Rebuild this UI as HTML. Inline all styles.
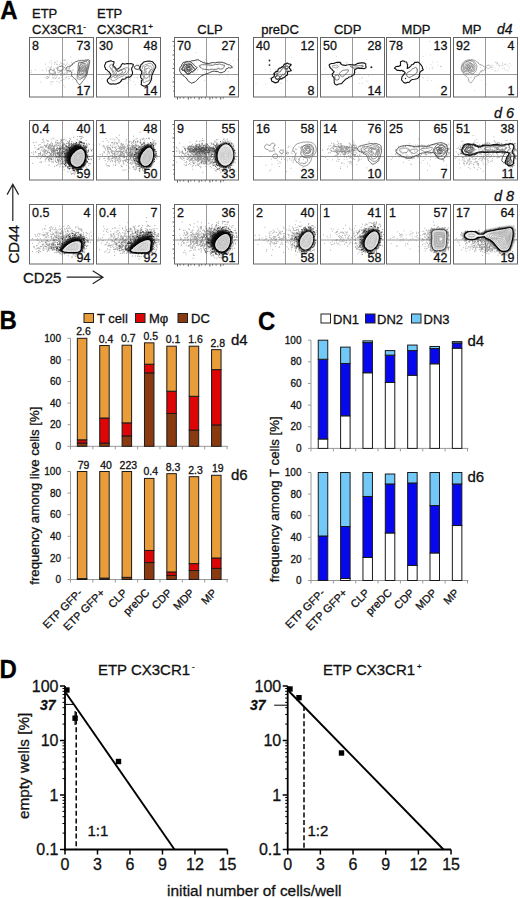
<!DOCTYPE html>
<html><head><meta charset="utf-8"><style>
html,body{margin:0;padding:0;background:#fff;}
svg{display:block;font-family:"Liberation Sans", sans-serif;}
text{stroke:#111;stroke-width:0.3px;}
</style></head><body>
<svg width="520" height="898" viewBox="0 0 520 898">
<defs><filter id="fz" x="-20%" y="-20%" width="140%" height="140%"><feGaussianBlur stdDeviation="0.9"/></filter></defs>
<rect width="520" height="898" fill="#fff"/>
<text transform="translate(0.3,18.8) scale(1,1.04)" font-size="24" font-weight="bold" fill="#000">A</text>
<text x="32" y="18" font-size="13" text-anchor="start" font-weight="normal" font-style="normal" fill="#111" >ETP</text>
<text x="32" y="33.5" font-size="13" text-anchor="start" font-weight="normal" font-style="normal" fill="#111" >CX3CR1<tspan font-size="8" dy="-5">-</tspan></text>
<text x="97" y="18" font-size="13" text-anchor="start" font-weight="normal" font-style="normal" fill="#111" >ETP</text>
<text x="97" y="33.5" font-size="13" text-anchor="start" font-weight="normal" font-style="normal" fill="#111" >CX3CR1<tspan font-size="8" dy="-5">+</tspan></text>
<text x="210" y="34" font-size="13" text-anchor="middle" font-weight="normal" font-style="normal" fill="#111" >CLP</text>
<text x="280" y="34" font-size="13" text-anchor="middle" font-weight="normal" font-style="normal" fill="#111" >preDC</text>
<text x="347.7" y="34" font-size="13" text-anchor="middle" font-weight="normal" font-style="normal" fill="#111" >CDP</text>
<text x="416" y="34" font-size="13" text-anchor="middle" font-weight="normal" font-style="normal" fill="#111" >MDP</text>
<text x="471.7" y="34" font-size="13" text-anchor="middle" font-weight="normal" font-style="normal" fill="#111" >MP</text>
<text x="497" y="34" font-size="14" text-anchor="start" font-weight="normal" font-style="italic" fill="#111" >d4</text>
<text x="494" y="118" font-size="14.5" text-anchor="start" font-weight="normal" font-style="italic" fill="#111" >d 6</text>
<text x="494" y="201" font-size="14.5" text-anchor="start" font-weight="normal" font-style="italic" fill="#111" >d 8</text>
<line x1="62.5" y1="37.5" x2="62.5" y2="97.0" stroke="#9a9a9a" stroke-width="1"/>
<line x1="29.5" y1="74.5" x2="93.5" y2="74.5" stroke="#9a9a9a" stroke-width="1"/>
<g transform="translate(29.5,37.5)">
<path d="M42.9 42.1h0.9M30.7 28.9h0.9M19.1 33.6h0.9M19.8 24.8h0.9M32.0 34.3h0.9M35.5 28.0h0.9M30.1 33.1h0.9M14.9 36.7h0.9M33.2 47.8h0.9M32.0 32.6h0.9M42.3 34.6h0.9M39.1 31.3h0.9M32.2 39.6h0.9M37.0 34.2h0.9M19.2 36.1h0.9M30.8 37.8h0.9M32.2 40.0h0.9M29.5 34.7h0.9M36.7 26.9h0.9M26.0 30.4h0.9M49.8 32.9h0.9M36.5 37.2h0.9M27.2 24.1h0.9M39.6 31.0h0.9M37.2 25.6h0.9M25.6 41.0h0.9M44.3 25.6h0.9M16.7 33.2h0.9M37.3 34.4h0.9M33.0 27.5h0.9M35.9 40.2h0.9M25.6 24.8h0.9M22.4 38.0h0.9M12.7 32.9h0.9M20.1 32.7h0.9M27.6 33.5h0.9M45.0 36.0h0.9M43.3 32.6h0.9M25.2 35.7h0.9M1.6 33.2h0.9M31.6 26.0h0.9M34.6 30.1h0.9M5.4 32.2h0.9M20.2 30.3h0.9M28.5 41.0h0.9M31.0 33.3h0.9M33.9 22.6h0.9M42.4 27.0h0.9M34.4 26.7h0.9M20.2 31.1h0.9M49.0 37.6h0.9M24.0 31.7h0.9M18.5 33.2h0.9M24.3 37.8h0.9M16.4 31.4h0.9M21.6 29.1h0.9M37.1 34.2h0.9M35.9 40.6h0.9M41.5 25.2h0.9M35.4 22.9h0.9M29.4 45.0h0.9M28.1 31.2h0.9M31.7 33.6h0.9M30.3 28.9h0.9M40.8 38.8h0.9M27.9 35.3h0.9M36.6 39.6h0.9M33.9 37.6h0.9M27.4 27.0h0.9M25.0 39.6h0.9M39.8 34.3h0.9M24.3 35.3h0.9M46.6 41.6h0.9M23.2 33.2h0.9M15.5 26.6h0.9M31.9 33.6h0.9M39.6 41.1h0.9M38.3 41.4h0.9M24.5 26.7h0.9M35.0 49.5h0.9M33.6 26.5h0.9M32.4 42.0h0.9M19.7 38.3h0.9M23.9 41.1h0.9M37.9 35.3h0.9M50.0 31.0h0.9M23.1 44.6h0.9M21.2 46.6h0.9M29.6 27.2h0.9M30.0 34.2h0.9M32.0 32.3h0.9M40.8 19.5h0.9M24.5 31.9h0.9M48.2 21.5h0.9M26.6 26.6h0.9M23.4 37.3h0.9M34.1 42.1h0.9M24.0 35.1h0.9M41.7 38.9h0.9M26.6 40.2h0.9M20.8 44.3h0.9M31.5 32.8h0.9M32.7 38.5h0.9M47.4 32.6h0.9M26.3 37.0h0.9M21.3 23.3h0.9M38.4 31.2h0.9M41.3 27.3h0.9M1.0 35.1h0.9M31.5 43.1h0.9M35.3 35.3h0.9M35.9 31.2h0.9M30.8 25.3h0.9M35.2 28.6h0.9M25.5 37.6h0.9M39.2 27.4h0.9M50.0 29.9h0.9M38.4 39.2h0.9M32.2 34.5h0.9M48.0 38.8h0.9M34.5 22.5h0.9M22.5 40.4h0.9M31.9 27.7h0.9M23.6 31.6h0.9M36.9 35.8h0.9M40.0 28.5h0.9M39.9 30.4h0.9M27.0 43.8h0.9M30.7 32.6h0.9M27.9 31.1h0.9M45.6 41.7h0.9M37.2 34.6h0.9M40.4 33.0h0.9M34.5 35.9h0.9M30.9 43.3h0.9M47.6 41.4h0.9M10.9 44.5h0.9M37.0 30.7h0.9M29.8 40.3h0.9M41.7 38.6h0.9M31.4 33.7h0.9M38.3 32.9h0.9M21.0 29.7h0.9M28.6 35.4h0.9M52.6 25.2h0.9M34.8 32.9h0.9M33.0 41.6h0.9M42.4 32.5h0.9M24.4 25.3h0.9M29.3 40.9h0.9M27.3 37.7h0.9M37.1 35.8h0.9M40.8 32.8h0.9M21.7 26.4h0.9M39.3 31.3h0.9M26.9 38.5h0.9M22.1 44.1h0.9M36.7 30.3h0.9M23.7 39.9h0.9M18.2 29.6h0.9" stroke="#999" stroke-width="0.9" opacity="0.7"/>
<path d="M43.0,27.3L43.2,25.8L44.7,25.4L45.9,24.3L47.7,23.9L49.8,23.0L52.0,22.8L54.7,22.9L57.6,22.3L59.3,22.2L59.8,22.6L60.2,23.7L60.0,25.3L59.8,26.6L59.1,28.0L58.7,29.9L58.4,32.3L58.2,33.4L58.0,35.5L57.5,37.1L57.0,38.3L56.1,39.8L55.6,40.7L54.3,42.5L53.1,43.7L52.2,45.2L51.3,46.3L50.4,47.1L50.2,47.0L49.5,47.1L49.1,46.3L47.9,45.1L47.3,43.6L46.6,42.4L45.7,41.5L44.8,40.9L43.7,40.0L43.2,39.4L42.5,38.5L42.2,38.2L42.1,36.6L42.2,35.9L42.0,34.6L41.3,33.8L40.5,33.5L39.4,33.6L38.6,33.1L38.4,32.8L37.3,33.0L36.9,32.4L36.3,31.6L36.3,31.3L36.5,31.0L37.0,30.2L37.7,29.4L39.0,29.2L39.5,29.5L40.5,28.8L41.6,28.3L41.6,27.7Z" fill="none" stroke="#444" stroke-width="0.75" stroke-linejoin="round" opacity="1"/>
<path d="M57.8,33.4L57.1,35.2L56.8,36.7L56.4,38.2L56.0,38.8L55.2,39.5L53.7,39.4L52.3,40.8L51.0,41.8L49.9,42.1L48.6,41.2L47.6,40.4L47.6,39.1L47.6,37.8L48.2,36.5L48.2,34.9L48.4,33.7L48.8,32.0L48.4,30.5L48.6,28.8L48.8,26.7L49.2,25.0L50.1,24.5L51.5,24.7L52.9,24.5L53.3,24.5L54.7,24.0L55.3,24.1L56.4,23.2L58.0,23.0L58.9,23.4L59.4,24.6L59.4,26.7L59.4,28.9L59.2,30.6L58.4,31.9Z" fill="none" stroke="#555" stroke-width="0.6" stroke-linejoin="round" opacity="1"/>
<path d="M57.0,32.2L57.1,34.0L56.9,35.3L56.6,37.2L55.8,38.3L55.1,38.8L54.0,39.7L53.0,40.6L51.9,40.4L51.5,40.6L50.1,40.2L49.2,39.9L48.4,38.6L48.3,37.8L48.5,36.7L48.2,35.0L48.8,33.8L48.8,32.0L49.6,30.3L49.1,28.8L49.1,27.0L49.2,25.8L50.0,25.3L51.8,25.0L53.3,25.0L54.3,24.8L54.9,24.5L55.1,24.0L56.2,24.2L57.2,24.1L57.6,25.1L58.2,26.2L57.9,27.7L58.3,29.3L58.1,30.2L57.5,31.5Z" fill="none" stroke="#555" stroke-width="0.6" stroke-linejoin="round" opacity="1"/>
<path d="M56.8,33.2L56.7,34.9L56.4,35.9L55.8,36.7L55.7,37.5L55.1,38.4L54.0,38.3L53.4,38.4L52.0,38.5L51.8,38.4L51.2,38.0L50.1,38.0L50.2,37.6L49.6,36.5L49.5,35.1L49.7,33.9L49.6,33.1L49.5,31.9L50.0,30.6L50.1,29.6L50.4,28.2L50.6,27.2L51.1,26.8L51.7,25.5L52.4,25.6L53.3,25.6L54.1,25.7L55.4,26.0L55.7,26.3L56.1,26.0L56.3,26.7L57.0,27.3L57.2,28.2L57.6,29.1L57.4,30.4L57.1,31.9Z" fill="none" stroke="#555" stroke-width="0.6" stroke-linejoin="round" opacity="1"/>
<path d="M56.1,33.0L56.2,33.4L56.0,34.4L56.0,34.6L55.3,35.4L54.4,36.1L53.7,36.2L53.4,36.7L52.4,36.8L52.0,36.8L51.5,37.2L51.0,37.2L50.9,36.6L50.5,35.7L49.9,35.3L49.9,33.8L50.2,33.1L49.8,31.6L50.0,30.4L50.1,29.5L50.6,28.3L50.9,27.4L51.2,27.4L52.1,27.1L52.3,26.7L53.0,26.6L53.7,26.4L54.5,26.3L55.3,26.6L55.6,26.9L56.0,27.7L56.1,28.1L56.4,29.3L56.7,30.1L56.7,31.0L56.3,32.1Z" fill="none" stroke="#555" stroke-width="0.6" stroke-linejoin="round" opacity="1"/>
<path d="M55.9,32.3L55.8,33.2L55.5,33.6L55.1,34.3L54.4,34.6L54.1,35.0L53.5,35.6L53.4,35.9L52.4,35.7L52.1,36.0L52.1,35.9L51.9,35.5L51.5,34.9L51.1,34.3L51.0,33.9L50.9,33.1L50.7,32.3L51.0,31.8L51.0,31.2L51.0,30.0L51.4,29.8L52.1,28.9L52.5,28.3L52.9,27.7L53.2,28.0L53.4,27.7L53.6,27.7L54.1,27.9L54.4,27.9L54.8,28.1L55.3,28.1L55.9,28.6L55.9,29.5L56.2,30.2L56.2,30.9L55.8,31.6Z" fill="none" stroke="#555" stroke-width="0.6" stroke-linejoin="round" opacity="1"/>
<path d="M55.0,32.2L55.0,32.7L54.6,33.2L54.6,33.5L54.5,34.0L53.9,34.0L53.8,34.4L53.4,34.3L53.0,34.0L52.5,34.2L51.8,34.4L51.8,34.1L51.8,33.9L51.6,33.4L51.8,32.8L51.4,32.3L51.9,32.1L52.0,31.9L51.9,31.1L51.9,30.5L52.0,30.3L52.1,29.8L52.6,29.6L52.8,29.4L52.8,29.2L53.6,29.1L53.7,28.9L54.0,28.8L54.5,29.1L54.5,28.9L54.9,29.2L55.1,29.2L55.5,30.2L54.9,30.8L55.4,31.1L55.2,31.5Z" fill="none" stroke="#555" stroke-width="0.6" stroke-linejoin="round" opacity="1"/>
<path d="M54.1,32.0L54.5,32.2L54.3,32.5L53.8,32.5L53.8,32.8L53.6,32.8L53.5,33.0L53.5,33.3L53.1,33.2L53.3,32.9L52.7,32.9L52.8,32.9L52.4,32.8L52.4,32.8L52.4,32.3L52.6,32.3L52.5,32.0L52.7,31.4L52.6,31.3L53.0,31.3L53.0,30.9L52.6,30.6L53.0,30.3L53.5,30.1L53.3,30.1L53.3,29.9L53.5,30.0L54.0,30.1L54.0,30.0L53.9,30.1L54.4,30.0L54.5,30.3L54.6,30.7L54.3,30.9L54.6,31.4L54.1,31.8Z" fill="none" stroke="#555" stroke-width="0.6" stroke-linejoin="round" opacity="1"/>
<path d="M34.2,30.7L34.1,31.2L33.6,31.7L33.7,32.3L33.2,32.5L32.6,32.9L31.8,33.2L31.1,33.7L30.6,33.6L29.9,33.1L29.1,33.2L28.9,33.0L28.6,32.3L28.0,32.3L27.6,31.7L27.4,31.2L27.7,31.0L27.7,30.0L28.4,29.6L29.3,29.4L30.2,28.9L31.4,28.8L32.2,28.7L33.7,28.7L33.9,29.3L34.4,29.8L34.4,30.3Z" fill="none" stroke="#555" stroke-width="0.6" stroke-linejoin="round" opacity="1"/>
<path d="M25.9,35.4L25.8,36.0L25.3,36.4L24.3,36.5L24.1,36.7L23.3,36.4L22.2,36.3L21.4,36.1L20.3,35.4L19.9,35.3L20.0,34.2L20.0,33.5L20.1,32.9L20.0,32.7L20.6,31.8L21.6,31.9L21.8,32.2L22.8,32.5L23.3,33.1L24.3,33.4L25.0,33.2L25.2,33.4L25.4,33.8L25.7,34.7Z" fill="none" stroke="#555" stroke-width="0.6" stroke-linejoin="round" opacity="1"/>
<path d="M19.3,40.1L18.9,40.5L18.3,41.0L17.8,41.1L17.2,41.0L16.8,40.6L16.8,40.0L16.9,39.7L17.2,39.3L18.0,39.0L18.6,39.2L19.0,39.4Z" fill="none" stroke="#666" stroke-width="0.5" stroke-linejoin="round" opacity="1"/>
<path d="M33.3,36.3L33.2,36.6L32.8,37.1L32.1,37.3L31.5,37.3L31.3,36.8L31.4,36.5L31.3,35.8L31.8,35.7L32.3,35.4L33.0,35.4L33.3,35.9Z" fill="none" stroke="#666" stroke-width="0.5" stroke-linejoin="round" opacity="1"/>
</g>
<rect x="29.5" y="37.5" width="64" height="59.5" fill="none" stroke="#666" stroke-width="1"/>
<text x="32.0" y="49.5" font-size="12.5" text-anchor="start" font-weight="normal" font-style="normal" fill="#111" >8</text>
<text x="90.5" y="49.5" font-size="12.5" text-anchor="end" font-weight="normal" font-style="normal" fill="#111" >73</text>
<text x="90.5" y="95.2" font-size="12.5" text-anchor="end" font-weight="normal" font-style="normal" fill="#111" >17</text>
<line x1="128.5" y1="37.5" x2="128.5" y2="97.0" stroke="#9a9a9a" stroke-width="1"/>
<line x1="96.5" y1="74.5" x2="160.5" y2="74.5" stroke="#9a9a9a" stroke-width="1"/>
<g transform="translate(96.5,37.5)">
<path d="M12.9 39.1h0.9M43.9 32.9h0.9M11.4 36.0h0.9M36.7 44.1h0.9M13.0 27.4h0.9M39.9 39.8h0.9M51.5 43.3h0.9M28.6 34.5h0.9M19.0 28.5h0.9M31.3 37.5h0.9M25.2 36.0h0.9M33.8 41.3h0.9M45.4 37.9h0.9M4.9 41.4h0.9M10.1 35.3h0.9M9.4 36.5h0.9M19.1 37.9h0.9M41.8 27.2h0.9M26.0 41.1h0.9M28.7 39.0h0.9M31.4 29.4h0.9M37.9 30.8h0.9M56.2 32.9h0.9M39.6 36.5h0.9M43.3 32.2h0.9M44.0 35.6h0.9M47.7 40.8h0.9M32.0 31.0h0.9M40.7 39.7h0.9M53.0 33.8h0.9M37.8 40.0h0.9M34.0 37.9h0.9M32.5 32.3h0.9M15.8 33.7h0.9M38.3 47.0h0.9M43.7 43.8h0.9M40.9 41.3h0.9M32.6 41.9h0.9M54.8 34.2h0.9M20.3 50.2h0.9M33.4 43.2h0.9M42.2 28.5h0.9M32.5 41.7h0.9M31.8 30.3h0.9M28.4 39.1h0.9M45.6 41.4h0.9M30.8 45.9h0.9" stroke="#aaa" stroke-width="0.9" opacity="0.6"/>
<path d="M8.7,26.8L9.2,25.6L9.2,25.0L10.2,24.6L11.8,23.9L13.1,23.6L14.2,23.3L15.6,23.7L16.8,24.0L17.6,24.5L17.5,25.3L17.2,26.2L16.4,28.2L17.8,29.1L19.7,31.4L20.5,31.8L21.8,31.3L23.4,29.9L24.5,28.6L24.5,28.4L24.9,27.2L25.5,26.7L26.2,26.0L27.7,26.6L29.3,26.3L30.7,26.0L33.1,26.2L34.4,26.0L35.8,26.6L36.9,27.1L36.6,28.2L36.5,28.9L35.5,30.0L35.1,31.5L35.2,32.5L35.8,33.7L36.0,34.6L36.0,36.3L35.2,37.7L34.5,38.6L33.4,39.6L31.9,39.6L30.3,39.7L29.6,39.9L29.2,41.3L27.9,41.5L27.5,41.8L26.1,41.6L25.0,42.4L25.2,43.4L24.4,43.4L23.6,44.8L22.8,45.4L21.0,45.9L19.7,46.4L17.9,46.8L16.8,46.2L14.8,46.6L13.5,46.4L12.5,45.9L11.8,45.0L10.9,44.2L11.0,43.5L10.7,42.6L11.8,41.0L13.0,40.4L13.9,38.9L14.4,38.0L14.0,36.4L13.4,35.7L12.7,34.5L11.3,33.3L10.6,32.6L9.1,31.7L9.0,30.8L8.4,29.9L8.1,28.8L8.2,27.3Z" fill="none" stroke="#111" stroke-width="1.1" stroke-linejoin="round" opacity="1"/>
<path d="M13.0,28.7L13.8,27.6L14.9,26.9L15.7,26.5L16.0,26.7L16.1,28.2L17.0,29.5L17.9,30.8L19.6,32.6L21.6,33.7L23.4,32.9L26.0,31.9L27.4,30.9L29.4,30.2L31.2,30.4L31.9,30.7L32.3,32.1L32.2,33.1L31.0,34.8L30.0,36.3L28.6,37.0L26.8,38.4L25.0,39.1L23.2,39.9L21.6,40.8L19.6,42.1L18.0,43.2L16.8,43.4L15.5,43.0L14.9,42.5L14.3,41.4L15.6,39.4L16.7,37.8L16.9,36.4L15.8,33.6L14.2,31.1Z" fill="none" stroke="#555" stroke-width="0.6" stroke-linejoin="round" opacity="1"/>
<path d="M15.2,31.3L15.8,30.4L17.0,29.4L18.1,29.0L18.7,29.7L19.1,31.2L19.7,32.0L20.3,32.4L20.7,33.7L21.8,33.7L22.5,33.2L23.9,32.2L25.5,31.9L26.5,31.3L27.7,31.3L28.5,31.5L29.1,32.5L29.5,33.1L28.6,34.8L27.5,35.3L26.6,36.4L25.0,37.3L24.2,37.3L23.1,38.0L21.9,38.6L21.0,39.4L19.7,39.8L18.9,40.2L18.4,40.3L17.4,39.5L17.3,38.9L17.7,38.2L18.5,37.5L18.7,36.5L17.7,34.9L16.3,32.6Z" fill="none" stroke="#555" stroke-width="0.6" stroke-linejoin="round" opacity="1"/>
<path d="M18.8,32.7L18.8,32.4L19.3,32.0L19.4,32.0L19.9,32.1L19.7,32.5L20.7,33.1L20.7,33.6L21.0,33.8L22.0,34.1L22.4,34.3L23.3,33.5L23.7,33.3L24.8,33.0L25.9,33.2L26.1,33.5L26.0,34.1L26.0,34.5L25.5,35.5L25.2,35.2L24.9,35.7L23.9,36.1L23.1,36.5L22.6,36.7L21.8,36.9L21.4,37.8L20.4,38.1L20.4,38.7L19.9,38.5L19.3,38.1L19.1,37.3L19.3,37.1L19.5,36.3L20.0,36.0L19.7,34.6L18.8,33.4Z" fill="none" stroke="#555" stroke-width="0.6" stroke-linejoin="round" opacity="1"/>
<path d="M44.8,26.8L46.0,26.2L46.8,24.8L48.2,24.2L50.5,23.7L52.5,23.5L54.1,23.7L56.0,24.2L56.4,24.6L57.4,25.9L58.6,27.0L59.1,28.3L59.3,29.8L58.2,31.5L57.4,33.2L56.7,34.7L55.9,36.7L55.2,38.4L55.1,40.8L54.7,42.6L53.8,44.5L52.8,45.9L52.2,46.6L51.0,47.6L50.0,48.1L49.1,48.4L47.6,48.7L46.6,48.4L45.6,47.8L44.6,47.0L44.9,45.7L44.9,45.0L44.9,43.2L45.8,42.6L45.2,40.9L44.2,40.3L44.2,39.0L44.1,37.8L45.1,36.3L45.3,35.2L45.1,33.7L43.7,32.5L43.4,31.4L43.4,30.5L43.9,29.2L44.2,28.6L44.3,27.6L44.3,27.4Z" fill="none" stroke="#111" stroke-width="1.1" stroke-linejoin="round" opacity="1"/>
<path d="M46.3,28.4L47.3,28.3L48.4,27.2L49.3,26.9L51.1,26.6L52.0,26.1L52.9,25.9L54.2,25.7L54.8,26.4L56.0,27.0L56.1,28.1L57.4,28.7L57.5,30.3L56.9,31.3L56.2,32.6L55.4,34.2L55.0,35.8L53.9,37.3L53.4,38.4L53.3,39.8L53.5,41.3L53.1,43.0L52.2,43.1L51.2,43.7L49.6,43.9L48.8,44.6L48.4,44.8L47.5,45.0L47.1,45.0L46.6,43.7L46.6,43.0L46.9,42.2L47.1,41.2L47.3,40.4L47.1,39.7L46.7,38.3L46.5,37.6L46.5,36.5L46.8,35.6L46.4,34.8L46.1,33.9L45.5,32.8L45.1,31.8L45.8,30.9L45.9,30.3L46.1,29.3L46.1,29.4L46.4,28.9Z" fill="none" stroke="#555" stroke-width="0.6" stroke-linejoin="round" opacity="1"/>
<path d="M48.0,30.0L48.2,29.1L49.0,29.0L49.7,28.4L50.6,28.1L52.3,28.5L53.3,28.6L54.0,28.6L54.4,28.8L54.8,29.4L55.4,30.2L55.5,31.0L55.4,31.2L55.1,32.3L54.2,32.9L53.5,33.8L53.2,35.1L53.2,35.9L53.4,36.6L52.6,37.3L52.8,38.6L51.9,39.7L51.4,40.2L50.8,40.2L50.5,40.8L50.1,40.7L49.9,40.9L49.5,40.9L48.3,40.2L48.0,39.9L47.9,39.1L48.1,39.0L48.2,37.9L48.5,37.6L48.3,36.7L47.9,36.1L47.4,35.5L47.4,35.5L48.3,34.4L48.3,33.7L48.0,33.3L47.7,32.3L47.9,32.3L47.7,31.6L48.2,31.6L48.3,31.0L48.5,30.9L48.3,30.3Z" fill="none" stroke="#555" stroke-width="0.6" stroke-linejoin="round" opacity="1"/>
<path d="M49.4,31.0L50.1,31.2L50.2,31.1L51.1,31.0L51.0,30.9L51.7,30.5L52.1,30.3L52.6,30.6L53.1,31.0L53.4,31.4L53.5,31.5L53.9,31.9L54.0,32.1L53.9,32.9L52.9,33.4L52.8,33.8L52.8,34.3L52.6,35.0L52.1,34.9L52.0,35.7L51.7,36.1L51.8,37.1L51.8,37.1L51.7,37.3L51.2,37.0L50.7,37.4L50.1,37.4L50.1,37.1L49.7,37.4L49.6,37.0L49.3,36.4L49.8,36.5L49.5,36.1L50.0,35.9L49.8,35.5L49.3,35.0L49.1,34.6L49.6,34.4L49.8,34.0L49.4,33.9L49.4,33.4L48.9,32.8L49.0,32.7L49.2,32.2L49.4,32.0L49.6,31.6L49.6,31.8L49.2,31.4Z" fill="none" stroke="#555" stroke-width="0.6" stroke-linejoin="round" opacity="1"/>
<path d="M43.1,30.0L43.3,30.7L42.8,30.8L42.7,31.4L41.9,31.7L41.3,32.0L40.5,31.7L40.3,31.7L39.3,31.8L38.9,31.1L38.5,31.0L38.0,30.5L37.9,29.8L38.0,29.2L38.8,28.8L39.2,28.4L39.5,28.4L40.2,27.7L40.8,28.0L41.2,27.7L42.2,28.2L42.4,28.5L42.8,29.1L43.2,29.2Z" fill="none" stroke="#222" stroke-width="0.9" stroke-linejoin="round" opacity="1"/>
</g>
<rect x="96.5" y="37.5" width="64" height="59.5" fill="none" stroke="#666" stroke-width="1"/>
<text x="99.0" y="49.5" font-size="12.5" text-anchor="start" font-weight="normal" font-style="normal" fill="#111" >30</text>
<text x="157.5" y="49.5" font-size="12.5" text-anchor="end" font-weight="normal" font-style="normal" fill="#111" >48</text>
<text x="157.5" y="95.2" font-size="12.5" text-anchor="end" font-weight="normal" font-style="normal" fill="#111" >14</text>
<line x1="206.5" y1="37.5" x2="206.5" y2="97.0" stroke="#9a9a9a" stroke-width="1"/>
<line x1="174.5" y1="74.5" x2="238.5" y2="74.5" stroke="#9a9a9a" stroke-width="1"/>
<g transform="translate(174.5,37.5)">
<path d="M3.0,59.5v2.5 M5.6,59.5v1.5 M9.2,59.5v1.5 M13.8,59.5v2.5 M16.4,59.5v1.5 M20.0,59.5v1.5 M24.6,59.5v2.5 M27.2,59.5v1.5 M30.8,59.5v1.5 M35.4,59.5v2.5 M38.0,59.5v1.5 M41.6,59.5v1.5 M46.2,59.5v2.5 M48.8,59.5v1.5 M0,4.0h-2 M0,8.5h-1.2 M0,13.0h-1.2 M0,17.5h-2 M0,22.0h-1.2 M0,26.5h-1.2 M0,31.0h-2 M0,35.5h-1.2 M0,40.0h-1.2 M0,44.5h-2 M0,49.0h-1.2 M0,53.5h-1.2" stroke="#333" stroke-width="0.8"/>
<path d="M40.9 37.0h0.9M19.4 26.2h0.9M35.3 39.1h0.9M36.0 24.8h0.9M19.7 30.3h0.9M43.5 30.5h0.9M25.4 29.5h0.9M32.8 27.0h0.9M30.4 31.9h0.9M52.9 30.3h0.9M43.7 25.6h0.9M42.2 31.4h0.9M23.1 30.5h0.9M42.8 29.0h0.9M44.5 38.1h0.9M52.7 38.6h0.9M13.0 32.3h0.9M21.1 35.3h0.9M31.5 31.7h0.9M36.8 27.7h0.9M31.8 27.1h0.9M59.1 28.4h0.9M30.7 22.0h0.9M10.2 26.5h0.9M41.4 34.4h0.9M34.4 27.5h0.9M55.9 25.6h0.9M18.7 33.0h0.9M16.8 31.9h0.9M43.8 30.3h0.9M36.1 30.8h0.9M21.2 15.1h0.9M13.7 30.6h0.9M7.9 27.9h0.9M33.4 37.2h0.9M11.7 28.0h0.9M33.6 33.2h0.9M11.5 39.8h0.9M19.2 36.0h0.9M27.7 32.6h0.9M53.5 34.1h0.9M32.3 25.7h0.9M21.5 23.6h0.9M58.4 23.0h0.9M48.2 28.8h0.9M42.1 26.6h0.9M22.5 33.1h0.9M35.9 28.4h0.9M53.0 34.3h0.9M32.4 24.8h0.9M32.4 29.1h0.9M29.4 34.6h0.9M22.5 31.9h0.9M41.5 32.4h0.9M62.3 22.0h0.9M29.6 24.7h0.9M29.5 43.1h0.9M7.7 29.2h0.9M39.5 31.1h0.9" stroke="#aaa" stroke-width="0.9" opacity="0.6"/>
<path d="M6.8,29.0L7.3,27.2L7.7,26.4L8.4,25.2L9.3,24.9L10.6,24.5L11.9,23.9L13.9,23.9L15.5,24.0L17.2,23.3L19.4,23.2L21.3,22.6L23.3,22.2L24.5,22.6L25.5,23.6L26.7,23.9L28.6,25.1L30.6,25.6L32.6,25.9L34.0,26.0L36.2,25.6L37.3,25.2L38.9,25.1L41.0,25.3L42.5,24.8L44.2,24.7L46.3,24.8L47.5,24.6L49.3,25.4L50.5,25.5L51.5,26.4L52.9,26.8L53.9,27.3L55.0,27.3L56.1,28.2L57.5,29.0L58.1,29.6L57.7,30.2L57.1,30.2L56.3,30.5L54.8,30.3L53.8,30.2L53.1,30.9L51.8,31.2L51.2,32.5L50.3,34.0L49.0,34.4L48.2,34.8L46.4,35.3L45.1,35.0L43.3,34.1L41.5,34.0L39.7,33.6L37.8,34.0L36.5,34.4L35.0,35.2L33.4,35.8L32.4,36.3L31.5,36.6L30.3,36.8L28.7,37.6L27.2,38.3L26.1,39.1L25.1,39.8L23.5,41.5L22.1,43.0L20.9,44.0L19.6,44.8L18.4,45.2L17.4,45.8L16.5,45.5L15.7,44.8L14.6,44.2L13.2,43.0L12.5,41.4L11.1,40.2L9.6,38.7L8.1,37.5L7.0,36.6L6.1,35.0L5.5,34.0L5.2,32.5L5.2,31.1L5.6,29.7Z" fill="none" stroke="#222" stroke-width="0.85" stroke-linejoin="round" opacity="1"/>
<path d="M25.0,28.2L25.7,27.8L27.6,27.2L29.7,27.2L32.2,27.3L35.5,27.6L38.0,27.8L40.8,26.9L42.9,27.0L45.2,26.5L46.9,27.1L48.6,27.5L50.2,27.8L49.9,28.8L49.3,30.0L48.3,31.3L46.2,31.6L43.9,31.1L42.1,31.7L40.0,32.0L37.6,31.7L35.2,32.3L32.2,32.0L29.8,31.7L28.0,31.6L26.7,30.2L25.2,29.4Z" fill="none" stroke="#444" stroke-width="0.7" stroke-linejoin="round" opacity="1"/>
<path d="M22.6,30.2L21.4,31.6L20.0,33.3L18.9,34.3L18.2,34.7L17.2,34.4L16.6,34.7L15.7,35.5L15.1,36.2L14.2,36.5L13.5,36.8L12.5,35.6L11.3,35.1L10.4,34.4L10.0,33.8L9.0,33.0L8.0,33.0L7.6,32.3L6.9,31.8L7.2,30.9L7.9,30.1L8.6,29.2L8.9,27.7L9.8,26.1L10.8,25.1L11.8,25.3L13.1,25.6L14.8,25.7L15.4,25.9L16.4,25.1L17.6,25.3L18.3,26.3L19.4,27.1L20.4,28.4L21.3,29.2L22.3,29.7Z" fill="none" stroke="#222" stroke-width="0.8" stroke-linejoin="round" opacity="1"/>
<path d="M20.4,31.1L20.2,32.2L19.6,32.7L18.9,33.1L18.5,33.3L17.8,34.1L16.6,34.3L15.8,35.4L14.9,35.7L13.6,36.6L12.6,36.3L11.9,35.6L11.3,34.6L11.1,34.5L10.8,33.9L10.5,33.2L9.2,32.5L8.3,32.4L7.7,31.2L8.4,30.7L9.0,29.3L9.5,28.5L10.1,28.0L9.8,27.3L10.1,27.3L11.4,26.8L12.5,27.2L13.4,27.5L14.3,27.4L16.1,26.8L17.2,27.0L17.3,27.3L17.7,28.6L18.4,29.0L18.9,30.0L19.9,30.6Z" fill="none" stroke="#222" stroke-width="0.8" stroke-linejoin="round" opacity="1"/>
<path d="M19.0,30.6L18.4,31.1L17.6,32.2L17.1,32.3L16.3,33.2L15.9,33.3L15.6,33.5L15.0,33.9L14.6,34.3L14.3,34.7L13.2,34.1L12.6,33.9L12.4,33.6L11.3,33.3L10.7,33.4L10.5,33.1L10.0,32.6L9.8,31.4L9.9,31.0L10.0,30.5L10.1,30.4L10.5,29.7L10.8,29.2L11.4,28.3L12.4,28.2L12.9,27.7L13.5,27.6L13.6,27.4L15.0,27.7L16.0,27.4L16.4,27.6L17.0,28.0L17.0,28.5L17.5,29.0L17.8,29.6L18.4,30.1Z" fill="none" stroke="#222" stroke-width="0.8" stroke-linejoin="round" opacity="1"/>
<path d="M16.8,30.9L16.7,31.2L16.4,31.5L16.2,31.7L15.9,32.3L15.6,32.9L15.4,33.2L14.7,33.0L14.4,33.2L13.8,33.3L13.8,33.3L13.2,32.9L13.0,32.5L12.3,32.2L12.2,32.2L11.9,32.2L11.2,31.8L11.5,31.6L11.3,31.1L11.7,30.6L11.5,30.1L12.1,29.9L12.1,29.8L12.2,29.5L12.2,29.1L12.9,28.7L13.5,29.1L14.6,29.1L15.1,28.8L15.0,28.9L15.4,29.0L15.7,29.4L16.0,29.2L16.5,29.6L16.4,30.3L16.9,30.5Z" fill="none" stroke="#222" stroke-width="0.8" stroke-linejoin="round" opacity="1"/>
<path d="M15.5,30.9L15.5,31.4L15.3,31.5L15.5,31.8L14.7,31.7L14.8,31.6L14.7,31.9L14.3,32.0L14.1,32.1L14.2,32.4L13.9,32.5L13.4,32.2L13.3,32.2L12.7,32.1L13.1,31.4L12.7,31.2L12.8,31.3L12.4,31.3L12.5,31.4L12.2,30.9L12.7,30.7L12.8,30.5L12.7,30.2L12.8,29.7L13.1,29.9L13.7,29.7L13.7,30.0L14.3,30.0L14.1,29.8L14.6,29.5L14.6,30.0L14.9,29.9L15.3,29.9L15.3,30.1L15.6,30.7L15.8,30.8Z" fill="none" stroke="#222" stroke-width="0.8" stroke-linejoin="round" opacity="1"/>
</g>
<rect x="174.5" y="37.5" width="64" height="59.5" fill="none" stroke="#666" stroke-width="1"/>
<text x="177.0" y="49.5" font-size="12.5" text-anchor="start" font-weight="normal" font-style="normal" fill="#111" >70</text>
<text x="235.5" y="49.5" font-size="12.5" text-anchor="end" font-weight="normal" font-style="normal" fill="#111" >27</text>
<text x="235.5" y="95.2" font-size="12.5" text-anchor="end" font-weight="normal" font-style="normal" fill="#111" >2</text>
<line x1="285.5" y1="37.5" x2="285.5" y2="97.0" stroke="#9a9a9a" stroke-width="1"/>
<line x1="253.5" y1="74.5" x2="317.5" y2="74.5" stroke="#9a9a9a" stroke-width="1"/>
<g transform="translate(253.5,37.5)">
<path d="M28.9 35.7h0.9M15.5 41.1h0.9M27.5 37.7h0.9M26.5 45.5h0.9M32.9 43.3h0.9M22.7 32.7h0.9M16.5 34.0h0.9M2.1 45.9h0.9M26.4 36.1h0.9M32.6 33.2h0.9M27.3 40.5h0.9M11.8 46.7h0.9M26.4 39.5h0.9M16.3 31.6h0.9M39.6 32.2h0.9M21.7 38.6h0.9M37.4 20.0h0.9M37.8 37.3h0.9M32.9 29.0h0.9M27.8 45.9h0.9M24.3 31.5h0.9M21.4 32.2h0.9M32.0 36.8h0.9M20.9 40.7h0.9M15.8 26.4h0.9" stroke="#aaa" stroke-width="0.9" opacity="0.6"/>
<path d="M18.6,43.7L18.2,43.5L18.0,42.3L17.6,41.0L19.1,40.0L20.5,39.3L20.9,37.6L21.2,36.8L20.1,36.4L20.8,35.8L21.8,34.7L22.4,34.2L24.4,33.7L24.4,32.6L24.9,31.6L25.9,30.7L26.8,30.7L27.7,29.9L29.2,29.1L29.9,28.4L30.7,27.0L31.3,26.3L32.5,26.5L33.8,25.6L35.0,26.3L36.0,26.5L36.6,26.5L37.6,27.1L37.0,28.1L36.2,28.7L35.6,30.4L36.6,31.4L37.3,32.5L37.8,33.1L36.6,33.5L34.9,33.8L34.2,34.2L34.0,35.6L33.9,37.2L33.6,37.7L32.3,38.3L30.8,39.8L30.1,40.4L29.2,40.3L28.4,41.3L27.0,41.1L26.0,42.0L25.2,42.8L24.7,44.4L23.3,44.9L22.6,45.2L21.9,45.4L20.9,44.9L20.1,44.4Z" fill="none" stroke="#111" stroke-width="1.2" stroke-linejoin="round" opacity="1"/>
<path d="M22.1,40.6L21.8,40.0L21.6,39.4L21.8,39.7L22.2,39.0L23.3,38.1L23.5,37.4L23.6,36.3L23.5,36.5L23.2,35.5L24.0,35.7L24.9,35.5L26.3,34.5L26.4,34.0L27.0,34.1L27.3,33.3L27.6,32.4L28.5,32.1L28.9,31.1L29.0,30.4L29.6,29.8L30.1,29.8L31.1,29.8L31.2,30.0L32.1,30.5L32.7,30.9L33.2,31.3L33.9,30.9L34.1,31.2L34.0,31.9L33.7,31.8L32.9,32.2L33.6,33.1L33.5,33.6L33.1,34.2L32.4,34.0L32.6,34.6L31.9,35.4L30.9,36.1L31.1,36.7L30.0,37.5L29.0,37.1L28.3,37.8L28.3,38.6L27.2,38.8L27.3,38.6L26.6,39.8L26.1,40.7L25.2,41.4L25.0,41.3L23.9,41.5L23.7,42.1L23.4,42.2L22.7,40.8Z" fill="none" stroke="#333" stroke-width="0.7" stroke-linejoin="round" opacity="1"/>
<path d="M25.9,39.0L26.2,39.2L26.1,40.0L26.2,40.0L25.7,40.7L25.2,41.3L24.8,41.4L24.6,41.7L23.6,41.6L23.2,41.5L22.8,41.8L22.3,41.6L22.4,41.1L22.1,40.5L21.7,40.5L22.0,39.6L22.6,39.5L22.5,38.8L23.0,38.5L23.4,38.4L24.2,38.2L24.6,38.0L25.0,38.6L25.8,38.6Z" fill="none" stroke="#222" stroke-width="0.8" stroke-linejoin="round" opacity="1"/>
<path d="M34.6,29.3L34.8,29.9L34.8,30.0L34.6,30.4L33.9,30.6L33.5,31.0L32.9,31.5L32.6,31.7L31.7,31.3L31.3,31.6L31.2,31.5L30.9,31.1L30.5,30.6L30.3,30.2L30.5,30.0L30.7,29.5L31.0,29.0L31.7,28.9L32.1,28.8L32.4,28.2L33.0,28.7L33.8,28.4L34.2,28.6L34.6,28.7Z" fill="none" stroke="#222" stroke-width="0.8" stroke-linejoin="round" opacity="1"/>
<circle cx="16" cy="23" r="0.9" fill="#222"/><circle cx="16" cy="27.6" r="0.9" fill="#222"/>
</g>
<rect x="253.5" y="37.5" width="64" height="59.5" fill="none" stroke="#666" stroke-width="1"/>
<text x="256.0" y="49.5" font-size="12.5" text-anchor="start" font-weight="normal" font-style="normal" fill="#111" >40</text>
<text x="314.5" y="49.5" font-size="12.5" text-anchor="end" font-weight="normal" font-style="normal" fill="#111" >12</text>
<text x="314.5" y="95.2" font-size="12.5" text-anchor="end" font-weight="normal" font-style="normal" fill="#111" >8</text>
<line x1="352.5" y1="37.5" x2="352.5" y2="97.0" stroke="#9a9a9a" stroke-width="1"/>
<line x1="320.5" y1="74.5" x2="384.5" y2="74.5" stroke="#9a9a9a" stroke-width="1"/>
<g transform="translate(320.5,37.5)">
<path d="M21.6 37.4h0.9M41.4 45.9h0.9M11.8 30.1h0.9M16.8 32.5h0.9M26.2 26.6h0.9M31.4 25.8h0.9M34.9 29.0h0.9M31.8 37.3h0.9M26.8 30.9h0.9M18.6 27.5h0.9M47.6 38.3h0.9M51.6 36.9h0.9M32.5 30.9h0.9M25.1 24.8h0.9M40.6 40.8h0.9M46.9 43.8h0.9M15.4 18.9h0.9M37.9 36.2h0.9M16.0 28.8h0.9M38.4 45.9h0.9M33.8 30.3h0.9M38.8 41.5h0.9M13.2 39.3h0.9M16.0 34.7h0.9M34.4 34.9h0.9M9.3 37.0h0.9M10.3 38.9h0.9M4.0 31.4h0.9M22.1 30.1h0.9M30.8 36.1h0.9M51.2 37.4h0.9M42.1 27.4h0.9M41.6 40.0h0.9M45.5 43.5h0.9M16.8 26.2h0.9M18.3 30.5h0.9M45.8 22.0h0.9M28.7 40.9h0.9M26.1 25.4h0.9M16.9 37.9h0.9" stroke="#aaa" stroke-width="0.9" opacity="0.6"/>
<path d="M9.8,26.4L10.9,26.0L13.1,26.0L15.0,25.2L16.5,24.8L18.2,24.9L19.4,24.7L20.3,25.4L19.9,26.2L20.6,26.4L21.9,27.5L23.1,27.6L25.3,28.0L26.0,27.5L28.1,27.3L29.5,27.0L30.8,27.3L32.3,27.3L34.1,27.5L35.4,27.1L36.4,26.2L37.4,25.9L38.9,25.6L40.7,25.4L42.7,25.4L43.6,25.3L44.4,26.0L45.3,26.2L45.2,27.4L45.3,28.7L45.6,30.1L44.5,30.8L43.5,31.3L41.8,30.8L40.4,30.9L38.8,31.0L37.9,30.5L36.5,30.9L35.6,31.6L34.2,32.3L34.1,33.5L34.1,35.4L33.7,36.1L33.5,37.3L31.9,37.7L30.9,38.9L30.2,39.2L28.3,39.5L27.8,40.1L26.7,41.1L24.8,41.8L24.3,42.6L23.0,43.8L22.0,44.8L21.1,46.2L19.8,46.3L17.6,46.7L16.3,47.4L14.7,46.9L14.1,45.8L13.7,45.2L13.8,44.1L13.6,42.6L13.7,41.7L13.6,40.4L12.1,38.5L11.9,38.0L11.7,36.5L12.6,35.6L13.7,34.1L13.2,33.6L12.2,33.0L11.5,31.7L10.7,31.2L9.4,30.0L9.4,29.4L8.8,28.4L8.7,27.3Z" fill="none" stroke="#111" stroke-width="1.1" stroke-linejoin="round" opacity="1"/>
<path d="M11.7,28.6L12.7,28.0L14.7,27.8L16.0,27.5L16.7,27.8L17.7,28.6L18.0,29.2L17.3,29.4L16.4,30.5L14.9,30.3L13.7,30.1L12.6,29.3Z" fill="none" stroke="#666" stroke-width="0.6" stroke-linejoin="round" opacity="1"/>
<path d="M18.9,36.0L20.0,34.7L21.2,33.5L22.8,32.7L24.6,32.5L27.1,32.4L27.9,32.4L28.0,33.3L26.8,34.9L26.1,35.8L24.5,37.0L23.6,38.2L22.1,39.3L20.4,38.4L19.4,37.5Z" fill="none" stroke="#444" stroke-width="0.7" stroke-linejoin="round" opacity="1"/>
<path d="M29.9,29.0L30.7,28.7L32.7,28.3L34.9,28.3L36.6,28.4L38.2,28.2L39.8,28.2L41.5,27.9L42.7,28.4L42.7,28.4L42.7,29.2L41.2,29.4L40.2,30.3L37.9,30.1L36.1,30.4L33.9,30.7L32.3,30.2L30.8,29.6Z" fill="none" stroke="#444" stroke-width="0.7" stroke-linejoin="round" opacity="1"/>
<path d="M18.9,39.9L18.7,40.9L18.2,41.3L18.1,42.1L17.3,42.0L16.9,42.7L16.7,42.4L16.2,42.5L15.7,42.5L14.7,42.1L14.6,41.1L14.4,40.4L14.4,40.0L14.2,39.2L14.6,38.9L14.8,37.9L15.3,37.5L15.8,37.7L16.3,37.3L17.2,37.3L17.4,37.6L18.1,38.3L18.5,38.4L18.5,39.1Z" fill="none" stroke="#333" stroke-width="0.7" stroke-linejoin="round" opacity="1"/>
<circle cx="50.9" cy="29.7" r="1" fill="#222"/>
</g>
<rect x="320.5" y="37.5" width="64" height="59.5" fill="none" stroke="#666" stroke-width="1"/>
<text x="323.0" y="49.5" font-size="12.5" text-anchor="start" font-weight="normal" font-style="normal" fill="#111" >50</text>
<text x="381.5" y="49.5" font-size="12.5" text-anchor="end" font-weight="normal" font-style="normal" fill="#111" >28</text>
<text x="381.5" y="95.2" font-size="12.5" text-anchor="end" font-weight="normal" font-style="normal" fill="#111" >14</text>
<line x1="419.5" y1="37.5" x2="419.5" y2="97.0" stroke="#9a9a9a" stroke-width="1"/>
<line x1="386.5" y1="74.5" x2="450.5" y2="74.5" stroke="#9a9a9a" stroke-width="1"/>
<g transform="translate(386.5,37.5)">
<path d="M35.5 39.9h0.9M44.8 43.1h0.9M36.5 40.5h0.9M44.0 26.9h0.9M50.9 27.8h0.9M21.6 27.1h0.9M26.9 26.6h0.9M45.2 30.3h0.9M54.5 28.9h0.9M42.6 31.5h0.9M16.8 32.5h0.9M41.1 40.4h0.9M23.2 40.9h0.9M50.2 24.4h0.9M40.9 43.1h0.9M17.4 36.2h0.9M13.6 33.7h0.9M53.6 29.2h0.9M43.5 17.3h0.9M29.8 27.7h0.9M46.1 29.7h0.9M45.6 31.3h0.9M29.2 33.2h0.9M39.7 29.5h0.9M45.4 24.7h0.9M39.1 37.2h0.9M30.2 31.7h0.9M36.2 18.9h0.9M53.7 28.8h0.9M42.6 3.9h0.9" stroke="#aaa" stroke-width="0.9" opacity="0.6"/>
<path d="M13.9,24.5L14.2,24.3L15.3,23.7L16.3,23.3L17.7,23.7L18.4,24.2L19.9,24.5L20.4,25.2L20.6,26.2L20.9,27.2L21.1,28.5L20.7,30.2L20.7,31.0L21.3,30.7L22.7,30.0L23.3,29.3L24.5,28.3L24.9,27.4L26.3,27.0L27.5,26.0L28.3,24.9L30.1,24.9L31.1,24.5L31.8,24.7L32.8,25.6L33.9,26.6L34.9,28.0L35.9,29.5L35.9,30.8L36.7,31.9L36.3,32.9L35.9,32.8L34.8,33.5L34.0,34.1L33.5,35.0L33.0,36.4L32.8,37.8L33.2,38.6L32.3,39.5L31.9,40.4L30.4,41.3L28.1,41.7L25.8,42.0L24.3,42.9L23.7,43.6L22.5,45.0L20.9,44.8L19.5,45.6L18.2,45.4L17.1,44.8L16.4,44.0L15.2,42.6L15.1,41.7L15.4,39.8L15.9,38.5L16.7,37.9L17.8,36.4L18.8,35.5L18.3,34.8L17.2,33.9L16.1,33.4L15.0,32.8L13.6,33.2L12.5,32.8L11.0,33.0L9.5,32.0L9.3,31.3L8.1,31.0L8.0,30.4L8.7,29.9L9.2,29.3L10.8,28.8L12.4,29.0L12.7,28.3L14.0,28.1L13.9,27.4L14.1,26.6L14.0,26.0Z" fill="none" stroke="#111" stroke-width="1.1" stroke-linejoin="round" opacity="1"/>
<path d="M20.1,36.3L20.8,35.1L22.7,34.0L24.2,33.2L26.0,31.4L27.3,30.8L29.2,29.8L30.3,30.6L30.8,32.4L30.8,33.7L30.2,35.5L28.5,36.9L27.3,37.7L25.1,38.8L23.6,39.8L22.0,39.8L21.1,39.3L20.1,37.7Z" fill="none" stroke="#333" stroke-width="0.7" stroke-linejoin="round" opacity="1"/>
<circle cx="19" cy="41" r="0.7" fill="#222"/><circle cx="16.5" cy="33" r="0.6" fill="#222"/>
</g>
<rect x="386.5" y="37.5" width="64" height="59.5" fill="none" stroke="#666" stroke-width="1"/>
<text x="389.0" y="49.5" font-size="12.5" text-anchor="start" font-weight="normal" font-style="normal" fill="#111" >78</text>
<text x="447.5" y="49.5" font-size="12.5" text-anchor="end" font-weight="normal" font-style="normal" fill="#111" >13</text>
<text x="447.5" y="95.2" font-size="12.5" text-anchor="end" font-weight="normal" font-style="normal" fill="#111" >2</text>
<line x1="485.5" y1="37.5" x2="485.5" y2="97.0" stroke="#9a9a9a" stroke-width="1"/>
<line x1="453.5" y1="74.5" x2="517.5" y2="74.5" stroke="#9a9a9a" stroke-width="1"/>
<g transform="translate(453.5,37.5)">
<path d="M45.4 29.5h0.9M53.2 27.3h0.9M41.0 30.7h0.9M45.2 27.7h0.9M43.1 27.4h0.9M37.2 30.1h0.9M55.3 30.6h0.9M48.9 27.5h0.9M43.8 25.7h0.9M51.2 27.1h0.9M40.3 33.3h0.9M41.5 33.3h0.9M48.4 31.3h0.9M48.7 26.1h0.9M50.8 26.8h0.9M43.2 25.6h0.9M34.5 27.8h0.9M33.4 27.9h0.9M54.3 33.4h0.9M43.6 25.4h0.9M41.7 25.0h0.9M38.4 30.0h0.9M48.4 24.7h0.9M45.2 28.3h0.9M42.9 25.7h0.9M42.8 25.4h0.9M50.2 30.3h0.9M48.7 28.1h0.9M56.9 27.8h0.9M38.1 27.8h0.9M55.8 25.9h0.9M52.1 32.9h0.9M54.3 28.6h0.9M44.3 32.3h0.9M50.8 31.7h0.9M37.5 29.9h0.9M51.5 26.6h0.9M38.2 32.0h0.9M47.2 28.1h0.9M45.1 26.8h0.9" stroke="#bbb" stroke-width="0.9" opacity="0.8"/>
<path d="M26.4 32.8h0.9M27.8 33.6h0.9M5.3 37.3h0.9M16.1 40.1h0.9M32.8 47.4h0.9M26.9 34.1h0.9M28.5 39.2h0.9M8.3 33.2h0.9M16.1 41.1h0.9M25.0 38.0h0.9M30.8 38.0h0.9M11.8 31.3h0.9M28.3 32.4h0.9M17.1 40.0h0.9M28.5 32.7h0.9M19.9 40.6h0.9M19.6 29.9h0.9M28.0 43.1h0.9M12.6 30.9h0.9M28.0 34.8h0.9M28.1 37.9h0.9M41.9 24.4h0.9M26.4 29.7h0.9M6.4 29.3h0.9M17.5 39.5h0.9M20.4 29.1h0.9M14.5 35.4h0.9M26.3 28.0h0.9M23.2 35.1h0.9M19.5 32.1h0.9M19.2 30.7h0.9M14.8 33.4h0.9M19.6 31.8h0.9M12.2 39.2h0.9M20.5 52.9h0.9M43.0 33.6h0.9M39.3 28.5h0.9M8.2 29.5h0.9M19.5 35.7h0.9M38.0 28.4h0.9" stroke="#ccc" stroke-width="0.9" opacity="0.7"/>
<path d="M8.0,29.1L8.3,27.8L8.7,26.2L10.2,24.7L11.5,23.2L13.1,22.8L14.2,22.5L16.1,22.2L17.5,22.3L19.1,22.2L20.8,22.7L22.8,23.5L23.8,24.8L25.1,25.3L25.2,26.5L26.0,26.9L26.5,27.1L27.2,27.0L27.6,27.5L29.0,27.8L30.5,29.2L31.8,29.6L31.7,30.9L31.1,32.4L29.8,33.1L29.1,33.2L28.4,33.6L27.4,33.7L26.1,35.6L25.5,36.7L24.8,38.3L23.9,38.2L22.7,39.0L21.6,38.7L21.1,39.9L20.9,41.3L20.0,42.1L19.2,43.2L18.3,44.5L18.0,45.1L17.4,45.3L16.6,44.9L15.2,43.9L15.2,42.6L14.9,41.3L14.2,39.9L13.6,39.3L12.3,38.1L10.7,37.4L10.2,36.1L9.1,34.8L8.2,33.3L7.7,32.5L7.8,30.7Z" fill="none" stroke="#777" stroke-width="0.6" stroke-linejoin="round" opacity="1"/>
<path d="M23.3,27.6L23.3,28.7L23.3,30.1L22.9,31.8L22.5,33.1L21.1,34.9L20.0,35.8L19.1,36.1L17.6,35.7L15.6,35.3L14.8,36.0L13.6,35.7L12.3,35.8L11.0,35.4L10.2,35.2L9.8,34.4L9.0,33.7L8.5,32.8L8.4,31.6L8.4,30.0L8.7,28.6L9.3,27.2L9.5,26.3L10.1,25.6L10.7,25.1L11.9,24.5L13.8,23.9L15.1,23.3L16.4,23.0L18.3,22.6L19.1,22.9L20.4,23.6L20.8,24.4L21.5,24.8L22.1,25.6L22.6,26.8Z" fill="none" stroke="#666" stroke-width="0.65" stroke-linejoin="round" opacity="1"/>
<path d="M21.7,28.5L21.2,29.4L21.5,30.1L21.3,31.0L21.2,31.8L21.1,32.3L20.7,33.5L19.2,34.0L17.8,34.4L16.4,34.8L15.1,34.3L14.7,33.6L14.3,33.6L12.6,33.7L11.5,34.0L10.2,34.2L10.3,33.2L10.1,32.5L10.1,31.2L10.0,30.1L9.9,28.8L10.0,27.8L10.1,26.7L11.2,26.3L11.7,25.8L12.8,24.6L13.0,23.7L14.3,23.6L16.0,23.1L17.5,23.5L18.9,24.0L19.9,25.0L19.9,25.2L20.6,26.1L20.9,26.9L21.4,27.5Z" fill="none" stroke="#666" stroke-width="0.65" stroke-linejoin="round" opacity="1"/>
<path d="M19.8,28.7L19.8,29.5L20.2,29.9L20.1,31.1L20.0,32.1L19.5,32.5L18.4,33.2L18.5,33.7L17.8,33.3L16.5,33.4L15.6,32.9L14.7,33.1L13.8,32.7L12.6,32.9L11.6,32.9L11.2,32.5L10.9,32.0L11.2,31.0L11.0,30.0L11.2,29.0L11.2,28.8L11.4,27.9L12.3,27.3L12.7,26.5L13.3,26.3L13.8,25.9L13.9,25.8L14.5,25.3L15.0,24.8L16.2,25.0L17.1,25.2L17.4,25.6L18.4,26.3L18.8,26.6L19.5,26.7L20.0,27.5Z" fill="none" stroke="#666" stroke-width="0.65" stroke-linejoin="round" opacity="1"/>
<path d="M18.5,29.5L19.0,29.4L18.5,29.7L18.9,30.0L18.9,31.0L18.3,31.5L18.3,32.2L17.1,32.4L16.6,32.4L15.9,32.5L15.4,32.5L14.6,32.4L14.5,32.0L14.1,31.6L13.3,31.6L12.3,31.8L12.5,31.4L12.3,30.9L12.3,30.5L11.9,29.8L12.3,29.8L12.5,28.8L12.9,28.5L13.5,27.6L13.2,27.4L13.9,26.7L14.4,26.4L14.9,26.7L15.3,26.3L16.3,26.0L16.8,25.9L17.5,26.3L18.5,26.7L18.5,27.6L18.7,28.0L18.9,28.4Z" fill="none" stroke="#666" stroke-width="0.65" stroke-linejoin="round" opacity="1"/>
<path d="M17.3,29.5L17.2,29.7L17.6,29.9L17.7,30.1L17.2,30.5L17.3,30.7L17.3,30.7L17.0,31.0L16.0,31.3L16.1,31.2L15.9,31.4L15.5,31.3L15.1,31.6L14.4,30.8L13.9,31.1L13.4,30.8L13.0,30.8L13.4,30.1L13.3,29.8L13.7,29.4L13.8,29.2L13.7,28.6L13.9,28.3L13.6,28.2L13.9,28.0L14.2,27.6L14.7,27.2L15.4,27.1L15.5,27.2L15.9,27.5L16.4,27.3L17.3,27.4L17.6,27.6L17.7,28.2L17.8,28.1L17.9,28.8Z" fill="none" stroke="#666" stroke-width="0.65" stroke-linejoin="round" opacity="1"/>
<path d="M16.7,29.4L16.8,29.2L16.8,29.9L16.3,29.6L16.7,30.1L16.7,30.1L16.6,30.7L16.3,30.8L16.2,30.7L15.5,30.3L15.6,30.8L15.4,30.4L15.3,30.2L14.5,30.4L14.8,30.2L14.3,30.6L14.4,30.0L14.3,30.2L14.4,29.8L14.7,29.6L14.4,29.3L14.6,29.2L14.2,28.8L14.6,28.7L14.7,28.8L15.0,28.4L15.2,28.2L15.0,28.5L15.7,28.6L15.5,28.4L15.8,28.4L16.0,28.1L16.3,28.5L16.2,28.8L16.5,28.5L16.6,29.2Z" fill="none" stroke="#666" stroke-width="0.65" stroke-linejoin="round" opacity="1"/>
<path d="M31.9,28.9L32.8,28.3L33.9,27.8L34.9,27.6L36.1,27.5L36.7,28.2L37.1,29.1L36.4,29.5L35.9,30.8L35.2,31.2L33.6,30.5L32.6,29.7Z" fill="none" stroke="#999" stroke-width="0.5" stroke-linejoin="round" opacity="1"/>
</g>
<rect x="453.5" y="37.5" width="64" height="59.5" fill="none" stroke="#666" stroke-width="1"/>
<text x="456.0" y="49.5" font-size="12.5" text-anchor="start" font-weight="normal" font-style="normal" fill="#111" >92</text>
<text x="514.5" y="49.5" font-size="12.5" text-anchor="end" font-weight="normal" font-style="normal" fill="#111" >4</text>
<text x="514.5" y="95.2" font-size="12.5" text-anchor="end" font-weight="normal" font-style="normal" fill="#111" >1</text>
<line x1="62.5" y1="120.5" x2="62.5" y2="180.0" stroke="#9a9a9a" stroke-width="1"/>
<line x1="29.5" y1="156.5" x2="93.5" y2="156.5" stroke="#9a9a9a" stroke-width="1"/>
<g transform="translate(29.5,120.5)">
<path d="M16.8 29.8h0.9M41.9 29.0h0.9M9.0 33.0h0.9M23.4 34.9h0.9M18.7 38.9h0.9M27.6 44.4h0.9M27.3 32.9h0.9M35.1 36.0h0.9M15.2 35.7h0.9M16.1 37.8h0.9M16.9 33.4h0.9M15.1 33.3h0.9M34.9 37.4h0.9M16.3 24.8h0.9M28.7 28.1h0.9M15.1 35.1h0.9M11.0 35.6h0.9M32.0 31.7h0.9M13.9 30.4h0.9M35.9 32.5h0.9M33.6 31.8h0.9M23.4 32.5h0.9M23.4 33.1h0.9M30.0 37.6h0.9M20.8 26.7h0.9M16.1 26.8h0.9M3.6 31.5h0.9M15.2 40.8h0.9M17.1 24.4h0.9M25.8 31.5h0.9M30.1 32.4h0.9M39.3 28.1h0.9M24.4 29.3h0.9M17.7 23.2h0.9M27.8 23.2h0.9M25.6 33.9h0.9M25.9 23.6h0.9M29.6 28.0h0.9M25.8 29.7h0.9M40.0 28.7h0.9M20.2 33.0h0.9M8.9 29.2h0.9M20.2 32.8h0.9M19.0 40.6h0.9M39.8 37.8h0.9M22.0 34.8h0.9M41.3 40.6h0.9M28.4 28.9h0.9M32.8 35.6h0.9M23.1 30.9h0.9M10.1 24.1h0.9M10.7 33.1h0.9M24.2 28.0h0.9M20.1 38.7h0.9M11.5 29.5h0.9M11.3 41.6h0.9M18.8 38.8h0.9M29.2 28.3h0.9M28.0 32.6h0.9M26.7 32.6h0.9M28.0 34.6h0.9M15.3 35.4h0.9M15.1 25.0h0.9M18.7 27.1h0.9M16.1 26.1h0.9M29.9 36.0h0.9M16.4 38.3h0.9M21.4 27.8h0.9M12.9 33.6h0.9M21.2 32.8h0.9M48.9 36.3h0.9M21.4 26.1h0.9M18.4 28.0h0.9M16.6 19.6h0.9M23.5 25.9h0.9M42.2 30.3h0.9M30.7 33.3h0.9M15.1 32.6h0.9M18.3 29.6h0.9M21.7 21.6h0.9M34.8 34.3h0.9M20.7 38.5h0.9M13.1 18.7h0.9M24.4 27.1h0.9M21.4 28.7h0.9M19.9 26.4h0.9M21.4 35.1h0.9M25.3 40.2h0.9M27.4 33.5h0.9M23.9 34.2h0.9M20.5 24.8h0.9M12.1 22.2h0.9M19.6 31.9h0.9M26.0 37.0h0.9M17.6 20.5h0.9M15.6 31.2h0.9M4.4 25.0h0.9M11.6 41.5h0.9M31.7 27.7h0.9M17.3 31.8h0.9M24.0 32.4h0.9M11.1 26.4h0.9M34.2 31.2h0.9M31.1 31.3h0.9M24.1 32.8h0.9M19.4 37.4h0.9M29.5 31.1h0.9M23.3 39.4h0.9M13.2 35.6h0.9M32.2 39.4h0.9M35.2 27.4h0.9M29.4 29.7h0.9M29.5 32.3h0.9M30.1 28.1h0.9M23.6 34.2h0.9M27.0 36.1h0.9M38.7 26.8h0.9M22.7 23.1h0.9M27.7 39.5h0.9M23.8 37.5h0.9M40.6 33.7h0.9M30.3 36.3h0.9M15.2 25.3h0.9M18.4 27.1h0.9M27.6 20.1h0.9M3.4 22.1h0.9M23.8 30.1h0.9M20.1 29.5h0.9M17.4 27.4h0.9M23.7 30.3h0.9M24.5 31.0h0.9M22.6 31.6h0.9M40.6 41.8h0.9M32.2 21.9h0.9M27.3 38.5h0.9M26.1 23.7h0.9M19.1 44.6h0.9M20.1 23.9h0.9M20.0 36.4h0.9M22.5 25.4h0.9M1.8 32.3h0.9M6.4 36.2h0.9M32.6 33.2h0.9M21.7 30.7h0.9M19.6 27.6h0.9M13.1 26.5h0.9M36.1 40.5h0.9M22.2 34.2h0.9M18.9 32.1h0.9M34.3 36.5h0.9M31.2 35.0h0.9M29.4 27.8h0.9M28.7 22.8h0.9M23.8 33.2h0.9M25.9 21.6h0.9M30.6 25.1h0.9M21.0 23.0h0.9M24.6 30.6h0.9M21.3 24.8h0.9M28.9 31.8h0.9M19.7 25.5h0.9M15.2 29.9h0.9M5.1 27.3h0.9M33.3 30.7h0.9M21.5 29.3h0.9M29.3 36.4h0.9M24.1 29.2h0.9M28.4 36.2h0.9M20.3 34.0h0.9M27.1 35.9h0.9M23.5 28.5h0.9M23.2 29.6h0.9M21.9 38.9h0.9M29.9 31.6h0.9M25.7 34.4h0.9M26.0 29.5h0.9M18.3 20.7h0.9M22.4 41.4h0.9M15.4 39.2h0.9M14.7 29.2h0.9M32.5 26.4h0.9M17.1 37.4h0.9M20.0 35.4h0.9M44.7 26.3h0.9M33.0 40.8h0.9M21.7 30.7h0.9M29.5 34.8h0.9M35.9 24.8h0.9M21.9 36.9h0.9M27.5 29.9h0.9M29.4 34.6h0.9M14.3 22.2h0.9M23.0 30.9h0.9M24.1 33.8h0.9M14.4 28.6h0.9M33.0 28.2h0.9M11.7 26.4h0.9M27.3 41.6h0.9M32.8 24.3h0.9M23.1 28.4h0.9M30.1 33.0h0.9M20.8 28.2h0.9M34.1 24.2h0.9M18.6 26.0h0.9M31.6 38.8h0.9M26.9 36.6h0.9M22.7 24.4h0.9M23.6 41.7h0.9M18.0 36.2h0.9M9.0 34.4h0.9M34.5 33.2h0.9M5.9 32.1h0.9M14.2 36.3h0.9M25.1 31.1h0.9M24.6 26.0h0.9M19.8 35.3h0.9M25.5 40.9h0.9M28.8 43.7h0.9M14.7 31.0h0.9M24.5 25.0h0.9M25.8 29.6h0.9M21.2 30.3h0.9M25.8 36.2h0.9M19.2 35.2h0.9M8.5 28.0h0.9M12.7 34.5h0.9M23.3 27.9h0.9M24.0 31.4h0.9M10.4 38.2h0.9M22.7 35.9h0.9M33.6 43.3h0.9M24.6 30.0h0.9M17.0 30.8h0.9M28.3 31.9h0.9M18.8 25.6h0.9M19.2 37.9h0.9M29.2 33.7h0.9M35.7 36.8h0.9M11.4 36.8h0.9M17.2 35.9h0.9M15.8 29.7h0.9M7.2 28.9h0.9M27.4 32.9h0.9M32.3 32.2h0.9M30.4 35.3h0.9M27.8 36.6h0.9M19.0 39.6h0.9M31.1 19.8h0.9M3.6 33.8h0.9M27.3 28.0h0.9M44.5 29.9h0.9M30.3 38.4h0.9M17.2 25.1h0.9M20.2 27.5h0.9M29.3 24.5h0.9M31.5 43.3h0.9M21.7 29.8h0.9M27.4 32.1h0.9M14.4 24.6h0.9M38.9 27.1h0.9M23.7 34.6h0.9M29.7 34.0h0.9M14.2 33.7h0.9M27.3 25.2h0.9M27.9 22.1h0.9M23.0 25.5h0.9M12.6 34.8h0.9M9.0 33.3h0.9M30.1 25.4h0.9M21.7 37.9h0.9M17.6 32.2h0.9M29.8 34.8h0.9M35.1 28.6h0.9M40.8 35.3h0.9M20.1 24.7h0.9M29.8 31.6h0.9M16.8 36.4h0.9M31.1 36.4h0.9M12.2 26.8h0.9M10.5 31.7h0.9M34.8 37.6h0.9M33.9 24.3h0.9M22.7 27.7h0.9M21.2 33.0h0.9M25.9 21.8h0.9M33.2 28.8h0.9M27.3 22.2h0.9M24.5 32.7h0.9M39.1 22.1h0.9M19.4 24.7h0.9M7.9 37.5h0.9M21.3 33.1h0.9M23.1 29.8h0.9M19.2 24.4h0.9M29.4 34.9h0.9M19.7 40.4h0.9M23.4 27.0h0.9M26.7 35.2h0.9M10.6 34.0h0.9M29.5 30.0h0.9M29.5 37.1h0.9M8.8 35.2h0.9M16.1 26.1h0.9M24.4 28.4h0.9M23.2 28.3h0.9M10.6 32.3h0.9M17.8 30.8h0.9M14.9 32.5h0.9M20.4 36.6h0.9M16.8 33.2h0.9M13.8 20.8h0.9M27.4 30.4h0.9M23.0 36.5h0.9M10.5 27.1h0.9M13.1 28.3h0.9M44.9 31.3h0.9M24.3 27.9h0.9M22.3 30.1h0.9M35.2 28.9h0.9M30.4 29.1h0.9M20.3 27.8h0.9M27.0 30.0h0.9M29.3 31.7h0.9M16.3 26.1h0.9M26.8 24.3h0.9M26.1 19.7h0.9M25.9 32.4h0.9M20.8 34.1h0.9M8.4 28.9h0.9M26.4 36.8h0.9M22.0 32.4h0.9M21.3 35.4h0.9M13.0 19.3h0.9M31.5 33.8h0.9M9.7 33.0h0.9M35.4 41.5h0.9M20.1 37.9h0.9M12.3 35.0h0.9M31.1 26.7h0.9M10.0 41.8h0.9M32.2 42.7h0.9M18.9 28.1h0.9M40.0 30.6h0.9M5.7 31.0h0.9M28.0 33.7h0.9M2.9 42.8h0.9M9.4 27.6h0.9M22.9 28.8h0.9M32.5 28.2h0.9M25.7 33.4h0.9M25.5 25.3h0.9M38.0 27.1h0.9M13.1 29.9h0.9M23.9 17.7h0.9M18.2 37.1h0.9M24.0 32.5h0.9M30.1 33.3h0.9M8.7 24.7h0.9M22.0 18.6h0.9M21.4 41.3h0.9M18.2 35.8h0.9M19.0 31.8h0.9M14.2 36.3h0.9M19.9 28.8h0.9M20.8 34.4h0.9M13.0 31.0h0.9M17.5 36.9h0.9M22.3 24.5h0.9M21.1 26.4h0.9M26.0 30.3h0.9M25.6 32.4h0.9M14.1 32.0h0.9M22.3 32.0h0.9M22.7 29.8h0.9M6.1 21.9h0.9M21.8 38.1h0.9M29.2 27.9h0.9" stroke="#444" stroke-width="0.9" opacity="0.6"/>
<path d="M37.3 40.1h0.9M37.1 41.7h0.9M30.9 29.7h0.9M30.2 28.2h0.9M38.7 35.4h0.9M30.5 28.5h0.9M38.7 26.7h0.9M31.9 36.5h0.9M39.1 41.3h0.9M32.0 25.8h0.9M29.6 36.0h0.9M34.9 40.7h0.9M37.4 40.1h0.9M29.9 26.9h0.9M34.0 36.1h0.9M31.0 41.4h0.9M27.4 32.8h0.9M30.3 36.0h0.9M36.0 31.5h0.9M35.4 41.2h0.9M31.1 28.8h0.9M30.0 31.1h0.9M29.9 22.5h0.9M36.6 25.8h0.9M24.5 36.2h0.9M28.7 36.2h0.9M38.1 26.8h0.9M28.9 39.7h0.9M26.8 25.6h0.9M30.5 28.3h0.9M38.8 32.3h0.9M26.4 41.9h0.9M36.3 32.2h0.9M41.1 38.7h0.9M36.9 29.5h0.9M33.8 42.6h0.9M36.6 31.9h0.9M28.4 36.3h0.9M34.8 39.6h0.9M36.8 38.8h0.9M34.2 35.9h0.9M32.2 35.6h0.9M35.7 35.8h0.9M31.0 36.0h0.9M33.4 27.3h0.9M34.1 37.3h0.9M32.1 42.9h0.9M35.3 39.9h0.9M36.6 22.9h0.9M26.5 36.2h0.9M32.2 30.1h0.9M36.0 35.5h0.9M35.0 27.7h0.9M39.5 20.1h0.9M37.9 30.2h0.9M37.2 33.7h0.9M35.1 42.0h0.9M31.3 20.5h0.9M31.2 18.8h0.9M31.1 28.3h0.9M35.7 29.3h0.9M35.1 23.9h0.9M34.9 31.9h0.9M37.7 47.0h0.9M36.7 38.6h0.9M30.3 29.3h0.9M41.2 23.2h0.9M32.8 36.2h0.9M37.8 30.1h0.9M34.0 36.7h0.9M39.3 33.9h0.9M33.0 41.0h0.9M38.1 30.3h0.9M35.4 32.8h0.9M34.3 23.4h0.9M35.0 33.1h0.9M28.9 33.1h0.9M30.3 29.5h0.9M32.8 46.3h0.9M38.5 27.0h0.9M38.9 31.5h0.9M39.4 37.9h0.9M39.3 39.6h0.9M32.4 30.2h0.9M34.9 35.3h0.9M38.9 48.3h0.9M35.1 45.8h0.9M36.4 37.5h0.9M30.3 34.4h0.9M36.9 32.5h0.9M31.3 33.9h0.9M38.7 39.3h0.9M31.5 39.3h0.9M33.4 31.0h0.9M39.7 36.5h0.9M34.8 33.4h0.9M21.6 39.2h0.9M40.0 17.8h0.9M23.5 30.5h0.9M38.2 35.8h0.9M36.3 28.6h0.9M29.9 35.8h0.9M28.7 41.0h0.9M36.9 32.7h0.9M30.8 43.2h0.9M33.7 22.4h0.9M30.3 21.3h0.9M37.2 26.4h0.9M33.6 35.9h0.9M39.0 24.3h0.9M36.4 30.5h0.9M33.3 19.6h0.9M34.2 34.7h0.9M35.3 37.2h0.9M30.8 23.4h0.9M36.6 25.1h0.9M44.6 31.3h0.9M25.6 38.5h0.9M33.4 29.0h0.9M31.9 31.6h0.9M28.1 39.9h0.9M39.0 33.9h0.9M31.0 35.4h0.9M38.5 36.3h0.9M33.1 35.8h0.9M29.1 38.7h0.9M40.2 38.5h0.9M37.9 36.8h0.9M28.7 42.3h0.9M39.1 27.3h0.9M33.0 38.6h0.9M36.2 27.1h0.9M29.8 26.2h0.9M35.4 39.0h0.9M37.4 31.9h0.9M35.3 30.6h0.9M38.7 34.1h0.9M32.9 41.4h0.9M34.1 31.8h0.9M30.1 33.5h0.9M40.4 27.0h0.9M38.9 26.9h0.9M30.8 40.3h0.9M30.3 31.9h0.9M32.6 41.9h0.9M36.4 30.7h0.9M32.6 36.2h0.9M31.4 37.9h0.9M38.8 38.2h0.9M30.0 42.5h0.9M34.3 43.2h0.9M36.4 33.0h0.9M26.7 45.1h0.9M31.1 36.5h0.9M38.3 42.7h0.9M30.2 44.4h0.9M31.6 32.1h0.9M42.6 32.9h0.9M34.0 25.3h0.9M34.2 18.9h0.9M35.0 37.7h0.9M34.3 27.2h0.9M41.5 32.4h0.9M31.7 33.0h0.9M29.9 28.2h0.9M27.9 28.4h0.9M25.6 35.2h0.9M32.0 31.4h0.9M35.0 30.2h0.9M41.6 25.8h0.9M34.9 37.2h0.9M32.7 27.1h0.9M29.3 40.5h0.9M32.9 36.2h0.9M26.2 29.6h0.9M35.8 32.7h0.9M33.9 28.1h0.9M37.9 32.4h0.9M36.9 36.7h0.9M31.5 33.1h0.9M34.4 28.1h0.9M33.9 29.1h0.9M28.1 33.9h0.9M34.9 38.2h0.9M36.1 28.4h0.9M30.8 40.2h0.9M31.1 22.3h0.9M26.8 28.8h0.9M41.2 24.9h0.9M39.4 29.0h0.9M32.7 27.8h0.9M41.1 41.9h0.9M30.9 36.2h0.9M27.6 30.4h0.9M34.9 30.9h0.9M36.0 19.5h0.9M43.5 31.5h0.9M26.5 28.0h0.9M27.5 27.2h0.9M37.9 33.1h0.9M38.8 40.5h0.9M42.0 28.5h0.9M29.8 35.0h0.9M39.5 41.7h0.9M33.7 36.5h0.9M41.4 41.7h0.9M27.9 38.8h0.9M38.1 36.4h0.9M33.8 23.1h0.9M35.7 39.8h0.9M37.4 21.2h0.9M38.4 37.9h0.9M38.3 28.1h0.9M34.7 28.5h0.9M33.3 33.5h0.9M35.5 26.1h0.9M38.0 46.4h0.9M34.3 35.0h0.9M33.7 31.0h0.9M32.8 30.7h0.9M40.5 34.8h0.9M29.6 27.7h0.9M32.4 24.2h0.9M35.9 39.1h0.9M27.3 26.9h0.9M31.2 27.9h0.9M37.3 23.0h0.9M34.0 37.3h0.9M42.1 33.9h0.9M35.3 41.1h0.9M28.2 32.0h0.9M39.4 30.1h0.9M36.0 39.1h0.9M35.6 38.9h0.9M33.6 24.7h0.9M28.5 24.8h0.9M37.0 33.4h0.9M32.3 25.2h0.9M46.2 36.6h0.9M29.2 38.8h0.9M34.5 39.7h0.9M41.8 44.1h0.9M35.5 34.1h0.9M33.2 25.7h0.9M29.8 46.3h0.9M32.6 27.2h0.9M31.8 19.8h0.9M36.6 29.3h0.9M34.4 29.3h0.9M24.5 45.9h0.9M33.6 27.4h0.9M29.9 31.7h0.9M32.7 26.4h0.9M30.0 35.3h0.9M39.3 25.9h0.9M34.2 39.5h0.9M39.2 27.8h0.9M29.5 28.4h0.9M35.6 40.9h0.9M33.9 27.0h0.9" stroke="#333" stroke-width="0.9" opacity="0.6"/>
<path d="M43.2 36.9h0.9M42.2 30.8h0.9M34.0 31.3h0.9M39.5 29.1h0.9M45.1 26.1h0.9M42.8 40.9h0.9M48.2 40.5h0.9M47.8 27.2h0.9M42.5 31.3h0.9M47.2 39.1h0.9M43.3 24.5h0.9M48.2 37.5h0.9M52.1 30.8h0.9M41.8 26.8h0.9M42.0 32.8h0.9M54.1 34.8h0.9M40.8 34.4h0.9M32.6 32.9h0.9M49.3 27.5h0.9M45.0 25.5h0.9M39.8 24.3h0.9M43.4 30.1h0.9M38.8 32.9h0.9M39.6 21.2h0.9M44.8 26.4h0.9M37.1 32.6h0.9M44.2 26.7h0.9M39.6 35.6h0.9M38.1 31.7h0.9M46.5 27.3h0.9M41.6 29.9h0.9M46.4 24.3h0.9M41.1 28.7h0.9M46.6 33.5h0.9M43.5 40.0h0.9M37.0 26.9h0.9M46.9 29.8h0.9M47.7 38.0h0.9M37.2 35.6h0.9M41.3 32.6h0.9M50.2 28.6h0.9M45.9 24.0h0.9M51.8 28.4h0.9M45.5 32.3h0.9M50.4 33.6h0.9M37.7 31.5h0.9M46.0 33.2h0.9M48.1 26.7h0.9M45.1 33.5h0.9M46.4 22.4h0.9M52.4 40.6h0.9M46.9 34.9h0.9M38.8 25.1h0.9M44.6 30.7h0.9M44.0 34.2h0.9M49.3 34.9h0.9M46.6 35.5h0.9M41.1 23.6h0.9M38.0 29.6h0.9M42.3 28.5h0.9M45.6 44.0h0.9M43.6 42.3h0.9M47.3 32.9h0.9M42.7 28.2h0.9M49.6 31.3h0.9M48.3 26.3h0.9M45.3 29.3h0.9M42.1 34.3h0.9M42.5 33.2h0.9M47.1 36.0h0.9M49.5 29.2h0.9M38.6 22.8h0.9M39.4 28.3h0.9M40.0 27.9h0.9M44.9 33.4h0.9M46.7 26.9h0.9M44.4 29.9h0.9M35.1 31.4h0.9M54.5 32.5h0.9M41.2 36.3h0.9M40.3 26.7h0.9M40.0 42.1h0.9M43.9 31.8h0.9M54.7 32.9h0.9M44.3 36.0h0.9M39.9 28.3h0.9M40.3 38.0h0.9M42.3 30.3h0.9M42.2 24.0h0.9M43.8 23.7h0.9M45.4 31.7h0.9M46.2 28.9h0.9M61.5 30.3h0.9M48.0 25.4h0.9M51.5 33.7h0.9M37.8 37.3h0.9M45.3 30.7h0.9M41.6 34.1h0.9M48.8 42.1h0.9M41.9 25.5h0.9M44.4 25.0h0.9M49.0 32.4h0.9M41.3 24.4h0.9M45.3 27.7h0.9M38.7 26.4h0.9M34.9 36.7h0.9M41.7 36.8h0.9M36.4 36.7h0.9M47.8 24.8h0.9M42.1 25.2h0.9M43.3 27.2h0.9M47.7 34.0h0.9M45.5 31.1h0.9M42.1 30.1h0.9M50.2 32.8h0.9M42.6 28.0h0.9M39.5 28.2h0.9M37.7 32.1h0.9M45.7 23.0h0.9M35.9 25.5h0.9M50.5 30.0h0.9M43.5 34.5h0.9M41.4 23.3h0.9M53.4 30.4h0.9M42.7 32.7h0.9M40.7 26.8h0.9M42.6 28.7h0.9M39.5 27.1h0.9M45.7 31.6h0.9M38.5 33.9h0.9M44.8 28.5h0.9M46.7 30.5h0.9M46.8 30.9h0.9M39.4 23.0h0.9M45.2 36.1h0.9M49.8 27.2h0.9M44.4 29.4h0.9M47.6 28.5h0.9M46.3 40.4h0.9M36.9 33.3h0.9M44.5 30.4h0.9M44.0 38.7h0.9M45.8 33.5h0.9M38.4 24.7h0.9M45.1 34.0h0.9M44.7 26.5h0.9M40.3 35.9h0.9M49.8 31.0h0.9M40.4 34.4h0.9M49.2 27.3h0.9M41.3 29.6h0.9M44.7 29.0h0.9M41.7 33.0h0.9M44.5 34.1h0.9M46.1 39.9h0.9M48.0 32.5h0.9M45.2 31.8h0.9M42.0 35.3h0.9M47.1 28.4h0.9M54.5 22.5h0.9M39.5 31.5h0.9M49.6 23.2h0.9M46.9 31.3h0.9M41.6 37.1h0.9M40.4 30.7h0.9M46.6 35.2h0.9M46.8 28.0h0.9M39.1 41.0h0.9M47.0 33.2h0.9M45.6 35.1h0.9M47.1 29.3h0.9M42.3 34.5h0.9M42.8 31.9h0.9M36.4 35.5h0.9M47.2 29.2h0.9M45.0 32.2h0.9M41.3 33.6h0.9M44.1 27.8h0.9M40.7 33.5h0.9M38.6 34.2h0.9M48.8 22.1h0.9M32.7 26.4h0.9M40.9 38.7h0.9M36.5 26.0h0.9M37.6 26.2h0.9M46.2 29.9h0.9M41.9 21.0h0.9M40.8 26.5h0.9M48.3 37.4h0.9M44.3 39.5h0.9M49.7 32.0h0.9M36.8 28.7h0.9M42.2 34.6h0.9M44.9 37.7h0.9M36.3 39.1h0.9M45.0 37.9h0.9M41.9 32.4h0.9M47.9 37.7h0.9M43.7 34.2h0.9M40.1 29.8h0.9M46.1 40.1h0.9M41.1 36.8h0.9M48.8 28.8h0.9M43.1 33.9h0.9M38.0 34.8h0.9M55.2 39.7h0.9M50.3 26.3h0.9M42.8 31.5h0.9M54.9 38.8h0.9M46.1 32.7h0.9M42.9 23.6h0.9M42.2 26.4h0.9M42.4 43.7h0.9M45.0 29.9h0.9M47.0 31.1h0.9M40.2 36.3h0.9M46.2 27.8h0.9M42.1 31.5h0.9M44.4 40.3h0.9M41.9 31.3h0.9M47.7 30.9h0.9M45.4 32.7h0.9M47.1 30.5h0.9M44.2 28.6h0.9M47.0 30.9h0.9M47.1 36.1h0.9M38.0 35.9h0.9M47.7 25.1h0.9M45.3 30.2h0.9M45.2 31.0h0.9M50.2 30.0h0.9M41.0 27.7h0.9M45.5 32.3h0.9M37.4 28.2h0.9M41.1 32.7h0.9M46.0 30.8h0.9M44.7 38.6h0.9M45.6 34.2h0.9M43.9 16.8h0.9M39.7 24.4h0.9M44.1 36.4h0.9M46.8 40.7h0.9M39.5 29.6h0.9M51.8 35.5h0.9M44.1 27.3h0.9M42.7 34.2h0.9M44.6 32.7h0.9M43.7 28.8h0.9M44.6 38.8h0.9M43.1 25.0h0.9" stroke="#111" stroke-width="0.9" opacity="0.6"/>
<path d="M39.4 38.1h0.9M36.6 43.4h0.9M55.7 33.2h0.9M51.6 29.7h0.9M60.3 28.4h0.9M41.9 53.0h0.9M54.0 43.6h0.9M46.0 28.0h0.9M42.1 50.5h0.9M60.3 43.1h0.9M54.3 42.2h0.9M41.0 46.5h0.9M54.4 45.6h0.9M38.1 47.5h0.9M41.8 32.3h0.9M47.8 46.2h0.9M34.2 39.9h0.9M53.7 25.9h0.9M55.3 33.3h0.9M55.1 37.5h0.9M46.0 49.0h0.9M41.2 32.5h0.9M54.2 26.9h0.9M56.5 23.7h0.9M38.5 21.6h0.9M55.2 39.3h0.9M40.3 29.5h0.9M49.2 20.5h0.9M39.0 27.7h0.9M55.2 33.3h0.9M53.1 45.1h0.9M46.2 24.9h0.9M34.2 49.2h0.9M40.1 39.1h0.9M48.3 24.5h0.9M56.2 31.7h0.9M55.1 32.0h0.9M58.2 29.9h0.9M45.6 30.6h0.9M55.8 29.4h0.9M42.3 46.0h0.9M45.5 27.3h0.9M37.4 29.1h0.9M47.0 45.7h0.9M47.2 49.1h0.9M55.1 38.8h0.9M42.7 26.8h0.9M38.9 41.7h0.9M45.1 52.6h0.9M49.6 47.9h0.9M56.3 46.7h0.9M56.0 31.6h0.9M45.9 25.3h0.9M38.9 39.2h0.9M36.4 33.9h0.9M43.7 22.4h0.9M44.4 26.9h0.9M54.8 39.6h0.9M42.8 53.2h0.9M48.6 50.4h0.9M42.5 27.1h0.9M41.5 41.3h0.9M53.5 30.1h0.9M56.7 33.3h0.9M46.7 30.3h0.9M49.8 16.1h0.9M53.7 42.4h0.9M35.2 43.6h0.9M54.5 44.6h0.9M41.1 36.7h0.9M54.2 44.8h0.9M54.7 26.3h0.9M56.5 34.0h0.9M42.3 44.9h0.9M50.7 47.3h0.9M44.5 46.4h0.9M51.0 29.9h0.9M43.0 48.5h0.9M60.0 42.9h0.9M43.6 49.2h0.9M42.1 45.1h0.9M54.8 35.3h0.9M40.6 42.3h0.9M44.8 45.0h0.9M45.3 23.0h0.9M57.1 34.1h0.9M50.6 22.0h0.9M43.2 45.3h0.9M56.5 33.3h0.9M57.7 24.6h0.9M47.8 47.3h0.9M50.5 52.6h0.9M57.3 36.6h0.9M33.8 46.5h0.9M58.8 45.0h0.9M47.1 47.8h0.9M53.0 42.7h0.9M37.0 39.4h0.9M56.6 29.7h0.9M55.7 29.6h0.9M50.8 46.1h0.9M43.1 44.7h0.9M51.2 45.2h0.9M54.9 38.7h0.9M54.1 31.9h0.9M56.8 25.7h0.9M45.8 28.4h0.9M28.2 40.2h0.9M59.4 36.1h0.9M40.3 47.9h0.9M54.7 24.6h0.9M44.9 47.6h0.9M39.3 36.8h0.9M54.7 32.1h0.9M48.5 46.2h0.9M42.5 48.3h0.9M41.8 42.4h0.9M44.2 27.1h0.9M55.0 39.7h0.9M58.5 30.5h0.9M57.5 30.6h0.9M28.7 32.9h0.9M39.6 39.1h0.9M54.3 25.6h0.9M44.3 49.1h0.9M48.4 24.4h0.9M48.1 46.8h0.9M50.3 26.5h0.9M53.2 16.9h0.9M50.6 48.1h0.9M55.6 40.7h0.9M45.5 32.2h0.9M42.5 33.9h0.9M48.5 24.5h0.9M56.3 28.9h0.9M56.4 42.4h0.9M47.7 46.3h0.9M51.9 44.8h0.9M41.4 53.8h0.9M51.7 28.0h0.9M45.5 47.8h0.9M50.4 26.1h0.9M51.6 29.4h0.9M45.5 47.1h0.9M51.8 16.2h0.9M39.3 44.8h0.9M51.9 46.7h0.9M45.1 22.9h0.9M51.0 25.9h0.9M58.6 28.9h0.9M44.3 46.8h0.9M37.2 39.3h0.9M57.8 26.5h0.9M41.2 41.7h0.9M40.2 35.4h0.9M43.5 52.7h0.9M52.0 16.5h0.9M55.1 27.5h0.9M28.9 34.7h0.9M39.8 41.8h0.9M46.1 48.3h0.9M55.9 28.5h0.9M44.4 45.9h0.9M42.2 38.6h0.9M55.3 33.6h0.9M41.8 43.0h0.9M52.2 29.0h0.9M45.7 48.2h0.9M54.7 38.6h0.9M49.5 28.2h0.9M43.0 29.4h0.9M54.7 39.2h0.9M53.2 29.2h0.9M40.8 33.1h0.9M49.7 16.1h0.9M55.3 33.5h0.9M54.3 29.3h0.9M46.2 47.6h0.9M49.5 28.4h0.9M45.7 32.0h0.9M47.7 26.7h0.9M55.1 36.9h0.9M44.7 53.9h0.9M49.5 23.9h0.9M42.0 35.1h0.9M42.1 39.6h0.9M42.0 33.2h0.9M51.2 28.7h0.9M47.3 50.3h0.9M51.9 44.5h0.9M46.0 48.3h0.9M42.5 43.2h0.9M47.6 16.1h0.9M40.9 26.8h0.9M31.6 37.1h0.9M42.8 46.7h0.9M40.7 19.1h0.9M50.8 18.5h0.9M57.0 47.9h0.9M45.5 47.1h0.9M51.1 26.7h0.9M46.1 26.6h0.9M54.4 39.1h0.9M49.4 24.0h0.9M28.3 36.9h0.9M56.4 24.7h0.9M51.9 24.3h0.9M51.2 22.7h0.9M48.7 25.9h0.9M44.6 46.1h0.9M36.1 40.7h0.9M59.7 38.8h0.9M47.9 24.1h0.9M59.4 36.1h0.9M39.5 44.9h0.9M44.1 33.9h0.9M30.0 29.7h0.9M53.8 43.7h0.9M54.7 32.4h0.9M40.3 51.6h0.9M42.3 45.4h0.9M58.8 43.0h0.9M39.8 31.6h0.9M49.5 47.2h0.9M43.7 47.9h0.9M40.3 38.8h0.9M55.6 31.2h0.9M44.5 26.1h0.9M44.6 48.3h0.9M55.4 31.5h0.9M44.2 30.7h0.9M41.0 35.3h0.9M43.9 25.3h0.9M42.3 46.1h0.9M47.8 29.5h0.9M47.7 27.2h0.9M39.5 34.6h0.9M61.5 39.2h0.9M55.0 40.9h0.9M43.5 32.1h0.9M54.0 30.3h0.9M55.2 27.4h0.9M49.2 23.6h0.9M55.3 38.5h0.9M41.4 38.4h0.9M48.3 25.8h0.9M46.7 28.1h0.9M40.2 44.5h0.9M36.3 35.1h0.9M50.5 50.7h0.9M53.7 44.7h0.9M47.5 46.0h0.9M45.7 27.9h0.9M37.9 51.1h0.9M51.4 47.0h0.9M54.2 40.2h0.9M42.5 45.7h0.9M45.1 24.9h0.9M44.0 34.4h0.9M51.1 27.5h0.9M56.3 19.8h0.9M36.2 41.8h0.9M55.8 34.7h0.9M49.6 23.8h0.9M49.9 29.9h0.9M50.0 27.5h0.9M43.0 44.1h0.9M37.7 46.5h0.9M56.0 25.7h0.9M39.6 43.7h0.9M42.0 35.8h0.9M43.5 44.0h0.9M53.5 30.2h0.9M57.7 42.1h0.9M42.5 34.9h0.9M52.5 29.9h0.9M44.4 31.4h0.9M42.1 35.3h0.9M55.5 29.9h0.9M42.7 27.1h0.9M40.3 32.6h0.9M46.4 25.4h0.9M60.1 43.4h0.9M41.9 32.7h0.9M44.1 46.8h0.9M49.9 20.6h0.9M55.3 25.4h0.9M56.7 30.9h0.9M43.8 50.3h0.9M56.2 26.0h0.9M48.9 48.0h0.9M49.7 30.0h0.9M47.5 27.5h0.9M54.7 40.2h0.9M46.0 31.9h0.9M45.3 31.3h0.9M53.7 31.3h0.9M61.4 30.1h0.9M51.4 52.0h0.9M45.0 47.0h0.9M50.7 16.1h0.9M54.6 24.6h0.9M54.6 39.3h0.9M30.8 27.3h0.9M53.1 44.8h0.9M44.8 32.8h0.9M42.3 34.1h0.9M56.0 34.5h0.9M46.0 21.5h0.9M55.7 27.8h0.9M41.5 22.6h0.9M62.2 35.2h0.9M47.8 48.8h0.9M55.7 28.2h0.9M43.7 30.9h0.9M43.7 47.0h0.9M35.6 39.9h0.9M46.8 22.0h0.9M48.4 45.8h0.9M51.4 28.1h0.9M54.5 27.3h0.9M50.7 47.9h0.9M54.9 25.6h0.9M53.6 24.5h0.9M51.1 20.9h0.9M42.2 45.6h0.9M38.4 42.4h0.9M56.2 39.0h0.9M51.4 18.0h0.9M49.5 28.1h0.9M45.0 51.6h0.9M47.0 49.1h0.9M56.3 32.2h0.9M39.5 24.6h0.9M44.6 28.3h0.9M42.4 31.3h0.9M55.1 43.0h0.9M53.9 27.6h0.9M41.7 44.0h0.9M41.7 43.9h0.9M49.4 46.5h0.9M55.4 40.9h0.9M56.8 26.8h0.9M51.7 28.5h0.9M56.7 22.9h0.9M53.0 45.2h0.9M40.3 44.2h0.9M58.3 38.9h0.9M37.2 40.8h0.9M44.8 46.3h0.9M39.9 30.4h0.9M59.5 23.9h0.9M46.3 45.8h0.9M50.8 24.9h0.9M44.7 46.7h0.9M45.0 45.8h0.9M38.7 42.0h0.9M47.3 19.2h0.9M42.8 47.1h0.9M55.3 34.9h0.9M49.3 27.3h0.9M47.7 46.7h0.9M56.1 41.1h0.9M41.4 45.2h0.9M57.5 34.4h0.9M53.3 42.0h0.9M42.8 24.5h0.9M53.5 22.1h0.9M36.8 35.0h0.9M47.3 30.6h0.9M58.4 34.7h0.9M53.6 46.2h0.9M62.2 29.2h0.9M51.3 30.0h0.9M61.0 38.4h0.9M49.8 27.7h0.9M41.8 44.4h0.9M38.1 48.2h0.9M58.7 23.4h0.9M51.5 47.6h0.9" stroke="#222" stroke-width="0.9" opacity="0.5"/>
<path d="M54.14,39.84 C53.79,40.91 53.30,42.02 52.69,42.87 C52.07,43.73 51.29,44.50 50.46,44.99 C49.63,45.48 48.64,45.77 47.73,45.82 C46.82,45.87 45.80,45.66 44.98,45.28 C44.16,44.89 43.35,44.25 42.80,43.52 C42.25,42.79 41.84,41.84 41.68,40.89 C41.53,39.94 41.60,38.85 41.87,37.83 C42.13,36.81 42.66,35.72 43.26,34.76 C43.86,33.81 44.69,32.86 45.48,32.08 C46.28,31.31 47.20,30.61 48.03,30.12 C48.85,29.63 49.71,29.27 50.44,29.14 C51.17,29.01 51.85,29.06 52.42,29.32 C52.98,29.59 53.46,30.08 53.83,30.72 C54.20,31.37 54.48,32.25 54.63,33.20 C54.79,34.15 54.84,35.31 54.76,36.41 C54.68,37.52 54.48,38.76 54.14,39.84Z" transform="translate(0,0)" fill="#0a0a0a" stroke="#0a0a0a" stroke-width="4.8" stroke-linejoin="round" filter="url(#fz)"/>
<path d="M54.14,39.84 C53.79,40.91 53.30,42.02 52.69,42.87 C52.07,43.73 51.29,44.50 50.46,44.99 C49.63,45.48 48.64,45.77 47.73,45.82 C46.82,45.87 45.80,45.66 44.98,45.28 C44.16,44.89 43.35,44.25 42.80,43.52 C42.25,42.79 41.84,41.84 41.68,40.89 C41.53,39.94 41.60,38.85 41.87,37.83 C42.13,36.81 42.66,35.72 43.26,34.76 C43.86,33.81 44.69,32.86 45.48,32.08 C46.28,31.31 47.20,30.61 48.03,30.12 C48.85,29.63 49.71,29.27 50.44,29.14 C51.17,29.01 51.85,29.06 52.42,29.32 C52.98,29.59 53.46,30.08 53.83,30.72 C54.20,31.37 54.48,32.25 54.63,33.20 C54.79,34.15 54.84,35.31 54.76,36.41 C54.68,37.52 54.48,38.76 54.14,39.84Z" transform="translate(-3,-3)" fill="#0a0a0a" stroke="#0a0a0a" stroke-width="4.8" stroke-linejoin="round" filter="url(#fz)"/>
<path d="M54.14,39.84 C53.79,40.91 53.30,42.02 52.69,42.87 C52.07,43.73 51.29,44.50 50.46,44.99 C49.63,45.48 48.64,45.77 47.73,45.82 C46.82,45.87 45.80,45.66 44.98,45.28 C44.16,44.89 43.35,44.25 42.80,43.52 C42.25,42.79 41.84,41.84 41.68,40.89 C41.53,39.94 41.60,38.85 41.87,37.83 C42.13,36.81 42.66,35.72 43.26,34.76 C43.86,33.81 44.69,32.86 45.48,32.08 C46.28,31.31 47.20,30.61 48.03,30.12 C48.85,29.63 49.71,29.27 50.44,29.14 C51.17,29.01 51.85,29.06 52.42,29.32 C52.98,29.59 53.46,30.08 53.83,30.72 C54.20,31.37 54.48,32.25 54.63,33.20 C54.79,34.15 54.84,35.31 54.76,36.41 C54.68,37.52 54.48,38.76 54.14,39.84Z" fill="#050505" stroke="#050505" stroke-width="3.8" stroke-linejoin="round"/>
<path d="M54.9 44.3h0.9M50.8 21.3h0.9M45.9 30.0h0.9M55.8 33.9h0.9M35.8 42.2h0.9M55.3 32.3h0.9M54.7 40.9h0.9M44.3 26.7h0.9M35.5 43.0h0.9M46.2 47.6h0.9M51.7 45.2h0.9M41.6 34.9h0.9M40.0 46.0h0.9M38.2 46.3h0.9M39.4 39.8h0.9M54.6 29.5h0.9M49.6 21.6h0.9M48.6 27.3h0.9M41.0 37.2h0.9M35.7 45.2h0.9M42.0 32.4h0.9M58.5 38.7h0.9M51.5 45.2h0.9M43.2 44.9h0.9M57.6 37.6h0.9M50.2 21.8h0.9M45.6 32.4h0.9M55.9 26.1h0.9M44.9 46.3h0.9M54.9 33.1h0.9M55.2 44.4h0.9M35.1 33.3h0.9M54.5 32.1h0.9M46.1 30.1h0.9M48.0 47.7h0.9M44.6 45.4h0.9M45.5 28.0h0.9M40.4 40.1h0.9M48.2 46.0h0.9M48.6 46.9h0.9M36.9 29.3h0.9M50.0 29.6h0.9M55.6 34.2h0.9M57.2 35.0h0.9M38.9 42.9h0.9M37.4 41.9h0.9M46.9 48.9h0.9M44.0 23.4h0.9M35.2 36.0h0.9M55.0 27.9h0.9M54.5 42.0h0.9M44.9 50.5h0.9M47.2 46.4h0.9M51.4 21.4h0.9M57.8 36.5h0.9M53.8 45.1h0.9M56.0 30.7h0.9M50.2 46.6h0.9M53.1 44.6h0.9M37.9 42.9h0.9M49.3 46.8h0.9M37.2 40.0h0.9M46.1 49.3h0.9M51.7 45.9h0.9M44.1 50.0h0.9M42.0 37.9h0.9M41.5 41.2h0.9M49.5 30.4h0.9M38.5 38.7h0.9M47.2 49.3h0.9M42.6 44.9h0.9M54.7 35.0h0.9M45.8 29.0h0.9M55.1 42.2h0.9M50.6 24.8h0.9M54.0 22.9h0.9M42.9 32.2h0.9M41.8 38.9h0.9M55.1 41.0h0.9M40.9 43.4h0.9M43.1 33.3h0.9M37.1 41.1h0.9M40.2 34.8h0.9M42.7 45.0h0.9M52.5 22.5h0.9M45.5 28.2h0.9M35.6 34.5h0.9M54.1 43.6h0.9M44.6 30.5h0.9M57.3 36.1h0.9M46.0 26.7h0.9M50.0 26.4h0.9M49.8 48.4h0.9M50.0 29.4h0.9M56.6 27.2h0.9M58.6 30.5h0.9M54.6 40.2h0.9M54.9 33.2h0.9M55.3 31.0h0.9M46.2 46.4h0.9M55.5 36.2h0.9M53.0 29.4h0.9M53.5 25.0h0.9M39.4 48.4h0.9M48.3 46.4h0.9M57.8 36.7h0.9M45.6 46.5h0.9M57.8 32.1h0.9M54.4 43.7h0.9M55.8 33.1h0.9M57.6 41.1h0.9M53.9 31.1h0.9M36.0 44.6h0.9M49.2 48.9h0.9M53.0 43.5h0.9M40.1 29.5h0.9M44.3 46.4h0.9M47.8 29.9h0.9M54.9 34.8h0.9M51.0 27.5h0.9M55.7 42.7h0.9M55.9 34.2h0.9M45.9 46.6h0.9M52.9 27.0h0.9M53.7 44.8h0.9M56.5 34.4h0.9M44.1 45.7h0.9M34.3 33.3h0.9M38.5 41.8h0.9M50.4 45.7h0.9M54.6 26.7h0.9M46.6 22.3h0.9M52.9 28.6h0.9M40.2 41.3h0.9M55.7 27.1h0.9M57.2 40.8h0.9M50.4 21.5h0.9M51.2 45.5h0.9M38.4 42.4h0.9M45.0 46.6h0.9M50.6 48.5h0.9M44.1 49.9h0.9M40.5 33.8h0.9M45.8 47.0h0.9M43.9 48.1h0.9M39.7 42.4h0.9M47.8 49.7h0.9M51.7 22.0h0.9M34.6 44.0h0.9M36.0 30.0h0.9M39.5 43.5h0.9M45.9 30.6h0.9M39.5 45.4h0.9M54.0 23.1h0.9M51.4 47.6h0.9M39.3 45.7h0.9M42.1 48.1h0.9M56.8 41.4h0.9M51.1 45.9h0.9M56.3 39.9h0.9M51.8 27.1h0.9M51.8 22.0h0.9M47.7 49.2h0.9M51.1 46.0h0.9M53.3 46.4h0.9M44.2 29.3h0.9M43.2 48.0h0.9M44.9 32.7h0.9M49.3 28.9h0.9M43.2 47.3h0.9M38.5 44.1h0.9M36.1 45.5h0.9M46.6 27.8h0.9M44.2 46.3h0.9M46.9 47.0h0.9M50.9 47.2h0.9M43.1 49.6h0.9M47.7 29.2h0.9M42.5 47.6h0.9M54.6 33.9h0.9M49.8 29.6h0.9M55.1 36.6h0.9M45.5 25.3h0.9M39.8 47.9h0.9M42.7 47.7h0.9M52.4 46.2h0.9M50.4 46.4h0.9M39.9 35.8h0.9M43.9 49.7h0.9M46.6 50.4h0.9" stroke="#000" stroke-width="0.9" opacity="0.85"/>
<path d="M54.14,39.84 C53.79,40.91 53.30,42.02 52.69,42.87 C52.07,43.73 51.29,44.50 50.46,44.99 C49.63,45.48 48.64,45.77 47.73,45.82 C46.82,45.87 45.80,45.66 44.98,45.28 C44.16,44.89 43.35,44.25 42.80,43.52 C42.25,42.79 41.84,41.84 41.68,40.89 C41.53,39.94 41.60,38.85 41.87,37.83 C42.13,36.81 42.66,35.72 43.26,34.76 C43.86,33.81 44.69,32.86 45.48,32.08 C46.28,31.31 47.20,30.61 48.03,30.12 C48.85,29.63 49.71,29.27 50.44,29.14 C51.17,29.01 51.85,29.06 52.42,29.32 C52.98,29.59 53.46,30.08 53.83,30.72 C54.20,31.37 54.48,32.25 54.63,33.20 C54.79,34.15 54.84,35.31 54.76,36.41 C54.68,37.52 54.48,38.76 54.14,39.84Z" fill="#cdcdcd" stroke="#f4f4f4" stroke-width="0.9"/>
<path d="M53.33,39.55 C53.10,40.39 52.58,40.92 52.03,41.60 C51.47,42.27 50.66,43.21 50.01,43.58 C49.35,43.95 48.85,43.77 48.11,43.82 C47.36,43.88 46.25,44.16 45.52,43.92 C44.80,43.67 44.17,42.98 43.75,42.37 C43.33,41.76 43.03,41.03 42.98,40.26 C42.93,39.50 43.24,38.62 43.45,37.77 C43.67,36.92 43.83,35.93 44.28,35.16 C44.74,34.40 45.56,33.81 46.20,33.20 C46.84,32.60 47.46,31.97 48.11,31.54 C48.76,31.11 49.55,30.72 50.11,30.63 C50.68,30.53 51.07,30.72 51.48,30.96 C51.89,31.21 52.21,31.55 52.57,32.10 C52.92,32.64 53.49,33.48 53.63,34.22 C53.77,34.96 53.45,35.65 53.40,36.54 C53.35,37.43 53.56,38.71 53.33,39.55Z" fill="none" stroke="#f2f2f2" stroke-width="0.55" opacity="1"/>
<path d="M52.22,38.73 C52.04,39.37 51.76,39.98 51.39,40.46 C51.01,40.95 50.49,41.28 49.96,41.64 C49.43,41.99 48.80,42.51 48.22,42.59 C47.64,42.68 46.97,42.38 46.50,42.16 C46.03,41.95 45.77,41.78 45.41,41.33 C45.04,40.88 44.48,40.10 44.30,39.47 C44.12,38.84 44.17,38.19 44.32,37.55 C44.48,36.90 44.80,36.18 45.22,35.57 C45.64,34.97 46.37,34.40 46.85,33.92 C47.32,33.44 47.58,32.98 48.09,32.70 C48.60,32.42 49.50,32.27 49.93,32.25 C50.36,32.23 50.35,32.39 50.67,32.59 C51.00,32.78 51.64,33.05 51.91,33.43 C52.18,33.81 52.19,34.32 52.29,34.86 C52.38,35.40 52.48,36.01 52.47,36.65 C52.46,37.30 52.40,38.10 52.22,38.73Z" fill="none" stroke="#f2f2f2" stroke-width="0.55" opacity="1"/>
<path d="M51.08,38.43 C51.02,38.93 50.75,39.44 50.51,39.76 C50.26,40.09 49.97,40.21 49.61,40.39 C49.24,40.57 48.72,40.88 48.33,40.85 C47.93,40.82 47.55,40.41 47.26,40.21 C46.97,40.00 46.82,39.86 46.59,39.61 C46.36,39.36 46.03,39.05 45.88,38.71 C45.74,38.37 45.61,37.93 45.72,37.56 C45.84,37.19 46.29,36.88 46.58,36.47 C46.87,36.06 47.17,35.39 47.48,35.10 C47.80,34.80 48.14,34.85 48.47,34.70 C48.80,34.56 49.24,34.32 49.48,34.24 C49.72,34.16 49.71,34.19 49.89,34.22 C50.08,34.26 50.40,34.26 50.58,34.47 C50.76,34.67 50.92,35.08 50.97,35.47 C51.02,35.85 50.86,36.28 50.88,36.77 C50.89,37.27 51.14,37.93 51.08,38.43Z" fill="none" stroke="#f2f2f2" stroke-width="0.55" opacity="1"/>
<path d="M49.63,37.66 C49.59,37.88 49.80,38.01 49.68,38.16 C49.55,38.32 49.07,38.46 48.87,38.57 C48.68,38.68 48.66,38.81 48.51,38.84 C48.36,38.87 48.17,38.79 47.97,38.74 C47.78,38.69 47.49,38.62 47.34,38.54 C47.18,38.46 47.03,38.45 47.04,38.25 C47.04,38.05 47.27,37.54 47.37,37.34 C47.47,37.15 47.53,37.25 47.64,37.06 C47.76,36.87 47.93,36.40 48.05,36.19 C48.18,35.98 48.20,35.87 48.40,35.79 C48.59,35.72 49.06,35.71 49.21,35.74 C49.36,35.76 49.26,35.92 49.31,35.94 C49.36,35.97 49.38,35.77 49.51,35.90 C49.63,36.03 49.99,36.57 50.05,36.73 C50.12,36.88 49.96,36.67 49.89,36.83 C49.82,36.98 49.66,37.43 49.63,37.66Z" fill="none" stroke="#f2f2f2" stroke-width="0.55" opacity="1"/>
<path d="M53.11,39.16 C52.84,40.01 52.47,41.16 51.94,41.86 C51.41,42.57 50.62,43.08 49.94,43.38 C49.26,43.68 48.55,43.62 47.85,43.66 C47.15,43.69 46.40,43.84 45.75,43.59 C45.09,43.35 44.37,42.80 43.94,42.18 C43.52,41.56 43.30,40.63 43.21,39.87 C43.12,39.11 43.18,38.36 43.40,37.64 C43.61,36.92 43.98,36.33 44.49,35.58 C45.00,34.82 45.81,33.74 46.48,33.12 C47.14,32.50 47.84,32.16 48.48,31.84 C49.12,31.52 49.80,31.35 50.32,31.21 C50.83,31.07 51.15,30.79 51.58,31.01 C52.01,31.23 52.62,32.05 52.91,32.53 C53.20,33.02 53.23,33.21 53.34,33.91 C53.45,34.62 53.60,35.90 53.56,36.77 C53.52,37.65 53.38,38.31 53.11,39.16Z" fill="none" stroke="#9a9a9a" stroke-width="0.4" opacity="1"/>
<path d="M52.14,39.08 C51.94,39.76 51.75,40.27 51.34,40.73 C50.93,41.19 50.21,41.56 49.67,41.85 C49.14,42.15 48.65,42.42 48.13,42.48 C47.61,42.54 47.07,42.44 46.58,42.20 C46.10,41.96 45.52,41.46 45.23,41.02 C44.94,40.59 44.89,40.14 44.84,39.59 C44.79,39.05 44.86,38.37 44.93,37.73 C45.00,37.09 44.97,36.36 45.27,35.76 C45.56,35.15 46.21,34.57 46.68,34.08 C47.15,33.59 47.57,33.07 48.08,32.83 C48.59,32.59 49.21,32.65 49.71,32.66 C50.22,32.66 50.77,32.80 51.11,32.87 C51.46,32.95 51.63,32.84 51.78,33.13 C51.93,33.42 51.89,34.03 52.01,34.62 C52.13,35.21 52.48,35.92 52.50,36.67 C52.52,37.41 52.33,38.40 52.14,39.08Z" fill="none" stroke="#9a9a9a" stroke-width="0.4" opacity="1"/>
<path d="M51.06,38.31 C50.95,38.75 50.64,39.48 50.38,39.80 C50.13,40.11 49.85,40.04 49.52,40.20 C49.18,40.35 48.73,40.67 48.38,40.71 C48.04,40.74 47.84,40.53 47.46,40.43 C47.08,40.33 46.41,40.42 46.13,40.10 C45.84,39.79 45.78,38.91 45.77,38.52 C45.76,38.13 45.96,38.18 46.08,37.77 C46.19,37.36 46.21,36.51 46.47,36.06 C46.72,35.61 47.30,35.40 47.60,35.07 C47.90,34.74 47.93,34.29 48.27,34.08 C48.61,33.87 49.35,33.82 49.64,33.80 C49.93,33.77 49.78,33.76 50.00,33.95 C50.21,34.13 50.76,34.61 50.92,34.90 C51.08,35.19 50.94,35.31 50.96,35.69 C50.98,36.06 51.03,36.72 51.05,37.15 C51.07,37.59 51.17,37.87 51.06,38.31Z" fill="none" stroke="#9a9a9a" stroke-width="0.4" opacity="1"/>
<path d="M49.94,37.99 C49.88,38.24 49.96,38.47 49.82,38.60 C49.68,38.73 49.34,38.64 49.09,38.77 C48.83,38.90 48.46,39.31 48.28,39.37 C48.10,39.44 48.20,39.26 48.00,39.18 C47.80,39.10 47.19,39.02 47.07,38.88 C46.95,38.74 47.26,38.57 47.30,38.34 C47.33,38.11 47.27,37.80 47.28,37.52 C47.29,37.24 47.28,36.86 47.36,36.63 C47.44,36.41 47.59,36.32 47.77,36.19 C47.96,36.05 48.25,35.99 48.45,35.83 C48.64,35.68 48.80,35.36 48.94,35.28 C49.08,35.20 49.12,35.22 49.31,35.33 C49.49,35.45 49.88,35.86 50.05,35.98 C50.22,36.11 50.29,35.89 50.31,36.08 C50.34,36.27 50.27,36.81 50.21,37.13 C50.14,37.45 50.01,37.75 49.94,37.99Z" fill="none" stroke="#9a9a9a" stroke-width="0.4" opacity="1"/>
</g>
<rect x="29.5" y="120.5" width="64" height="59.5" fill="none" stroke="#666" stroke-width="1"/>
<text x="32.0" y="132.5" font-size="12.5" text-anchor="start" font-weight="normal" font-style="normal" fill="#111" >0.4</text>
<text x="90.5" y="132.5" font-size="12.5" text-anchor="end" font-weight="normal" font-style="normal" fill="#111" >40</text>
<text x="90.5" y="178.2" font-size="12.5" text-anchor="end" font-weight="normal" font-style="normal" fill="#111" >59</text>
<line x1="128.5" y1="120.5" x2="128.5" y2="180.0" stroke="#9a9a9a" stroke-width="1"/>
<line x1="96.5" y1="156.5" x2="160.5" y2="156.5" stroke="#9a9a9a" stroke-width="1"/>
<g transform="translate(96.5,120.5)">
<path d="M27.2 28.2h0.9M34.9 29.6h0.9M12.9 38.3h0.9M27.2 36.5h0.9M17.6 34.8h0.9M19.0 26.1h0.9M18.0 36.2h0.9M26.9 43.4h0.9M31.6 28.7h0.9M26.9 26.7h0.9M24.5 27.3h0.9M14.7 29.5h0.9M35.7 23.9h0.9M27.6 34.5h0.9M17.3 33.7h0.9M25.9 49.6h0.9M25.7 32.0h0.9M37.9 33.8h0.9M43.8 27.7h0.9M18.2 21.7h0.9M12.5 33.3h0.9M27.0 29.8h0.9M17.4 22.3h0.9M33.6 42.4h0.9M36.9 48.5h0.9M25.0 24.8h0.9M19.5 36.0h0.9M16.0 18.4h0.9M33.5 42.3h0.9M12.3 39.3h0.9M29.1 31.6h0.9M39.6 28.0h0.9M32.1 39.7h0.9M23.6 34.6h0.9M32.9 34.8h0.9M26.7 30.5h0.9M6.6 25.2h0.9M13.6 40.9h0.9M9.9 25.9h0.9M18.4 35.3h0.9M29.6 36.2h0.9M41.5 43.7h0.9M36.8 42.4h0.9M25.4 24.6h0.9M30.4 33.9h0.9M33.5 29.6h0.9M25.0 28.9h0.9M33.0 34.4h0.9M20.0 36.3h0.9M15.7 25.4h0.9M15.9 30.2h0.9M17.3 35.4h0.9M14.6 30.2h0.9M9.0 17.9h0.9M18.0 40.9h0.9M39.5 39.9h0.9M10.9 30.6h0.9M19.4 31.1h0.9M25.1 31.7h0.9M28.0 40.0h0.9M37.7 27.4h0.9M31.4 28.8h0.9M11.2 29.5h0.9M24.4 35.5h0.9M21.7 35.0h0.9M30.2 32.7h0.9M32.8 25.0h0.9M24.0 23.3h0.9M3.2 34.1h0.9M19.7 37.0h0.9M23.0 35.1h0.9M31.9 33.1h0.9M19.6 29.0h0.9M15.8 33.3h0.9M24.1 27.3h0.9M8.2 36.0h0.9M20.0 17.8h0.9M35.2 33.2h0.9M31.6 46.2h0.9M24.1 45.1h0.9M7.0 31.2h0.9M29.7 19.1h0.9M31.8 27.8h0.9M13.8 18.5h0.9M27.2 25.2h0.9M32.3 21.7h0.9M13.9 35.1h0.9M2.3 38.8h0.9M27.2 49.8h0.9M29.0 36.5h0.9M22.8 21.5h0.9M21.1 38.0h0.9M8.6 27.7h0.9M15.6 37.7h0.9M7.0 38.0h0.9M35.6 26.8h0.9M23.8 39.8h0.9M11.8 37.3h0.9M18.5 41.2h0.9M11.6 31.1h0.9M34.1 31.0h0.9M24.0 33.2h0.9M39.2 33.1h0.9M35.5 26.0h0.9M24.7 34.2h0.9M20.4 33.3h0.9M36.6 36.9h0.9M30.5 39.1h0.9M30.6 25.8h0.9M15.1 38.0h0.9M29.5 30.3h0.9M22.3 27.5h0.9M22.0 31.2h0.9M30.5 33.9h0.9M22.3 27.5h0.9M22.7 26.5h0.9M36.6 20.4h0.9M23.9 27.7h0.9M34.2 35.4h0.9M23.8 33.9h0.9M21.4 19.4h0.9M36.7 19.9h0.9M13.3 28.6h0.9M33.8 32.1h0.9M24.7 26.7h0.9M36.9 28.9h0.9M43.5 32.2h0.9M15.2 26.8h0.9M27.4 36.5h0.9M36.2 36.9h0.9M24.4 33.7h0.9M11.6 26.8h0.9M30.4 35.1h0.9M35.9 25.5h0.9M25.7 27.2h0.9M38.0 35.5h0.9M12.1 28.3h0.9M37.0 36.0h0.9M30.2 25.7h0.9M18.1 32.0h0.9M19.0 35.8h0.9M47.5 40.3h0.9M23.1 36.0h0.9M18.3 30.2h0.9M26.7 28.1h0.9M19.6 37.4h0.9M41.5 35.7h0.9M12.7 26.9h0.9M28.9 31.5h0.9M26.6 26.8h0.9M43.6 20.2h0.9M8.2 40.1h0.9M20.3 34.4h0.9M11.7 37.2h0.9M12.7 31.8h0.9M35.0 38.5h0.9M20.7 23.0h0.9M26.2 43.4h0.9M26.0 26.4h0.9M20.5 39.5h0.9M2.5 23.7h0.9M24.2 31.4h0.9M21.3 41.6h0.9M37.1 28.1h0.9M27.4 28.7h0.9M23.6 38.4h0.9M36.6 39.2h0.9M13.5 24.6h0.9M19.4 22.2h0.9M35.9 34.3h0.9M17.0 31.1h0.9M24.8 46.0h0.9M25.7 33.1h0.9M38.9 22.2h0.9M15.8 36.3h0.9M29.1 23.4h0.9M15.2 35.1h0.9M15.9 27.1h0.9M15.0 30.9h0.9M22.3 28.0h0.9M25.5 40.4h0.9M34.2 34.0h0.9M38.4 38.2h0.9M7.3 25.7h0.9M27.2 35.5h0.9M12.6 27.2h0.9M22.7 34.6h0.9M24.2 29.2h0.9M15.7 22.1h0.9M23.2 35.5h0.9M24.2 30.9h0.9M21.5 31.8h0.9M29.8 28.1h0.9M10.6 28.2h0.9M11.1 26.9h0.9M26.5 34.6h0.9M23.5 30.4h0.9M32.8 38.5h0.9M24.5 29.2h0.9M23.3 33.7h0.9M25.3 28.3h0.9M15.6 34.7h0.9M45.5 38.8h0.9M25.4 33.6h0.9M22.0 30.9h0.9M21.1 38.7h0.9M11.2 45.0h0.9M34.9 26.2h0.9M10.7 29.2h0.9M32.1 28.9h0.9M11.4 39.3h0.9M16.4 36.6h0.9M20.1 23.5h0.9M29.8 37.0h0.9M29.2 39.8h0.9M34.3 25.8h0.9M20.9 31.5h0.9M12.0 45.2h0.9M11.8 21.7h0.9M24.9 34.5h0.9M31.4 34.6h0.9M16.9 38.1h0.9M16.6 44.7h0.9M13.9 25.3h0.9M53.8 38.3h0.9M14.8 32.3h0.9M19.2 16.8h0.9M21.9 41.5h0.9M18.7 27.8h0.9M26.9 36.2h0.9M31.6 51.1h0.9M21.6 26.0h0.9M32.6 31.7h0.9M26.6 23.8h0.9M42.9 39.8h0.9M45.6 33.6h0.9M14.3 39.6h0.9M33.1 32.6h0.9M39.0 21.4h0.9M24.5 22.8h0.9M19.7 31.2h0.9M7.4 27.3h0.9M27.0 30.7h0.9M22.0 30.4h0.9M35.0 40.2h0.9M20.0 39.9h0.9M41.1 28.3h0.9M34.5 22.9h0.9M29.0 26.7h0.9M16.2 33.5h0.9M39.3 29.1h0.9M32.0 32.6h0.9M22.6 30.9h0.9M24.9 31.0h0.9M23.6 26.7h0.9M17.9 31.3h0.9M14.3 38.3h0.9M7.7 37.8h0.9M10.2 34.2h0.9M19.8 23.3h0.9M24.2 31.9h0.9M42.1 33.5h0.9M13.5 29.3h0.9M37.0 21.9h0.9M26.4 40.7h0.9M18.9 37.9h0.9M27.0 40.1h0.9M10.9 32.7h0.9M11.0 25.1h0.9M27.1 34.7h0.9M38.1 49.3h0.9M21.4 21.5h0.9M24.5 28.9h0.9M40.0 32.2h0.9M27.8 34.8h0.9M37.8 29.6h0.9M15.2 32.4h0.9M11.7 36.1h0.9M25.8 25.3h0.9M40.0 29.2h0.9M41.5 34.8h0.9M13.5 29.0h0.9M25.9 36.0h0.9M24.0 35.7h0.9M27.0 27.8h0.9M20.6 31.0h0.9M14.1 30.9h0.9M23.3 35.0h0.9M28.3 26.8h0.9M38.8 27.0h0.9M29.0 40.8h0.9M21.0 25.0h0.9M15.8 31.0h0.9M29.2 31.5h0.9M19.2 33.7h0.9M15.3 22.2h0.9M41.7 37.7h0.9M31.1 31.4h0.9M24.0 32.8h0.9M15.4 40.1h0.9M25.0 35.0h0.9M22.8 27.5h0.9M40.1 32.0h0.9M10.9 41.2h0.9M11.1 37.5h0.9M21.1 39.9h0.9M14.8 22.3h0.9M5.4 34.7h0.9M12.3 45.9h0.9M22.3 14.7h0.9M41.1 26.0h0.9M27.3 26.4h0.9M25.6 31.9h0.9M30.8 28.4h0.9M37.9 38.3h0.9M37.5 34.5h0.9M52.3 18.5h0.9M22.2 37.8h0.9M34.3 34.3h0.9M27.3 28.0h0.9M36.4 46.5h0.9M29.4 37.8h0.9M29.5 31.6h0.9M18.4 42.3h0.9M38.0 39.6h0.9M26.0 27.5h0.9M18.5 44.9h0.9M49.8 28.4h0.9M21.9 36.0h0.9M14.8 32.0h0.9M17.2 22.9h0.9M18.9 27.1h0.9M23.5 31.8h0.9M10.1 45.4h0.9M17.6 26.7h0.9M33.1 35.2h0.9M21.1 30.9h0.9M26.6 42.3h0.9M29.1 49.2h0.9M37.7 37.9h0.9M45.6 44.3h0.9M29.4 29.5h0.9M37.0 26.2h0.9M25.1 26.4h0.9M34.1 39.1h0.9M19.8 30.4h0.9M33.3 27.3h0.9M34.2 40.1h0.9M17.8 19.3h0.9M23.1 33.6h0.9M9.2 43.7h0.9M5.6 33.6h0.9M27.2 34.7h0.9M29.1 20.7h0.9M17.1 33.2h0.9M25.1 46.3h0.9M15.4 40.9h0.9M6.1 21.0h0.9M18.3 30.4h0.9M17.7 37.0h0.9M13.0 28.6h0.9M17.1 24.1h0.9M6.1 26.1h0.9M25.3 24.0h0.9M18.4 37.6h0.9M22.3 39.1h0.9M24.0 24.6h0.9M38.3 39.3h0.9M32.4 24.7h0.9M42.5 45.3h0.9M15.8 27.0h0.9M17.6 33.7h0.9M10.1 19.8h0.9M38.3 34.0h0.9M22.3 19.5h0.9M11.1 38.3h0.9M10.3 27.4h0.9M26.8 33.2h0.9M30.6 34.6h0.9M27.9 40.1h0.9M17.4 33.0h0.9M26.1 33.5h0.9M26.1 37.5h0.9M24.9 23.4h0.9M33.3 28.8h0.9M22.9 40.7h0.9M28.8 41.0h0.9M22.7 37.0h0.9M28.8 32.1h0.9M37.7 26.8h0.9M29.7 33.1h0.9M25.0 31.9h0.9M36.9 33.8h0.9M33.5 34.8h0.9M49.6 33.7h0.9M7.1 32.4h0.9M18.2 40.5h0.9M30.4 24.6h0.9M29.6 36.0h0.9M13.5 27.9h0.9M22.1 42.7h0.9M23.7 31.0h0.9M27.9 31.5h0.9M25.2 30.9h0.9M30.8 42.2h0.9M30.3 32.0h0.9M22.6 37.2h0.9M37.4 31.8h0.9M15.8 36.7h0.9M2.9 37.5h0.9M23.4 28.6h0.9M17.4 32.8h0.9M11.4 31.5h0.9M20.9 33.5h0.9M7.7 31.7h0.9M23.6 26.4h0.9M8.5 29.4h0.9M18.9 43.8h0.9M27.0 37.0h0.9M12.6 36.1h0.9M27.5 37.2h0.9M33.6 30.1h0.9M27.3 33.2h0.9M26.5 31.4h0.9M29.5 38.1h0.9M33.0 36.1h0.9M18.1 38.9h0.9M18.8 33.5h0.9M34.6 34.7h0.9M28.8 30.0h0.9M34.6 25.2h0.9M29.4 39.3h0.9M44.9 32.9h0.9M22.9 29.4h0.9M23.4 40.7h0.9M29.8 30.4h0.9M18.5 39.5h0.9M38.1 27.1h0.9M10.3 26.8h0.9M21.1 28.0h0.9M32.9 38.8h0.9" stroke="#555" stroke-width="0.9" opacity="0.6"/>
<path d="M32.1 34.5h0.9M33.5 27.1h0.9M43.5 27.7h0.9M39.5 37.1h0.9M34.2 35.1h0.9M44.3 31.2h0.9M34.4 34.6h0.9M38.8 41.5h0.9M40.1 31.8h0.9M34.5 35.1h0.9M35.6 30.5h0.9M43.5 37.0h0.9M36.0 41.6h0.9M42.4 29.1h0.9M44.1 27.8h0.9M40.8 35.2h0.9M35.6 27.6h0.9M45.4 33.8h0.9M35.5 28.3h0.9M35.6 33.0h0.9M35.9 32.4h0.9M33.1 21.2h0.9M38.7 38.1h0.9M30.7 27.8h0.9M39.9 38.7h0.9M36.1 31.2h0.9M44.0 37.6h0.9M34.2 28.0h0.9M36.2 32.7h0.9M33.4 34.3h0.9M35.6 33.1h0.9M42.4 36.4h0.9M36.0 25.1h0.9M41.6 31.2h0.9M35.2 36.8h0.9M32.1 33.2h0.9M39.2 31.5h0.9M31.9 28.8h0.9M38.0 27.1h0.9M41.2 35.7h0.9M32.3 27.5h0.9M38.7 38.7h0.9M37.1 34.9h0.9M41.7 32.5h0.9M28.2 39.2h0.9M38.6 28.7h0.9M45.0 29.4h0.9M34.0 30.9h0.9M43.3 22.4h0.9M36.3 28.8h0.9M42.1 27.1h0.9M44.7 28.8h0.9M35.0 21.5h0.9M32.9 36.4h0.9M37.9 27.0h0.9M43.2 41.6h0.9M33.7 31.9h0.9M34.8 32.4h0.9M39.8 29.4h0.9M38.2 41.9h0.9M34.5 33.8h0.9M41.8 36.7h0.9M33.7 37.4h0.9M36.0 29.6h0.9M39.3 34.3h0.9M29.1 29.1h0.9M37.4 19.7h0.9M39.6 36.8h0.9M37.1 27.5h0.9M31.4 38.9h0.9M46.3 40.5h0.9M40.0 40.8h0.9M35.1 27.1h0.9M37.1 28.5h0.9M38.7 42.2h0.9M39.4 32.7h0.9M47.5 44.5h0.9M40.0 34.5h0.9M34.5 33.3h0.9M36.7 27.0h0.9M38.6 30.7h0.9M38.5 37.3h0.9M42.9 11.8h0.9M36.0 36.4h0.9M40.3 35.1h0.9M47.8 31.9h0.9M40.2 31.7h0.9M49.3 42.1h0.9M36.6 21.2h0.9M44.4 26.0h0.9M46.1 34.4h0.9M27.7 26.3h0.9M39.3 39.1h0.9M42.8 40.7h0.9M31.2 27.1h0.9M31.4 29.7h0.9M37.0 35.1h0.9M39.4 34.4h0.9M44.4 35.1h0.9M36.5 15.7h0.9M38.6 29.6h0.9M39.7 38.6h0.9M36.8 36.1h0.9M38.9 23.9h0.9M33.4 37.2h0.9M33.8 28.9h0.9M33.6 28.1h0.9M41.4 33.0h0.9M39.9 35.1h0.9M34.3 29.3h0.9M42.5 30.2h0.9M44.5 27.3h0.9M36.2 37.0h0.9M36.0 28.0h0.9M38.7 35.0h0.9M43.3 18.9h0.9M37.7 30.4h0.9M43.5 34.2h0.9M30.5 41.7h0.9M32.1 36.1h0.9M39.2 33.8h0.9M38.2 25.1h0.9M40.9 29.6h0.9M33.7 31.2h0.9M38.7 25.3h0.9M39.3 30.6h0.9M35.7 28.8h0.9M39.0 27.5h0.9M38.3 34.2h0.9M35.9 33.4h0.9M38.5 21.1h0.9M35.0 42.3h0.9M35.7 26.7h0.9M47.3 41.6h0.9M37.4 35.6h0.9M39.1 18.5h0.9M40.0 25.1h0.9M32.9 47.6h0.9M31.7 35.1h0.9M38.9 27.5h0.9M42.1 33.0h0.9M36.9 29.6h0.9M38.3 40.4h0.9M41.7 40.8h0.9M39.3 38.3h0.9M44.5 26.4h0.9M44.4 29.7h0.9M36.4 38.2h0.9M39.0 26.0h0.9M46.0 27.2h0.9M35.8 34.7h0.9M43.5 26.2h0.9M32.4 32.2h0.9M35.7 27.2h0.9M36.9 39.3h0.9M44.3 25.8h0.9M45.7 25.9h0.9M34.3 33.7h0.9M38.2 33.2h0.9M38.7 32.1h0.9M37.3 31.4h0.9M37.2 35.8h0.9M33.6 33.2h0.9M40.8 29.0h0.9M40.5 20.4h0.9M41.4 31.7h0.9M40.6 31.5h0.9M30.2 39.2h0.9M35.5 31.8h0.9M35.1 36.3h0.9M43.2 28.7h0.9M43.7 31.9h0.9M40.5 33.2h0.9M35.8 34.9h0.9M33.3 34.8h0.9M42.0 27.5h0.9M34.4 27.8h0.9M43.6 25.4h0.9M36.2 39.8h0.9M37.5 34.7h0.9M38.0 38.4h0.9M47.2 22.0h0.9M40.6 37.3h0.9M37.0 30.9h0.9M34.3 35.6h0.9M32.2 20.9h0.9M39.3 29.6h0.9M39.7 39.6h0.9M31.8 33.4h0.9M36.9 23.2h0.9M38.3 38.7h0.9M38.0 26.3h0.9M42.5 27.3h0.9M29.7 44.8h0.9M35.3 32.7h0.9M38.0 47.6h0.9M38.8 38.1h0.9M32.8 42.7h0.9M36.5 25.8h0.9M35.2 21.9h0.9M31.5 40.7h0.9M42.3 34.7h0.9M39.4 30.1h0.9M33.8 32.0h0.9M36.5 35.0h0.9M40.1 17.9h0.9M46.4 31.9h0.9M33.0 30.6h0.9M38.9 32.9h0.9M42.9 34.4h0.9M39.0 25.2h0.9M42.9 35.9h0.9M31.9 30.3h0.9M43.4 34.9h0.9M33.8 37.1h0.9M38.4 28.3h0.9M38.5 36.3h0.9M38.8 23.8h0.9M36.0 40.8h0.9M39.0 23.8h0.9" stroke="#444" stroke-width="0.9" opacity="0.55"/>
<path d="M46.7 31.8h0.9M45.8 26.2h0.9M48.8 32.4h0.9M43.9 34.5h0.9M38.0 40.2h0.9M47.3 33.2h0.9M45.8 29.6h0.9M42.3 30.4h0.9M44.9 39.8h0.9M44.5 24.5h0.9M44.2 36.1h0.9M51.7 34.5h0.9M41.5 32.6h0.9M43.8 34.9h0.9M45.7 49.4h0.9M42.3 38.5h0.9M48.8 30.4h0.9M45.4 35.4h0.9M45.7 36.0h0.9M45.8 36.6h0.9M43.4 39.4h0.9M42.9 37.3h0.9M42.9 32.9h0.9M47.1 32.4h0.9M43.0 29.0h0.9M44.8 33.3h0.9M51.1 32.8h0.9M47.3 34.3h0.9M49.5 28.7h0.9M39.9 28.9h0.9M48.7 40.0h0.9M46.2 37.7h0.9M47.6 31.5h0.9M40.9 30.6h0.9M40.0 37.6h0.9M48.8 31.3h0.9M41.5 42.0h0.9M44.9 35.2h0.9M46.6 30.4h0.9M49.2 37.0h0.9M49.7 35.0h0.9M46.0 29.8h0.9M46.8 26.2h0.9M45.4 36.7h0.9M47.6 38.2h0.9M47.8 29.9h0.9M42.3 34.8h0.9M41.5 28.9h0.9M45.1 37.3h0.9M49.6 35.8h0.9M43.8 32.0h0.9M48.3 26.8h0.9M49.4 34.6h0.9M48.3 35.0h0.9M48.7 29.2h0.9M45.8 35.9h0.9M45.1 33.4h0.9M44.9 36.9h0.9M44.3 38.9h0.9M46.3 28.2h0.9M39.7 34.7h0.9M43.4 33.7h0.9M48.1 26.2h0.9M47.7 38.4h0.9M46.2 33.1h0.9M46.9 21.9h0.9M39.3 37.3h0.9M47.2 27.3h0.9M47.3 30.2h0.9M44.4 33.6h0.9M42.6 29.6h0.9M46.6 40.3h0.9M44.9 39.8h0.9M47.9 35.0h0.9M48.0 36.2h0.9M41.9 31.2h0.9M39.3 28.0h0.9M41.0 42.2h0.9M47.0 29.4h0.9M48.7 41.7h0.9M49.5 31.6h0.9M48.1 39.4h0.9M42.0 33.2h0.9M42.4 37.4h0.9M43.9 22.7h0.9M47.8 36.4h0.9M40.8 28.3h0.9M47.5 28.5h0.9M45.0 33.0h0.9M51.2 30.7h0.9M40.4 36.3h0.9M45.8 39.0h0.9M40.3 28.8h0.9M48.2 27.3h0.9M39.7 32.8h0.9M50.0 29.2h0.9M43.9 47.4h0.9M46.9 29.9h0.9M46.2 32.5h0.9M46.1 32.9h0.9M42.7 42.7h0.9M45.2 34.7h0.9M50.8 44.4h0.9M48.8 44.8h0.9M40.2 32.8h0.9M42.8 33.6h0.9M44.8 36.3h0.9M40.1 42.9h0.9M43.3 30.5h0.9M44.3 38.9h0.9M43.6 21.7h0.9M46.3 33.3h0.9M47.0 37.9h0.9M42.9 34.9h0.9M45.4 28.7h0.9M46.3 27.7h0.9M45.1 34.1h0.9M42.9 36.4h0.9M44.4 24.1h0.9M41.3 33.9h0.9M46.0 32.8h0.9M50.1 35.6h0.9M45.0 42.2h0.9M45.3 32.2h0.9M49.2 27.1h0.9M40.5 21.5h0.9M45.5 38.7h0.9M40.0 25.3h0.9M41.4 24.9h0.9M47.7 26.6h0.9M41.7 33.3h0.9M48.2 46.3h0.9M43.9 40.7h0.9M38.0 42.7h0.9M42.7 44.5h0.9M47.4 39.2h0.9M47.8 48.2h0.9M42.7 35.3h0.9M43.2 37.3h0.9M48.6 44.5h0.9M39.1 29.3h0.9M41.2 37.9h0.9M47.9 34.7h0.9M46.4 28.6h0.9M44.5 39.4h0.9M46.4 38.8h0.9M42.0 30.2h0.9M46.0 38.7h0.9M46.8 33.1h0.9M48.7 32.8h0.9" stroke="#111" stroke-width="0.9" opacity="0.6"/>
<path d="M50.8 48.8h0.9M43.6 41.6h0.9M55.6 31.7h0.9M50.2 27.8h0.9M48.7 45.8h0.9M50.4 29.3h0.9M52.2 17.7h0.9M54.9 41.1h0.9M41.4 45.8h0.9M47.2 45.2h0.9M39.3 46.9h0.9M55.9 21.4h0.9M54.0 24.8h0.9M54.3 22.8h0.9M43.6 39.3h0.9M47.8 50.6h0.9M56.3 35.5h0.9M48.3 24.7h0.9M51.5 47.6h0.9M55.1 23.9h0.9M43.7 39.3h0.9M52.0 24.8h0.9M46.3 24.6h0.9M55.6 29.8h0.9M56.3 32.5h0.9M43.6 40.6h0.9M41.2 44.6h0.9M55.1 23.4h0.9M42.6 36.1h0.9M57.4 38.7h0.9M56.2 39.6h0.9M43.1 34.7h0.9M55.5 42.6h0.9M57.0 21.3h0.9M58.2 33.3h0.9M34.8 29.1h0.9M48.7 51.0h0.9M46.2 31.2h0.9M41.3 43.4h0.9M44.8 46.7h0.9M47.4 45.6h0.9M57.6 38.3h0.9M51.3 44.8h0.9M52.7 28.5h0.9M42.1 42.5h0.9M56.4 37.8h0.9M57.1 34.2h0.9M53.5 43.6h0.9M43.6 38.8h0.9M49.1 47.8h0.9M44.1 42.5h0.9M56.0 44.4h0.9M57.1 35.9h0.9M57.1 38.2h0.9M43.7 41.0h0.9M47.4 49.0h0.9M55.6 29.7h0.9M57.0 22.8h0.9M49.7 28.6h0.9M53.1 44.2h0.9M51.4 24.0h0.9M58.8 22.3h0.9M55.3 41.3h0.9M56.5 36.7h0.9M39.3 32.6h0.9M50.2 28.5h0.9M46.4 50.4h0.9M49.1 29.8h0.9M42.9 48.3h0.9M55.5 42.4h0.9M50.9 28.4h0.9M56.1 39.7h0.9M41.1 36.7h0.9M46.5 44.5h0.9M44.1 38.9h0.9M50.1 27.4h0.9M60.2 35.1h0.9M38.6 37.7h0.9M56.6 22.0h0.9M36.1 46.4h0.9M39.8 45.7h0.9M42.2 49.4h0.9M49.5 27.5h0.9M49.2 50.3h0.9M58.5 24.4h0.9M39.0 45.2h0.9M56.5 29.1h0.9M57.3 31.2h0.9M47.4 26.5h0.9M43.9 40.6h0.9M48.1 28.7h0.9M45.1 29.8h0.9M59.7 31.1h0.9M56.1 31.0h0.9M54.1 24.6h0.9M44.3 47.0h0.9M55.5 29.1h0.9M56.5 30.5h0.9M41.8 40.7h0.9M52.4 43.4h0.9M49.7 27.9h0.9M40.4 41.1h0.9M57.9 35.5h0.9M42.1 48.0h0.9M49.2 28.1h0.9M38.9 45.4h0.9M46.8 17.7h0.9M55.3 31.6h0.9M59.0 34.1h0.9M42.5 50.5h0.9M54.4 41.0h0.9M53.5 46.0h0.9M51.2 45.5h0.9M55.9 39.4h0.9M41.9 35.9h0.9M45.7 32.4h0.9M44.6 34.0h0.9M50.6 44.5h0.9M54.8 24.3h0.9M50.1 24.1h0.9M48.9 29.7h0.9M52.9 49.3h0.9M45.9 30.0h0.9M40.8 37.6h0.9M38.2 33.5h0.9M53.0 27.8h0.9M39.7 40.8h0.9M41.9 43.5h0.9M49.5 30.0h0.9M52.9 26.3h0.9M42.8 50.4h0.9M43.1 41.1h0.9M44.0 34.0h0.9M44.5 42.6h0.9M51.3 25.0h0.9M52.1 26.3h0.9M53.0 45.9h0.9M37.1 25.0h0.9M45.9 34.7h0.9M44.3 43.1h0.9M55.8 24.8h0.9M54.2 28.4h0.9M51.7 27.1h0.9M45.3 44.4h0.9M52.9 44.5h0.9M44.9 45.1h0.9M39.3 32.9h0.9M45.2 37.7h0.9M54.0 22.2h0.9M51.4 45.2h0.9M51.4 25.0h0.9M47.4 45.5h0.9M44.4 37.7h0.9M58.4 29.3h0.9M52.6 44.8h0.9M46.6 46.4h0.9M45.9 19.1h0.9M46.1 44.8h0.9M39.5 48.3h0.9M47.6 49.5h0.9M49.6 45.7h0.9M47.6 45.2h0.9M35.3 43.2h0.9M57.4 24.4h0.9M44.9 35.7h0.9M44.3 40.8h0.9M54.3 40.8h0.9M59.2 23.4h0.9M38.0 36.1h0.9M49.8 45.7h0.9M48.5 49.1h0.9M57.3 20.2h0.9M43.6 42.5h0.9M45.5 47.1h0.9M43.1 32.3h0.9M53.7 27.2h0.9M49.1 45.0h0.9M54.3 27.7h0.9M56.5 29.3h0.9M41.2 20.7h0.9M55.0 42.7h0.9M50.8 45.7h0.9M47.9 20.4h0.9M41.0 44.5h0.9M56.5 29.3h0.9M51.2 45.2h0.9M55.2 23.7h0.9M44.5 36.8h0.9M50.8 46.4h0.9M35.7 33.5h0.9M46.7 32.9h0.9M43.9 45.8h0.9M53.9 46.1h0.9M53.3 24.7h0.9M43.2 32.1h0.9M34.4 43.8h0.9M55.3 24.6h0.9M54.7 44.4h0.9M48.2 45.0h0.9M51.8 23.3h0.9M45.7 23.6h0.9M54.3 42.1h0.9M54.1 23.0h0.9M48.5 45.9h0.9M55.6 30.1h0.9M59.2 33.4h0.9M55.7 30.0h0.9M42.9 21.7h0.9M51.5 24.1h0.9M56.6 33.0h0.9M54.4 42.4h0.9M53.3 45.6h0.9M57.3 29.1h0.9M45.3 18.4h0.9M51.2 29.3h0.9M52.6 24.3h0.9M50.6 23.9h0.9M44.7 42.1h0.9M41.6 38.9h0.9M42.0 40.1h0.9M38.5 36.0h0.9M51.6 45.1h0.9M45.8 33.0h0.9M44.6 34.8h0.9M57.8 39.4h0.9M48.1 29.3h0.9M49.4 18.0h0.9M44.7 41.9h0.9M45.6 44.0h0.9M54.2 43.4h0.9M43.0 37.7h0.9M48.8 45.4h0.9M47.9 46.2h0.9M44.4 45.4h0.9M43.4 39.3h0.9M56.1 34.8h0.9M51.3 26.9h0.9M46.8 44.4h0.9M54.9 28.2h0.9M51.5 28.0h0.9M51.3 28.8h0.9M45.1 42.8h0.9M56.1 41.5h0.9M43.0 38.5h0.9M48.2 45.7h0.9M33.5 37.9h0.9M44.4 29.8h0.9M42.3 50.0h0.9M58.3 23.1h0.9M55.4 40.8h0.9M57.8 33.8h0.9M55.7 30.3h0.9M55.8 37.7h0.9M59.9 36.8h0.9M54.1 42.3h0.9M57.1 37.5h0.9M51.4 27.3h0.9M44.5 36.5h0.9M49.0 25.6h0.9M53.0 23.2h0.9M52.9 44.3h0.9M42.9 49.6h0.9M40.5 44.0h0.9M49.9 46.6h0.9M49.0 45.8h0.9M43.6 37.8h0.9M54.8 46.4h0.9M45.9 45.0h0.9M50.9 22.2h0.9M47.0 18.6h0.9M50.9 45.3h0.9M44.5 43.5h0.9M44.8 33.6h0.9M44.5 36.3h0.9M49.1 46.9h0.9M48.7 48.1h0.9M56.3 41.7h0.9M56.2 32.5h0.9M40.6 42.1h0.9M55.5 42.1h0.9M48.1 30.2h0.9M55.5 19.2h0.9M44.4 37.1h0.9M52.8 24.8h0.9M49.3 46.3h0.9M54.5 45.0h0.9M52.7 27.8h0.9M56.2 29.4h0.9M43.7 34.4h0.9M38.8 49.2h0.9M42.7 51.0h0.9M36.8 46.4h0.9M59.7 38.3h0.9M49.5 29.9h0.9M54.4 24.2h0.9M57.5 35.8h0.9M51.5 17.7h0.9M52.0 44.8h0.9M43.9 35.8h0.9M43.5 27.3h0.9" stroke="#222" stroke-width="0.9" opacity="0.5"/>
<path d="M55.58,38.01 C55.31,39.13 54.90,40.30 54.38,41.24 C53.85,42.18 53.17,43.04 52.44,43.64 C51.72,44.24 50.83,44.67 50.01,44.84 C49.19,45.00 48.27,44.93 47.52,44.66 C46.77,44.38 46.02,43.85 45.50,43.19 C44.98,42.53 44.58,41.64 44.40,40.72 C44.23,39.79 44.27,38.69 44.47,37.63 C44.67,36.58 45.11,35.42 45.62,34.39 C46.13,33.35 46.84,32.30 47.53,31.42 C48.22,30.54 49.03,29.72 49.75,29.12 C50.48,28.52 51.24,28.05 51.89,27.82 C52.54,27.59 53.16,27.55 53.68,27.74 C54.20,27.93 54.64,28.36 55.00,28.95 C55.35,29.55 55.63,30.39 55.80,31.32 C55.97,32.25 56.06,33.39 56.03,34.51 C55.99,35.63 55.86,36.89 55.58,38.01Z" transform="translate(0,0)" fill="#0a0a0a" stroke="#0a0a0a" stroke-width="3.6" stroke-linejoin="round" filter="url(#fz)"/>
<path d="M55.58,38.01 C55.31,39.13 54.90,40.30 54.38,41.24 C53.85,42.18 53.17,43.04 52.44,43.64 C51.72,44.24 50.83,44.67 50.01,44.84 C49.19,45.00 48.27,44.93 47.52,44.66 C46.77,44.38 46.02,43.85 45.50,43.19 C44.98,42.53 44.58,41.64 44.40,40.72 C44.23,39.79 44.27,38.69 44.47,37.63 C44.67,36.58 45.11,35.42 45.62,34.39 C46.13,33.35 46.84,32.30 47.53,31.42 C48.22,30.54 49.03,29.72 49.75,29.12 C50.48,28.52 51.24,28.05 51.89,27.82 C52.54,27.59 53.16,27.55 53.68,27.74 C54.20,27.93 54.64,28.36 55.00,28.95 C55.35,29.55 55.63,30.39 55.80,31.32 C55.97,32.25 56.06,33.39 56.03,34.51 C55.99,35.63 55.86,36.89 55.58,38.01Z" transform="translate(-1.5,-1.5)" fill="#0a0a0a" stroke="#0a0a0a" stroke-width="3.6" stroke-linejoin="round" filter="url(#fz)"/>
<path d="M55.58,38.01 C55.31,39.13 54.90,40.30 54.38,41.24 C53.85,42.18 53.17,43.04 52.44,43.64 C51.72,44.24 50.83,44.67 50.01,44.84 C49.19,45.00 48.27,44.93 47.52,44.66 C46.77,44.38 46.02,43.85 45.50,43.19 C44.98,42.53 44.58,41.64 44.40,40.72 C44.23,39.79 44.27,38.69 44.47,37.63 C44.67,36.58 45.11,35.42 45.62,34.39 C46.13,33.35 46.84,32.30 47.53,31.42 C48.22,30.54 49.03,29.72 49.75,29.12 C50.48,28.52 51.24,28.05 51.89,27.82 C52.54,27.59 53.16,27.55 53.68,27.74 C54.20,27.93 54.64,28.36 55.00,28.95 C55.35,29.55 55.63,30.39 55.80,31.32 C55.97,32.25 56.06,33.39 56.03,34.51 C55.99,35.63 55.86,36.89 55.58,38.01Z" fill="#050505" stroke="#050505" stroke-width="2.6" stroke-linejoin="round"/>
<path d="M53.9 44.8h0.9M53.5 43.3h0.9M45.6 44.6h0.9M56.7 25.1h0.9M56.1 31.5h0.9M55.9 39.6h0.9M53.1 43.9h0.9M47.2 22.7h0.9M56.7 36.7h0.9M44.4 41.6h0.9M49.3 27.2h0.9M48.8 26.0h0.9M53.5 26.7h0.9M53.4 46.3h0.9M37.5 34.3h0.9M54.2 28.6h0.9M44.2 29.0h0.9M55.4 38.3h0.9M56.8 26.8h0.9M54.2 26.3h0.9M50.8 28.5h0.9M55.1 23.7h0.9M49.5 46.7h0.9M45.7 28.2h0.9M53.9 25.5h0.9M42.5 41.6h0.9M57.5 41.1h0.9M56.9 28.6h0.9M46.8 44.4h0.9M47.0 23.1h0.9M39.6 28.6h0.9M37.0 38.4h0.9M42.9 37.7h0.9M44.4 45.2h0.9M42.0 27.1h0.9M38.5 31.7h0.9M57.5 34.9h0.9M57.0 29.9h0.9M57.8 28.8h0.9M52.3 45.0h0.9M53.6 22.0h0.9M49.3 27.4h0.9M57.9 29.5h0.9M44.6 30.2h0.9M57.8 29.5h0.9M43.7 43.6h0.9M53.2 43.9h0.9M45.0 36.6h0.9M45.2 23.8h0.9M44.7 35.4h0.9M54.7 30.3h0.9M42.1 42.0h0.9M37.9 40.7h0.9M51.7 46.2h0.9M50.7 45.7h0.9M53.0 45.2h0.9M59.3 33.1h0.9M45.7 34.4h0.9M51.4 29.0h0.9M56.5 25.2h0.9M50.0 28.8h0.9M42.6 35.9h0.9M37.8 40.0h0.9M42.9 45.8h0.9M52.9 27.9h0.9M44.3 40.4h0.9M47.3 46.1h0.9M53.9 28.3h0.9M57.3 38.9h0.9M38.0 34.2h0.9M44.2 46.3h0.9M58.9 31.3h0.9M55.6 29.5h0.9M53.6 27.7h0.9M46.5 46.0h0.9M42.3 26.1h0.9M41.0 46.1h0.9M54.5 41.6h0.9M54.7 25.3h0.9M39.9 40.6h0.9M56.3 30.8h0.9M43.6 43.5h0.9M42.6 42.7h0.9M45.9 47.9h0.9M44.8 32.7h0.9M48.6 45.1h0.9M47.4 29.4h0.9M46.3 46.6h0.9M54.0 27.3h0.9M56.2 23.5h0.9M51.4 45.3h0.9M48.0 31.5h0.9M52.6 44.3h0.9M50.8 24.6h0.9M41.8 40.5h0.9M46.7 45.3h0.9M56.3 33.5h0.9M56.3 25.9h0.9M44.3 40.7h0.9M55.8 39.2h0.9M52.6 46.5h0.9M50.0 24.7h0.9M49.6 45.9h0.9M46.8 29.0h0.9M39.7 43.6h0.9M54.6 42.7h0.9M47.2 47.5h0.9M56.8 34.3h0.9M47.5 24.7h0.9M49.6 28.7h0.9M53.3 24.8h0.9M51.1 45.4h0.9M46.8 46.0h0.9M58.9 33.7h0.9M43.6 32.5h0.9M52.3 45.9h0.9M45.1 46.4h0.9M38.7 43.4h0.9M55.4 36.5h0.9M56.8 30.9h0.9M48.9 26.9h0.9M50.1 29.5h0.9M52.5 27.5h0.9M58.6 36.8h0.9M54.0 43.8h0.9M58.5 34.7h0.9M42.8 47.7h0.9M52.3 28.6h0.9M55.4 41.0h0.9M43.7 41.0h0.9M48.8 45.5h0.9M44.9 33.8h0.9M51.0 47.0h0.9M56.7 27.5h0.9M49.2 28.1h0.9M51.9 26.2h0.9M54.0 28.4h0.9M45.4 28.3h0.9M52.5 45.7h0.9M59.1 35.0h0.9M56.5 32.3h0.9M39.8 28.6h0.9M58.8 31.4h0.9M47.1 45.2h0.9M56.0 33.0h0.9M43.7 33.7h0.9M54.6 27.8h0.9M42.0 44.3h0.9M47.8 30.0h0.9M40.7 41.1h0.9" stroke="#000" stroke-width="0.9" opacity="0.85"/>
<path d="M55.58,38.01 C55.31,39.13 54.90,40.30 54.38,41.24 C53.85,42.18 53.17,43.04 52.44,43.64 C51.72,44.24 50.83,44.67 50.01,44.84 C49.19,45.00 48.27,44.93 47.52,44.66 C46.77,44.38 46.02,43.85 45.50,43.19 C44.98,42.53 44.58,41.64 44.40,40.72 C44.23,39.79 44.27,38.69 44.47,37.63 C44.67,36.58 45.11,35.42 45.62,34.39 C46.13,33.35 46.84,32.30 47.53,31.42 C48.22,30.54 49.03,29.72 49.75,29.12 C50.48,28.52 51.24,28.05 51.89,27.82 C52.54,27.59 53.16,27.55 53.68,27.74 C54.20,27.93 54.64,28.36 55.00,28.95 C55.35,29.55 55.63,30.39 55.80,31.32 C55.97,32.25 56.06,33.39 56.03,34.51 C55.99,35.63 55.86,36.89 55.58,38.01Z" fill="#cdcdcd" stroke="#f4f4f4" stroke-width="0.9"/>
<path d="M54.43,37.41 C54.24,38.30 54.10,39.32 53.72,40.08 C53.34,40.83 52.70,41.42 52.15,41.95 C51.60,42.47 51.11,43.09 50.42,43.21 C49.73,43.34 48.63,42.90 48.01,42.70 C47.40,42.51 47.13,42.55 46.72,42.03 C46.31,41.51 45.67,40.32 45.55,39.58 C45.42,38.84 45.81,38.43 45.98,37.58 C46.16,36.74 46.21,35.34 46.59,34.52 C46.98,33.69 47.76,33.33 48.29,32.66 C48.83,31.98 49.21,30.96 49.80,30.46 C50.40,29.96 51.27,29.81 51.85,29.65 C52.44,29.49 52.96,29.34 53.31,29.51 C53.66,29.68 53.68,30.17 53.96,30.67 C54.23,31.17 54.80,31.84 54.95,32.52 C55.09,33.19 54.93,33.91 54.84,34.73 C54.76,35.55 54.62,36.52 54.43,37.41Z" fill="none" stroke="#f2f2f2" stroke-width="0.55" opacity="1"/>
<path d="M53.87,37.54 C53.71,38.17 53.02,38.43 52.62,38.97 C52.23,39.51 51.91,40.39 51.49,40.76 C51.06,41.13 50.55,41.05 50.10,41.18 C49.65,41.31 49.19,41.73 48.76,41.55 C48.34,41.38 47.88,40.60 47.53,40.14 C47.18,39.68 46.78,39.33 46.67,38.79 C46.55,38.25 46.71,37.51 46.82,36.89 C46.94,36.26 47.07,35.64 47.36,35.02 C47.66,34.39 48.17,33.66 48.59,33.15 C49.00,32.65 49.35,32.34 49.84,31.99 C50.33,31.65 51.13,31.24 51.53,31.08 C51.92,30.93 51.97,30.99 52.21,31.08 C52.45,31.17 52.76,31.23 52.98,31.63 C53.21,32.04 53.48,32.92 53.58,33.51 C53.68,34.11 53.54,34.51 53.59,35.18 C53.64,35.85 54.03,36.91 53.87,37.54Z" fill="none" stroke="#f2f2f2" stroke-width="0.55" opacity="1"/>
<path d="M52.30,36.84 C52.19,37.31 52.56,38.05 52.40,38.42 C52.23,38.79 51.68,38.83 51.32,39.04 C50.96,39.25 50.55,39.61 50.22,39.68 C49.89,39.75 49.66,39.53 49.33,39.44 C49.01,39.36 48.43,39.36 48.28,39.17 C48.13,38.97 48.44,38.69 48.42,38.28 C48.40,37.88 48.16,37.13 48.15,36.71 C48.14,36.29 48.18,36.22 48.38,35.77 C48.57,35.32 48.97,34.41 49.33,34.03 C49.69,33.64 50.22,33.65 50.54,33.46 C50.86,33.27 51.08,32.95 51.26,32.87 C51.45,32.79 51.45,32.93 51.66,33.00 C51.87,33.07 52.29,33.13 52.51,33.31 C52.72,33.48 52.85,33.68 52.94,34.06 C53.03,34.43 53.15,35.11 53.05,35.57 C52.94,36.04 52.41,36.36 52.30,36.84Z" fill="none" stroke="#f2f2f2" stroke-width="0.55" opacity="1"/>
<path d="M51.36,36.76 C51.32,36.97 51.64,37.24 51.57,37.40 C51.50,37.56 51.10,37.64 50.93,37.75 C50.76,37.86 50.71,38.07 50.55,38.06 C50.38,38.04 50.11,37.75 49.93,37.66 C49.76,37.57 49.62,37.64 49.48,37.51 C49.34,37.39 49.09,37.08 49.09,36.91 C49.09,36.74 49.42,36.64 49.48,36.50 C49.53,36.35 49.38,36.31 49.42,36.05 C49.46,35.79 49.53,35.11 49.71,34.94 C49.90,34.77 50.30,35.08 50.52,35.02 C50.75,34.96 50.96,34.72 51.07,34.61 C51.18,34.50 51.08,34.32 51.19,34.36 C51.30,34.40 51.70,34.66 51.74,34.85 C51.79,35.03 51.44,35.24 51.46,35.45 C51.47,35.67 51.85,35.92 51.83,36.14 C51.82,36.36 51.41,36.56 51.36,36.76Z" fill="none" stroke="#f2f2f2" stroke-width="0.55" opacity="1"/>
<path d="M54.67,37.41 C54.41,38.19 53.69,39.06 53.28,39.85 C52.86,40.64 52.64,41.63 52.17,42.15 C51.70,42.66 51.09,42.84 50.44,42.96 C49.80,43.07 48.94,43.05 48.31,42.82 C47.68,42.60 47.11,42.18 46.66,41.61 C46.21,41.04 45.71,40.09 45.61,39.40 C45.52,38.72 45.86,38.23 46.10,37.48 C46.34,36.74 46.68,35.81 47.04,34.95 C47.41,34.09 47.77,33.01 48.29,32.32 C48.81,31.62 49.58,31.17 50.17,30.77 C50.76,30.37 51.32,30.08 51.81,29.92 C52.31,29.75 52.75,29.66 53.14,29.77 C53.53,29.88 53.90,30.13 54.17,30.58 C54.43,31.02 54.62,31.69 54.73,32.46 C54.85,33.23 54.85,34.36 54.84,35.18 C54.83,36.01 54.93,36.64 54.67,37.41Z" fill="none" stroke="#9a9a9a" stroke-width="0.4" opacity="1"/>
<path d="M53.77,37.40 C53.66,37.99 53.20,38.49 52.89,39.01 C52.57,39.54 52.34,40.12 51.89,40.54 C51.44,40.95 50.70,41.38 50.18,41.51 C49.66,41.64 49.23,41.48 48.77,41.31 C48.31,41.14 47.66,40.87 47.40,40.48 C47.14,40.08 47.25,39.50 47.22,38.93 C47.18,38.37 47.09,37.73 47.19,37.09 C47.29,36.45 47.55,35.67 47.79,35.10 C48.04,34.52 48.27,34.11 48.67,33.64 C49.07,33.17 49.76,32.70 50.19,32.28 C50.62,31.86 50.89,31.28 51.26,31.11 C51.64,30.94 52.16,31.17 52.44,31.27 C52.72,31.36 52.71,31.38 52.93,31.67 C53.14,31.97 53.62,32.40 53.73,33.04 C53.84,33.67 53.58,34.75 53.58,35.47 C53.59,36.20 53.89,36.81 53.77,37.40Z" fill="none" stroke="#9a9a9a" stroke-width="0.4" opacity="1"/>
<path d="M52.92,37.18 C52.82,37.67 52.29,38.17 52.02,38.55 C51.75,38.93 51.58,39.19 51.28,39.44 C50.98,39.68 50.59,40.01 50.24,40.01 C49.88,40.00 49.46,39.55 49.14,39.40 C48.82,39.26 48.55,39.34 48.32,39.13 C48.10,38.92 47.81,38.51 47.80,38.15 C47.79,37.79 48.12,37.40 48.28,36.97 C48.44,36.54 48.58,36.02 48.76,35.57 C48.94,35.11 49.12,34.63 49.35,34.26 C49.57,33.88 49.81,33.57 50.11,33.32 C50.42,33.07 50.85,32.83 51.19,32.76 C51.52,32.69 51.91,32.79 52.10,32.90 C52.28,33.02 52.20,33.25 52.29,33.46 C52.38,33.68 52.58,33.85 52.63,34.21 C52.68,34.56 52.54,35.12 52.59,35.62 C52.64,36.11 53.01,36.69 52.92,37.18Z" fill="none" stroke="#9a9a9a" stroke-width="0.4" opacity="1"/>
<path d="M51.48,36.41 C51.50,36.69 51.77,37.33 51.69,37.61 C51.62,37.89 51.24,38.04 51.04,38.09 C50.83,38.14 50.69,37.89 50.46,37.91 C50.23,37.93 49.82,38.23 49.68,38.21 C49.53,38.19 49.64,37.92 49.60,37.80 C49.56,37.68 49.55,37.74 49.44,37.49 C49.32,37.24 48.89,36.52 48.91,36.28 C48.93,36.04 49.38,36.22 49.56,36.05 C49.73,35.88 49.79,35.49 49.94,35.26 C50.09,35.03 50.35,34.79 50.47,34.66 C50.59,34.53 50.47,34.51 50.64,34.48 C50.82,34.44 51.29,34.44 51.50,34.47 C51.71,34.50 51.88,34.56 51.89,34.67 C51.90,34.78 51.63,34.91 51.57,35.12 C51.51,35.34 51.57,35.74 51.56,35.96 C51.54,36.17 51.46,36.13 51.48,36.41Z" fill="none" stroke="#9a9a9a" stroke-width="0.4" opacity="1"/>
</g>
<rect x="96.5" y="120.5" width="64" height="59.5" fill="none" stroke="#666" stroke-width="1"/>
<text x="99.0" y="132.5" font-size="12.5" text-anchor="start" font-weight="normal" font-style="normal" fill="#111" >1</text>
<text x="157.5" y="132.5" font-size="12.5" text-anchor="end" font-weight="normal" font-style="normal" fill="#111" >48</text>
<text x="157.5" y="178.2" font-size="12.5" text-anchor="end" font-weight="normal" font-style="normal" fill="#111" >50</text>
<line x1="206.5" y1="120.5" x2="206.5" y2="180.0" stroke="#9a9a9a" stroke-width="1"/>
<line x1="174.5" y1="156.5" x2="238.5" y2="156.5" stroke="#9a9a9a" stroke-width="1"/>
<g transform="translate(174.5,120.5)">
<path d="M3.0,59.5v2.5 M5.6,59.5v1.5 M9.2,59.5v1.5 M13.8,59.5v2.5 M16.4,59.5v1.5 M20.0,59.5v1.5 M24.6,59.5v2.5 M27.2,59.5v1.5 M30.8,59.5v1.5 M35.4,59.5v2.5 M38.0,59.5v1.5 M41.6,59.5v1.5 M46.2,59.5v2.5 M48.8,59.5v1.5 M0,4.0h-2 M0,8.5h-1.2 M0,13.0h-1.2 M0,17.5h-2 M0,22.0h-1.2 M0,26.5h-1.2 M0,31.0h-2 M0,35.5h-1.2 M0,40.0h-1.2 M0,44.5h-2 M0,49.0h-1.2 M0,53.5h-1.2" stroke="#333" stroke-width="0.8"/>
<path d="M38.3 36.9h0.9M9.2 40.1h0.9M17.9 29.4h0.9M34.6 31.9h0.9M33.1 29.2h0.9M15.2 21.7h0.9M31.8 27.1h0.9M27.8 32.4h0.9M9.1 37.7h0.9M27.2 28.0h0.9M28.2 38.0h0.9M22.5 34.5h0.9M40.3 30.7h0.9M20.8 32.9h0.9M22.5 38.1h0.9M32.5 37.0h0.9M16.1 39.5h0.9M28.1 33.1h0.9M39.8 40.9h0.9M34.7 33.7h0.9M15.6 31.1h0.9M30.4 41.6h0.9M26.8 32.9h0.9M24.7 28.7h0.9M13.9 33.8h0.9M16.5 26.1h0.9M29.7 36.4h0.9M28.8 36.5h0.9M31.8 23.8h0.9M17.1 39.2h0.9M32.2 23.8h0.9M28.7 26.9h0.9M29.7 29.2h0.9M20.4 31.2h0.9M18.9 36.2h0.9M26.4 33.5h0.9M16.2 35.7h0.9M40.2 29.2h0.9M32.8 37.5h0.9M27.2 31.4h0.9M29.0 32.3h0.9M21.1 27.7h0.9M36.3 32.2h0.9M24.7 36.4h0.9M25.5 37.8h0.9M19.9 31.5h0.9M35.6 42.5h0.9M49.7 38.7h0.9M26.1 41.9h0.9M24.6 21.1h0.9M27.2 32.8h0.9M28.7 20.3h0.9M29.9 27.6h0.9M29.0 33.8h0.9M27.4 41.4h0.9M34.2 38.8h0.9M27.1 27.0h0.9M24.7 24.5h0.9M26.8 32.9h0.9M20.1 27.9h0.9M30.3 30.0h0.9M29.0 34.7h0.9M21.3 34.4h0.9M28.8 26.9h0.9M20.5 36.7h0.9M31.5 34.9h0.9M31.7 31.5h0.9M14.3 32.0h0.9M27.1 30.4h0.9M22.8 35.1h0.9M34.3 36.7h0.9M18.3 32.6h0.9M17.2 37.5h0.9M46.2 35.3h0.9M37.1 34.0h0.9M26.7 32.8h0.9M28.2 34.3h0.9M35.6 38.5h0.9M26.0 20.5h0.9M6.8 31.4h0.9M16.4 36.5h0.9M29.2 33.1h0.9M34.2 31.2h0.9M5.2 37.8h0.9M6.2 37.8h0.9M24.3 31.0h0.9M29.5 33.3h0.9M23.7 29.4h0.9M34.3 32.6h0.9M30.1 36.9h0.9M24.6 28.6h0.9M9.9 26.5h0.9M22.8 24.3h0.9M26.4 35.5h0.9M20.7 33.3h0.9M27.7 27.1h0.9M21.3 31.5h0.9M12.0 39.1h0.9M21.2 30.1h0.9M15.5 31.5h0.9M35.4 27.7h0.9M30.5 34.8h0.9M30.5 42.6h0.9M26.4 33.7h0.9M20.3 29.2h0.9M27.5 35.4h0.9M23.7 27.5h0.9M33.1 32.0h0.9M14.7 40.6h0.9M25.9 29.9h0.9M27.1 41.4h0.9M27.0 33.5h0.9M4.9 36.1h0.9M16.9 33.5h0.9M24.1 34.9h0.9M30.8 31.5h0.9M17.1 36.1h0.9M26.6 35.0h0.9M46.7 36.5h0.9M38.6 31.1h0.9M47.0 32.4h0.9M24.3 30.4h0.9M27.4 34.7h0.9M26.8 32.5h0.9M40.1 30.0h0.9M33.8 29.1h0.9M33.6 29.1h0.9M18.8 43.0h0.9M44.3 35.2h0.9M7.4 30.2h0.9M29.8 31.9h0.9M18.3 37.2h0.9M23.5 32.2h0.9M29.4 32.1h0.9M48.3 35.4h0.9M5.9 31.7h0.9M11.3 45.0h0.9M31.8 32.4h0.9M25.1 35.2h0.9M22.9 32.7h0.9M26.9 29.7h0.9M35.4 30.4h0.9M26.3 36.9h0.9M34.4 29.6h0.9M26.5 28.3h0.9M27.4 30.6h0.9M26.1 30.9h0.9M31.6 33.3h0.9M24.9 32.1h0.9M45.6 35.7h0.9M29.5 33.2h0.9M22.0 37.5h0.9M36.6 35.2h0.9M20.1 37.2h0.9M23.7 28.5h0.9M41.0 35.1h0.9M29.5 38.9h0.9M26.0 32.3h0.9M50.6 29.0h0.9M21.8 33.7h0.9M10.4 36.0h0.9M20.2 23.3h0.9M29.2 24.7h0.9M25.3 29.2h0.9M28.8 42.5h0.9M19.3 31.2h0.9M28.9 32.3h0.9M31.2 31.4h0.9M14.8 31.7h0.9M25.8 32.8h0.9M24.4 32.0h0.9M31.7 36.9h0.9M32.8 32.0h0.9M24.4 23.7h0.9M34.6 28.0h0.9M17.2 33.7h0.9M21.2 39.0h0.9M40.3 28.5h0.9M42.6 37.3h0.9M46.6 34.3h0.9M28.9 34.5h0.9M23.9 30.9h0.9M17.0 32.5h0.9M31.8 35.0h0.9M35.0 22.6h0.9M52.2 30.4h0.9M29.9 32.7h0.9M1.9 41.7h0.9M42.7 24.6h0.9M24.6 35.6h0.9M31.2 36.9h0.9M36.4 36.7h0.9M28.2 38.3h0.9M9.3 44.1h0.9M42.8 31.2h0.9M23.8 30.5h0.9M33.9 27.9h0.9M38.2 41.7h0.9M18.7 30.7h0.9M33.2 40.7h0.9M31.2 35.2h0.9M31.4 31.2h0.9M25.0 28.2h0.9M14.2 34.9h0.9M24.0 31.1h0.9M29.3 32.1h0.9M28.2 26.7h0.9M15.9 44.2h0.9M24.7 29.0h0.9M41.9 28.0h0.9M31.5 34.7h0.9M13.0 33.9h0.9M27.6 18.0h0.9M34.2 30.6h0.9M18.2 29.5h0.9M22.9 31.1h0.9M20.8 38.9h0.9M47.4 25.7h0.9M40.3 31.6h0.9M54.6 43.0h0.9M18.4 29.6h0.9M17.1 30.9h0.9M21.9 20.3h0.9M16.0 30.0h0.9M29.5 30.6h0.9M20.1 33.0h0.9M27.8 51.9h0.9M17.4 37.5h0.9M23.1 38.4h0.9M29.4 28.0h0.9M9.3 33.9h0.9M17.4 30.7h0.9M22.6 40.3h0.9M30.0 32.7h0.9M26.9 30.3h0.9M23.9 34.6h0.9M21.3 25.8h0.9M20.4 36.3h0.9M17.1 32.3h0.9M21.2 35.9h0.9M21.2 21.0h0.9M29.0 40.9h0.9M18.3 35.8h0.9M42.3 27.8h0.9M31.1 31.3h0.9M18.4 35.6h0.9M13.6 34.8h0.9M32.4 38.4h0.9M22.3 34.0h0.9M41.1 35.9h0.9M32.2 38.5h0.9M26.3 29.1h0.9M22.8 33.1h0.9M29.9 30.4h0.9M22.8 32.3h0.9M19.0 37.6h0.9M23.2 39.7h0.9M32.8 37.5h0.9M14.5 31.4h0.9M21.5 28.7h0.9M36.0 25.4h0.9M18.3 34.2h0.9M18.1 34.3h0.9M3.0 28.5h0.9M18.1 42.1h0.9M26.5 30.5h0.9M17.4 41.1h0.9M11.2 32.4h0.9M39.8 44.1h0.9M27.3 33.5h0.9M13.8 25.8h0.9M15.7 39.7h0.9M20.7 33.3h0.9M38.3 38.1h0.9M23.3 31.2h0.9M26.0 33.3h0.9M16.1 30.0h0.9M13.6 26.3h0.9M35.0 34.6h0.9M34.6 29.7h0.9M19.5 37.4h0.9M35.3 37.3h0.9M41.7 32.3h0.9M26.6 33.0h0.9M17.7 30.5h0.9M31.4 40.3h0.9M20.2 38.4h0.9M29.7 31.1h0.9M26.1 37.5h0.9M22.4 40.9h0.9M34.4 34.8h0.9M38.0 36.5h0.9M24.6 34.7h0.9M35.6 35.6h0.9M30.5 33.4h0.9M14.8 36.9h0.9M20.9 28.8h0.9M29.0 37.9h0.9M18.6 36.7h0.9M26.7 32.7h0.9M24.9 30.4h0.9M21.2 25.4h0.9M47.2 36.7h0.9M29.3 32.1h0.9M4.7 22.7h0.9M35.7 32.7h0.9M28.1 35.6h0.9M49.1 32.3h0.9M32.2 39.4h0.9M7.1 39.0h0.9M30.4 45.9h0.9M29.8 36.3h0.9M37.1 39.0h0.9M36.7 34.8h0.9M24.8 39.7h0.9M26.2 41.2h0.9M25.4 30.9h0.9M7.8 32.3h0.9M17.4 38.2h0.9M25.9 33.4h0.9M25.0 36.3h0.9M28.4 27.9h0.9M26.1 24.9h0.9M21.6 36.2h0.9M15.3 31.8h0.9M39.3 23.8h0.9M30.5 30.4h0.9M30.4 38.5h0.9M23.6 44.9h0.9M26.3 33.5h0.9M26.4 37.2h0.9M20.9 39.2h0.9M38.7 42.6h0.9M30.6 32.1h0.9M23.1 31.8h0.9M21.1 33.6h0.9M25.8 46.2h0.9M18.3 35.1h0.9M32.1 38.2h0.9M15.1 28.4h0.9M27.4 27.4h0.9M34.8 33.7h0.9M39.3 42.1h0.9M29.7 34.7h0.9M27.3 40.4h0.9M36.7 36.9h0.9M20.9 32.7h0.9M17.5 23.9h0.9M31.8 28.9h0.9M40.0 29.9h0.9M28.4 29.1h0.9M10.2 41.8h0.9M22.1 30.2h0.9M29.5 39.6h0.9M33.6 33.7h0.9M18.9 35.8h0.9M32.9 37.4h0.9M24.1 36.8h0.9M7.8 36.6h0.9M12.8 38.6h0.9M42.5 41.5h0.9M18.1 31.7h0.9M23.6 38.2h0.9M27.4 35.7h0.9M42.5 33.5h0.9M30.4 29.7h0.9M45.7 33.7h0.9M39.4 33.2h0.9M26.6 42.0h0.9M22.4 36.6h0.9M10.5 29.5h0.9M23.9 37.1h0.9M15.4 35.5h0.9M36.0 32.4h0.9M6.7 35.0h0.9M30.7 31.5h0.9M19.1 32.2h0.9M30.7 33.9h0.9M24.9 32.5h0.9M39.9 36.2h0.9M25.7 38.9h0.9M18.6 30.8h0.9M44.6 34.2h0.9M39.2 36.0h0.9M12.0 36.2h0.9M19.7 40.4h0.9M17.8 33.6h0.9M25.9 38.0h0.9M40.1 34.2h0.9M31.6 28.5h0.9M27.6 20.0h0.9M43.0 41.7h0.9M25.1 30.0h0.9M40.4 31.4h0.9M32.0 31.3h0.9M16.1 39.2h0.9M35.5 36.0h0.9M32.1 22.9h0.9M28.3 33.9h0.9M33.3 33.8h0.9M28.1 31.0h0.9M30.3 28.1h0.9M30.4 42.9h0.9M47.0 30.1h0.9M30.0 35.8h0.9M9.0 38.2h0.9M31.9 42.9h0.9M16.5 38.7h0.9M38.5 37.4h0.9M20.8 34.4h0.9M22.6 31.8h0.9M30.8 37.0h0.9M31.6 26.1h0.9M28.8 34.0h0.9M15.8 33.7h0.9M27.1 43.3h0.9M42.2 33.7h0.9M15.2 39.4h0.9M44.7 39.2h0.9M25.2 32.8h0.9M15.8 42.3h0.9M40.0 35.0h0.9M14.5 26.2h0.9M33.3 37.0h0.9M13.5 37.5h0.9M23.3 27.3h0.9M13.1 30.6h0.9M29.1 36.7h0.9M25.4 31.1h0.9M21.7 35.8h0.9M37.2 32.1h0.9M34.3 32.7h0.9M18.1 33.9h0.9M18.4 35.7h0.9M15.9 30.4h0.9M27.2 32.9h0.9M44.1 41.2h0.9M22.0 35.4h0.9M23.2 29.0h0.9M20.9 38.3h0.9M34.9 32.1h0.9M29.2 28.7h0.9M27.3 29.6h0.9M24.2 38.9h0.9M11.6 43.7h0.9M26.2 31.7h0.9M58.0 44.8h0.9M31.1 35.9h0.9M21.1 37.2h0.9M33.8 39.4h0.9M18.7 40.4h0.9M35.1 34.2h0.9M36.5 36.6h0.9M21.4 25.3h0.9M27.1 22.8h0.9M5.7 37.3h0.9M21.3 25.9h0.9M21.6 35.6h0.9M27.9 34.4h0.9M29.8 28.6h0.9M36.8 41.6h0.9M24.6 31.7h0.9M23.4 34.5h0.9M14.7 36.9h0.9M33.6 34.8h0.9M4.1 35.6h0.9M39.6 31.2h0.9M30.7 31.3h0.9M12.6 37.4h0.9M25.8 37.7h0.9M13.6 43.9h0.9M14.6 37.2h0.9M13.2 33.5h0.9M23.9 32.8h0.9M37.1 31.3h0.9M33.3 28.8h0.9M51.8 37.2h0.9M39.9 31.1h0.9M19.6 43.2h0.9M25.8 47.2h0.9M17.8 48.8h0.9M48.2 35.2h0.9M33.0 32.4h0.9M35.1 43.2h0.9M38.6 27.9h0.9M14.3 40.3h0.9M26.6 30.7h0.9M26.9 29.6h0.9M24.0 35.4h0.9M13.3 37.6h0.9M14.6 43.1h0.9M23.5 35.4h0.9M34.6 31.1h0.9M35.2 40.3h0.9M17.1 26.0h0.9M14.1 36.0h0.9M41.8 32.1h0.9M31.1 25.1h0.9M36.0 32.2h0.9M35.9 35.6h0.9M27.5 32.4h0.9M21.6 24.0h0.9M7.1 37.7h0.9M44.9 40.7h0.9M38.6 34.4h0.9M34.4 37.2h0.9M11.4 41.4h0.9M21.0 40.0h0.9M10.1 34.9h0.9M19.9 34.1h0.9M20.4 42.1h0.9M21.9 33.0h0.9M19.8 30.5h0.9M18.9 32.3h0.9M28.8 24.9h0.9M30.5 36.7h0.9M36.0 38.9h0.9M14.4 36.8h0.9M26.1 28.1h0.9M30.4 41.3h0.9M52.9 32.6h0.9M36.6 33.9h0.9M22.4 34.0h0.9M11.2 32.4h0.9M12.8 28.0h0.9M17.8 30.5h0.9M22.8 38.8h0.9M40.6 26.5h0.9M50.2 33.2h0.9M32.2 36.9h0.9M37.2 30.7h0.9M47.6 36.4h0.9M41.4 33.0h0.9M21.1 27.4h0.9M26.7 38.9h0.9M22.7 38.6h0.9M12.4 39.0h0.9M33.3 33.4h0.9M30.1 29.0h0.9M28.8 30.8h0.9M41.5 31.5h0.9M19.3 34.6h0.9M31.0 41.3h0.9M19.6 37.9h0.9M28.9 30.8h0.9M40.9 32.4h0.9M22.8 29.0h0.9M26.2 30.7h0.9" stroke="#555" stroke-width="0.9" opacity="0.55"/>
<path d="M14.9 28.8h0.9M20.3 33.8h0.9M25.1 25.3h0.9M10.5 30.0h0.9M25.8 26.0h0.9M34.7 30.4h0.9M38.3 28.4h0.9M17.9 31.1h0.9M32.0 30.5h0.9M28.9 26.5h0.9M8.6 32.8h0.9M17.2 28.6h0.9M37.5 30.4h0.9M19.7 29.0h0.9M38.4 27.7h0.9M9.7 27.9h0.9M7.3 32.6h0.9M23.5 27.0h0.9M4.3 30.5h0.9M25.9 28.7h0.9M32.6 27.1h0.9M23.8 31.4h0.9M30.8 32.1h0.9M19.7 27.3h0.9M18.9 29.2h0.9M21.0 25.0h0.9M39.1 29.9h0.9M36.5 22.6h0.9M30.7 23.6h0.9M15.7 25.7h0.9M26.5 27.3h0.9M24.3 26.0h0.9M20.5 28.6h0.9M42.3 27.5h0.9M28.5 27.4h0.9M29.8 30.2h0.9M21.0 30.3h0.9M26.7 26.7h0.9M30.0 28.9h0.9M12.4 31.7h0.9M13.6 28.9h0.9M34.4 26.4h0.9M28.4 29.6h0.9M36.2 28.7h0.9M22.7 28.8h0.9M18.6 28.9h0.9M33.9 31.8h0.9M21.7 26.2h0.9M38.6 23.9h0.9M29.0 28.3h0.9M13.8 28.5h0.9M35.6 27.2h0.9M19.9 29.5h0.9M29.6 33.1h0.9M41.7 29.3h0.9M30.0 28.8h0.9M30.0 30.6h0.9M33.6 25.2h0.9M37.7 27.5h0.9M16.7 28.6h0.9M13.3 27.7h0.9M21.8 33.6h0.9M36.7 34.5h0.9M24.6 29.1h0.9M37.7 30.9h0.9M30.2 28.4h0.9M35.0 29.2h0.9M28.4 27.5h0.9M21.2 30.0h0.9M31.3 29.0h0.9M19.5 31.4h0.9M23.3 25.8h0.9M36.9 27.3h0.9M17.9 26.3h0.9M15.8 35.3h0.9M40.2 32.4h0.9M20.6 29.2h0.9M19.9 31.2h0.9M28.9 29.7h0.9M25.1 34.6h0.9M27.5 26.9h0.9M25.2 27.5h0.9M33.8 30.7h0.9M13.0 33.8h0.9M39.8 31.1h0.9M44.7 32.0h0.9M26.9 23.4h0.9M24.4 28.0h0.9M47.1 27.1h0.9M22.4 25.6h0.9M23.3 26.8h0.9M25.9 30.6h0.9M20.2 28.2h0.9M22.0 27.6h0.9M42.7 30.8h0.9M18.7 27.1h0.9M22.1 23.8h0.9M19.4 28.4h0.9M31.0 28.8h0.9M14.6 29.2h0.9M28.7 30.7h0.9M46.7 28.3h0.9M33.5 32.4h0.9M38.4 27.8h0.9M30.4 27.9h0.9M25.6 29.9h0.9M13.5 29.1h0.9M23.8 30.7h0.9M20.5 24.9h0.9M32.9 26.8h0.9M36.5 29.9h0.9M38.5 31.7h0.9M41.4 31.7h0.9M34.6 30.0h0.9M17.4 27.3h0.9M26.0 29.2h0.9M17.1 31.1h0.9M7.3 31.2h0.9M20.3 27.2h0.9M31.4 29.2h0.9M24.1 33.5h0.9M35.7 27.8h0.9M26.9 30.5h0.9M15.4 28.1h0.9M24.4 32.6h0.9M21.4 29.7h0.9M36.2 31.4h0.9M24.7 23.7h0.9M22.2 30.3h0.9M32.0 27.6h0.9M16.8 31.3h0.9M32.5 30.4h0.9M45.8 31.9h0.9M12.9 26.4h0.9M25.2 32.3h0.9M17.0 27.9h0.9M23.5 27.6h0.9M18.5 26.8h0.9M34.0 29.7h0.9M24.4 30.7h0.9M28.4 28.8h0.9M14.4 29.5h0.9M36.7 28.8h0.9M37.3 30.7h0.9M24.7 29.0h0.9M35.7 29.7h0.9M30.7 29.6h0.9M29.1 32.3h0.9M25.8 27.4h0.9M31.1 33.9h0.9M38.9 29.7h0.9M27.1 27.1h0.9M40.8 27.0h0.9M25.6 28.2h0.9M24.7 31.3h0.9M23.8 24.4h0.9M38.3 29.4h0.9M35.1 26.6h0.9M44.9 25.5h0.9M58.5 29.5h0.9M22.4 31.2h0.9M35.5 30.1h0.9M29.8 29.4h0.9M35.3 29.7h0.9M34.2 26.7h0.9M19.9 29.1h0.9M21.9 29.6h0.9M27.1 32.7h0.9M27.8 29.6h0.9M20.6 29.3h0.9M31.0 29.7h0.9M32.6 30.2h0.9M23.1 26.2h0.9M43.8 29.1h0.9M33.7 28.8h0.9M35.9 30.1h0.9M42.7 28.0h0.9M37.8 29.6h0.9M37.6 28.7h0.9M20.3 27.4h0.9M27.9 30.3h0.9M31.4 27.0h0.9M38.9 26.2h0.9M10.8 27.9h0.9M22.9 29.3h0.9M28.0 27.3h0.9M32.6 25.5h0.9M4.6 32.6h0.9M24.5 28.3h0.9M32.5 32.2h0.9M36.5 27.7h0.9M20.1 30.0h0.9M26.2 29.2h0.9M16.1 30.9h0.9M39.2 25.1h0.9M31.4 27.2h0.9M33.9 26.8h0.9M22.5 32.2h0.9M24.7 29.0h0.9M40.4 29.6h0.9M33.5 28.5h0.9M21.3 29.8h0.9M18.9 31.5h0.9M24.1 26.2h0.9M25.6 28.7h0.9M28.7 29.9h0.9M20.1 29.5h0.9M30.3 28.9h0.9M21.0 28.7h0.9M9.5 28.3h0.9M25.7 28.3h0.9M18.9 26.9h0.9M37.3 27.9h0.9M13.4 29.2h0.9M38.5 30.6h0.9M27.3 30.3h0.9M27.2 25.3h0.9M1.8 30.6h0.9M40.7 29.6h0.9M34.3 31.8h0.9M28.4 30.7h0.9M17.7 28.6h0.9M24.1 27.2h0.9M25.4 31.2h0.9M36.8 27.4h0.9M43.8 28.0h0.9M14.9 30.0h0.9M32.5 31.5h0.9M38.4 31.2h0.9M15.3 26.3h0.9M42.9 26.2h0.9M25.8 28.2h0.9M29.8 30.0h0.9M27.2 31.1h0.9M21.6 27.9h0.9M37.3 26.8h0.9M34.3 31.1h0.9M26.3 28.6h0.9M30.8 25.9h0.9M37.8 34.1h0.9M13.3 27.6h0.9M1.6 27.3h0.9M15.7 29.5h0.9M36.3 28.8h0.9M21.4 29.0h0.9M31.5 29.7h0.9M13.3 27.2h0.9M33.2 29.1h0.9M28.1 26.7h0.9M39.6 34.0h0.9M38.8 28.5h0.9M38.9 29.9h0.9M26.1 28.3h0.9M37.9 28.6h0.9M39.0 30.1h0.9M19.7 27.9h0.9M26.9 30.3h0.9M33.9 29.5h0.9M32.9 28.2h0.9M35.3 29.7h0.9M16.8 24.9h0.9M16.3 27.4h0.9M32.0 27.3h0.9M35.6 29.9h0.9M28.2 31.4h0.9M30.8 25.1h0.9M37.4 29.7h0.9M24.8 27.4h0.9M41.5 27.7h0.9M42.2 29.4h0.9M41.0 31.5h0.9M28.7 25.0h0.9M15.2 28.1h0.9M26.2 26.6h0.9M21.0 27.5h0.9M23.7 30.9h0.9M18.4 25.7h0.9M26.0 29.0h0.9M19.7 30.4h0.9M12.6 28.5h0.9M24.6 32.8h0.9M16.0 26.3h0.9M27.9 29.6h0.9M38.6 27.2h0.9M21.7 26.2h0.9M27.6 30.4h0.9M18.7 30.3h0.9M24.3 28.3h0.9M29.3 29.4h0.9M22.9 29.2h0.9M29.7 24.8h0.9M28.1 27.7h0.9M34.7 26.9h0.9M25.3 33.9h0.9M25.0 25.9h0.9M22.9 27.3h0.9M31.3 28.9h0.9M28.9 31.0h0.9M23.2 26.5h0.9M32.0 26.4h0.9M28.0 31.8h0.9M17.0 32.7h0.9M26.0 30.2h0.9M21.5 27.7h0.9M35.0 29.4h0.9M14.1 29.6h0.9M35.8 27.1h0.9M14.7 31.0h0.9M20.5 26.4h0.9M12.8 31.0h0.9M27.9 27.6h0.9M15.9 31.6h0.9M41.6 25.4h0.9M42.7 29.6h0.9M18.9 31.2h0.9M35.5 30.0h0.9M23.3 26.5h0.9M24.7 24.9h0.9M17.7 29.3h0.9M21.2 30.2h0.9M23.9 32.8h0.9M17.0 30.4h0.9M8.2 26.5h0.9M19.7 30.6h0.9M19.3 28.7h0.9M21.4 31.4h0.9M21.2 28.2h0.9M33.5 27.9h0.9M31.0 26.3h0.9M33.8 30.6h0.9M26.4 27.5h0.9M42.0 29.8h0.9M44.3 26.2h0.9M27.2 24.2h0.9M24.0 27.4h0.9M30.0 28.8h0.9M30.4 27.1h0.9M32.6 24.1h0.9M30.2 27.8h0.9M18.8 29.7h0.9M27.2 31.4h0.9M31.4 29.3h0.9M24.7 28.1h0.9M26.6 30.4h0.9M22.4 31.5h0.9M43.2 30.3h0.9M32.5 30.2h0.9M17.2 30.3h0.9M46.2 31.1h0.9M42.9 27.7h0.9M15.1 28.2h0.9M22.9 29.1h0.9M35.3 30.0h0.9M19.6 28.5h0.9M19.1 29.0h0.9M37.4 28.7h0.9M25.2 29.2h0.9M22.1 28.6h0.9M30.9 27.0h0.9M21.3 33.4h0.9M30.0 33.4h0.9M38.5 28.7h0.9M38.4 29.3h0.9M28.1 29.7h0.9M21.3 31.8h0.9M35.9 28.4h0.9M39.5 29.4h0.9M14.6 25.7h0.9M16.4 27.9h0.9M43.0 30.2h0.9M20.2 32.2h0.9M23.8 28.1h0.9M43.7 26.9h0.9M35.9 29.7h0.9M26.4 28.3h0.9M31.6 26.7h0.9M27.4 23.3h0.9M22.3 29.0h0.9M50.6 27.3h0.9M20.4 28.6h0.9M31.0 29.3h0.9M39.4 27.7h0.9M14.7 30.3h0.9M26.8 31.3h0.9M36.1 31.0h0.9M41.4 26.6h0.9M23.2 35.6h0.9M30.7 29.2h0.9M23.4 27.1h0.9M27.7 27.9h0.9M29.3 31.4h0.9M34.3 28.1h0.9M34.2 26.5h0.9M24.5 26.1h0.9M35.1 27.4h0.9M23.6 29.5h0.9M24.8 26.6h0.9M30.5 26.7h0.9M19.2 25.9h0.9M19.7 28.9h0.9M10.7 29.1h0.9M21.5 28.7h0.9M24.3 30.7h0.9M30.7 32.5h0.9M41.0 25.8h0.9M33.8 30.2h0.9M29.2 26.5h0.9M10.1 33.1h0.9M34.3 29.8h0.9M30.8 29.3h0.9M15.8 28.7h0.9M22.5 28.4h0.9M38.3 27.1h0.9M20.7 29.2h0.9M31.7 27.7h0.9M33.3 31.9h0.9M15.2 27.6h0.9M30.2 27.2h0.9" stroke="#111" stroke-width="0.9" opacity="0.6"/>
<path d="M33.2 39.9h0.9M26.8 40.4h0.9M31.8 38.9h0.9M23.0 38.7h0.9M32.8 37.8h0.9M26.2 42.1h0.9M30.0 39.7h0.9M26.8 40.0h0.9M27.5 38.7h0.9M26.5 42.9h0.9M32.9 38.6h0.9M38.9 44.3h0.9M47.4 40.5h0.9M24.4 38.2h0.9M37.2 34.3h0.9M22.0 44.7h0.9M32.9 44.1h0.9M15.6 38.4h0.9M26.8 42.7h0.9M31.2 35.3h0.9M25.5 34.9h0.9M21.6 33.1h0.9M18.2 39.9h0.9M28.6 40.1h0.9M30.1 37.2h0.9M37.6 32.4h0.9M27.3 37.7h0.9M25.9 42.4h0.9M37.9 41.2h0.9M23.5 38.0h0.9M31.3 40.8h0.9M29.1 39.0h0.9M26.6 41.5h0.9M17.4 38.3h0.9M39.6 36.8h0.9M50.6 39.0h0.9M26.0 37.6h0.9M25.0 39.7h0.9M38.7 39.3h0.9M30.0 38.4h0.9M33.5 41.2h0.9M29.7 42.7h0.9M28.8 43.2h0.9M26.6 40.3h0.9M36.9 40.7h0.9M37.2 41.4h0.9M39.9 39.7h0.9M41.0 41.9h0.9M10.8 45.2h0.9M29.3 43.4h0.9M30.0 36.3h0.9M23.4 43.5h0.9M46.3 38.1h0.9M18.9 42.2h0.9M26.7 36.4h0.9M30.3 40.9h0.9M32.0 38.6h0.9M20.1 38.9h0.9M37.1 43.5h0.9M41.9 36.4h0.9M26.8 40.6h0.9M39.5 38.8h0.9M20.1 34.9h0.9M27.8 40.3h0.9M37.8 43.4h0.9M20.5 45.2h0.9M28.6 29.7h0.9M26.7 36.9h0.9M30.5 38.6h0.9M13.9 38.5h0.9M25.7 39.3h0.9M20.0 39.4h0.9M18.5 44.9h0.9M26.6 41.8h0.9M24.6 39.4h0.9M26.5 42.6h0.9M33.0 38.9h0.9M31.7 41.7h0.9M46.8 39.2h0.9M33.5 43.7h0.9M36.0 41.0h0.9M24.6 43.1h0.9M43.1 36.7h0.9M16.3 38.1h0.9M17.1 40.0h0.9M31.0 36.8h0.9M35.2 35.5h0.9M22.0 39.8h0.9M31.5 43.5h0.9M38.0 43.0h0.9M41.4 35.8h0.9M22.8 36.9h0.9M28.6 37.8h0.9M45.1 41.7h0.9M22.3 43.4h0.9M23.4 41.0h0.9M30.9 36.3h0.9M30.3 33.0h0.9M39.3 48.2h0.9M37.7 40.8h0.9M15.0 39.4h0.9M34.7 43.4h0.9M17.8 45.3h0.9M34.5 41.4h0.9M33.0 36.7h0.9M32.4 39.1h0.9M27.1 40.5h0.9M11.6 35.4h0.9M24.8 44.0h0.9M29.1 43.2h0.9M24.6 38.3h0.9M26.6 35.6h0.9M35.3 37.9h0.9M34.9 38.8h0.9M41.7 40.1h0.9M29.1 35.5h0.9M57.3 42.7h0.9M40.2 44.9h0.9M34.4 37.9h0.9M35.9 36.5h0.9M43.5 35.1h0.9M31.0 36.6h0.9M10.2 34.7h0.9M26.6 42.6h0.9M28.9 38.3h0.9M29.9 41.6h0.9M22.7 41.3h0.9M22.7 36.9h0.9M31.3 40.4h0.9M16.6 38.5h0.9M43.7 36.5h0.9M24.8 46.1h0.9M23.6 40.0h0.9M37.2 41.5h0.9M23.8 38.7h0.9M36.4 47.3h0.9M47.3 42.9h0.9M18.2 42.9h0.9M38.0 42.4h0.9M30.6 35.7h0.9M24.2 42.7h0.9M31.9 41.7h0.9M30.1 40.4h0.9M32.6 38.7h0.9M31.1 39.2h0.9M24.4 35.8h0.9M48.4 41.6h0.9M28.0 32.3h0.9M23.9 40.6h0.9M31.5 41.0h0.9M22.9 33.7h0.9M30.4 40.2h0.9M27.0 41.0h0.9M30.9 41.9h0.9M25.5 36.3h0.9M22.6 38.2h0.9M39.3 39.0h0.9M34.2 40.0h0.9M27.9 31.8h0.9M36.2 42.2h0.9M36.6 36.1h0.9M39.6 39.9h0.9M28.7 41.8h0.9M33.5 38.8h0.9M36.4 34.3h0.9M24.1 37.7h0.9M40.3 42.0h0.9M34.9 38.9h0.9M36.4 42.3h0.9M30.5 39.2h0.9M30.8 38.0h0.9M34.4 39.8h0.9M11.9 41.6h0.9M28.5 38.4h0.9M35.2 42.6h0.9M40.0 42.2h0.9M17.4 46.2h0.9M36.3 33.6h0.9M30.8 43.2h0.9M28.4 38.1h0.9M37.1 39.6h0.9M18.6 43.0h0.9M31.1 38.3h0.9M46.7 42.6h0.9M29.0 41.2h0.9M33.7 33.5h0.9M19.2 35.8h0.9M40.0 34.2h0.9M29.3 43.1h0.9M37.6 39.1h0.9M19.1 34.6h0.9M37.8 36.1h0.9M22.8 43.8h0.9M37.4 39.5h0.9M30.6 34.4h0.9M41.2 42.1h0.9M23.3 37.0h0.9M38.5 42.3h0.9M29.9 37.1h0.9M28.0 38.4h0.9M32.1 42.6h0.9M31.1 36.6h0.9M47.6 33.1h0.9M31.0 40.1h0.9M28.2 33.6h0.9M39.7 36.4h0.9M31.4 36.2h0.9M57.9 48.4h0.9M25.0 37.8h0.9M32.4 38.6h0.9M35.7 40.4h0.9M35.6 42.1h0.9M23.0 36.5h0.9M26.2 38.9h0.9M8.8 37.4h0.9M23.1 45.0h0.9M21.2 34.9h0.9M25.3 36.3h0.9M30.3 41.0h0.9M32.8 40.5h0.9" stroke="#555" stroke-width="0.9" opacity="0.5"/>
<path d="M39.0 28.0h0.9M41.4 42.7h0.9M45.8 24.4h0.9M40.8 29.2h0.9M42.4 30.2h0.9M41.0 31.6h0.9M42.6 26.2h0.9M42.2 29.8h0.9M41.6 23.6h0.9M42.6 34.2h0.9M43.4 34.3h0.9M41.9 30.3h0.9M43.9 30.3h0.9M42.1 35.5h0.9M43.9 35.8h0.9M44.6 34.7h0.9M41.5 34.9h0.9M39.2 33.2h0.9M42.5 30.6h0.9M40.9 32.4h0.9M43.0 30.9h0.9M39.3 34.8h0.9M41.9 27.9h0.9M43.5 29.5h0.9M43.5 30.1h0.9M40.2 38.4h0.9M40.0 31.8h0.9M40.5 25.0h0.9M43.2 32.6h0.9M41.5 43.5h0.9M41.2 31.9h0.9M41.2 30.4h0.9M43.6 43.4h0.9M41.2 34.8h0.9M43.4 37.2h0.9M40.2 30.5h0.9M41.9 37.4h0.9M43.1 29.1h0.9M42.2 35.8h0.9M43.9 33.1h0.9M39.4 28.6h0.9M42.8 37.5h0.9M44.0 29.8h0.9M42.2 34.9h0.9M43.3 25.9h0.9M44.2 37.4h0.9M43.6 35.9h0.9M40.0 30.3h0.9M41.3 31.7h0.9M43.1 35.0h0.9M41.4 27.5h0.9M41.0 25.9h0.9M41.1 21.8h0.9M40.2 31.0h0.9M42.0 39.7h0.9M44.1 43.4h0.9M44.7 29.4h0.9M44.4 30.9h0.9M44.9 31.9h0.9M40.4 30.9h0.9M44.0 31.2h0.9M42.4 36.9h0.9M44.5 33.1h0.9M42.8 34.2h0.9M44.2 33.7h0.9M39.9 36.7h0.9M47.8 33.5h0.9M45.1 34.0h0.9M44.8 25.5h0.9M39.4 28.6h0.9M43.6 30.2h0.9M40.5 37.6h0.9M41.8 34.6h0.9M43.5 30.2h0.9M42.4 27.5h0.9M37.4 28.1h0.9M40.1 25.2h0.9M43.0 28.4h0.9M42.6 36.7h0.9M41.9 33.5h0.9M40.7 38.5h0.9M41.0 30.4h0.9M40.0 30.9h0.9M41.7 31.9h0.9M43.3 30.7h0.9M44.4 32.2h0.9M43.9 33.9h0.9M39.9 41.8h0.9M43.2 35.3h0.9M43.5 25.0h0.9M45.6 35.3h0.9M41.8 39.7h0.9M42.8 33.6h0.9M43.0 25.1h0.9M44.0 30.8h0.9M43.5 28.5h0.9M42.7 26.3h0.9M42.8 37.1h0.9M44.5 30.4h0.9M43.2 25.3h0.9" stroke="#111" stroke-width="0.9" opacity="0.6"/>
<path d="M45.7 24.1h0.9M50.5 47.0h0.9M59.8 29.9h0.9M41.4 44.4h0.9M55.8 25.1h0.9M59.6 32.1h0.9M42.8 48.3h0.9M52.8 24.4h0.9M43.0 23.7h0.9M59.0 37.6h0.9M40.6 40.7h0.9M52.0 50.7h0.9M58.1 23.6h0.9M44.5 30.7h0.9M56.0 42.1h0.9M41.6 33.5h0.9M57.8 39.9h0.9M56.9 42.3h0.9M48.9 49.0h0.9M44.2 42.8h0.9M55.7 42.2h0.9M47.7 48.9h0.9M52.8 20.9h0.9M41.2 36.4h0.9M51.1 45.0h0.9M58.4 38.8h0.9M49.6 51.2h0.9M46.8 47.0h0.9M57.8 29.4h0.9M52.8 45.5h0.9M51.5 45.3h0.9M54.9 22.2h0.9M55.0 45.1h0.9M55.9 43.0h0.9M42.5 38.9h0.9M54.7 45.1h0.9M53.8 24.5h0.9M52.2 18.4h0.9M54.3 45.1h0.9M40.3 40.9h0.9M38.9 37.9h0.9M41.4 24.5h0.9M54.3 25.3h0.9M45.1 29.1h0.9M44.8 43.8h0.9M48.0 25.6h0.9M39.9 32.5h0.9M58.6 41.1h0.9M57.3 41.7h0.9M58.8 36.2h0.9M58.5 25.7h0.9M57.4 23.4h0.9M44.2 29.7h0.9M48.5 24.7h0.9M59.2 30.0h0.9M38.6 23.2h0.9M49.9 23.5h0.9M48.9 47.2h0.9M50.4 22.0h0.9M58.8 38.0h0.9M52.4 45.2h0.9M55.1 47.7h0.9M45.9 51.7h0.9M48.9 19.0h0.9M41.6 19.3h0.9M55.3 48.0h0.9M58.8 25.9h0.9M56.7 22.6h0.9M55.1 20.5h0.9M35.2 46.0h0.9M60.6 33.0h0.9M55.8 26.8h0.9M58.3 35.1h0.9M56.6 25.8h0.9M57.2 26.3h0.9M47.7 20.5h0.9M58.5 38.6h0.9M50.8 47.9h0.9M49.3 25.3h0.9M53.3 44.9h0.9M58.0 40.3h0.9M53.5 24.5h0.9M55.3 26.2h0.9M43.7 42.7h0.9M59.2 34.6h0.9M48.7 21.5h0.9M38.8 42.0h0.9M42.7 33.8h0.9M50.9 51.6h0.9M61.0 38.9h0.9M51.0 24.9h0.9M56.6 39.7h0.9M58.1 30.2h0.9M58.4 32.1h0.9M39.6 21.3h0.9M55.9 43.8h0.9M58.4 38.9h0.9M58.6 37.6h0.9M54.6 22.7h0.9M58.3 31.0h0.9M57.9 37.9h0.9M50.0 23.6h0.9M52.2 19.5h0.9M41.5 49.2h0.9M49.0 48.2h0.9M59.1 37.2h0.9M41.2 50.6h0.9M53.5 21.3h0.9M45.5 47.2h0.9M45.6 43.0h0.9M54.5 23.2h0.9M44.0 27.5h0.9M60.2 42.2h0.9M45.7 26.5h0.9M47.4 25.9h0.9M41.5 47.0h0.9M42.5 31.2h0.9M45.2 25.8h0.9M54.2 46.0h0.9M48.0 44.7h0.9M46.9 27.0h0.9M37.2 23.4h0.9M41.4 28.3h0.9M40.7 37.7h0.9M50.8 21.3h0.9M34.1 31.9h0.9M49.6 23.5h0.9M48.6 45.2h0.9M50.2 25.1h0.9M55.4 26.4h0.9M55.9 26.5h0.9M56.2 42.5h0.9M51.6 22.5h0.9M42.7 27.0h0.9M43.8 41.1h0.9M40.3 49.9h0.9M58.7 36.9h0.9M45.7 26.9h0.9M49.0 18.2h0.9M58.2 30.2h0.9M47.7 50.0h0.9M52.5 24.5h0.9M39.2 41.6h0.9M57.8 29.9h0.9M44.5 25.0h0.9M57.8 39.4h0.9M50.1 20.1h0.9M37.8 45.2h0.9M57.3 40.7h0.9M48.8 47.9h0.9M42.9 19.2h0.9M49.8 47.8h0.9M56.5 22.4h0.9M50.4 50.6h0.9M44.0 39.7h0.9M48.0 45.6h0.9M33.9 40.2h0.9M58.7 37.7h0.9M56.1 27.0h0.9M43.8 34.0h0.9M45.0 49.7h0.9M57.7 30.4h0.9M40.9 41.9h0.9M56.6 22.9h0.9M58.6 40.8h0.9M59.1 37.8h0.9M59.6 38.9h0.9M44.4 46.4h0.9M49.0 21.9h0.9M58.6 34.1h0.9M52.6 24.8h0.9M48.9 44.3h0.9M56.1 42.5h0.9M41.2 38.0h0.9M57.4 30.4h0.9M51.6 22.9h0.9M59.0 40.7h0.9M56.4 42.9h0.9M60.0 32.0h0.9M56.4 26.9h0.9M42.6 22.7h0.9M37.0 24.1h0.9M46.5 48.9h0.9M41.9 29.0h0.9M58.4 38.0h0.9M52.9 45.9h0.9M55.2 48.8h0.9M58.4 42.3h0.9M43.5 36.9h0.9M42.8 37.8h0.9M47.3 23.7h0.9M54.5 25.7h0.9M45.4 42.5h0.9M51.8 47.6h0.9M55.2 45.7h0.9M40.1 20.5h0.9M51.8 23.1h0.9M43.4 39.8h0.9M58.6 25.0h0.9M58.8 34.4h0.9" stroke="#222" stroke-width="0.9" opacity="0.5"/>
<path d="M58.27,35.14 C58.20,36.45 57.93,37.84 57.50,39.03 C57.07,40.21 56.43,41.35 55.69,42.22 C54.95,43.09 54.01,43.81 53.08,44.23 C52.15,44.66 51.07,44.85 50.10,44.76 C49.13,44.68 48.10,44.30 47.26,43.73 C46.42,43.15 45.62,42.27 45.04,41.29 C44.47,40.31 44.03,39.07 43.81,37.83 C43.59,36.59 43.57,35.17 43.73,33.86 C43.89,32.56 44.26,31.17 44.75,30.00 C45.24,28.82 45.94,27.68 46.67,26.81 C47.41,25.94 48.30,25.22 49.17,24.79 C50.05,24.36 51.01,24.16 51.90,24.24 C52.78,24.32 53.70,24.68 54.48,25.25 C55.27,25.83 56.02,26.70 56.60,27.68 C57.17,28.66 57.65,29.91 57.93,31.15 C58.21,32.39 58.34,33.82 58.27,35.14Z" transform="translate(0,0)" fill="#0a0a0a" stroke="#0a0a0a" stroke-width="2.8" stroke-linejoin="round" filter="url(#fz)"/>
<path d="M58.27,35.14 C58.20,36.45 57.93,37.84 57.50,39.03 C57.07,40.21 56.43,41.35 55.69,42.22 C54.95,43.09 54.01,43.81 53.08,44.23 C52.15,44.66 51.07,44.85 50.10,44.76 C49.13,44.68 48.10,44.30 47.26,43.73 C46.42,43.15 45.62,42.27 45.04,41.29 C44.47,40.31 44.03,39.07 43.81,37.83 C43.59,36.59 43.57,35.17 43.73,33.86 C43.89,32.56 44.26,31.17 44.75,30.00 C45.24,28.82 45.94,27.68 46.67,26.81 C47.41,25.94 48.30,25.22 49.17,24.79 C50.05,24.36 51.01,24.16 51.90,24.24 C52.78,24.32 53.70,24.68 54.48,25.25 C55.27,25.83 56.02,26.70 56.60,27.68 C57.17,28.66 57.65,29.91 57.93,31.15 C58.21,32.39 58.34,33.82 58.27,35.14Z" transform="translate(-1.6,0)" fill="#0a0a0a" stroke="#0a0a0a" stroke-width="2.8" stroke-linejoin="round" filter="url(#fz)"/>
<path d="M58.27,35.14 C58.20,36.45 57.93,37.84 57.50,39.03 C57.07,40.21 56.43,41.35 55.69,42.22 C54.95,43.09 54.01,43.81 53.08,44.23 C52.15,44.66 51.07,44.85 50.10,44.76 C49.13,44.68 48.10,44.30 47.26,43.73 C46.42,43.15 45.62,42.27 45.04,41.29 C44.47,40.31 44.03,39.07 43.81,37.83 C43.59,36.59 43.57,35.17 43.73,33.86 C43.89,32.56 44.26,31.17 44.75,30.00 C45.24,28.82 45.94,27.68 46.67,26.81 C47.41,25.94 48.30,25.22 49.17,24.79 C50.05,24.36 51.01,24.16 51.90,24.24 C52.78,24.32 53.70,24.68 54.48,25.25 C55.27,25.83 56.02,26.70 56.60,27.68 C57.17,28.66 57.65,29.91 57.93,31.15 C58.21,32.39 58.34,33.82 58.27,35.14Z" fill="#050505" stroke="#050505" stroke-width="1.7999999999999998" stroke-linejoin="round"/>
<path d="M58.5 33.1h0.9M56.2 45.0h0.9M43.5 28.5h0.9M42.9 48.7h0.9M43.9 44.8h0.9M41.9 23.7h0.9M53.7 47.3h0.9M50.8 46.6h0.9M55.5 44.3h0.9M57.1 28.1h0.9M58.8 30.9h0.9M58.5 39.5h0.9M52.1 45.3h0.9M43.5 39.1h0.9M44.0 33.2h0.9M53.5 23.1h0.9M54.6 26.9h0.9M58.1 28.1h0.9M56.0 23.6h0.9M40.7 45.9h0.9M56.4 28.6h0.9M44.5 24.9h0.9M47.8 26.5h0.9M43.2 36.7h0.9M53.1 24.2h0.9M51.0 46.2h0.9M42.7 44.7h0.9M57.3 40.2h0.9M40.6 39.1h0.9M54.4 24.8h0.9M48.3 26.1h0.9M58.4 38.4h0.9M49.4 23.8h0.9M42.1 28.3h0.9M58.7 35.2h0.9M58.8 37.8h0.9M47.7 45.0h0.9M51.9 45.3h0.9M54.6 23.3h0.9M57.9 41.4h0.9M51.6 23.2h0.9M44.9 45.4h0.9M50.8 46.1h0.9M47.7 25.4h0.9M47.3 45.1h0.9M41.9 34.1h0.9M57.4 29.5h0.9M55.6 42.9h0.9M42.9 36.5h0.9M55.4 25.1h0.9M50.9 45.4h0.9M40.9 40.4h0.9M51.0 45.1h0.9M51.8 22.9h0.9M56.7 42.5h0.9M43.3 35.6h0.9M51.0 45.5h0.9M59.0 29.6h0.9M44.6 27.7h0.9M42.4 45.1h0.9M46.4 26.8h0.9M58.0 37.6h0.9M59.1 37.8h0.9M43.4 32.9h0.9M55.3 47.0h0.9M41.4 44.1h0.9M54.7 26.8h0.9M44.4 39.5h0.9M49.0 47.3h0.9M38.9 45.0h0.9M58.0 32.2h0.9M46.3 46.1h0.9M46.8 24.8h0.9M54.0 46.1h0.9M44.9 45.2h0.9M56.6 43.3h0.9M44.5 48.2h0.9M57.2 39.4h0.9M48.1 46.6h0.9M48.2 25.9h0.9M48.8 46.2h0.9M55.1 25.2h0.9M58.8 37.0h0.9M47.7 49.9h0.9M45.9 28.0h0.9M42.0 41.3h0.9M45.6 21.1h0.9M59.7 30.1h0.9M43.1 48.7h0.9M41.7 32.7h0.9M37.0 33.3h0.9M57.0 40.9h0.9M41.8 28.8h0.9M54.0 47.6h0.9M43.2 39.9h0.9M50.9 47.0h0.9M48.6 25.1h0.9M49.2 46.6h0.9M51.9 47.2h0.9M57.5 27.8h0.9" stroke="#000" stroke-width="0.9" opacity="0.85"/>
<path d="M58.27,35.14 C58.20,36.45 57.93,37.84 57.50,39.03 C57.07,40.21 56.43,41.35 55.69,42.22 C54.95,43.09 54.01,43.81 53.08,44.23 C52.15,44.66 51.07,44.85 50.10,44.76 C49.13,44.68 48.10,44.30 47.26,43.73 C46.42,43.15 45.62,42.27 45.04,41.29 C44.47,40.31 44.03,39.07 43.81,37.83 C43.59,36.59 43.57,35.17 43.73,33.86 C43.89,32.56 44.26,31.17 44.75,30.00 C45.24,28.82 45.94,27.68 46.67,26.81 C47.41,25.94 48.30,25.22 49.17,24.79 C50.05,24.36 51.01,24.16 51.90,24.24 C52.78,24.32 53.70,24.68 54.48,25.25 C55.27,25.83 56.02,26.70 56.60,27.68 C57.17,28.66 57.65,29.91 57.93,31.15 C58.21,32.39 58.34,33.82 58.27,35.14Z" fill="#e6e6e6" stroke="#f4f4f4" stroke-width="0.9"/>
<path d="M57.24,35.05 C57.12,36.16 56.55,37.50 56.14,38.49 C55.73,39.48 55.41,40.37 54.79,41.00 C54.18,41.64 53.13,41.93 52.43,42.28 C51.72,42.63 51.34,43.14 50.54,43.10 C49.75,43.06 48.39,42.58 47.65,42.05 C46.90,41.52 46.53,40.73 46.07,39.91 C45.61,39.08 45.07,38.14 44.86,37.12 C44.66,36.10 44.62,34.86 44.82,33.79 C45.03,32.73 45.68,31.66 46.10,30.72 C46.51,29.78 46.80,28.79 47.33,28.13 C47.86,27.48 48.53,27.10 49.27,26.78 C50.00,26.45 50.93,26.20 51.74,26.18 C52.56,26.17 53.50,26.23 54.15,26.68 C54.80,27.14 55.18,28.04 55.63,28.89 C56.08,29.75 56.58,30.79 56.85,31.82 C57.12,32.84 57.36,33.94 57.24,35.05Z" fill="none" stroke="#f2f2f2" stroke-width="0.55" opacity="1"/>
<path d="M55.62,34.69 C55.63,35.57 55.41,36.78 55.18,37.57 C54.96,38.36 54.74,38.86 54.27,39.41 C53.80,39.97 52.99,40.64 52.34,40.91 C51.69,41.18 50.99,41.06 50.39,41.01 C49.80,40.96 49.26,40.95 48.75,40.63 C48.24,40.32 47.77,39.77 47.35,39.10 C46.92,38.44 46.41,37.44 46.20,36.65 C45.99,35.86 45.98,35.19 46.08,34.36 C46.19,33.52 46.47,32.43 46.84,31.63 C47.22,30.83 47.85,30.12 48.35,29.56 C48.84,29.00 49.27,28.52 49.82,28.27 C50.36,28.01 51.03,27.97 51.62,28.02 C52.21,28.07 52.88,28.24 53.37,28.56 C53.85,28.88 54.22,29.32 54.52,29.93 C54.82,30.54 54.97,31.45 55.15,32.24 C55.33,33.04 55.62,33.80 55.62,34.69Z" fill="none" stroke="#f2f2f2" stroke-width="0.55" opacity="1"/>
<path d="M54.62,34.78 C54.60,35.42 54.00,35.99 53.78,36.57 C53.56,37.15 53.62,37.84 53.30,38.25 C52.98,38.66 52.37,38.85 51.88,39.04 C51.38,39.24 50.76,39.51 50.32,39.42 C49.88,39.33 49.59,38.78 49.21,38.51 C48.84,38.24 48.30,38.26 48.08,37.81 C47.87,37.37 47.95,36.48 47.93,35.85 C47.90,35.22 47.94,34.66 47.93,34.04 C47.93,33.42 47.72,32.64 47.87,32.15 C48.01,31.66 48.42,31.40 48.81,31.09 C49.20,30.78 49.80,30.53 50.20,30.28 C50.61,30.03 50.80,29.59 51.24,29.58 C51.67,29.57 52.43,29.91 52.82,30.23 C53.20,30.56 53.38,31.11 53.56,31.52 C53.74,31.93 53.71,32.15 53.89,32.69 C54.07,33.23 54.64,34.13 54.62,34.78Z" fill="none" stroke="#f2f2f2" stroke-width="0.55" opacity="1"/>
<path d="M52.93,34.60 C52.91,35.00 52.80,35.52 52.71,35.88 C52.61,36.23 52.56,36.48 52.36,36.73 C52.15,36.98 51.72,37.20 51.48,37.38 C51.23,37.57 51.11,37.92 50.89,37.85 C50.67,37.78 50.43,37.17 50.17,36.98 C49.90,36.78 49.47,36.92 49.29,36.68 C49.11,36.44 49.20,35.93 49.10,35.53 C48.99,35.13 48.61,34.71 48.66,34.27 C48.71,33.84 49.22,33.29 49.39,32.93 C49.57,32.57 49.55,32.38 49.71,32.11 C49.87,31.85 50.09,31.44 50.35,31.33 C50.60,31.23 50.93,31.36 51.24,31.47 C51.55,31.58 52.00,31.86 52.23,32.00 C52.45,32.14 52.46,32.07 52.57,32.33 C52.67,32.58 52.80,33.13 52.87,33.51 C52.93,33.89 52.96,34.21 52.93,34.60Z" fill="none" stroke="#f2f2f2" stroke-width="0.55" opacity="1"/>
<path d="M52.26,34.69 C52.22,34.91 51.99,35.25 51.94,35.45 C51.90,35.65 52.10,35.80 51.98,35.90 C51.85,36.00 51.44,36.04 51.21,36.08 C50.98,36.12 50.74,36.15 50.59,36.12 C50.44,36.09 50.33,36.01 50.30,35.89 C50.27,35.77 50.49,35.53 50.40,35.39 C50.32,35.26 49.90,35.29 49.78,35.10 C49.66,34.91 49.61,34.52 49.69,34.27 C49.76,34.02 50.11,33.76 50.25,33.60 C50.39,33.43 50.44,33.35 50.51,33.30 C50.59,33.25 50.58,33.39 50.68,33.29 C50.77,33.19 50.94,32.74 51.09,32.70 C51.24,32.66 51.42,32.94 51.57,33.07 C51.73,33.20 51.91,33.32 52.02,33.49 C52.12,33.67 52.17,33.94 52.21,34.14 C52.25,34.34 52.30,34.47 52.26,34.69Z" fill="none" stroke="#f2f2f2" stroke-width="0.55" opacity="1"/>
<path d="M56.97,34.83 C56.99,35.82 56.67,37.00 56.31,37.95 C55.95,38.89 55.44,39.78 54.84,40.50 C54.24,41.21 53.51,41.87 52.71,42.24 C51.90,42.61 50.81,42.79 50.00,42.71 C49.19,42.63 48.43,42.24 47.85,41.77 C47.26,41.31 46.89,40.73 46.50,39.93 C46.11,39.14 45.69,38.02 45.48,37.00 C45.28,35.98 45.17,34.85 45.26,33.81 C45.36,32.77 45.64,31.65 46.07,30.74 C46.50,29.82 47.25,28.95 47.85,28.31 C48.44,27.66 48.99,27.14 49.63,26.87 C50.26,26.59 50.96,26.57 51.66,26.65 C52.37,26.73 53.24,27.00 53.83,27.37 C54.42,27.75 54.82,28.15 55.22,28.92 C55.61,29.70 55.90,31.05 56.20,32.03 C56.49,33.02 56.95,33.85 56.97,34.83Z" fill="none" stroke="#9a9a9a" stroke-width="0.4" opacity="1"/>
<path d="M55.61,34.65 C55.59,35.49 55.33,36.55 55.05,37.35 C54.77,38.14 54.34,38.88 53.92,39.41 C53.51,39.94 53.15,40.24 52.59,40.52 C52.02,40.80 51.14,41.13 50.52,41.08 C49.90,41.03 49.40,40.60 48.86,40.23 C48.32,39.87 47.67,39.47 47.29,38.89 C46.92,38.31 46.73,37.57 46.59,36.74 C46.46,35.92 46.39,34.79 46.49,33.94 C46.58,33.10 46.83,32.40 47.15,31.69 C47.47,30.97 47.95,30.18 48.41,29.66 C48.87,29.14 49.40,28.84 49.90,28.57 C50.41,28.29 50.94,27.98 51.44,28.00 C51.95,28.01 52.46,28.28 52.94,28.67 C53.42,29.05 53.95,29.69 54.31,30.30 C54.68,30.91 54.93,31.58 55.15,32.31 C55.36,33.04 55.62,33.81 55.61,34.65Z" fill="none" stroke="#9a9a9a" stroke-width="0.4" opacity="1"/>
<path d="M54.33,35.06 C54.30,35.66 54.08,36.08 53.89,36.61 C53.71,37.13 53.51,37.78 53.23,38.19 C52.95,38.60 52.72,38.92 52.23,39.07 C51.74,39.22 50.82,39.13 50.30,39.10 C49.77,39.08 49.37,39.17 49.07,38.92 C48.77,38.68 48.74,38.13 48.51,37.63 C48.28,37.13 47.83,36.50 47.71,35.91 C47.58,35.31 47.66,34.66 47.74,34.06 C47.82,33.46 47.98,32.78 48.20,32.30 C48.42,31.82 48.68,31.54 49.05,31.18 C49.42,30.82 50.05,30.37 50.42,30.14 C50.78,29.91 50.88,29.77 51.25,29.78 C51.61,29.80 52.17,29.92 52.59,30.23 C53.01,30.53 53.53,31.17 53.78,31.63 C54.02,32.08 53.97,32.39 54.06,32.96 C54.15,33.53 54.36,34.45 54.33,35.06Z" fill="none" stroke="#9a9a9a" stroke-width="0.4" opacity="1"/>
<path d="M53.61,34.69 C53.59,35.11 53.29,35.36 53.06,35.75 C52.83,36.14 52.50,36.70 52.24,37.03 C51.99,37.37 51.73,37.65 51.50,37.77 C51.28,37.89 51.20,37.77 50.89,37.76 C50.57,37.75 49.90,37.87 49.60,37.69 C49.30,37.51 49.25,37.05 49.09,36.69 C48.92,36.33 48.68,35.89 48.61,35.52 C48.54,35.15 48.63,34.87 48.69,34.46 C48.74,34.06 48.75,33.55 48.95,33.10 C49.14,32.64 49.64,31.99 49.85,31.75 C50.06,31.52 49.98,31.80 50.20,31.68 C50.43,31.56 50.82,31.01 51.18,31.03 C51.54,31.05 52.14,31.55 52.36,31.80 C52.59,32.06 52.38,32.31 52.52,32.55 C52.66,32.79 53.01,32.90 53.19,33.25 C53.37,33.61 53.63,34.28 53.61,34.69Z" fill="none" stroke="#9a9a9a" stroke-width="0.4" opacity="1"/>
<path d="M52.40,34.77 C52.40,34.98 52.35,35.12 52.22,35.31 C52.09,35.50 51.77,35.76 51.59,35.91 C51.41,36.05 51.22,36.06 51.14,36.19 C51.06,36.32 51.19,36.70 51.10,36.69 C51.01,36.68 50.80,36.26 50.60,36.14 C50.40,36.03 50.05,36.18 49.88,35.98 C49.72,35.78 49.65,35.21 49.62,34.94 C49.58,34.67 49.57,34.58 49.65,34.36 C49.73,34.14 50.06,33.85 50.11,33.62 C50.16,33.38 49.82,33.09 49.94,32.97 C50.05,32.85 50.61,32.96 50.81,32.87 C51.02,32.78 51.02,32.49 51.17,32.44 C51.32,32.39 51.62,32.47 51.72,32.56 C51.82,32.65 51.69,32.72 51.76,32.97 C51.84,33.22 52.06,33.77 52.17,34.07 C52.27,34.37 52.39,34.56 52.40,34.77Z" fill="none" stroke="#9a9a9a" stroke-width="0.4" opacity="1"/>
</g>
<rect x="174.5" y="120.5" width="64" height="59.5" fill="none" stroke="#666" stroke-width="1"/>
<text x="177.0" y="132.5" font-size="12.5" text-anchor="start" font-weight="normal" font-style="normal" fill="#111" >9</text>
<text x="235.5" y="132.5" font-size="12.5" text-anchor="end" font-weight="normal" font-style="normal" fill="#111" >55</text>
<text x="235.5" y="178.2" font-size="12.5" text-anchor="end" font-weight="normal" font-style="normal" fill="#111" >33</text>
<line x1="285.5" y1="120.5" x2="285.5" y2="180.0" stroke="#9a9a9a" stroke-width="1"/>
<line x1="253.5" y1="156.5" x2="317.5" y2="156.5" stroke="#9a9a9a" stroke-width="1"/>
<g transform="translate(253.5,120.5)">
<path d="M25.4 45.9h0.9M44.8 39.0h0.9M12.0 44.6h0.9M24.1 43.0h0.9M41.9 38.6h0.9M29.4 29.2h0.9M32.2 30.1h0.9M25.7 36.7h0.9M35.8 38.4h0.9M42.6 42.2h0.9M15.8 31.1h0.9M18.9 27.8h0.9M34.9 35.7h0.9M47.5 31.9h0.9M29.5 37.5h0.9M38.0 38.3h0.9M55.6 42.2h0.9M18.0 43.9h0.9M54.5 35.6h0.9M37.3 39.8h0.9M50.9 34.9h0.9M17.0 49.3h0.9M48.9 47.2h0.9M50.0 36.9h0.9M15.6 50.3h0.9M17.6 38.6h0.9M41.9 28.6h0.9M47.6 26.8h0.9M42.0 37.8h0.9M23.3 39.8h0.9M38.2 33.4h0.9M60.5 35.5h0.9M28.6 32.7h0.9M39.3 27.2h0.9M42.7 32.6h0.9M37.3 32.5h0.9M27.7 37.4h0.9M32.4 50.9h0.9M43.1 36.4h0.9M34.2 36.0h0.9M25.4 41.4h0.9M35.5 38.2h0.9M20.6 25.2h0.9M39.1 42.0h0.9M34.2 26.9h0.9M31.4 31.4h0.9M58.6 33.0h0.9M41.8 28.5h0.9M50.8 49.3h0.9M21.3 32.6h0.9M24.6 27.1h0.9M39.8 39.6h0.9M30.5 39.0h0.9M32.7 33.2h0.9M20.8 30.8h0.9M34.8 25.8h0.9M26.2 35.8h0.9M50.8 31.5h0.9M6.8 36.3h0.9M42.4 29.1h0.9M27.6 39.0h0.9M39.0 37.1h0.9M55.8 37.8h0.9M49.7 43.2h0.9M33.4 40.4h0.9M48.0 35.0h0.9M51.3 41.6h0.9M16.2 24.3h0.9M38.7 30.7h0.9M27.6 34.5h0.9M26.7 42.2h0.9M37.1 47.8h0.9M38.1 30.7h0.9M40.7 30.7h0.9M39.3 40.6h0.9M51.1 42.9h0.9M33.2 38.5h0.9M49.5 39.1h0.9M42.2 33.3h0.9M45.0 26.6h0.9" stroke="#777" stroke-width="0.9" opacity="0.6"/>
<path d="M40.0,27.0L41.2,25.8L42.3,24.2L44.1,23.1L46.1,22.5L48.1,22.0L49.8,21.6L52.0,21.6L54.5,21.5L56.8,21.7L59.2,22.6L60.9,24.0L61.9,25.1L62.3,26.5L62.8,28.7L62.6,30.8L61.7,33.1L59.8,34.3L59.0,35.8L58.1,37.6L57.7,39.2L57.1,41.0L55.9,42.3L54.8,44.1L52.9,45.0L51.2,45.6L49.6,45.7L48.0,44.9L46.8,44.5L45.5,43.4L44.1,42.2L42.5,40.5L41.3,39.6L41.2,37.8L41.3,36.1L42.0,34.3L41.8,32.9L41.5,32.2L40.6,31.5L39.7,30.6L39.4,29.1L39.6,28.5Z" fill="none" stroke="#666" stroke-width="0.65" stroke-linejoin="round" opacity="1"/>
<path d="M60.1,29.4L60.5,30.7L60.0,31.8L59.6,33.0L59.1,34.5L58.0,35.7L57.1,36.2L56.3,37.1L55.8,37.2L54.8,37.2L53.1,37.1L51.2,36.9L49.4,36.2L48.9,35.3L47.7,34.4L47.2,33.6L47.3,32.5L47.5,31.1L47.9,29.4L47.7,28.7L47.3,27.1L47.8,26.3L48.9,26.0L50.1,25.1L51.6,24.9L52.9,24.5L53.6,24.1L54.7,23.6L55.3,23.9L56.7,24.0L57.2,24.1L58.3,24.6L59.0,25.6L59.9,27.0L59.9,27.5L60.3,28.6Z" fill="none" stroke="#555" stroke-width="0.65" stroke-linejoin="round" opacity="1"/>
<path d="M59.6,29.2L59.3,30.1L59.4,31.1L58.9,32.4L58.3,33.5L57.6,34.3L56.2,35.0L55.6,35.2L54.9,35.1L54.3,35.1L53.4,34.8L52.6,34.9L51.6,34.5L51.0,34.1L49.9,33.4L49.7,32.4L49.6,31.7L49.2,29.8L49.1,28.8L48.9,28.0L49.0,27.3L49.1,26.4L49.9,26.0L50.6,25.4L51.5,24.8L52.3,24.6L53.0,24.6L54.1,25.2L55.2,24.7L56.2,24.7L56.8,25.2L57.9,25.4L58.1,26.2L58.8,27.1L59.4,28.0L59.5,28.5Z" fill="none" stroke="#555" stroke-width="0.65" stroke-linejoin="round" opacity="1"/>
<path d="M58.0,28.7L57.8,29.4L57.2,30.4L57.1,31.1L57.0,31.7L56.0,32.3L55.7,32.8L55.2,32.9L55.2,32.7L54.3,33.0L53.6,33.1L52.9,33.0L51.9,33.2L51.6,32.5L50.8,32.4L50.4,31.7L50.2,30.9L50.5,29.6L50.3,29.2L50.4,28.2L51.1,27.7L50.9,27.7L51.1,27.1L51.3,26.7L52.2,26.2L52.7,26.2L53.4,26.0L54.2,25.9L55.0,26.0L55.5,25.9L56.4,26.2L56.4,27.0L56.8,27.2L57.5,27.7L57.5,27.8L57.6,28.1Z" fill="none" stroke="#555" stroke-width="0.65" stroke-linejoin="round" opacity="1"/>
<path d="M57.0,29.2L56.5,29.9L56.7,30.0L56.7,30.8L56.2,30.9L56.1,31.5L56.2,31.8L55.3,32.2L54.9,32.1L54.1,32.1L53.7,32.4L53.5,32.1L52.7,32.0L52.4,31.5L51.9,31.2L51.6,31.0L51.3,30.3L51.7,30.0L52.2,29.5L52.0,29.1L51.7,28.6L52.4,27.6L52.1,27.4L52.9,27.4L53.3,27.0L53.8,26.9L54.0,26.3L54.9,26.6L54.8,26.5L55.7,26.9L55.7,27.1L56.1,27.8L56.0,28.1L56.0,28.2L56.5,28.5L56.7,28.6Z" fill="none" stroke="#555" stroke-width="0.65" stroke-linejoin="round" opacity="1"/>
<path d="M55.9,29.1L56.2,29.3L55.9,29.8L55.6,29.7L55.7,29.9L55.3,30.4L55.2,30.7L54.7,30.5L54.7,30.8L54.5,30.9L54.1,30.6L54.1,30.7L53.7,30.2L53.6,29.9L53.4,29.9L53.1,30.0L53.0,30.0L53.2,29.4L52.8,29.4L53.1,29.1L53.0,28.9L52.8,28.3L53.3,28.5L53.8,27.8L53.7,27.6L54.2,27.8L54.0,27.5L54.7,27.8L54.9,27.6L54.8,27.5L55.0,27.6L55.1,27.8L55.5,28.0L55.6,28.6L55.5,28.5L55.9,29.0Z" fill="none" stroke="#555" stroke-width="0.65" stroke-linejoin="round" opacity="1"/>
<path d="M54.3,39.6L54.2,40.2L54.0,40.8L53.1,41.7L52.4,42.3L51.7,42.8L50.8,43.1L50.3,42.9L48.9,42.7L48.0,42.7L47.1,42.9L46.1,42.4L45.4,41.7L45.1,41.3L45.7,40.1L45.6,39.6L45.7,38.8L45.5,38.3L46.1,37.5L46.8,36.8L47.2,36.3L48.4,36.1L48.9,36.2L49.7,36.0L50.6,36.3L51.8,36.9L52.5,36.7L53.0,37.1L53.6,38.0L53.8,38.7Z" fill="none" stroke="#666" stroke-width="0.6" stroke-linejoin="round" opacity="1"/>
<path d="M11.0,27.0L11.2,26.1L12.0,24.5L13.1,23.7L14.2,24.3L14.7,24.6L16.3,25.2L17.1,24.2L18.2,23.2L18.7,22.5L19.9,22.7L20.9,23.3L21.5,24.2L21.6,24.9L20.4,25.8L20.2,27.1L20.5,28.3L20.8,29.3L20.7,30.0L20.0,30.2L18.5,30.7L16.8,30.5L16.1,30.5L14.8,29.4L14.1,29.0L12.6,28.7L11.5,27.8Z" fill="none" stroke="#666" stroke-width="0.65" stroke-linejoin="round" opacity="1"/>
<path d="M24.0,35.7L24.3,36.1L23.8,37.0L23.7,37.3L23.2,37.8L22.3,37.7L21.7,38.0L20.8,37.7L20.7,37.5L20.1,37.2L19.7,37.0L19.5,36.4L19.1,35.5L19.2,34.9L19.5,34.6L19.8,34.1L20.7,33.8L21.1,33.6L21.5,33.5L22.1,33.5L23.1,33.5L23.6,34.2L23.7,34.7L24.3,34.9Z" fill="none" stroke="#666" stroke-width="0.65" stroke-linejoin="round" opacity="1"/>
<path d="M29.7,31.2L29.9,31.5L29.8,32.0L29.2,32.4L28.9,32.9L28.7,33.2L28.1,33.0L27.7,33.0L26.9,32.6L26.8,32.2L26.4,32.0L26.0,31.5L26.0,31.2L26.0,31.0L26.3,30.3L26.8,29.9L27.1,29.8L27.6,29.7L28.1,29.5L28.5,29.2L29.0,29.7L29.2,29.7L29.7,30.3L29.6,30.8Z" fill="none" stroke="#666" stroke-width="0.65" stroke-linejoin="round" opacity="1"/>
<path d="M34.8,32.6L34.9,33.0L34.9,33.2L34.5,33.4L34.0,33.6L33.7,33.4L33.4,33.2L33.0,33.3L32.6,32.7L32.5,32.5L32.6,32.0L32.8,32.0L33.2,31.5L33.4,31.4L34.2,31.7L34.2,31.6L34.8,31.7L34.9,32.0Z" fill="none" stroke="#777" stroke-width="0.55" stroke-linejoin="round" opacity="1"/>
</g>
<rect x="253.5" y="120.5" width="64" height="59.5" fill="none" stroke="#666" stroke-width="1"/>
<text x="256.0" y="132.5" font-size="12.5" text-anchor="start" font-weight="normal" font-style="normal" fill="#111" >16</text>
<text x="314.5" y="132.5" font-size="12.5" text-anchor="end" font-weight="normal" font-style="normal" fill="#111" >58</text>
<text x="314.5" y="178.2" font-size="12.5" text-anchor="end" font-weight="normal" font-style="normal" fill="#111" >23</text>
<line x1="352.5" y1="120.5" x2="352.5" y2="180.0" stroke="#9a9a9a" stroke-width="1"/>
<line x1="320.5" y1="156.5" x2="384.5" y2="156.5" stroke="#9a9a9a" stroke-width="1"/>
<g transform="translate(320.5,120.5)">
<path d="M22.8 29.4h0.9M26.2 27.3h0.9M24.8 29.3h0.9M23.6 33.9h0.9M17.4 22.6h0.9M19.0 30.9h0.9M16.4 34.1h0.9M27.2 27.4h0.9M24.0 26.2h0.9M27.4 35.2h0.9M24.7 33.8h0.9M24.5 32.2h0.9M33.8 35.3h0.9M29.5 23.9h0.9M19.2 25.6h0.9M12.5 28.3h0.9M21.2 30.1h0.9M23.3 32.5h0.9M12.8 24.7h0.9M16.1 30.2h0.9M17.5 33.0h0.9M20.8 25.5h0.9M23.3 36.0h0.9M32.5 30.3h0.9M32.1 29.7h0.9M15.2 26.1h0.9M21.7 32.3h0.9M14.2 26.1h0.9M38.6 30.8h0.9M15.6 30.1h0.9M19.4 29.1h0.9M20.4 28.8h0.9M16.8 21.0h0.9M18.8 27.0h0.9M33.1 22.4h0.9M30.3 24.9h0.9M20.8 31.9h0.9M33.4 28.6h0.9M23.3 34.8h0.9M16.8 37.2h0.9M20.8 28.2h0.9M20.2 25.0h0.9M35.0 31.6h0.9M25.4 28.3h0.9M43.1 28.8h0.9M1.0 35.8h0.9M26.8 29.2h0.9M37.2 30.3h0.9M24.4 33.8h0.9M24.8 32.4h0.9M30.0 31.4h0.9M19.4 30.2h0.9M42.1 31.0h0.9M1.5 29.6h0.9M12.0 28.1h0.9M20.5 30.7h0.9M31.8 29.0h0.9M30.4 32.8h0.9M28.3 26.8h0.9M23.7 30.9h0.9M50.5 29.1h0.9M21.9 25.1h0.9M36.7 34.9h0.9M12.5 28.1h0.9M24.2 31.6h0.9M22.1 31.2h0.9M17.7 26.9h0.9M33.5 34.3h0.9M32.5 25.1h0.9M15.1 35.0h0.9M28.2 27.4h0.9M23.9 27.3h0.9M9.2 32.1h0.9M33.8 26.9h0.9M31.0 32.8h0.9M38.9 35.0h0.9M32.2 20.4h0.9M15.4 32.0h0.9M25.3 29.5h0.9M28.2 30.4h0.9M20.5 25.9h0.9M18.0 28.8h0.9M33.8 29.6h0.9M26.8 31.2h0.9M26.1 26.2h0.9M24.9 28.2h0.9M16.1 27.7h0.9M19.0 30.2h0.9M7.9 25.5h0.9M28.4 25.6h0.9M6.7 29.0h0.9M28.0 28.0h0.9M31.4 34.4h0.9M35.6 27.0h0.9M26.1 33.2h0.9M34.3 26.8h0.9M20.0 30.7h0.9M25.5 36.6h0.9M31.2 25.9h0.9M20.8 32.3h0.9M25.4 28.7h0.9M22.2 30.9h0.9M24.0 32.1h0.9M16.3 32.1h0.9M40.7 31.8h0.9M34.4 27.3h0.9M29.2 31.5h0.9M25.7 32.0h0.9M43.3 25.7h0.9M32.7 28.3h0.9M26.7 27.6h0.9M20.2 29.3h0.9M7.2 27.9h0.9M32.5 33.5h0.9M21.5 26.4h0.9M19.8 27.2h0.9M48.0 21.5h0.9M13.2 30.4h0.9M16.5 30.5h0.9M22.6 29.2h0.9M16.7 33.1h0.9M24.6 32.9h0.9M21.1 27.7h0.9M26.6 29.2h0.9M14.4 31.0h0.9M31.8 29.4h0.9M19.1 26.7h0.9M22.2 34.0h0.9M39.1 28.6h0.9M25.4 27.3h0.9M41.8 26.1h0.9M33.7 27.6h0.9M28.3 22.6h0.9M28.7 28.9h0.9M32.6 23.7h0.9M23.2 26.5h0.9M25.0 30.5h0.9M28.7 26.5h0.9M21.7 31.5h0.9M33.2 30.1h0.9M13.5 25.3h0.9M42.9 28.5h0.9M19.0 28.3h0.9M23.3 30.2h0.9M37.4 36.6h0.9M20.7 31.0h0.9M46.7 25.8h0.9M16.1 32.3h0.9M16.3 24.1h0.9M21.7 28.4h0.9M42.7 32.0h0.9M27.2 29.7h0.9M27.5 31.6h0.9M20.1 27.2h0.9M14.1 35.4h0.9M24.2 27.8h0.9M39.0 30.3h0.9M21.0 27.6h0.9M28.1 30.8h0.9M21.4 30.6h0.9M23.2 33.1h0.9M15.9 28.4h0.9M35.5 26.5h0.9M34.7 34.0h0.9M27.2 30.8h0.9M39.4 26.3h0.9M29.2 35.2h0.9M34.3 24.5h0.9M13.9 24.5h0.9M31.4 33.6h0.9M25.1 27.6h0.9M28.8 37.6h0.9M25.6 28.5h0.9M10.4 22.6h0.9M26.4 26.1h0.9M17.6 29.5h0.9M23.4 26.1h0.9M18.1 26.1h0.9M48.8 29.5h0.9M22.7 27.8h0.9M19.9 23.0h0.9M16.8 29.1h0.9M30.8 26.3h0.9M20.1 28.5h0.9M35.1 28.1h0.9M22.9 31.0h0.9M42.2 33.4h0.9M15.0 29.6h0.9M33.5 25.3h0.9M20.9 28.9h0.9M19.4 23.8h0.9M32.1 25.3h0.9M19.4 35.6h0.9M23.3 30.9h0.9M24.0 26.5h0.9M22.4 33.6h0.9M25.5 26.8h0.9M9.8 25.3h0.9M27.4 33.1h0.9M18.5 27.4h0.9M31.8 24.7h0.9M30.8 27.6h0.9M18.2 31.8h0.9M13.0 24.5h0.9M22.9 28.5h0.9M17.8 30.6h0.9M15.7 29.8h0.9M32.9 31.7h0.9M14.7 29.4h0.9M41.0 30.2h0.9M14.0 29.6h0.9M17.4 25.0h0.9M28.8 23.3h0.9M26.0 27.9h0.9M16.0 34.5h0.9M28.2 31.4h0.9M17.2 38.9h0.9M32.4 33.5h0.9M43.6 31.3h0.9M35.8 32.5h0.9M48.3 33.2h0.9M33.0 24.6h0.9M17.9 23.2h0.9M18.8 31.5h0.9M32.2 28.5h0.9M32.9 37.9h0.9M19.7 33.9h0.9M35.0 25.0h0.9M35.2 28.1h0.9M10.2 30.2h0.9M16.2 27.5h0.9M23.8 30.7h0.9M33.7 34.1h0.9M15.7 31.9h0.9M21.8 28.8h0.9M28.1 31.7h0.9M21.2 30.7h0.9M33.7 25.5h0.9M30.6 29.0h0.9M32.4 30.6h0.9M27.3 27.6h0.9M28.8 31.7h0.9M31.0 26.7h0.9M30.6 30.2h0.9M24.5 29.8h0.9M17.8 33.6h0.9M20.4 27.9h0.9M31.4 34.7h0.9M23.8 31.5h0.9M12.7 23.0h0.9M41.1 31.1h0.9M26.8 31.0h0.9M20.5 23.6h0.9M20.7 27.2h0.9M29.9 28.4h0.9M7.6 32.4h0.9M12.5 25.8h0.9M28.9 30.0h0.9M19.5 26.8h0.9M20.2 28.5h0.9" stroke="#444" stroke-width="0.9" opacity="0.55"/>
<path d="M16.9 34.7h0.9M18.5 38.9h0.9M19.3 46.3h0.9M29.7 40.7h0.9M36.0 44.1h0.9M38.4 33.9h0.9M37.4 39.4h0.9M37.1 41.0h0.9M19.6 48.0h0.9M11.6 39.4h0.9M31.7 36.1h0.9M45.8 47.4h0.9M40.8 38.6h0.9M32.2 34.9h0.9M31.3 28.1h0.9M34.5 34.9h0.9M28.9 43.1h0.9M32.1 38.7h0.9M30.6 41.6h0.9M29.3 33.9h0.9M38.0 39.9h0.9M31.5 39.2h0.9M24.0 36.3h0.9M29.3 41.7h0.9M16.2 32.9h0.9M50.9 34.2h0.9M31.3 45.4h0.9M28.8 41.0h0.9M6.8 39.2h0.9M23.2 43.4h0.9M30.5 36.4h0.9M50.2 38.8h0.9M40.1 33.6h0.9M36.7 28.5h0.9M25.3 25.8h0.9M43.4 25.8h0.9M31.3 37.2h0.9M26.1 38.8h0.9M29.6 37.0h0.9M28.3 29.9h0.9M33.7 39.0h0.9M4.6 37.1h0.9M46.9 37.2h0.9M33.0 34.3h0.9M32.4 32.1h0.9M15.7 40.6h0.9M38.8 39.1h0.9M23.3 38.9h0.9M23.1 25.0h0.9M30.0 42.5h0.9M24.4 32.4h0.9M21.1 42.1h0.9M26.5 46.2h0.9M47.8 39.4h0.9M30.9 43.6h0.9M17.8 40.8h0.9M27.1 41.3h0.9M30.9 38.1h0.9M38.0 38.0h0.9M20.7 42.9h0.9" stroke="#777" stroke-width="0.9" opacity="0.6"/>
<path d="M37.9,27.0L38.8,25.6L41.2,25.1L43.9,24.3L47.0,23.7L50.2,22.9L52.9,23.3L55.4,22.9L57.7,23.8L59.0,24.2L60.1,24.9L60.8,26.4L60.8,28.2L61.1,30.3L60.6,32.9L59.8,35.3L59.5,37.0L58.6,38.4L58.2,40.3L56.7,41.2L55.4,42.3L53.8,43.3L52.5,43.7L51.2,43.5L50.4,42.3L49.4,41.3L48.1,40.2L47.7,38.8L47.3,37.1L46.6,36.0L46.1,34.4L44.5,33.7L42.6,32.8L41.6,31.7L39.6,31.2L38.5,31.1L37.6,29.7L37.2,28.8L37.1,27.7Z" fill="none" stroke="#444" stroke-width="0.75" stroke-linejoin="round" opacity="1"/>
<path d="M41.1,27.8L42.9,26.8L44.7,26.3L47.1,26.0L48.9,25.5L51.8,24.3L53.4,24.3L55.3,24.6L56.7,25.0L58.1,26.1L58.8,26.4L59.5,27.3L59.5,28.3L59.2,29.9L59.1,32.1L58.4,33.8L58.5,35.6L58.4,37.1L58.0,38.5L56.4,39.7L55.4,40.7L54.0,40.8L52.5,40.7L51.6,40.4L51.2,40.0L50.0,39.1L49.3,38.2L48.8,37.0L48.2,36.0L48.5,34.9L47.7,34.2L46.6,33.2L45.9,32.8L44.2,32.1L42.9,31.7L42.0,31.2L41.2,30.8L40.9,29.6L40.8,28.6Z" fill="none" stroke="#555" stroke-width="0.65" stroke-linejoin="round" opacity="1"/>
<path d="M44.6,28.1L45.5,28.1L46.5,27.3L48.3,27.6L49.6,26.8L51.6,26.9L53.1,26.5L54.7,26.4L55.9,26.4L56.8,26.5L57.9,27.0L58.0,28.1L58.2,29.6L57.9,30.4L57.8,31.5L57.4,33.0L57.1,34.1L57.1,35.0L56.7,36.5L56.0,36.9L55.0,37.7L54.1,38.1L53.4,38.4L52.7,38.5L51.6,38.2L51.1,37.1L50.5,36.4L50.7,35.5L50.1,34.4L49.5,33.8L49.0,33.0L48.2,32.0L47.2,31.6L46.6,31.2L45.6,30.7L45.4,30.9L44.8,30.7L44.6,29.5L44.1,29.1Z" fill="none" stroke="#555" stroke-width="0.65" stroke-linejoin="round" opacity="1"/>
<path d="M47.9,29.6L48.4,29.0L49.2,28.2L50.5,27.8L51.7,28.0L53.2,28.0L54.0,28.1L55.0,27.9L55.4,27.9L55.9,28.5L56.8,28.5L57.0,29.4L57.3,29.9L57.0,30.7L56.8,31.9L56.5,32.5L56.2,33.4L56.0,33.6L55.6,34.1L55.1,35.2L54.5,35.6L54.1,36.2L53.9,36.1L53.4,36.1L53.0,35.6L52.7,35.2L51.7,34.4L51.3,34.1L51.4,33.2L51.7,32.9L51.2,32.3L50.9,31.5L49.8,31.7L49.4,31.3L48.4,30.7L48.2,30.5L47.5,30.1L47.4,29.9L47.3,29.8Z" fill="none" stroke="#555" stroke-width="0.65" stroke-linejoin="round" opacity="1"/>
<path d="M50.1,30.1L50.4,30.0L51.2,29.3L52.0,29.2L52.7,28.8L53.0,29.1L54.1,28.6L54.3,29.0L54.8,29.2L55.5,29.5L55.8,29.5L56.4,30.2L56.2,30.5L56.3,30.9L55.7,31.3L55.6,32.0L55.5,32.0L55.3,32.8L55.2,33.0L55.1,33.5L54.7,33.7L54.5,33.6L54.3,33.8L53.9,33.7L53.9,33.6L53.2,33.3L53.1,33.1L53.0,33.1L52.6,32.4L52.8,32.2L52.6,31.4L51.9,31.2L51.6,31.5L51.1,31.0L51.1,31.0L50.9,30.7L50.6,30.7L50.3,30.8L50.3,30.1Z" fill="none" stroke="#555" stroke-width="0.65" stroke-linejoin="round" opacity="1"/>
<path d="M10.3,28.2L11.7,26.8L13.2,26.3L16.2,26.1L18.9,26.3L21.2,26.2L23.7,26.8L26.4,26.5L29.5,26.8L31.8,26.9L34.0,27.3L36.2,27.6L37.3,28.8L36.6,29.2L34.0,29.9L32.1,30.5L29.6,30.6L27.0,30.8L24.1,30.7L21.1,30.8L18.2,31.1L16.3,31.1L14.0,31.2L12.2,30.6L10.8,30.9L10.4,29.9L9.6,29.1Z" fill="none" stroke="#777" stroke-width="0.6" stroke-linejoin="round" opacity="1"/>
</g>
<rect x="320.5" y="120.5" width="64" height="59.5" fill="none" stroke="#666" stroke-width="1"/>
<text x="323.0" y="132.5" font-size="12.5" text-anchor="start" font-weight="normal" font-style="normal" fill="#111" >14</text>
<text x="381.5" y="132.5" font-size="12.5" text-anchor="end" font-weight="normal" font-style="normal" fill="#111" >76</text>
<text x="381.5" y="178.2" font-size="12.5" text-anchor="end" font-weight="normal" font-style="normal" fill="#111" >10</text>
<line x1="419.5" y1="120.5" x2="419.5" y2="180.0" stroke="#9a9a9a" stroke-width="1"/>
<line x1="386.5" y1="156.5" x2="450.5" y2="156.5" stroke="#9a9a9a" stroke-width="1"/>
<g transform="translate(386.5,120.5)">
<path d="M22.7 23.3h0.9M48.9 31.9h0.9M40.6 50.0h0.9M45.9 30.6h0.9M12.3 36.3h0.9M5.5 37.3h0.9M27.0 25.6h0.9M14.3 30.8h0.9M38.0 38.2h0.9M42.7 45.3h0.9M36.3 40.1h0.9M22.0 40.0h0.9M24.7 44.0h0.9M40.7 42.8h0.9M50.8 34.1h0.9M31.2 37.2h0.9M32.6 27.4h0.9M16.0 33.9h0.9M18.7 25.6h0.9M20.9 34.6h0.9M31.7 18.6h0.9M39.9 33.8h0.9M59.4 44.8h0.9M40.0 27.2h0.9M18.9 32.6h0.9M20.3 29.1h0.9M27.5 30.4h0.9M35.7 27.6h0.9M30.2 32.9h0.9M31.6 25.3h0.9M43.8 37.1h0.9M19.5 31.9h0.9M43.5 39.3h0.9M14.9 29.4h0.9M25.0 32.5h0.9M45.4 32.3h0.9M23.3 29.8h0.9M26.0 35.1h0.9M23.6 43.4h0.9M24.5 33.5h0.9M27.3 27.1h0.9M22.6 28.7h0.9M60.6 36.5h0.9M58.5 31.1h0.9M29.9 28.6h0.9M34.3 42.2h0.9M19.5 34.5h0.9M16.4 26.5h0.9M31.2 36.7h0.9M54.1 33.1h0.9M32.0 34.9h0.9M4.3 38.9h0.9M27.9 30.7h0.9M23.2 37.5h0.9M9.0 33.4h0.9M48.5 37.9h0.9M36.9 27.6h0.9M23.0 31.0h0.9M16.6 41.9h0.9M42.1 32.4h0.9" stroke="#888" stroke-width="0.9" opacity="0.6"/>
<path d="M19.1 37.3h0.9M58.1 36.7h0.9M34.5 24.7h0.9M61.3 31.8h0.9M11.7 26.7h0.9M23.1 37.9h0.9M62.4 32.8h0.9M31.4 35.4h0.9M11.2 34.8h0.9M40.2 25.1h0.9M39.1 34.5h0.9M19.8 37.7h0.9M39.9 33.7h0.9M10.2 29.5h0.9M38.7 33.3h0.9M38.2 33.4h0.9M52.0 37.2h0.9M50.1 23.5h0.9M37.0 24.7h0.9M31.8 26.2h0.9M19.3 38.4h0.9M58.3 24.4h0.9M25.8 37.3h0.9M49.6 36.8h0.9M59.6 35.8h0.9M27.3 37.5h0.9M48.2 23.8h0.9M45.3 24.7h0.9M8.4 33.4h0.9M62.3 28.7h0.9M22.9 25.0h0.9M8.9 29.1h0.9M12.1 34.6h0.9M60.9 32.2h0.9M44.0 24.2h0.9M20.3 38.0h0.9M10.0 32.7h0.9M62.3 32.0h0.9M36.8 26.6h0.9M32.1 34.8h0.9M41.3 33.0h0.9M38.2 33.6h0.9M33.1 34.7h0.9M30.9 35.5h0.9M61.1 28.4h0.9M44.1 32.9h0.9M31.4 26.7h0.9M60.0 24.5h0.9M42.2 25.7h0.9M46.9 23.9h0.9M16.2 25.7h0.9M57.0 40.4h0.9M25.3 38.2h0.9M55.2 39.2h0.9M43.5 33.7h0.9M26.9 26.5h0.9M37.7 25.4h0.9M50.5 37.4h0.9M32.9 25.9h0.9M38.9 32.4h0.9M9.5 32.3h0.9M54.8 23.1h0.9M11.4 25.8h0.9M59.8 34.3h0.9M14.0 36.1h0.9M47.4 33.2h0.9M13.7 35.0h0.9M13.0 27.7h0.9M21.2 37.4h0.9M12.6 35.8h0.9M24.2 25.3h0.9M62.0 28.0h0.9M24.4 37.1h0.9M34.5 34.1h0.9M38.7 25.2h0.9M47.0 24.3h0.9M61.5 29.4h0.9M14.6 36.3h0.9M56.5 38.6h0.9M30.1 26.3h0.9M51.7 37.1h0.9M21.6 25.2h0.9M59.6 24.8h0.9M51.2 37.9h0.9M30.7 24.7h0.9M61.7 23.7h0.9M40.2 25.1h0.9M51.6 37.6h0.9M42.9 32.9h0.9M61.8 28.0h0.9M18.6 25.9h0.9M41.8 24.2h0.9M10.1 30.2h0.9M10.8 33.3h0.9M22.2 37.7h0.9M62.0 27.9h0.9M35.3 26.4h0.9M26.9 37.4h0.9M16.1 36.9h0.9M57.5 22.7h0.9M55.6 38.3h0.9M24.5 37.9h0.9M40.0 26.3h0.9M56.7 40.3h0.9M23.2 25.8h0.9M13.7 34.4h0.9M18.8 37.8h0.9M21.2 38.0h0.9M59.7 25.4h0.9M61.8 33.3h0.9M28.8 24.6h0.9M30.9 35.8h0.9M26.2 25.3h0.9M42.3 26.0h0.9M33.4 35.6h0.9M60.9 34.5h0.9M35.2 24.8h0.9M27.1 26.2h0.9" stroke="#444" stroke-width="0.9" opacity="0.5"/>
<path d="M10.6,28.4L11.2,27.8L13.1,26.4L14.8,25.7L17.4,25.3L20.0,24.9L22.2,25.0L24.8,25.4L26.9,26.0L28.6,26.2L30.9,26.1L32.8,25.5L34.9,25.7L36.6,25.6L38.8,26.0L40.2,26.2L41.5,25.7L43.4,25.0L45.2,24.3L47.4,23.7L50.1,22.8L53.0,22.3L55.3,22.2L57.1,22.9L58.4,23.6L60.0,24.1L60.5,25.5L60.8,27.0L61.2,28.4L60.9,30.7L60.1,32.4L59.8,34.6L58.6,35.9L57.8,37.7L56.9,38.4L55.7,38.6L54.0,38.5L52.8,38.3L51.3,37.4L50.4,36.0L49.5,34.7L48.8,33.3L47.6,32.7L46.5,31.8L44.7,32.1L42.9,31.7L41.0,31.6L39.4,31.9L37.4,32.5L35.7,32.5L33.9,33.1L32.6,33.5L30.9,34.7L28.9,35.2L27.5,36.2L25.9,36.6L23.9,37.5L22.4,37.5L20.8,37.5L19.1,37.0L17.1,36.3L15.3,35.8L13.7,34.5L12.5,33.9L11.1,32.7L10.2,32.2L9.5,31.0L9.5,30.0L9.7,29.8Z" fill="none" stroke="#333" stroke-width="0.8" stroke-linejoin="round" opacity="1"/>
<path d="M60.8,29.1L59.8,30.6L59.2,31.8L58.2,33.3L57.4,33.4L57.4,34.0L57.0,34.3L55.9,34.5L55.4,35.3L54.0,35.7L52.5,35.7L50.7,35.4L49.5,35.2L48.6,34.4L48.9,33.5L48.7,33.1L47.5,32.0L47.1,31.2L46.9,30.3L47.1,28.9L47.8,27.6L48.7,26.5L49.3,25.5L50.1,24.8L50.6,24.3L51.8,23.8L52.1,24.2L52.9,24.4L54.4,24.3L55.0,24.1L56.5,24.4L57.3,25.0L58.8,26.6L60.1,27.6L60.5,28.2L60.7,28.6Z" fill="none" stroke="#333" stroke-width="0.7" stroke-linejoin="round" opacity="1"/>
<path d="M58.5,29.3L58.5,30.4L58.6,31.2L57.7,32.0L57.0,32.4L56.1,32.5L55.2,32.7L54.1,33.2L53.5,33.2L52.9,33.4L52.3,33.6L51.3,33.5L50.8,33.3L50.1,33.0L49.8,32.8L49.1,32.4L48.5,31.5L48.2,30.8L48.2,29.8L48.0,29.0L48.3,28.3L48.9,27.8L49.8,27.2L50.5,27.0L51.6,26.4L52.4,25.6L52.9,25.1L53.9,24.9L54.7,24.7L55.6,25.2L56.0,25.2L56.9,26.0L57.9,26.1L58.2,27.0L58.8,27.9L58.8,28.2Z" fill="none" stroke="#333" stroke-width="0.7" stroke-linejoin="round" opacity="1"/>
<path d="M57.7,29.4L57.4,30.0L57.0,29.9L56.4,30.7L55.8,30.8L55.4,31.5L54.8,31.8L54.6,32.3L54.2,32.5L53.8,33.4L53.3,33.2L52.4,33.0L51.9,32.5L51.2,32.5L51.4,31.7L51.2,30.9L50.6,30.4L50.3,29.7L49.9,29.2L49.6,28.7L50.0,27.7L50.9,27.2L51.0,27.1L52.1,27.1L52.3,26.9L52.8,26.7L52.8,26.6L53.2,26.5L53.8,26.7L54.9,27.0L55.5,26.8L56.1,27.1L56.7,27.3L56.5,27.4L57.3,28.3L57.2,28.6Z" fill="none" stroke="#333" stroke-width="0.7" stroke-linejoin="round" opacity="1"/>
<path d="M55.6,29.4L55.6,29.8L55.3,30.1L55.1,30.4L55.3,30.4L54.6,30.9L54.3,31.1L54.1,31.6L53.6,31.7L53.3,32.0L53.2,31.7L52.5,31.8L52.1,31.7L51.8,31.1L51.6,30.7L51.3,30.6L51.1,29.8L50.8,29.7L51.2,29.1L51.1,29.0L51.5,28.8L52.0,28.5L52.0,28.4L52.7,27.9L52.5,28.1L53.1,27.9L52.8,27.3L53.0,27.5L53.9,27.5L53.9,27.4L54.2,27.8L55.1,27.8L55.4,28.4L55.5,29.0L56.0,29.2L55.8,29.3Z" fill="none" stroke="#333" stroke-width="0.7" stroke-linejoin="round" opacity="1"/>
<path d="M54.2,29.4L54.7,29.4L54.2,29.8L54.4,29.7L54.4,29.8L53.9,30.3L53.9,30.4L53.7,30.3L53.8,30.3L53.7,30.6L53.4,30.5L53.2,30.5L53.2,30.2L52.9,30.0L52.7,30.3L52.3,29.6L52.6,29.9L52.3,29.7L52.0,29.7L52.1,29.1L52.5,29.1L52.7,28.9L52.8,28.7L53.0,29.0L53.1,28.6L53.0,28.9L53.5,28.5L53.6,28.1L53.9,28.5L54.2,28.1L54.5,28.5L54.6,28.7L54.5,29.0L54.4,29.2L54.7,29.0L54.7,29.6Z" fill="none" stroke="#333" stroke-width="0.7" stroke-linejoin="round" opacity="1"/>
<path d="M12.8,29.3L13.8,28.5L15.3,27.5L17.0,27.7L18.8,27.6L20.9,27.6L22.2,28.5L22.1,29.3L21.1,31.0L20.1,32.0L18.5,32.2L16.4,32.5L14.9,32.1L13.7,31.2L13.1,29.7Z" fill="none" stroke="#555" stroke-width="0.6" stroke-linejoin="round" opacity="1"/>
<path d="M23.0,30.0L24.3,29.6L26.2,28.7L28.0,28.7L29.8,28.6L31.2,29.6L31.7,29.7L31.0,30.9L28.8,32.5L27.2,33.0L25.5,32.4L23.5,31.2Z" fill="none" stroke="#555" stroke-width="0.6" stroke-linejoin="round" opacity="1"/>
<path d="M34.0,28.7L35.1,28.1L37.5,27.9L40.3,27.8L42.3,27.5L44.8,26.8L45.8,27.0L45.8,27.7L45.4,28.7L44.0,30.1L42.0,30.8L39.7,31.2L37.8,31.2L36.4,30.2L34.2,29.1Z" fill="none" stroke="#555" stroke-width="0.6" stroke-linejoin="round" opacity="1"/>
</g>
<rect x="386.5" y="120.5" width="64" height="59.5" fill="none" stroke="#666" stroke-width="1"/>
<text x="389.0" y="132.5" font-size="12.5" text-anchor="start" font-weight="normal" font-style="normal" fill="#111" >25</text>
<text x="447.5" y="132.5" font-size="12.5" text-anchor="end" font-weight="normal" font-style="normal" fill="#111" >65</text>
<text x="447.5" y="178.2" font-size="12.5" text-anchor="end" font-weight="normal" font-style="normal" fill="#111" >7</text>
<line x1="485.5" y1="120.5" x2="485.5" y2="180.0" stroke="#9a9a9a" stroke-width="1"/>
<line x1="453.5" y1="156.5" x2="517.5" y2="156.5" stroke="#9a9a9a" stroke-width="1"/>
<g transform="translate(453.5,120.5)">
<path d="M11.9 29.7h0.9M36.4 41.1h0.9M20.1 26.1h0.9M32.7 22.7h0.9M45.9 26.6h0.9M56.0 32.8h0.9M9.9 31.4h0.9M48.2 33.0h0.9M40.4 20.2h0.9M45.5 22.8h0.9M61.8 24.9h0.9M23.0 32.4h0.9M17.7 36.8h0.9M15.8 29.4h0.9M4.7 33.8h0.9M40.0 34.7h0.9M35.8 23.2h0.9M44.1 31.5h0.9M51.9 27.8h0.9M35.9 37.0h0.9M53.2 19.9h0.9M40.1 20.9h0.9M12.9 30.1h0.9M32.8 34.9h0.9M40.8 29.9h0.9M28.9 30.1h0.9M43.1 37.5h0.9M18.7 35.2h0.9M3.1 28.0h0.9M2.2 31.3h0.9M35.0 35.5h0.9M4.3 27.6h0.9M38.4 28.8h0.9M7.7 21.1h0.9M36.1 35.7h0.9M29.8 35.5h0.9M18.5 35.7h0.9M25.1 28.8h0.9M19.1 28.5h0.9M48.7 33.0h0.9M28.4 25.6h0.9M48.2 32.0h0.9M40.2 26.5h0.9M26.0 33.5h0.9M27.8 28.0h0.9M43.0 24.4h0.9M20.8 20.3h0.9M16.4 33.8h0.9M25.5 32.1h0.9M33.0 33.8h0.9M56.2 22.7h0.9M50.4 29.6h0.9M41.4 22.1h0.9M30.1 28.9h0.9M9.0 20.7h0.9M48.2 29.7h0.9M49.2 31.0h0.9M14.4 34.0h0.9M51.0 32.9h0.9M6.8 32.2h0.9M29.3 34.4h0.9M30.3 25.5h0.9M16.2 24.4h0.9M39.0 24.7h0.9M12.6 25.2h0.9M44.3 29.3h0.9M32.0 37.6h0.9M8.4 37.0h0.9M35.8 30.2h0.9M16.7 27.3h0.9M52.3 34.2h0.9M36.5 28.7h0.9M21.1 29.1h0.9M14.6 32.5h0.9M44.6 26.3h0.9M26.4 26.9h0.9M27.2 35.8h0.9M43.5 31.2h0.9M39.8 25.4h0.9M50.4 33.4h0.9M45.5 31.2h0.9M16.0 38.0h0.9M21.9 28.8h0.9M26.8 25.5h0.9M26.4 28.4h0.9M54.0 31.4h0.9M16.3 29.4h0.9M21.9 29.4h0.9M34.2 29.4h0.9M31.6 28.9h0.9M22.3 31.9h0.9M19.3 22.6h0.9M23.4 34.8h0.9M27.3 32.0h0.9M34.1 28.7h0.9M42.4 23.2h0.9M21.2 25.3h0.9M43.6 34.1h0.9M45.6 23.8h0.9M38.7 33.5h0.9M45.2 37.0h0.9M18.8 34.0h0.9M45.3 22.6h0.9M35.7 23.3h0.9M21.1 21.6h0.9M52.9 32.2h0.9M32.4 29.2h0.9M49.0 26.0h0.9M9.2 37.3h0.9M35.5 30.0h0.9M19.2 15.0h0.9M25.0 29.5h0.9M35.3 28.5h0.9M33.2 30.2h0.9M19.4 28.7h0.9M40.4 27.6h0.9M14.5 34.2h0.9M28.2 39.9h0.9M27.3 32.2h0.9M37.5 34.9h0.9M43.9 36.8h0.9M35.9 27.7h0.9M42.0 20.9h0.9M40.0 16.3h0.9M19.3 23.1h0.9M47.9 25.8h0.9M34.3 34.6h0.9M12.4 25.8h0.9M38.3 40.6h0.9M30.0 36.2h0.9M8.5 29.8h0.9M7.7 31.2h0.9M24.8 26.7h0.9M15.4 23.7h0.9M2.0 37.0h0.9M48.1 25.2h0.9M42.0 25.4h0.9M39.9 30.5h0.9M55.0 23.4h0.9M35.0 33.1h0.9M42.7 28.4h0.9M25.7 37.8h0.9M58.5 35.3h0.9M55.9 30.6h0.9M54.4 26.8h0.9M4.8 27.2h0.9M9.2 23.4h0.9M19.9 35.5h0.9M42.8 29.5h0.9M48.1 34.9h0.9M19.0 31.7h0.9M28.5 30.0h0.9M20.0 22.8h0.9M48.5 27.9h0.9M47.0 35.0h0.9M41.1 27.7h0.9M12.8 42.9h0.9M27.7 30.4h0.9M33.2 23.5h0.9M18.0 24.9h0.9M36.6 27.6h0.9M31.1 38.9h0.9M30.8 33.5h0.9M13.7 29.5h0.9M38.7 29.4h0.9M51.2 31.1h0.9M5.9 25.3h0.9M44.1 31.3h0.9M4.0 32.6h0.9M29.8 30.3h0.9M52.2 20.0h0.9M28.4 29.5h0.9M25.2 36.0h0.9M27.0 32.1h0.9M24.8 27.2h0.9M24.0 31.2h0.9M51.2 27.5h0.9M22.7 32.6h0.9M20.5 34.1h0.9M37.3 35.8h0.9M30.5 27.7h0.9M46.6 26.4h0.9M25.3 31.3h0.9M16.1 25.4h0.9M22.9 18.9h0.9M10.6 23.8h0.9M18.0 28.6h0.9M36.4 33.8h0.9M32.0 37.0h0.9M8.3 27.4h0.9M12.5 27.6h0.9M21.4 39.3h0.9M34.9 34.3h0.9M17.7 34.7h0.9M42.7 29.7h0.9M33.3 36.3h0.9M12.2 37.5h0.9M42.0 24.0h0.9M27.4 36.4h0.9M36.5 26.5h0.9M3.7 36.3h0.9M55.3 24.8h0.9M61.3 23.1h0.9M21.9 24.6h0.9M53.3 32.5h0.9M14.1 27.6h0.9M24.3 33.2h0.9M56.6 19.7h0.9M41.3 26.7h0.9M39.3 25.6h0.9M16.9 32.9h0.9M25.2 24.5h0.9M30.4 23.3h0.9M27.3 40.1h0.9M44.6 36.6h0.9M33.6 40.5h0.9M48.0 28.2h0.9M45.8 30.1h0.9M13.4 23.8h0.9M33.0 33.7h0.9M29.0 41.7h0.9M31.5 28.6h0.9M45.4 36.2h0.9M16.7 26.2h0.9M44.0 35.3h0.9M57.0 37.6h0.9M17.0 33.0h0.9M27.3 32.0h0.9M7.7 30.7h0.9M26.0 26.1h0.9M23.3 22.0h0.9M41.1 27.5h0.9M56.5 28.7h0.9M51.7 28.2h0.9M39.7 36.2h0.9M15.6 33.4h0.9M20.9 38.5h0.9M43.6 29.2h0.9M37.5 25.4h0.9M42.3 28.0h0.9M40.5 25.3h0.9M33.7 29.3h0.9M30.8 29.7h0.9" stroke="#666" stroke-width="0.9" opacity="0.5"/>
<path d="M34.3 42.0h0.9M21.3 41.7h0.9M10.4 38.5h0.9M25.8 38.2h0.9M15.7 39.2h0.9M14.6 40.5h0.9M22.1 37.5h0.9M11.0 35.1h0.9M20.7 34.5h0.9M24.7 42.9h0.9M34.2 38.0h0.9M35.0 32.1h0.9M19.2 32.6h0.9M29.4 36.4h0.9M14.9 39.7h0.9M4.7 34.1h0.9M10.6 43.2h0.9M20.1 42.4h0.9M24.9 47.0h0.9M17.6 34.1h0.9M26.5 32.5h0.9M18.8 37.6h0.9M24.5 26.2h0.9M24.9 39.1h0.9M13.1 32.5h0.9M27.2 34.0h0.9M5.3 39.5h0.9M8.9 38.6h0.9M20.0 46.7h0.9M14.5 35.6h0.9M9.5 43.2h0.9M25.5 33.1h0.9M15.8 39.3h0.9M22.4 33.7h0.9M38.7 38.1h0.9M24.4 44.4h0.9M4.8 34.6h0.9M23.5 35.9h0.9M19.1 35.6h0.9M7.3 32.9h0.9M19.5 44.0h0.9M10.0 42.8h0.9M22.4 38.0h0.9M17.8 31.1h0.9M24.7 43.4h0.9M31.0 33.4h0.9M23.4 43.0h0.9M29.5 43.6h0.9M1.2 38.2h0.9M5.5 43.1h0.9M37.9 39.8h0.9M26.8 48.3h0.9M11.4 32.7h0.9M15.7 44.1h0.9M16.4 48.2h0.9M28.1 38.8h0.9M11.8 40.8h0.9M23.3 49.2h0.9M30.1 38.2h0.9M23.0 42.4h0.9M16.8 42.3h0.9M10.7 44.6h0.9M15.1 44.2h0.9M26.3 33.1h0.9M22.7 32.3h0.9M33.7 34.2h0.9M13.5 40.4h0.9M17.3 31.0h0.9M13.5 41.9h0.9M8.3 39.6h0.9M10.2 31.1h0.9M20.6 31.7h0.9M13.2 42.5h0.9M6.3 47.4h0.9M29.1 50.7h0.9M28.5 38.4h0.9M21.9 41.0h0.9M18.9 38.6h0.9M29.0 37.1h0.9M10.6 40.6h0.9M14.6 34.0h0.9M29.6 37.1h0.9M17.5 41.0h0.9M12.6 43.3h0.9M15.1 41.2h0.9M14.2 38.9h0.9M21.8 33.9h0.9M14.7 47.1h0.9M19.7 43.9h0.9M15.5 29.2h0.9M32.9 43.7h0.9M23.2 41.1h0.9M20.0 33.5h0.9M15.5 37.6h0.9M16.8 41.2h0.9M16.1 32.4h0.9M9.8 41.9h0.9M33.2 39.0h0.9M15.7 43.0h0.9M10.0 36.6h0.9M26.8 37.7h0.9M15.5 39.5h0.9M23.9 44.4h0.9M7.0 32.8h0.9M18.9 36.8h0.9M34.6 40.2h0.9M8.8 37.1h0.9M23.2 41.1h0.9M24.4 44.6h0.9M20.6 47.4h0.9M13.8 35.2h0.9M21.9 37.8h0.9M31.5 35.4h0.9M28.1 37.8h0.9M10.0 40.3h0.9M20.2 38.9h0.9M24.4 44.2h0.9M21.1 32.5h0.9M22.7 41.6h0.9M17.8 43.3h0.9" stroke="#777" stroke-width="0.9" opacity="0.6"/>
<path d="M7.0 29.1h0.9M33.1 23.4h0.9M10.8 34.1h0.9M25.2 24.9h0.9M52.7 42.2h0.9M53.5 44.2h0.9M8.1 29.8h0.9M17.8 34.5h0.9M22.0 26.1h0.9M60.0 25.6h0.9M53.9 38.2h0.9M44.2 22.4h0.9M7.0 30.5h0.9M24.5 25.8h0.9M20.5 24.3h0.9M6.2 28.8h0.9M9.3 33.9h0.9M56.7 32.3h0.9M15.6 34.3h0.9M8.6 27.7h0.9M7.8 30.8h0.9M20.9 34.1h0.9M54.6 36.2h0.9M24.3 31.8h0.9M20.2 34.6h0.9M10.3 24.5h0.9M26.2 26.2h0.9M57.6 36.4h0.9M47.0 32.2h0.9M23.6 32.6h0.9M11.2 23.9h0.9M54.9 22.9h0.9M60.9 23.0h0.9M24.5 27.3h0.9M55.4 35.6h0.9M57.8 46.1h0.9M61.3 28.5h0.9M59.0 22.9h0.9M7.5 33.2h0.9M48.6 32.4h0.9M42.8 32.9h0.9M8.3 24.8h0.9M34.2 31.4h0.9M43.8 22.5h0.9M61.1 36.2h0.9M62.2 35.1h0.9M62.4 30.3h0.9M16.8 34.5h0.9M14.0 24.2h0.9M14.7 35.1h0.9M60.0 26.9h0.9M21.4 25.3h0.9M54.5 45.6h0.9M58.8 46.4h0.9M9.8 33.7h0.9M52.6 40.2h0.9M61.6 35.4h0.9M35.3 22.7h0.9M30.6 25.0h0.9M8.8 33.0h0.9M53.1 41.0h0.9M54.0 45.0h0.9M55.2 33.0h0.9M53.9 37.8h0.9M57.8 32.9h0.9M59.8 30.8h0.9M8.0 30.0h0.9M20.5 25.2h0.9M13.8 24.0h0.9M55.6 32.9h0.9M55.4 34.9h0.9M53.3 43.0h0.9M34.9 32.2h0.9M28.9 25.6h0.9M33.9 22.0h0.9M34.6 32.1h0.9M48.8 31.6h0.9M57.1 45.4h0.9M55.1 45.6h0.9M17.7 24.1h0.9M24.8 32.1h0.9M55.1 32.4h0.9M59.0 24.2h0.9M6.5 26.6h0.9M6.0 28.9h0.9M52.0 23.1h0.9M59.5 32.5h0.9M17.7 24.5h0.9M61.1 35.5h0.9M56.5 32.3h0.9M50.7 24.5h0.9M14.5 24.6h0.9M21.1 25.5h0.9M55.6 37.8h0.9M55.7 45.8h0.9M30.9 31.9h0.9M9.4 26.4h0.9M60.2 43.3h0.9M21.6 32.7h0.9M9.3 33.3h0.9M59.9 28.6h0.9M12.5 34.3h0.9M15.9 23.2h0.9M60.8 28.5h0.9M53.5 40.3h0.9M12.7 34.7h0.9M61.5 37.9h0.9M10.6 25.5h0.9M10.4 26.6h0.9M9.7 26.8h0.9M31.9 31.8h0.9M59.0 24.2h0.9M43.5 31.4h0.9M34.0 31.7h0.9M20.6 33.7h0.9M20.5 33.5h0.9M11.7 23.6h0.9M50.4 24.1h0.9M49.7 32.0h0.9M61.2 30.2h0.9M16.4 35.2h0.9M58.2 45.8h0.9M28.6 25.9h0.9M25.7 24.8h0.9M56.0 45.9h0.9M27.7 32.4h0.9M22.4 32.7h0.9M32.6 24.8h0.9M54.7 37.2h0.9M9.3 27.4h0.9M20.9 25.1h0.9M56.7 45.0h0.9M54.7 45.3h0.9M14.2 34.5h0.9M44.5 32.2h0.9M26.0 31.6h0.9M60.5 29.0h0.9M24.9 26.9h0.9M54.2 37.5h0.9M28.6 31.5h0.9M54.9 35.5h0.9M8.6 27.4h0.9M54.9 44.4h0.9M60.9 34.3h0.9M14.2 23.7h0.9M53.7 37.4h0.9M32.7 24.5h0.9M27.7 25.6h0.9M9.4 26.0h0.9M51.0 32.1h0.9M44.0 23.7h0.9M18.6 24.8h0.9M54.9 33.0h0.9M54.7 45.8h0.9M53.5 42.1h0.9M6.6 33.3h0.9M60.0 44.9h0.9M59.2 31.4h0.9M31.2 24.8h0.9M61.3 37.4h0.9M56.1 46.6h0.9M56.6 37.4h0.9M10.9 24.9h0.9M21.6 25.5h0.9M61.6 28.7h0.9M11.6 34.2h0.9M6.3 29.5h0.9M17.0 35.0h0.9M59.4 31.6h0.9M60.4 32.7h0.9M9.6 27.6h0.9M12.0 35.3h0.9M45.9 32.1h0.9M8.8 28.0h0.9M11.1 24.2h0.9M53.1 39.6h0.9M14.9 23.0h0.9M11.7 34.8h0.9M39.3 32.4h0.9M7.3 29.1h0.9M50.7 32.5h0.9M8.4 32.5h0.9M12.6 35.1h0.9M62.2 38.4h0.9M56.5 33.7h0.9M18.7 24.3h0.9M57.3 34.5h0.9M19.1 34.0h0.9M62.1 29.0h0.9M60.9 26.7h0.9M58.5 22.9h0.9M9.6 25.4h0.9M52.7 40.7h0.9M56.7 44.8h0.9M9.1 34.0h0.9M53.3 38.5h0.9M15.9 34.3h0.9M26.5 32.1h0.9M9.2 32.1h0.9M61.4 36.9h0.9M12.3 34.7h0.9M60.6 30.1h0.9M38.7 25.2h0.9M49.5 32.3h0.9M11.0 24.0h0.9M55.4 45.8h0.9M58.8 45.8h0.9M25.7 31.7h0.9M8.5 32.0h0.9M60.7 36.3h0.9M55.7 34.4h0.9M14.6 23.5h0.9M16.8 24.3h0.9M49.2 32.2h0.9M17.0 34.7h0.9M9.1 32.4h0.9M23.6 25.0h0.9M47.1 31.9h0.9M8.2 30.8h0.9M22.4 32.2h0.9M19.3 33.7h0.9M21.9 33.5h0.9M53.8 24.3h0.9M7.5 32.2h0.9M22.1 32.5h0.9M51.9 24.6h0.9M60.6 37.2h0.9M7.5 33.0h0.9M15.0 23.5h0.9M22.9 25.7h0.9M58.2 46.4h0.9M47.9 23.6h0.9M15.5 23.2h0.9M53.9 44.7h0.9M55.6 23.6h0.9M18.5 34.1h0.9M28.5 24.3h0.9M53.7 41.0h0.9M54.8 44.5h0.9M55.7 23.0h0.9M60.5 28.0h0.9M60.5 23.4h0.9M59.3 30.8h0.9M60.6 35.4h0.9M10.9 34.1h0.9M53.5 42.0h0.9M50.5 31.7h0.9M60.3 42.2h0.9M59.1 44.8h0.9M34.3 24.2h0.9M29.9 32.1h0.9M19.4 24.7h0.9M15.0 35.0h0.9M47.3 22.7h0.9M41.4 24.6h0.9" stroke="#222" stroke-width="0.9" opacity="0.6"/>
<path d="M8.5,29.0L8.8,27.6L9.8,26.0L10.4,24.9L11.8,24.0L13.7,23.4L15.7,23.9L17.9,23.8L19.1,24.0L21.1,24.3L22.1,25.2L23.8,25.8L24.7,26.6L26.4,26.1L28.3,25.4L30.1,24.6L33.3,24.8L36.7,24.9L40.2,24.2L43.2,24.0L46.7,24.6L50.2,24.4L52.6,23.9L55.1,23.8L57.2,23.2L58.6,23.7L59.5,24.0L60.1,24.7L60.4,25.8L60.4,26.5L60.0,27.7L59.5,29.0L59.0,30.0L58.6,31.4L59.3,32.9L60.3,33.9L60.6,34.6L60.6,36.7L60.4,38.0L60.2,40.0L59.9,41.5L60.0,42.9L59.4,43.7L58.1,44.7L56.9,45.0L55.6,44.7L54.6,44.9L53.4,43.7L52.3,43.3L51.7,42.0L52.2,39.7L52.7,38.8L53.3,36.8L53.8,36.0L55.1,34.4L55.3,33.6L55.7,32.3L55.2,32.4L54.1,31.8L52.1,31.9L50.2,31.3L46.9,31.3L43.3,31.8L39.8,31.3L36.4,31.6L32.6,31.9L30.2,31.8L28.3,31.4L26.2,31.7L24.9,31.8L23.7,32.3L21.7,33.6L19.7,33.7L17.8,34.4L15.9,34.9L13.8,34.1L12.3,34.0L11.0,33.5L9.7,32.7L9.1,31.8L8.4,30.4Z" fill="none" stroke="#111" stroke-width="1.3" stroke-linejoin="round" opacity="1"/>
<path d="M12.1,28.6L12.5,27.8L13.7,26.8L14.9,25.5L16.2,25.1L17.9,24.3L19.3,24.1L20.1,23.5L21.5,23.8L22.7,24.6L24.1,25.1L25.6,25.8L27.1,26.6L28.4,26.4L29.8,25.9L31.4,25.3L33.2,25.4L35.7,25.4L38.5,25.1L41.6,24.9L45.3,25.1L48.0,25.1L50.8,24.6L52.5,24.3L54.0,23.8L54.6,24.0L55.0,24.5L55.2,25.1L56.0,26.1L56.0,27.1L56.6,28.0L55.6,29.0L54.8,30.0L53.9,30.8L54.9,32.1L55.9,33.2L57.1,34.3L57.3,35.4L56.9,37.6L56.9,39.0L56.3,39.8L55.7,40.6L55.1,41.0L54.2,41.3L53.8,42.0L52.8,41.8L51.7,42.4L49.8,42.1L49.2,41.6L48.3,40.0L48.5,38.6L48.8,37.3L49.6,35.5L50.3,34.4L51.4,32.8L52.0,31.9L52.1,31.5L52.4,31.1L51.4,30.6L49.7,30.5L47.0,30.4L44.7,30.9L41.2,31.4L38.6,31.5L35.8,31.4L33.1,30.8L31.3,31.0L29.4,30.9L28.3,31.4L26.8,31.5L25.4,31.8L23.3,32.4L21.9,32.8L19.7,33.6L18.5,33.3L17.2,33.5L15.7,33.1L15.1,32.9L14.5,32.7L13.1,31.1L12.5,30.0Z" fill="none" stroke="#333" stroke-width="0.8" stroke-linejoin="round" opacity="1"/>
<path d="M20.7,28.9L20.6,29.3L20.6,29.7L19.9,30.6L19.0,31.3L17.6,32.0L16.4,32.3L15.8,32.2L15.1,32.2L14.6,31.4L13.8,31.6L12.6,31.6L11.8,31.6L11.4,30.6L10.7,29.6L10.4,29.0L10.1,28.1L10.1,27.7L10.4,27.5L11.2,26.2L12.5,25.5L13.7,24.7L14.5,24.6L15.9,25.2L16.7,25.9L17.6,26.3L18.7,26.3L19.4,26.8L20.1,27.6L20.5,28.4Z" fill="none" stroke="#333" stroke-width="0.8" stroke-linejoin="round" opacity="1"/>
<path d="M19.2,28.9L18.7,29.3L18.8,29.8L18.4,30.5L17.9,30.6L17.1,31.3L16.3,31.1L16.1,31.3L15.4,31.4L14.9,31.5L13.8,31.2L13.0,31.2L12.1,30.9L11.4,30.3L11.3,30.0L11.7,29.5L11.6,28.5L12.3,27.7L12.9,26.7L13.5,26.7L14.1,26.7L14.8,26.7L15.4,26.7L16.0,27.3L16.8,27.1L17.9,26.9L18.3,27.0L19.3,26.7L19.2,27.4L19.4,28.3Z" fill="none" stroke="#333" stroke-width="0.8" stroke-linejoin="round" opacity="1"/>
<path d="M17.9,28.5L17.9,28.9L17.5,29.0L17.2,29.3L17.3,29.6L17.0,29.7L16.5,30.2L16.2,30.1L15.8,30.3L15.5,30.0L14.7,29.9L14.3,29.9L13.8,29.4L13.8,29.1L13.6,29.1L13.5,28.7L13.6,28.6L14.1,28.1L14.3,27.9L14.6,27.9L14.4,27.8L15.1,27.5L15.1,27.3L15.8,27.2L16.3,27.3L16.7,27.6L17.2,27.8L17.8,28.2L17.9,28.3L18.0,28.6Z" fill="none" stroke="#333" stroke-width="0.8" stroke-linejoin="round" opacity="1"/>
<path d="M44.8,27.8L44.8,28.6L44.5,28.9L43.9,29.1L42.9,29.4L41.5,29.8L39.9,29.8L38.5,29.7L37.4,29.5L35.8,29.6L34.3,29.8L33.0,29.3L32.6,28.8L31.7,28.7L31.2,28.6L30.9,27.9L31.1,27.8L31.7,27.1L32.2,26.8L33.3,26.9L34.6,26.5L35.6,26.4L37.4,26.3L38.7,26.5L40.0,26.1L41.3,26.4L42.4,26.4L43.7,26.8L44.4,27.0L45.1,27.7Z" fill="none" stroke="#555" stroke-width="0.6" stroke-linejoin="round" opacity="1"/>
<path d="M53.1,27.5L52.8,27.7L52.4,28.4L52.1,28.6L51.4,28.9L50.6,28.7L49.8,29.0L48.4,29.0L47.7,29.0L46.7,29.3L45.4,28.6L44.5,28.8L43.7,28.4L43.6,27.9L43.1,27.7L42.8,27.4L43.1,27.2L43.5,26.9L44.2,26.4L44.6,26.3L45.3,26.4L46.4,26.1L47.2,25.7L48.7,26.2L49.7,26.2L50.2,25.9L51.0,26.1L51.9,26.6L52.6,27.0L53.1,26.9Z" fill="none" stroke="#555" stroke-width="0.6" stroke-linejoin="round" opacity="1"/>
<path d="M58.1,40.5L58.5,40.6L58.5,41.2L58.6,41.7L58.4,41.9L57.7,42.8L57.5,42.9L57.2,42.9L56.3,43.0L55.9,43.1L55.3,42.9L54.5,43.2L54.2,43.0L54.1,41.8L53.8,40.8L53.6,39.7L54.1,38.7L54.1,38.5L54.2,38.1L54.5,37.7L54.7,37.7L54.9,38.0L55.3,37.6L55.9,37.1L56.4,36.8L56.8,37.5L56.9,38.2L57.5,39.0L57.6,39.7L58.3,40.0Z" fill="none" stroke="#333" stroke-width="0.7" stroke-linejoin="round" opacity="1"/>
<path d="M57.4,40.2L57.5,40.5L57.3,40.8L57.0,41.5L56.9,41.5L56.9,41.8L56.6,42.1L56.1,41.9L56.2,41.6L55.6,41.8L55.4,41.3L55.5,41.2L55.4,41.3L55.2,40.9L54.9,40.4L54.8,39.9L54.6,39.3L55.2,39.3L55.6,39.0L55.7,39.0L55.9,39.0L56.3,39.0L56.7,38.9L56.6,38.9L56.6,39.1L56.8,39.1L57.0,39.2L56.9,39.3L57.5,39.7L57.6,39.9Z" fill="none" stroke="#333" stroke-width="0.7" stroke-linejoin="round" opacity="1"/>
</g>
<rect x="453.5" y="120.5" width="64" height="59.5" fill="none" stroke="#666" stroke-width="1"/>
<text x="456.0" y="132.5" font-size="12.5" text-anchor="start" font-weight="normal" font-style="normal" fill="#111" >51</text>
<text x="514.5" y="132.5" font-size="12.5" text-anchor="end" font-weight="normal" font-style="normal" fill="#111" >38</text>
<text x="514.5" y="178.2" font-size="12.5" text-anchor="end" font-weight="normal" font-style="normal" fill="#111" >11</text>
<line x1="62.5" y1="204.5" x2="62.5" y2="264.0" stroke="#9a9a9a" stroke-width="1"/>
<line x1="29.5" y1="240.0" x2="93.5" y2="240.0" stroke="#9a9a9a" stroke-width="1"/>
<g transform="translate(29.5,204.5)">
<path d="M39.7 34.3h0.9M39.8 32.5h0.9M30.3 24.8h0.9M10.3 34.0h0.9M7.1 35.5h0.9M24.9 30.7h0.9M17.5 30.1h0.9M21.9 31.7h0.9M27.4 29.4h0.9M27.3 36.0h0.9M29.2 35.6h0.9M30.4 25.1h0.9M45.4 33.7h0.9M45.2 35.8h0.9M17.5 35.9h0.9M31.5 23.8h0.9M25.9 28.6h0.9M43.2 36.2h0.9M5.2 30.2h0.9M35.7 30.3h0.9M14.0 36.6h0.9M2.8 38.8h0.9M42.4 32.9h0.9M46.1 22.3h0.9M20.9 32.3h0.9M21.2 30.1h0.9M26.4 28.1h0.9M35.7 38.7h0.9M31.9 26.7h0.9M17.0 28.9h0.9M28.7 32.4h0.9M13.0 39.7h0.9M9.1 31.8h0.9M33.2 32.1h0.9M28.1 26.7h0.9M38.4 32.5h0.9M16.7 32.7h0.9M37.7 29.0h0.9M32.9 27.4h0.9M60.9 27.6h0.9M41.6 40.3h0.9M38.2 35.4h0.9M39.6 28.9h0.9M31.2 32.5h0.9M53.7 31.6h0.9M40.7 31.4h0.9M23.8 39.6h0.9M45.5 34.5h0.9M34.4 35.1h0.9M30.4 28.8h0.9M47.8 31.9h0.9M16.1 28.2h0.9M32.0 45.0h0.9M55.4 35.2h0.9M14.1 31.1h0.9M18.6 31.1h0.9M35.6 36.5h0.9M23.4 29.1h0.9M35.2 25.1h0.9M35.2 32.9h0.9M38.5 27.4h0.9M39.9 37.0h0.9M12.1 30.1h0.9M2.6 34.1h0.9M55.0 33.4h0.9M26.9 27.8h0.9M35.4 34.1h0.9M24.9 25.4h0.9M25.1 32.1h0.9M41.2 35.9h0.9M37.8 35.1h0.9M38.5 33.0h0.9M9.5 29.6h0.9M40.1 32.8h0.9M25.9 35.5h0.9M29.6 32.6h0.9M33.5 36.1h0.9M36.3 29.1h0.9M22.5 24.5h0.9M25.6 27.4h0.9M24.2 38.1h0.9M23.5 35.7h0.9M27.1 33.7h0.9M20.4 29.4h0.9M40.1 34.1h0.9M43.0 34.8h0.9M39.1 37.7h0.9M32.3 28.8h0.9M14.8 34.4h0.9M40.0 36.0h0.9M51.7 26.2h0.9M31.6 32.0h0.9M20.5 25.3h0.9M26.5 35.8h0.9M25.1 28.3h0.9M39.0 30.2h0.9M42.4 26.7h0.9M15.7 37.7h0.9M45.6 27.8h0.9M28.8 34.9h0.9M13.2 27.7h0.9M23.3 30.1h0.9M19.3 26.0h0.9M15.7 37.3h0.9M15.8 21.2h0.9M59.4 33.9h0.9M29.0 29.8h0.9M35.9 36.6h0.9M18.1 28.1h0.9M9.5 37.4h0.9M14.0 31.4h0.9M23.1 23.3h0.9M32.7 34.2h0.9M7.7 34.2h0.9M41.6 28.5h0.9M40.2 38.2h0.9M41.7 25.7h0.9M31.7 33.8h0.9M21.4 33.3h0.9M21.3 39.9h0.9M31.8 26.0h0.9M46.3 28.5h0.9M36.6 36.7h0.9M19.2 46.3h0.9M21.5 34.3h0.9M48.0 22.5h0.9M23.5 35.6h0.9M28.5 33.8h0.9M28.4 31.6h0.9M52.1 32.1h0.9M18.0 36.8h0.9M33.0 30.3h0.9M19.8 23.6h0.9M5.6 31.5h0.9M30.0 32.8h0.9M34.8 49.0h0.9M24.3 36.2h0.9M40.8 34.6h0.9M30.3 38.3h0.9M35.7 32.9h0.9M57.7 33.7h0.9M31.3 29.0h0.9M27.5 35.9h0.9M15.6 32.6h0.9M27.2 25.6h0.9M45.5 34.1h0.9M42.4 33.5h0.9M40.7 34.1h0.9M40.8 38.8h0.9M12.8 37.2h0.9M37.9 34.2h0.9M16.4 32.7h0.9M43.0 36.9h0.9M8.2 29.2h0.9M50.3 31.1h0.9M27.7 39.6h0.9M26.9 32.7h0.9M22.6 30.0h0.9M32.1 39.5h0.9M34.2 43.9h0.9M36.2 30.6h0.9M37.5 32.0h0.9M12.6 24.7h0.9M19.8 40.1h0.9M21.6 32.7h0.9M35.3 27.0h0.9M33.9 21.8h0.9M29.0 24.5h0.9M10.2 29.5h0.9M34.7 34.4h0.9M39.6 22.7h0.9M20.0 23.3h0.9M52.1 26.6h0.9M40.3 29.8h0.9M41.1 33.8h0.9M40.3 26.7h0.9M35.5 35.3h0.9M26.9 33.4h0.9M26.5 26.8h0.9M48.7 29.3h0.9M23.2 33.6h0.9M30.6 29.3h0.9M34.7 34.6h0.9M25.4 32.2h0.9M41.8 29.3h0.9M13.0 30.7h0.9M16.2 36.0h0.9M56.9 36.1h0.9M59.3 31.7h0.9M25.3 33.0h0.9M41.8 36.4h0.9M17.4 35.7h0.9M38.7 21.0h0.9M21.0 24.9h0.9M17.7 28.7h0.9M23.2 35.5h0.9M49.9 30.7h0.9M28.0 31.1h0.9M33.2 28.2h0.9M22.1 36.4h0.9M30.4 29.0h0.9M25.6 31.7h0.9M29.9 28.9h0.9M32.6 28.7h0.9M28.8 32.4h0.9M29.9 34.0h0.9M33.7 37.4h0.9M43.2 33.3h0.9M37.9 35.6h0.9M42.4 34.2h0.9M20.3 35.8h0.9M24.6 31.3h0.9M36.9 30.5h0.9M49.3 32.9h0.9M35.9 27.7h0.9M45.8 31.8h0.9M30.3 33.9h0.9M26.0 24.8h0.9M38.4 30.6h0.9M54.4 32.4h0.9M18.9 33.0h0.9M35.6 39.2h0.9M6.9 31.8h0.9M36.7 38.1h0.9M26.1 32.2h0.9M47.8 33.5h0.9M40.9 28.9h0.9M51.2 41.1h0.9M24.0 36.3h0.9M29.3 36.7h0.9M22.4 27.7h0.9M20.7 26.5h0.9M26.6 28.6h0.9M31.1 31.5h0.9M23.4 38.2h0.9M48.6 27.9h0.9M32.8 32.3h0.9M17.4 39.5h0.9M14.6 29.9h0.9M50.6 32.1h0.9M31.3 34.1h0.9M7.6 30.4h0.9M17.6 41.0h0.9M31.1 34.0h0.9M30.1 34.5h0.9M24.2 25.2h0.9M8.2 36.1h0.9M29.3 31.4h0.9M23.8 34.1h0.9M30.4 36.3h0.9M25.2 39.9h0.9M39.3 32.3h0.9M15.8 30.3h0.9M16.7 33.3h0.9M19.9 37.2h0.9M33.2 30.2h0.9M39.3 32.9h0.9M26.8 30.5h0.9M17.7 31.5h0.9M40.9 39.0h0.9M37.5 21.6h0.9M13.7 30.3h0.9M24.5 36.3h0.9M14.8 30.9h0.9M39.4 33.9h0.9M25.6 23.5h0.9M23.0 33.9h0.9M10.1 38.2h0.9M23.2 29.0h0.9M23.0 38.1h0.9M27.1 32.9h0.9M34.0 31.2h0.9M28.2 28.1h0.9M23.5 36.4h0.9M36.3 32.9h0.9M26.2 34.7h0.9M31.7 32.9h0.9M22.9 39.8h0.9M50.7 35.1h0.9M30.9 29.5h0.9M21.5 31.8h0.9M31.0 32.4h0.9M23.9 32.9h0.9M32.2 29.3h0.9M35.9 33.3h0.9M30.7 32.4h0.9M20.4 27.0h0.9M23.5 43.3h0.9M16.7 29.4h0.9M44.1 33.6h0.9M34.5 37.7h0.9M60.6 38.0h0.9M33.2 28.4h0.9M24.1 34.8h0.9M39.2 36.1h0.9M23.7 35.0h0.9M34.6 24.4h0.9M48.1 30.7h0.9M22.8 29.9h0.9M33.0 26.4h0.9M14.5 24.1h0.9M18.7 37.1h0.9M25.9 36.8h0.9M28.3 28.6h0.9M15.3 24.6h0.9M27.9 41.6h0.9M21.6 22.7h0.9M29.9 21.7h0.9M34.6 31.6h0.9M40.4 44.1h0.9M20.9 22.5h0.9M34.2 41.0h0.9M51.3 38.6h0.9M47.4 35.1h0.9M49.9 35.0h0.9" stroke="#555" stroke-width="0.9" opacity="0.55"/>
<path d="M23.1 38.9h0.9M17.0 43.3h0.9M11.4 36.5h0.9M6.2 44.6h0.9M32.7 43.1h0.9M25.1 45.2h0.9M8.4 39.3h0.9M4.0 41.7h0.9M19.8 43.6h0.9M8.1 43.3h0.9M21.4 41.8h0.9M22.1 44.4h0.9M4.4 43.3h0.9M21.6 43.2h0.9M36.6 39.4h0.9M22.3 41.8h0.9M21.6 44.0h0.9M26.0 41.8h0.9M26.4 43.7h0.9M23.5 40.8h0.9M29.7 42.2h0.9M18.5 41.1h0.9M17.3 47.3h0.9M28.7 42.4h0.9M20.2 43.1h0.9M25.0 44.8h0.9M10.4 42.0h0.9M18.9 43.6h0.9M14.2 41.7h0.9M8.4 48.0h0.9M20.7 42.2h0.9M44.9 40.7h0.9M2.7 46.9h0.9M37.9 45.9h0.9M30.8 46.8h0.9M12.0 36.8h0.9M17.8 45.9h0.9M26.4 42.0h0.9M26.6 45.4h0.9M24.0 43.1h0.9M30.3 42.7h0.9M16.1 40.2h0.9M20.3 42.1h0.9M31.3 44.4h0.9M22.8 42.8h0.9M34.1 43.8h0.9M32.2 41.7h0.9M27.9 42.5h0.9M15.3 38.4h0.9M24.8 45.2h0.9M32.9 43.2h0.9M22.4 39.5h0.9M23.4 40.7h0.9M16.9 40.0h0.9M19.2 41.9h0.9M10.0 43.4h0.9M23.1 45.6h0.9M31.3 42.8h0.9M34.1 41.1h0.9M3.8 42.3h0.9M18.3 39.7h0.9M9.0 46.0h0.9M12.4 41.3h0.9M18.4 43.5h0.9M26.5 45.6h0.9M6.9 41.4h0.9M13.6 43.2h0.9M15.6 41.8h0.9M34.4 41.6h0.9M18.7 45.2h0.9M33.9 37.3h0.9M16.3 37.6h0.9M25.0 40.2h0.9M13.2 43.8h0.9M33.4 43.5h0.9M7.0 41.0h0.9M8.8 48.3h0.9M21.2 39.2h0.9M24.9 48.2h0.9M16.8 39.2h0.9M24.1 44.0h0.9M28.7 47.7h0.9M8.9 43.8h0.9M16.1 38.2h0.9M20.5 44.1h0.9M26.8 42.1h0.9M31.0 42.4h0.9M29.5 42.7h0.9M22.9 39.9h0.9M24.3 43.2h0.9M33.2 43.4h0.9M12.9 45.2h0.9M27.2 43.9h0.9M14.5 41.7h0.9M19.6 40.6h0.9M22.1 38.8h0.9M10.0 44.5h0.9M10.4 47.1h0.9M21.6 40.4h0.9M29.5 39.6h0.9M31.3 39.5h0.9M31.7 40.8h0.9M13.8 45.8h0.9M31.8 41.1h0.9M19.4 39.1h0.9M19.0 43.9h0.9M18.1 41.4h0.9M7.3 43.9h0.9M15.0 44.3h0.9M33.7 41.7h0.9M16.3 42.0h0.9M21.9 40.1h0.9M17.3 36.4h0.9M25.1 40.9h0.9M34.0 40.8h0.9M23.2 43.1h0.9M22.2 45.8h0.9M21.2 42.5h0.9M25.2 42.2h0.9M27.6 40.0h0.9M27.0 38.1h0.9M19.1 40.2h0.9M16.0 42.3h0.9M21.8 43.0h0.9M9.2 46.5h0.9M21.4 41.6h0.9M16.7 44.7h0.9M11.4 42.0h0.9M25.1 41.0h0.9M13.7 39.7h0.9M27.1 42.6h0.9M31.2 44.8h0.9M33.7 38.4h0.9M28.0 39.8h0.9M12.3 39.9h0.9M18.9 45.2h0.9M27.3 44.1h0.9M7.0 47.1h0.9M24.6 45.3h0.9M25.0 42.8h0.9" stroke="#444" stroke-width="0.9" opacity="0.6"/>
<path d="M53.7 41.6h0.9M40.7 34.4h0.9M45.5 29.8h0.9M47.9 30.4h0.9M42.3 27.9h0.9M42.5 38.3h0.9M46.4 35.0h0.9M26.7 31.1h0.9M41.2 39.6h0.9M41.0 38.7h0.9M44.0 32.2h0.9M51.2 39.4h0.9M43.8 39.6h0.9M55.4 37.5h0.9M38.2 41.2h0.9M32.0 37.7h0.9M51.8 39.4h0.9M46.3 32.9h0.9M39.0 38.3h0.9M37.5 47.2h0.9M45.3 44.6h0.9M54.1 38.8h0.9M53.3 40.7h0.9M47.8 37.8h0.9M43.6 40.5h0.9M45.2 30.6h0.9M47.7 37.4h0.9M35.7 40.3h0.9M39.6 32.0h0.9M49.1 25.1h0.9M61.6 31.6h0.9M59.3 29.3h0.9M42.1 28.9h0.9M38.8 34.0h0.9M47.1 32.3h0.9M49.4 33.4h0.9M55.5 37.8h0.9M43.4 36.5h0.9M48.4 28.4h0.9M48.8 32.5h0.9M46.1 39.5h0.9M35.3 34.7h0.9M39.8 35.1h0.9M53.7 47.2h0.9M58.2 36.3h0.9M41.6 36.2h0.9M45.4 42.7h0.9M50.4 30.9h0.9M54.4 43.4h0.9M40.0 32.3h0.9M44.8 31.4h0.9M42.7 36.2h0.9M56.3 41.8h0.9M34.6 40.6h0.9M39.9 40.1h0.9M53.8 43.3h0.9M43.9 45.0h0.9M46.2 40.3h0.9M51.9 40.5h0.9M51.3 33.0h0.9M41.2 33.5h0.9M46.8 35.7h0.9M44.0 42.9h0.9M40.9 33.3h0.9M41.5 35.1h0.9M50.0 38.0h0.9M33.0 31.6h0.9M30.2 38.9h0.9M45.7 23.2h0.9M42.4 31.4h0.9M38.0 30.7h0.9M43.9 39.5h0.9M40.7 42.0h0.9M49.4 37.9h0.9M52.6 45.7h0.9M36.6 38.4h0.9M48.2 40.7h0.9M55.1 34.2h0.9M47.0 34.9h0.9M51.0 29.4h0.9M40.0 39.6h0.9M48.3 34.2h0.9M43.2 43.6h0.9M37.6 36.3h0.9M35.6 40.1h0.9M42.9 31.1h0.9M48.4 35.0h0.9M42.9 41.3h0.9M51.1 36.5h0.9M39.3 37.0h0.9M37.5 38.2h0.9M37.4 33.4h0.9M40.9 40.4h0.9M45.5 35.0h0.9M46.5 34.8h0.9M47.0 41.1h0.9M48.2 36.2h0.9M53.6 39.1h0.9M40.8 36.3h0.9M50.1 32.2h0.9M42.7 34.3h0.9M42.6 35.5h0.9M43.7 42.9h0.9M57.9 35.9h0.9M48.6 46.7h0.9M46.2 35.1h0.9M47.8 37.6h0.9M48.6 36.4h0.9M35.4 34.6h0.9M39.2 38.7h0.9M34.0 32.9h0.9M44.3 37.8h0.9M29.8 40.3h0.9M45.5 34.9h0.9M42.2 25.7h0.9M44.7 35.4h0.9M50.6 36.9h0.9M56.4 32.9h0.9M39.5 48.1h0.9M46.3 31.6h0.9M45.3 38.9h0.9M42.5 38.1h0.9M35.8 36.3h0.9M46.4 36.1h0.9M50.8 40.2h0.9M45.9 38.8h0.9M36.1 32.4h0.9M44.8 31.7h0.9M44.6 37.0h0.9M46.5 28.6h0.9M50.7 39.8h0.9M50.3 38.2h0.9M51.9 25.2h0.9M33.6 31.5h0.9M28.5 36.9h0.9M44.1 37.4h0.9M25.7 37.9h0.9M38.2 30.6h0.9M45.7 28.8h0.9M43.6 31.9h0.9M37.5 44.9h0.9M43.8 42.5h0.9M44.9 43.6h0.9M31.5 38.8h0.9M42.5 39.3h0.9M45.2 36.5h0.9M43.7 45.9h0.9M47.2 36.4h0.9M46.2 35.4h0.9M45.4 31.6h0.9M48.0 39.2h0.9M53.0 32.9h0.9M36.1 31.6h0.9M48.6 32.2h0.9M51.7 29.7h0.9M40.3 31.2h0.9M45.3 35.2h0.9M43.2 44.5h0.9M40.0 33.2h0.9M51.0 41.2h0.9M52.2 41.9h0.9M43.0 35.0h0.9M39.9 45.7h0.9M35.0 38.8h0.9M39.9 33.8h0.9M38.4 32.2h0.9M49.1 27.6h0.9M41.9 39.1h0.9M41.4 35.3h0.9M46.6 31.0h0.9M48.7 41.9h0.9M49.1 40.5h0.9M43.1 42.8h0.9M51.2 24.4h0.9M39.4 37.5h0.9M34.0 36.3h0.9M52.4 33.7h0.9M47.0 32.2h0.9M52.0 38.9h0.9M41.5 38.4h0.9M43.6 41.0h0.9M47.7 40.3h0.9M39.2 34.1h0.9M41.2 41.9h0.9M41.8 37.6h0.9M42.8 35.8h0.9M51.7 30.7h0.9M51.1 40.0h0.9M36.6 38.6h0.9M34.0 37.8h0.9M34.2 39.8h0.9M45.8 34.7h0.9M46.9 37.3h0.9M50.3 43.0h0.9M41.2 35.4h0.9M36.8 37.0h0.9M47.7 28.2h0.9M44.1 41.1h0.9M54.9 38.6h0.9M38.3 40.5h0.9" stroke="#333" stroke-width="0.9" opacity="0.5"/>
<path d="M44.0 36.3h0.9M49.0 36.0h0.9M43.0 35.2h0.9M39.8 39.4h0.9M49.0 35.5h0.9M45.5 37.3h0.9M40.6 36.6h0.9M47.6 36.7h0.9M38.4 35.0h0.9M40.3 33.0h0.9M44.5 37.7h0.9M43.0 33.2h0.9M43.8 36.0h0.9M51.8 39.0h0.9M48.5 38.2h0.9M42.7 33.4h0.9M44.9 36.2h0.9M41.1 36.0h0.9M43.4 34.7h0.9M48.5 35.0h0.9M46.5 39.6h0.9M51.3 39.7h0.9M51.4 37.3h0.9M44.5 34.3h0.9M43.9 40.6h0.9M41.9 35.9h0.9M49.5 35.1h0.9M41.2 37.8h0.9M47.7 33.9h0.9M45.2 34.7h0.9M55.1 37.7h0.9M44.7 38.0h0.9M44.1 38.5h0.9M34.7 38.3h0.9M42.2 35.6h0.9M54.0 41.2h0.9M49.8 38.2h0.9M45.7 37.9h0.9M41.3 38.4h0.9M47.9 35.4h0.9M41.4 36.2h0.9M50.0 34.1h0.9M41.0 31.9h0.9M42.6 39.1h0.9M38.9 39.1h0.9M47.2 36.2h0.9M43.9 38.2h0.9M43.0 36.8h0.9M48.9 37.5h0.9M40.2 34.1h0.9M45.1 37.5h0.9M44.8 35.1h0.9M43.6 33.4h0.9M46.1 36.3h0.9M45.9 36.8h0.9M48.1 34.2h0.9M46.6 37.3h0.9M38.6 37.3h0.9M48.6 39.1h0.9M47.8 40.5h0.9M42.3 34.7h0.9M37.3 34.8h0.9M45.6 37.2h0.9M37.8 35.1h0.9M39.8 37.9h0.9M49.4 37.8h0.9M43.9 39.6h0.9M48.6 36.3h0.9M37.3 36.4h0.9M44.5 34.9h0.9M49.0 34.9h0.9M45.8 35.1h0.9M37.6 40.7h0.9M44.0 30.1h0.9M44.1 32.4h0.9M44.5 35.1h0.9M42.6 30.9h0.9M49.6 32.4h0.9M46.6 36.1h0.9M47.0 35.4h0.9M41.6 37.8h0.9M49.2 35.5h0.9M42.5 33.5h0.9M51.8 35.1h0.9M46.8 37.4h0.9M40.5 37.7h0.9M43.3 36.8h0.9M42.7 37.1h0.9M47.2 40.0h0.9M45.1 38.5h0.9M45.4 35.6h0.9M38.5 38.9h0.9M45.0 38.7h0.9M45.7 35.8h0.9M42.6 40.5h0.9M53.0 34.5h0.9M52.0 35.9h0.9M46.2 33.2h0.9M42.1 35.7h0.9M44.5 37.7h0.9M47.2 36.5h0.9M48.0 38.1h0.9M37.6 37.3h0.9M49.6 37.7h0.9M45.5 39.8h0.9M41.7 35.8h0.9M48.3 39.2h0.9M46.3 38.9h0.9M48.9 32.1h0.9M50.4 32.9h0.9M41.7 36.4h0.9M42.8 35.0h0.9M46.4 36.0h0.9M43.0 37.0h0.9M44.8 34.4h0.9M49.1 36.0h0.9M42.7 37.7h0.9M40.9 34.4h0.9M32.5 34.7h0.9M52.2 39.0h0.9M53.8 40.1h0.9M45.5 34.4h0.9M46.6 36.6h0.9M45.1 41.5h0.9M45.5 34.1h0.9M40.2 36.7h0.9M46.6 35.3h0.9M48.2 35.0h0.9M41.7 36.5h0.9M53.5 35.4h0.9M57.3 35.8h0.9M42.4 39.0h0.9M43.9 40.7h0.9M46.9 42.8h0.9M53.0 37.4h0.9M45.8 34.5h0.9M47.0 36.1h0.9M52.2 36.9h0.9M43.7 39.8h0.9M51.0 36.9h0.9M32.5 36.9h0.9M46.2 37.6h0.9M47.2 33.7h0.9M44.5 34.7h0.9M48.5 34.6h0.9M44.9 39.1h0.9M47.6 38.2h0.9M47.0 35.4h0.9M44.0 37.2h0.9M47.2 37.1h0.9" stroke="#111" stroke-width="0.9" opacity="0.6"/>
<path d="M50.6 45.7h0.9M52.9 43.9h0.9M48.9 49.5h0.9M43.0 31.1h0.9M56.5 42.0h0.9M46.1 31.8h0.9M47.9 46.9h0.9M50.6 38.7h0.9M49.9 35.7h0.9M30.5 44.0h0.9M53.9 33.9h0.9M34.5 36.3h0.9M49.9 34.4h0.9M47.7 48.3h0.9M51.7 31.1h0.9M49.9 47.2h0.9M49.3 35.2h0.9M32.7 45.4h0.9M26.5 46.3h0.9M29.2 46.9h0.9M52.5 44.8h0.9M49.0 46.9h0.9M47.1 34.1h0.9M34.1 47.3h0.9M34.6 42.7h0.9M37.9 23.7h0.9M37.6 27.1h0.9M36.5 36.6h0.9M49.3 38.4h0.9M47.8 50.7h0.9M56.3 28.1h0.9M28.2 41.5h0.9M29.8 38.2h0.9M51.6 42.7h0.9M51.6 39.6h0.9M51.8 39.1h0.9M33.1 40.6h0.9M48.1 49.0h0.9M45.9 35.1h0.9M39.3 34.7h0.9M37.9 40.8h0.9M54.1 41.3h0.9M44.1 34.0h0.9M43.3 36.1h0.9M29.3 43.2h0.9M30.1 43.3h0.9M51.2 37.9h0.9M34.9 46.1h0.9M45.6 37.0h0.9M31.8 45.8h0.9M51.5 42.1h0.9M30.7 40.6h0.9M52.4 43.6h0.9M46.5 47.6h0.9M51.4 42.2h0.9M56.3 30.7h0.9M44.8 31.6h0.9M50.0 24.3h0.9M38.0 26.1h0.9M53.2 45.5h0.9M30.5 45.6h0.9M28.3 47.3h0.9M53.5 43.9h0.9M51.7 36.7h0.9M41.3 38.7h0.9M51.6 49.2h0.9M49.1 47.6h0.9M50.6 36.5h0.9M47.7 34.8h0.9M57.3 29.2h0.9M42.8 48.0h0.9M28.0 39.8h0.9M46.5 47.8h0.9M51.5 32.3h0.9M35.5 46.9h0.9M23.1 43.5h0.9M44.0 36.4h0.9M45.4 48.6h0.9M51.0 45.3h0.9M51.7 45.9h0.9M49.2 35.0h0.9M24.2 36.3h0.9M50.3 49.7h0.9M41.6 38.7h0.9M56.5 43.8h0.9M41.1 38.9h0.9M44.0 47.5h0.9M45.7 37.6h0.9M32.8 38.1h0.9M38.4 38.9h0.9M27.8 45.8h0.9M50.1 47.2h0.9M22.0 44.4h0.9M31.6 41.5h0.9M50.4 35.0h0.9M44.5 48.0h0.9M39.0 24.1h0.9M35.6 38.4h0.9M48.2 46.5h0.9M56.4 37.5h0.9M33.6 44.0h0.9M31.0 47.1h0.9M45.9 47.4h0.9M50.5 38.4h0.9M54.4 34.4h0.9M47.3 34.0h0.9M55.0 44.2h0.9M41.1 39.4h0.9M57.9 41.4h0.9M44.9 37.1h0.9M29.9 46.1h0.9M42.3 52.5h0.9M26.6 45.9h0.9M37.5 39.6h0.9M46.3 31.1h0.9M41.8 35.8h0.9M40.0 35.1h0.9M49.3 35.9h0.9M44.4 48.8h0.9M54.7 48.2h0.9M48.4 47.2h0.9M42.1 37.0h0.9M29.4 45.8h0.9M37.6 25.9h0.9M32.7 46.1h0.9M48.0 37.7h0.9M25.7 43.1h0.9M49.7 37.4h0.9M42.1 34.1h0.9M49.1 37.7h0.9M31.1 46.5h0.9M45.3 51.9h0.9M48.5 34.4h0.9M39.9 30.7h0.9M43.9 27.1h0.9M50.9 35.7h0.9M49.9 50.2h0.9M32.0 50.1h0.9M51.0 35.3h0.9M51.2 43.5h0.9M23.4 44.6h0.9M52.3 39.5h0.9M50.7 48.7h0.9M32.2 46.4h0.9M57.3 37.5h0.9M46.7 50.3h0.9M32.4 39.0h0.9M47.1 48.5h0.9M25.1 34.8h0.9M46.2 49.3h0.9M54.2 42.1h0.9M45.5 37.7h0.9M52.4 33.8h0.9M30.5 45.5h0.9M34.3 47.1h0.9M51.8 33.6h0.9M35.1 47.4h0.9M38.3 40.5h0.9M43.3 48.1h0.9M34.4 46.8h0.9M54.6 43.0h0.9M53.3 29.7h0.9M51.2 43.1h0.9M58.0 36.6h0.9M55.0 37.1h0.9M34.2 46.5h0.9M40.7 48.0h0.9M51.7 40.1h0.9M29.8 47.9h0.9M58.2 37.8h0.9M34.8 46.3h0.9M53.4 42.3h0.9M51.7 36.3h0.9M48.5 38.1h0.9M51.5 41.3h0.9M30.2 28.3h0.9M51.3 41.1h0.9M55.7 40.8h0.9M52.3 44.7h0.9M26.0 42.8h0.9M54.8 38.9h0.9M47.1 37.4h0.9M38.8 31.4h0.9M50.4 37.9h0.9M34.6 47.5h0.9M45.6 31.2h0.9M47.6 49.4h0.9M50.3 29.8h0.9M36.3 31.8h0.9M33.8 46.8h0.9M33.0 40.7h0.9M34.8 46.7h0.9M36.7 35.6h0.9M53.3 31.4h0.9M33.1 45.9h0.9M46.5 33.9h0.9M43.8 49.7h0.9M48.7 23.7h0.9M52.9 42.1h0.9M52.3 40.3h0.9M33.5 40.5h0.9M50.1 33.6h0.9M54.1 33.7h0.9M43.9 48.9h0.9M31.4 40.5h0.9M35.3 43.7h0.9M29.8 49.3h0.9M50.9 37.6h0.9M32.0 46.9h0.9M37.1 47.9h0.9M28.6 46.7h0.9M56.1 35.0h0.9M34.6 46.7h0.9M43.1 47.8h0.9M38.0 47.1h0.9M50.5 33.5h0.9M51.1 35.8h0.9M50.9 44.7h0.9M40.7 38.7h0.9M54.2 46.7h0.9M39.6 39.2h0.9M31.3 33.8h0.9M51.6 39.8h0.9M50.8 38.2h0.9M45.7 37.1h0.9M37.0 47.1h0.9M27.1 42.4h0.9M28.9 45.5h0.9M30.3 42.9h0.9M55.9 40.7h0.9M44.0 33.0h0.9M52.8 38.4h0.9M43.1 50.3h0.9M42.3 34.6h0.9M51.4 31.7h0.9M53.0 36.7h0.9M27.6 47.5h0.9M44.9 33.9h0.9M42.6 32.3h0.9M50.5 44.5h0.9M41.7 37.2h0.9M51.4 43.8h0.9M37.3 41.5h0.9M44.9 47.6h0.9M28.6 34.1h0.9M46.0 47.0h0.9M33.0 38.6h0.9M37.2 47.9h0.9M49.5 37.3h0.9M44.9 35.5h0.9M34.4 41.2h0.9M53.4 33.9h0.9M50.1 45.8h0.9M53.0 48.0h0.9M32.2 46.2h0.9M53.5 28.4h0.9M38.0 40.2h0.9M53.5 32.2h0.9M36.5 40.3h0.9M42.6 48.2h0.9M49.0 46.6h0.9M48.1 47.4h0.9M37.7 39.7h0.9M30.7 45.5h0.9M39.4 30.1h0.9M52.8 46.9h0.9M54.3 44.4h0.9M27.5 38.1h0.9M35.0 38.5h0.9M31.9 46.6h0.9M43.1 34.1h0.9M36.7 23.9h0.9M52.6 32.0h0.9M51.0 25.5h0.9M31.4 27.5h0.9M57.7 36.9h0.9M58.4 37.5h0.9M35.8 41.1h0.9M54.8 32.5h0.9M52.9 41.6h0.9M49.4 47.7h0.9M35.3 46.8h0.9M44.7 27.2h0.9M41.9 52.7h0.9M36.4 41.5h0.9M47.0 27.8h0.9M52.9 32.1h0.9M35.8 42.4h0.9M38.8 47.0h0.9M35.0 48.0h0.9M50.9 47.1h0.9M45.9 36.7h0.9M34.5 46.2h0.9M57.4 40.9h0.9M47.4 47.1h0.9M53.5 36.0h0.9M53.9 33.3h0.9M42.6 47.3h0.9M35.8 40.8h0.9M27.3 45.3h0.9M32.8 47.4h0.9M35.6 47.8h0.9M33.7 47.0h0.9M31.2 43.9h0.9M35.5 46.8h0.9M45.9 48.1h0.9M34.8 37.9h0.9M36.2 47.6h0.9M35.9 42.4h0.9M24.0 39.0h0.9M35.3 39.4h0.9M53.2 40.3h0.9M31.5 44.2h0.9M31.6 39.0h0.9M32.7 46.8h0.9M54.9 44.8h0.9M47.6 51.5h0.9M42.9 48.1h0.9M32.5 44.7h0.9M51.2 34.3h0.9M26.9 32.7h0.9M31.4 47.0h0.9M30.7 49.0h0.9M35.4 43.7h0.9M38.4 51.3h0.9M54.8 39.8h0.9M43.7 47.6h0.9M51.9 35.9h0.9M35.9 41.2h0.9M46.3 49.7h0.9M36.1 31.4h0.9M23.1 41.2h0.9M46.6 37.2h0.9M50.0 47.0h0.9M52.1 41.4h0.9M49.3 48.5h0.9M22.8 45.0h0.9M44.5 47.6h0.9M51.2 44.6h0.9M26.3 47.9h0.9M23.4 40.3h0.9M53.8 33.6h0.9M38.1 47.6h0.9M23.9 42.4h0.9M51.2 42.1h0.9M52.0 46.7h0.9M48.0 37.1h0.9M50.8 35.1h0.9M38.4 35.0h0.9M32.1 42.5h0.9M37.8 40.2h0.9M54.1 36.2h0.9M50.8 40.1h0.9M40.9 47.6h0.9M52.4 46.1h0.9M29.5 36.7h0.9M49.0 46.9h0.9M49.1 48.2h0.9M40.7 23.8h0.9M49.5 37.5h0.9M44.2 33.3h0.9M39.5 47.1h0.9M49.8 46.5h0.9M53.7 34.7h0.9M27.0 45.1h0.9M45.1 50.7h0.9M49.8 47.8h0.9M34.7 49.5h0.9M36.3 40.9h0.9M33.2 46.0h0.9M33.6 40.1h0.9M52.3 42.6h0.9M43.6 48.9h0.9M21.6 43.5h0.9M30.2 45.7h0.9M39.6 47.1h0.9M38.5 39.9h0.9M38.2 48.0h0.9M34.9 38.7h0.9M48.3 36.0h0.9" stroke="#222" stroke-width="0.9" opacity="0.5"/>
<path d="M33.50,45.80 C33.50,44.97 35.58,43.00 37.00,41.80 C38.42,40.60 40.33,39.37 42.00,38.60 C43.67,37.83 45.57,37.30 47.00,37.20 C48.43,37.10 49.97,37.20 50.60,38.00 C51.23,38.80 50.93,40.63 50.80,42.00 C50.67,43.37 50.93,45.37 49.80,46.20 C48.67,47.03 46.13,46.90 44.00,47.00 C41.87,47.10 38.75,47.00 37.00,46.80 C35.25,46.60 33.50,46.63 33.50,45.80Z" transform="translate(0,0)" fill="#0a0a0a" stroke="#0a0a0a" stroke-width="4.0" stroke-linejoin="round" filter="url(#fz)"/>
<path d="M33.50,45.80 C33.50,44.97 35.58,43.00 37.00,41.80 C38.42,40.60 40.33,39.37 42.00,38.60 C43.67,37.83 45.57,37.30 47.00,37.20 C48.43,37.10 49.97,37.20 50.60,38.00 C51.23,38.80 50.93,40.63 50.80,42.00 C50.67,43.37 50.93,45.37 49.80,46.20 C48.67,47.03 46.13,46.90 44.00,47.00 C41.87,47.10 38.75,47.00 37.00,46.80 C35.25,46.60 33.50,46.63 33.50,45.80Z" transform="translate(-0.5,-2)" fill="#0a0a0a" stroke="#0a0a0a" stroke-width="4.0" stroke-linejoin="round" filter="url(#fz)"/>
<path d="M33.50,45.80 C33.50,44.97 35.58,43.00 37.00,41.80 C38.42,40.60 40.33,39.37 42.00,38.60 C43.67,37.83 45.57,37.30 47.00,37.20 C48.43,37.10 49.97,37.20 50.60,38.00 C51.23,38.80 50.93,40.63 50.80,42.00 C50.67,43.37 50.93,45.37 49.80,46.20 C48.67,47.03 46.13,46.90 44.00,47.00 C41.87,47.10 38.75,47.00 37.00,46.80 C35.25,46.60 33.50,46.63 33.50,45.80Z" fill="#050505" stroke="#050505" stroke-width="3.0" stroke-linejoin="round"/>
<path d="M43.4 36.9h0.9M52.0 37.2h0.9M30.3 45.9h0.9M50.7 42.4h0.9M39.5 47.8h0.9M33.5 43.3h0.9M45.2 29.6h0.9M41.3 38.8h0.9M51.4 34.8h0.9M43.0 29.2h0.9M53.9 37.8h0.9M37.1 40.7h0.9M39.1 48.2h0.9M32.7 44.4h0.9M30.1 40.3h0.9M31.9 44.4h0.9M54.5 38.7h0.9M47.3 47.4h0.9M45.2 47.5h0.9M39.5 32.0h0.9M51.2 42.0h0.9M39.1 39.5h0.9M47.6 37.7h0.9M38.0 47.5h0.9M46.5 37.2h0.9M54.2 35.6h0.9M38.1 30.7h0.9M33.8 46.5h0.9M44.4 47.4h0.9M49.9 36.6h0.9M49.3 37.4h0.9M39.4 48.0h0.9M48.4 46.9h0.9M37.5 47.8h0.9M47.6 46.8h0.9M28.4 45.4h0.9M50.9 46.6h0.9M53.6 34.6h0.9M34.4 40.7h0.9M42.2 38.7h0.9M38.3 47.4h0.9M42.4 46.9h0.9M50.6 40.4h0.9M31.3 45.6h0.9M43.7 38.8h0.9M50.0 30.1h0.9M38.4 37.0h0.9M31.6 46.3h0.9M34.3 39.4h0.9M42.3 38.0h0.9M46.1 36.0h0.9M28.1 39.9h0.9M52.8 43.7h0.9M32.6 45.7h0.9M40.8 34.0h0.9M35.8 42.3h0.9M49.3 37.0h0.9M51.0 37.3h0.9M44.4 30.9h0.9M47.9 37.1h0.9M43.0 29.0h0.9M44.6 47.3h0.9M36.1 37.1h0.9M50.7 30.8h0.9M49.5 47.0h0.9M53.8 34.2h0.9M47.9 32.8h0.9M43.7 37.1h0.9M34.3 46.2h0.9M54.2 36.4h0.9M41.6 36.2h0.9M50.4 36.7h0.9M45.5 35.5h0.9M31.3 46.0h0.9M49.8 46.4h0.9M33.5 46.6h0.9M30.4 44.8h0.9M51.9 44.9h0.9M34.7 46.8h0.9M28.1 44.3h0.9M31.4 45.6h0.9M52.7 34.4h0.9M41.5 48.0h0.9M32.4 45.8h0.9M52.1 33.9h0.9M45.1 30.2h0.9M38.9 36.4h0.9M43.9 37.6h0.9M26.7 44.1h0.9M36.4 32.4h0.9M50.6 41.1h0.9M32.6 40.1h0.9M44.4 32.8h0.9M53.8 40.5h0.9M45.1 47.2h0.9M33.9 44.6h0.9M50.9 41.5h0.9M51.7 42.5h0.9M50.7 36.0h0.9M52.7 43.4h0.9M53.4 42.3h0.9M48.2 47.1h0.9M49.0 32.3h0.9M49.1 46.7h0.9M54.1 35.9h0.9M53.1 38.8h0.9M52.2 45.8h0.9M32.0 44.3h0.9M51.2 37.3h0.9M50.4 44.6h0.9M43.3 36.8h0.9M32.8 38.7h0.9M46.5 36.8h0.9M54.5 37.7h0.9M50.6 43.9h0.9M29.4 38.7h0.9M50.8 32.4h0.9M34.2 43.8h0.9M49.2 34.4h0.9M54.3 40.7h0.9M51.2 35.2h0.9M38.7 47.7h0.9M27.2 43.8h0.9M44.6 47.3h0.9M41.0 47.7h0.9M46.2 47.8h0.9M54.3 34.2h0.9M47.6 37.3h0.9M48.8 36.8h0.9M34.4 41.5h0.9M53.2 34.9h0.9M32.2 45.7h0.9M33.1 46.2h0.9M50.0 46.0h0.9M47.2 34.6h0.9M43.8 37.5h0.9M36.2 47.9h0.9M41.3 38.6h0.9M41.4 35.7h0.9M51.7 41.7h0.9M34.3 46.5h0.9M29.4 45.8h0.9M32.5 34.5h0.9M52.1 41.9h0.9M37.7 40.9h0.9M39.1 40.7h0.9M51.5 36.8h0.9M51.8 38.5h0.9M27.3 43.0h0.9M51.9 33.3h0.9M45.6 38.0h0.9M32.2 46.2h0.9M53.9 37.8h0.9M50.9 38.2h0.9M54.3 38.5h0.9M43.9 35.9h0.9M34.1 45.7h0.9M30.3 43.5h0.9M32.8 46.4h0.9M52.9 41.8h0.9M33.9 33.1h0.9M51.5 37.8h0.9M52.4 42.3h0.9M30.7 45.0h0.9M30.5 37.5h0.9M44.1 35.1h0.9M51.3 42.5h0.9M53.0 42.8h0.9M52.0 37.7h0.9M53.8 40.1h0.9M47.5 34.7h0.9M49.9 46.7h0.9M51.4 39.7h0.9M50.4 46.1h0.9M50.6 46.6h0.9M33.3 46.9h0.9M45.4 33.1h0.9M30.9 46.0h0.9M34.8 47.4h0.9M51.7 37.2h0.9M49.1 33.1h0.9M44.2 35.1h0.9M32.2 45.9h0.9M36.3 37.3h0.9M33.2 34.3h0.9M52.5 46.5h0.9M32.1 42.4h0.9M51.6 43.1h0.9M30.1 45.7h0.9M29.4 45.3h0.9" stroke="#000" stroke-width="0.9" opacity="0.85"/>
<path d="M33.50,45.80 C33.50,44.97 35.58,43.00 37.00,41.80 C38.42,40.60 40.33,39.37 42.00,38.60 C43.67,37.83 45.57,37.30 47.00,37.20 C48.43,37.10 49.97,37.20 50.60,38.00 C51.23,38.80 50.93,40.63 50.80,42.00 C50.67,43.37 50.93,45.37 49.80,46.20 C48.67,47.03 46.13,46.90 44.00,47.00 C41.87,47.10 38.75,47.00 37.00,46.80 C35.25,46.60 33.50,46.63 33.50,45.80Z" fill="#dedede" stroke="#f4f4f4" stroke-width="0.9"/>
<path d="M36.44,44.59 C36.48,43.99 38.01,42.63 39.01,41.82 C40.01,41.00 41.27,40.23 42.45,39.70 C43.62,39.17 45.02,38.71 46.07,38.61 C47.13,38.52 48.38,38.51 48.76,39.12 C49.14,39.74 48.45,41.25 48.36,42.28 C48.27,43.32 48.92,44.81 48.21,45.34 C47.49,45.87 45.62,45.46 44.05,45.47 C42.48,45.48 40.04,45.56 38.78,45.42 C37.51,45.27 36.41,45.19 36.44,44.59Z" fill="none" stroke="#f2f2f2" stroke-width="0.55" opacity="1"/>
<path d="M38.85,43.84 C38.83,43.46 39.82,42.64 40.47,42.17 C41.12,41.69 41.93,41.35 42.73,40.98 C43.53,40.62 44.62,40.00 45.29,39.95 C45.95,39.90 46.52,40.23 46.72,40.67 C46.93,41.11 46.57,42.01 46.52,42.60 C46.46,43.18 46.86,43.82 46.39,44.19 C45.91,44.56 44.64,44.78 43.68,44.82 C42.72,44.87 41.41,44.62 40.60,44.45 C39.80,44.29 38.88,44.22 38.85,43.84Z" fill="none" stroke="#f2f2f2" stroke-width="0.55" opacity="1"/>
<path d="M41.79,43.05 C41.76,42.89 41.92,42.88 42.20,42.70 C42.47,42.52 43.05,42.20 43.42,41.97 C43.79,41.74 44.16,41.36 44.43,41.31 C44.70,41.26 44.90,41.44 45.04,41.68 C45.18,41.93 45.33,42.46 45.28,42.77 C45.22,43.07 45.00,43.40 44.71,43.50 C44.42,43.61 43.93,43.40 43.54,43.42 C43.14,43.45 42.64,43.73 42.35,43.67 C42.06,43.61 41.82,43.21 41.79,43.05Z" fill="none" stroke="#f2f2f2" stroke-width="0.55" opacity="1"/>
<path d="M36.67,44.91 C36.63,44.39 38.11,42.92 39.11,42.05 C40.11,41.19 41.51,40.23 42.68,39.72 C43.86,39.20 45.27,38.96 46.17,38.94 C47.07,38.92 47.74,39.03 48.09,39.61 C48.45,40.20 48.34,41.60 48.31,42.48 C48.28,43.35 48.60,44.37 47.90,44.87 C47.20,45.37 45.55,45.44 44.12,45.49 C42.70,45.53 40.60,45.26 39.36,45.16 C38.12,45.06 36.71,45.43 36.67,44.91Z" fill="none" stroke="#9a9a9a" stroke-width="0.4" opacity="1"/>
<path d="M38.84,44.13 C38.77,43.69 39.80,42.69 40.42,42.14 C41.05,41.59 41.78,41.20 42.59,40.84 C43.41,40.49 44.60,40.08 45.31,40.03 C46.02,39.97 46.57,40.09 46.85,40.53 C47.12,40.96 47.03,42.02 46.95,42.62 C46.88,43.23 46.94,43.81 46.40,44.16 C45.86,44.51 44.65,44.62 43.73,44.73 C42.80,44.84 41.67,44.90 40.85,44.80 C40.04,44.70 38.91,44.58 38.84,44.13Z" fill="none" stroke="#9a9a9a" stroke-width="0.4" opacity="1"/>
<path d="M41.10,43.09 C41.12,42.86 41.93,42.51 42.29,42.24 C42.65,41.97 42.94,41.59 43.28,41.47 C43.62,41.34 43.97,41.49 44.32,41.49 C44.68,41.49 45.28,41.27 45.42,41.46 C45.56,41.65 45.23,42.36 45.15,42.65 C45.08,42.94 45.25,43.06 44.98,43.19 C44.71,43.33 44.00,43.38 43.54,43.46 C43.07,43.53 42.58,43.72 42.18,43.65 C41.77,43.59 41.08,43.33 41.10,43.09Z" fill="none" stroke="#9a9a9a" stroke-width="0.4" opacity="1"/>
</g>
<rect x="29.5" y="204.5" width="64" height="59.5" fill="none" stroke="#666" stroke-width="1"/>
<text x="32.0" y="216.5" font-size="12.5" text-anchor="start" font-weight="normal" font-style="normal" fill="#111" >0.5</text>
<text x="90.5" y="216.5" font-size="12.5" text-anchor="end" font-weight="normal" font-style="normal" fill="#111" >4</text>
<text x="90.5" y="262.2" font-size="12.5" text-anchor="end" font-weight="normal" font-style="normal" fill="#111" >94</text>
<line x1="128.5" y1="204.5" x2="128.5" y2="264.0" stroke="#9a9a9a" stroke-width="1"/>
<line x1="96.5" y1="240.0" x2="160.5" y2="240.0" stroke="#9a9a9a" stroke-width="1"/>
<g transform="translate(96.5,204.5)">
<path d="M13.9 29.5h0.9M56.7 35.1h0.9M20.2 27.0h0.9M38.2 28.9h0.9M37.5 24.9h0.9M44.7 40.4h0.9M13.7 27.1h0.9M40.6 25.8h0.9M10.7 24.7h0.9M35.1 36.7h0.9M21.8 26.1h0.9M50.6 31.3h0.9M6.9 30.3h0.9M38.2 36.7h0.9M50.8 32.2h0.9M22.5 27.9h0.9M42.9 35.7h0.9M34.1 37.9h0.9M26.4 33.9h0.9M34.8 30.4h0.9M46.3 33.6h0.9M31.1 37.6h0.9M29.3 25.0h0.9M50.6 20.6h0.9M29.7 40.8h0.9M27.2 37.3h0.9M30.6 39.0h0.9M14.0 34.9h0.9M56.6 31.7h0.9M40.1 35.3h0.9M56.4 27.2h0.9M23.7 32.5h0.9M34.8 34.1h0.9M51.4 30.0h0.9M16.6 29.9h0.9M23.6 39.3h0.9M36.1 42.8h0.9M19.8 28.3h0.9M34.5 34.7h0.9M52.4 33.8h0.9M47.5 29.5h0.9M31.0 27.4h0.9M23.7 33.9h0.9M34.0 32.4h0.9M38.2 21.4h0.9M37.0 41.6h0.9M10.5 37.7h0.9M38.1 40.4h0.9M21.2 32.8h0.9M25.8 37.0h0.9M16.0 30.7h0.9M29.1 31.8h0.9M47.9 29.6h0.9M11.9 41.7h0.9M37.6 32.6h0.9M25.2 34.2h0.9M32.9 25.3h0.9M38.2 41.0h0.9M42.8 27.6h0.9M26.8 36.1h0.9M43.0 34.6h0.9M38.5 28.4h0.9M35.9 35.0h0.9M50.2 37.3h0.9M55.6 36.4h0.9M18.9 34.9h0.9M40.8 26.3h0.9M20.1 30.0h0.9M37.6 23.4h0.9M29.1 32.1h0.9M3.4 34.3h0.9M29.0 34.5h0.9M25.5 23.9h0.9M16.5 33.5h0.9M57.2 37.3h0.9M30.8 33.7h0.9M59.5 33.6h0.9M40.3 47.2h0.9M13.0 33.4h0.9M51.5 37.4h0.9M17.2 29.5h0.9M26.3 37.0h0.9M33.1 26.8h0.9M31.8 24.0h0.9M29.2 34.6h0.9M29.3 37.8h0.9M38.3 44.9h0.9M20.4 37.4h0.9M45.0 33.5h0.9M22.5 41.5h0.9M29.6 24.9h0.9M31.0 18.0h0.9M27.1 35.6h0.9M31.3 38.3h0.9M36.7 30.7h0.9M15.8 24.1h0.9M14.7 31.3h0.9M53.4 37.7h0.9M37.2 33.4h0.9M35.0 41.6h0.9M29.2 36.7h0.9M38.6 42.0h0.9M13.8 31.4h0.9M38.6 41.2h0.9M18.7 34.0h0.9M39.2 28.7h0.9M29.3 36.3h0.9M15.3 36.9h0.9M15.5 36.1h0.9M49.3 33.8h0.9M38.4 27.9h0.9M23.6 29.4h0.9M16.4 29.1h0.9M38.2 33.1h0.9M38.3 27.2h0.9M21.5 31.6h0.9M20.6 33.7h0.9M31.8 37.1h0.9M27.1 35.6h0.9M19.6 34.4h0.9M43.5 34.8h0.9M46.7 29.5h0.9M37.8 28.5h0.9M24.9 31.6h0.9M22.0 23.7h0.9M46.7 27.9h0.9M4.4 38.6h0.9M27.3 36.3h0.9M31.5 36.8h0.9M19.2 37.9h0.9M25.5 28.2h0.9M24.8 34.6h0.9M28.1 37.9h0.9M25.5 40.0h0.9M23.7 31.7h0.9M43.4 28.5h0.9M36.6 35.7h0.9M41.1 42.4h0.9M45.8 41.8h0.9M31.9 39.4h0.9M36.3 37.1h0.9M44.2 25.6h0.9M41.9 36.1h0.9M56.7 36.0h0.9M31.7 34.1h0.9M35.1 25.8h0.9M31.4 29.3h0.9M15.0 35.8h0.9M28.3 35.7h0.9M35.3 26.6h0.9M20.3 26.1h0.9M48.6 30.7h0.9M39.9 29.2h0.9M53.1 32.0h0.9M9.7 27.0h0.9M42.1 41.6h0.9M29.2 25.7h0.9M38.6 28.4h0.9M39.4 31.1h0.9M32.5 27.0h0.9M27.0 26.0h0.9M17.9 27.5h0.9M33.1 35.0h0.9M22.8 20.9h0.9M9.1 46.4h0.9M33.7 36.4h0.9M33.0 31.5h0.9M28.4 36.6h0.9M52.5 27.5h0.9M19.6 39.4h0.9M25.4 34.7h0.9M33.6 25.2h0.9M45.0 25.2h0.9M39.2 25.2h0.9M19.8 34.2h0.9M14.9 37.4h0.9M11.0 27.8h0.9M14.3 30.7h0.9M28.8 28.5h0.9M18.5 34.9h0.9M47.2 27.8h0.9M24.6 32.7h0.9M40.1 30.1h0.9M6.7 21.8h0.9M28.7 26.8h0.9M28.4 37.5h0.9M28.4 23.5h0.9M17.2 37.1h0.9M25.2 33.1h0.9M14.0 30.2h0.9M37.8 42.9h0.9M21.1 34.6h0.9M39.9 36.7h0.9M17.8 36.0h0.9M21.9 37.9h0.9M29.3 41.0h0.9M9.7 25.1h0.9M43.5 31.1h0.9M50.5 42.3h0.9M6.7 26.7h0.9M36.4 32.1h0.9M54.9 32.7h0.9M35.3 32.9h0.9M38.6 37.0h0.9M42.7 31.8h0.9M21.8 30.8h0.9M25.4 36.4h0.9M27.8 31.3h0.9M43.7 32.9h0.9M42.4 34.7h0.9M22.7 36.9h0.9M49.3 28.9h0.9M34.2 24.5h0.9M42.5 41.0h0.9M35.8 31.5h0.9M49.9 40.5h0.9M28.2 37.6h0.9M28.3 31.4h0.9M27.7 29.2h0.9M15.9 32.4h0.9M37.5 24.1h0.9M20.1 39.4h0.9M25.6 34.9h0.9M46.4 28.1h0.9M48.8 41.0h0.9M42.0 31.2h0.9M33.1 34.3h0.9M21.8 36.6h0.9M35.6 33.6h0.9M18.6 34.3h0.9M43.4 28.8h0.9M2.5 45.2h0.9M11.7 34.4h0.9M37.8 31.0h0.9M49.7 13.0h0.9M33.7 32.2h0.9M41.8 36.8h0.9M33.4 30.6h0.9M46.9 36.6h0.9M30.3 35.4h0.9M26.1 32.5h0.9M18.0 23.6h0.9M18.3 23.3h0.9M41.9 25.5h0.9M36.0 21.7h0.9M26.0 37.1h0.9M35.1 30.0h0.9M34.2 31.6h0.9M31.1 25.3h0.9M24.7 38.1h0.9M27.1 28.6h0.9M30.2 34.8h0.9M25.6 24.4h0.9M38.7 34.1h0.9M57.7 39.4h0.9M35.6 28.9h0.9M36.9 33.1h0.9M5.2 36.1h0.9M45.5 32.8h0.9M35.7 38.6h0.9M38.0 24.3h0.9M38.9 27.1h0.9M29.2 36.1h0.9M34.2 24.3h0.9M27.3 30.5h0.9M1.6 33.5h0.9M31.6 28.7h0.9M41.9 40.7h0.9M17.2 32.9h0.9M44.2 25.0h0.9M25.9 32.1h0.9M21.8 29.3h0.9M55.2 34.4h0.9M43.2 28.2h0.9M18.9 43.9h0.9M32.6 33.0h0.9M57.6 28.6h0.9M23.0 35.8h0.9M17.6 31.5h0.9M38.1 36.5h0.9M32.9 31.8h0.9M25.1 23.4h0.9M40.8 37.0h0.9M28.0 31.2h0.9M51.1 30.1h0.9M45.0 30.5h0.9M31.7 27.6h0.9M34.2 38.4h0.9M54.7 29.0h0.9M7.4 24.4h0.9M40.8 28.6h0.9M41.7 42.9h0.9M54.7 32.6h0.9M18.8 38.6h0.9M6.4 36.3h0.9M19.0 35.3h0.9M10.8 41.3h0.9M32.0 36.9h0.9M24.1 31.7h0.9M42.4 47.0h0.9M47.8 32.9h0.9M14.6 32.5h0.9M36.7 32.8h0.9M40.3 30.1h0.9M18.1 31.6h0.9M5.5 33.1h0.9M35.6 33.5h0.9M30.8 33.9h0.9M40.1 37.0h0.9M54.2 33.7h0.9M17.8 34.6h0.9M23.6 35.0h0.9M32.9 33.8h0.9M28.9 22.2h0.9M35.8 40.4h0.9M24.7 31.1h0.9M33.0 42.1h0.9M28.5 41.7h0.9M38.3 27.9h0.9M21.4 29.2h0.9M1.1 36.7h0.9M8.0 40.4h0.9M56.5 39.6h0.9M31.6 32.0h0.9M53.9 24.8h0.9M50.5 37.0h0.9M40.6 31.3h0.9M30.6 26.8h0.9M41.8 25.8h0.9M37.5 36.8h0.9M35.7 28.4h0.9M34.0 45.0h0.9M13.3 41.6h0.9M27.4 31.7h0.9M37.2 22.6h0.9M22.8 34.2h0.9M51.3 34.0h0.9" stroke="#555" stroke-width="0.9" opacity="0.55"/>
<path d="M7.9 47.6h0.9M25.2 41.4h0.9M21.7 41.8h0.9M40.3 44.0h0.9M35.7 42.1h0.9M23.2 41.2h0.9M31.6 43.8h0.9M38.5 44.7h0.9M30.8 45.3h0.9M31.0 43.1h0.9M20.8 45.5h0.9M23.2 46.1h0.9M22.2 41.4h0.9M22.6 42.0h0.9M17.8 37.9h0.9M41.1 40.1h0.9M9.8 38.6h0.9M22.3 38.3h0.9M28.2 42.8h0.9M25.3 48.8h0.9M38.1 39.2h0.9M20.8 42.6h0.9M12.7 47.5h0.9M27.2 48.6h0.9M18.4 40.0h0.9M25.7 44.8h0.9M26.0 48.0h0.9M33.6 43.1h0.9M22.3 40.5h0.9M42.1 54.3h0.9M17.7 50.7h0.9M14.4 40.5h0.9M18.4 44.9h0.9M13.0 45.1h0.9M32.2 44.4h0.9M17.1 37.1h0.9M43.4 45.8h0.9M31.5 44.0h0.9M21.9 43.7h0.9M28.3 41.5h0.9M20.0 45.0h0.9M26.2 41.5h0.9M12.3 39.2h0.9M34.1 42.5h0.9M29.6 42.0h0.9M22.7 46.2h0.9M24.9 38.7h0.9M30.9 47.9h0.9M25.6 40.8h0.9M24.4 43.0h0.9M39.6 40.7h0.9M19.4 40.0h0.9M32.6 43.3h0.9M26.7 46.4h0.9M25.7 38.1h0.9M20.3 39.4h0.9M17.1 44.7h0.9M12.3 41.0h0.9M36.6 38.3h0.9M13.9 42.9h0.9M15.8 41.7h0.9M19.8 43.3h0.9M17.5 47.3h0.9M18.5 38.5h0.9M11.7 40.7h0.9M45.0 40.0h0.9M19.4 39.3h0.9M23.7 43.4h0.9M38.2 44.6h0.9M29.2 41.8h0.9M28.8 44.3h0.9M31.0 41.0h0.9M26.1 41.3h0.9M34.5 42.4h0.9M22.2 37.9h0.9M22.1 45.4h0.9M30.4 40.3h0.9M24.6 41.6h0.9M33.8 44.4h0.9M30.1 41.0h0.9M33.1 46.7h0.9M27.5 47.1h0.9M22.1 43.7h0.9M19.1 41.9h0.9M27.1 35.5h0.9M18.0 44.8h0.9M20.4 44.3h0.9M36.7 42.0h0.9M13.6 41.0h0.9M24.7 40.1h0.9M10.6 44.5h0.9M34.2 39.0h0.9M42.5 42.5h0.9M8.9 40.0h0.9M33.3 45.7h0.9M29.7 40.8h0.9M23.9 43.0h0.9M25.6 42.0h0.9M16.9 42.8h0.9M33.1 48.5h0.9M31.8 41.8h0.9M22.7 41.4h0.9M31.8 43.6h0.9M30.9 44.7h0.9M23.0 43.1h0.9M17.0 39.5h0.9M15.9 40.3h0.9M24.3 46.0h0.9M11.0 48.3h0.9M19.6 40.6h0.9M23.4 48.8h0.9M23.7 42.3h0.9M16.9 45.1h0.9M26.5 39.5h0.9M23.3 41.9h0.9M23.6 42.8h0.9M22.3 46.4h0.9M37.3 46.2h0.9M21.1 41.0h0.9M29.5 41.9h0.9" stroke="#444" stroke-width="0.9" opacity="0.6"/>
<path d="M49.8 37.3h0.9M54.2 35.1h0.9M41.0 34.2h0.9M42.1 39.4h0.9M48.2 38.9h0.9M39.6 32.7h0.9M50.5 25.8h0.9M43.1 28.5h0.9M43.6 42.6h0.9M46.4 30.1h0.9M49.0 39.7h0.9M43.5 38.4h0.9M42.7 38.2h0.9M55.3 35.5h0.9M49.8 33.6h0.9M43.9 27.2h0.9M52.2 33.5h0.9M44.9 33.2h0.9M53.1 39.9h0.9M48.4 36.8h0.9M50.4 28.1h0.9M42.4 29.5h0.9M53.9 29.6h0.9M24.3 44.2h0.9M41.9 33.4h0.9M41.6 43.9h0.9M47.2 28.6h0.9M42.8 31.3h0.9M47.5 36.3h0.9M43.7 29.2h0.9M53.4 28.5h0.9M37.8 38.6h0.9M44.9 39.4h0.9M46.4 28.2h0.9M50.1 35.1h0.9M49.9 27.7h0.9M61.3 37.5h0.9M43.1 39.0h0.9M57.2 38.1h0.9M45.4 36.8h0.9M52.5 34.4h0.9M47.7 39.5h0.9M46.3 34.4h0.9M39.4 40.1h0.9M47.7 30.4h0.9M41.1 38.8h0.9M53.4 28.0h0.9M57.6 37.4h0.9M47.7 36.8h0.9M45.4 38.2h0.9M46.9 34.6h0.9M55.3 27.6h0.9M52.0 36.9h0.9M41.9 33.0h0.9M56.3 33.9h0.9M47.0 37.0h0.9M39.1 31.4h0.9M48.5 29.1h0.9M30.3 27.3h0.9M50.4 36.9h0.9M44.2 32.8h0.9M46.4 32.3h0.9M42.2 42.4h0.9M33.5 23.8h0.9M42.3 32.8h0.9M50.7 37.4h0.9M35.6 35.2h0.9M45.9 36.1h0.9M56.7 35.8h0.9M58.3 30.0h0.9M52.3 32.5h0.9M42.4 33.1h0.9M50.5 32.1h0.9M53.2 44.8h0.9M53.4 33.0h0.9M55.6 30.8h0.9M50.4 38.2h0.9M39.8 36.6h0.9M45.8 30.4h0.9M47.0 34.9h0.9M46.2 35.3h0.9M54.5 33.9h0.9M37.5 34.5h0.9M53.6 29.8h0.9M45.0 39.7h0.9M50.9 40.6h0.9M43.8 40.3h0.9M49.7 38.1h0.9M40.2 31.7h0.9M51.7 41.1h0.9M55.2 31.7h0.9M44.5 40.8h0.9M46.7 39.6h0.9M30.3 31.6h0.9M40.2 36.2h0.9M49.5 36.2h0.9M43.4 28.0h0.9M46.8 39.3h0.9M46.6 32.7h0.9M54.3 38.6h0.9M40.7 34.7h0.9M59.9 37.8h0.9M57.8 37.7h0.9M48.5 36.6h0.9M62.1 37.4h0.9M51.4 29.7h0.9M46.3 39.1h0.9M49.5 38.2h0.9M47.0 36.2h0.9M40.8 29.8h0.9M49.7 39.5h0.9M33.8 33.5h0.9M49.7 16.9h0.9M50.6 35.5h0.9M36.8 34.5h0.9M55.1 31.7h0.9M51.7 37.5h0.9M45.5 31.5h0.9M49.9 40.5h0.9M54.9 37.4h0.9M56.7 44.0h0.9M33.7 30.1h0.9M38.4 41.0h0.9M42.7 39.1h0.9M45.7 34.1h0.9M48.8 34.8h0.9M44.6 33.0h0.9M36.6 34.1h0.9M50.1 22.0h0.9M49.0 28.7h0.9M55.3 38.0h0.9M49.3 25.6h0.9M55.4 38.7h0.9M38.6 27.3h0.9M44.3 25.6h0.9M51.5 42.9h0.9M46.3 37.8h0.9M47.0 34.6h0.9M54.6 37.4h0.9M47.6 39.3h0.9M49.2 35.7h0.9M48.9 27.8h0.9M50.2 37.7h0.9M46.0 28.1h0.9M51.4 36.8h0.9M46.9 37.9h0.9M50.1 32.3h0.9M37.8 38.7h0.9M50.0 27.3h0.9M49.0 32.8h0.9M44.2 38.7h0.9M53.0 30.3h0.9M42.4 32.7h0.9M54.6 38.2h0.9M34.5 36.9h0.9M41.5 31.9h0.9M54.0 32.3h0.9M57.1 26.1h0.9M48.7 38.2h0.9M52.2 35.4h0.9M49.4 33.9h0.9M48.3 40.7h0.9M40.7 32.5h0.9M45.5 32.1h0.9M44.9 31.9h0.9M47.8 33.1h0.9M39.2 33.5h0.9M42.1 33.0h0.9M43.4 31.0h0.9M62.4 39.7h0.9M51.5 36.4h0.9M52.6 37.9h0.9M38.6 35.7h0.9M49.8 41.1h0.9M45.4 31.5h0.9M49.3 32.3h0.9M50.9 36.6h0.9M40.8 40.9h0.9M35.8 31.9h0.9M49.6 36.6h0.9M35.0 42.0h0.9M47.5 33.9h0.9M41.4 43.7h0.9M45.7 34.3h0.9M54.2 32.6h0.9M46.6 34.3h0.9M45.5 36.5h0.9M44.5 38.9h0.9M45.7 36.3h0.9M52.6 48.8h0.9M48.0 28.3h0.9M45.7 31.7h0.9M55.8 32.1h0.9M52.6 34.6h0.9M49.9 28.8h0.9M60.4 34.4h0.9M38.2 34.1h0.9M42.6 37.0h0.9M36.5 35.8h0.9M53.2 38.6h0.9M49.1 40.5h0.9M46.8 29.3h0.9M39.6 33.1h0.9M38.3 31.3h0.9M46.2 36.0h0.9M46.6 32.4h0.9M43.4 35.4h0.9M50.3 25.2h0.9M51.8 38.2h0.9M47.3 28.1h0.9M54.6 30.9h0.9M56.6 41.9h0.9M53.3 27.2h0.9M46.4 40.7h0.9M42.0 35.9h0.9M46.8 32.5h0.9M50.4 25.5h0.9M51.0 27.3h0.9M45.0 41.6h0.9M54.8 33.0h0.9M32.4 37.0h0.9M41.2 27.9h0.9M41.1 41.6h0.9M49.7 27.2h0.9M37.0 34.6h0.9M46.6 31.7h0.9M52.0 34.3h0.9M51.8 33.3h0.9M51.5 30.4h0.9M43.9 24.1h0.9M50.7 39.3h0.9M43.2 31.2h0.9M50.2 34.9h0.9M54.8 45.0h0.9M48.7 33.6h0.9M44.4 34.4h0.9M52.7 34.1h0.9M38.5 38.3h0.9M37.1 45.7h0.9M35.0 29.1h0.9M42.0 38.0h0.9M53.1 34.7h0.9M56.1 24.6h0.9M34.1 40.6h0.9M32.9 32.6h0.9M49.0 39.9h0.9M42.4 29.9h0.9M31.7 46.1h0.9M36.7 37.0h0.9M41.1 41.3h0.9M52.5 36.0h0.9M39.7 39.6h0.9M47.9 31.7h0.9M37.8 35.4h0.9M53.4 30.2h0.9M48.5 30.3h0.9M54.5 30.9h0.9M58.1 28.0h0.9M39.4 40.8h0.9M45.0 37.5h0.9M42.0 37.1h0.9M38.4 34.8h0.9M44.1 25.8h0.9M50.2 43.4h0.9M49.3 44.3h0.9M46.5 27.0h0.9M45.5 36.9h0.9M46.2 40.9h0.9M46.2 39.0h0.9M55.5 29.5h0.9M59.9 39.6h0.9M49.4 34.1h0.9M42.7 34.4h0.9M30.5 43.6h0.9M54.4 30.1h0.9M57.9 21.0h0.9M38.0 26.2h0.9M40.7 41.7h0.9M50.2 27.8h0.9M60.9 31.7h0.9M53.7 31.0h0.9M40.3 41.4h0.9M47.7 40.2h0.9M44.7 33.8h0.9M47.0 33.5h0.9M53.0 40.6h0.9M48.6 26.3h0.9M38.9 36.5h0.9M46.2 35.9h0.9M45.4 35.7h0.9M49.0 34.3h0.9M56.4 29.4h0.9M48.8 39.1h0.9M49.9 36.6h0.9M39.7 27.4h0.9M49.0 29.2h0.9M41.7 46.7h0.9M43.3 30.3h0.9M59.1 41.6h0.9M46.0 27.7h0.9" stroke="#333" stroke-width="0.9" opacity="0.55"/>
<path d="M46.5 31.9h0.9M55.7 35.6h0.9M51.3 35.9h0.9M40.6 41.5h0.9M49.7 34.7h0.9M49.0 31.6h0.9M49.9 35.7h0.9M52.3 35.1h0.9M56.1 32.0h0.9M49.8 34.1h0.9M45.7 34.3h0.9M44.6 38.7h0.9M47.4 31.6h0.9M43.8 39.3h0.9M56.8 34.9h0.9M41.0 33.6h0.9M49.7 33.4h0.9M45.0 36.7h0.9M58.6 38.4h0.9M52.8 36.0h0.9M42.8 31.5h0.9M47.4 31.7h0.9M49.3 35.8h0.9M40.6 27.5h0.9M50.6 29.6h0.9M58.0 35.2h0.9M43.8 30.9h0.9M57.8 30.0h0.9M46.5 37.9h0.9M51.4 38.9h0.9M51.2 33.0h0.9M54.6 32.2h0.9M43.5 32.8h0.9M42.7 36.9h0.9M43.2 33.4h0.9M50.6 32.9h0.9M42.5 36.2h0.9M48.3 32.4h0.9M47.5 33.9h0.9M50.2 36.3h0.9M45.8 34.6h0.9M42.1 36.6h0.9M49.3 34.0h0.9M52.8 35.7h0.9M43.7 32.6h0.9M49.1 31.2h0.9M47.9 42.0h0.9M46.4 33.7h0.9M53.1 31.9h0.9M42.7 38.0h0.9M55.6 37.3h0.9M48.1 32.3h0.9M40.8 32.1h0.9M46.4 31.9h0.9M45.9 31.7h0.9M53.1 28.6h0.9M43.2 37.6h0.9M48.2 36.5h0.9M55.2 31.4h0.9M46.2 36.2h0.9M48.2 35.3h0.9M45.1 30.3h0.9M45.7 31.8h0.9M43.9 37.9h0.9M37.9 35.7h0.9M52.9 32.0h0.9M43.9 33.2h0.9M48.0 34.2h0.9M51.8 35.4h0.9M53.4 31.5h0.9M53.5 35.2h0.9M52.1 33.4h0.9M50.1 37.9h0.9M43.5 34.8h0.9M45.0 36.9h0.9M47.5 33.2h0.9M46.8 30.2h0.9M58.3 39.0h0.9M41.4 39.2h0.9M54.6 27.7h0.9M47.3 36.8h0.9M44.5 35.0h0.9M49.7 35.1h0.9M49.8 36.5h0.9M50.1 38.8h0.9M46.1 39.9h0.9M54.3 32.9h0.9M52.5 36.3h0.9M47.3 35.9h0.9M45.2 36.5h0.9M49.3 29.9h0.9M40.4 35.7h0.9M47.7 33.4h0.9M53.4 27.9h0.9M48.2 34.5h0.9M50.1 39.1h0.9M50.0 30.1h0.9M54.0 31.6h0.9M49.6 32.1h0.9M38.0 32.4h0.9M46.1 38.0h0.9M42.3 37.9h0.9M57.4 35.1h0.9M51.9 33.5h0.9M38.5 36.9h0.9M50.3 33.5h0.9M42.5 36.5h0.9M51.6 31.5h0.9M42.0 30.6h0.9M46.9 38.8h0.9M52.9 37.8h0.9M46.2 37.7h0.9M52.1 38.1h0.9M43.8 30.8h0.9M41.5 38.7h0.9M50.2 36.4h0.9M38.0 33.3h0.9M43.2 35.9h0.9M47.1 32.2h0.9M44.4 37.1h0.9M50.7 30.0h0.9M42.9 35.4h0.9M47.5 32.7h0.9M60.4 31.1h0.9M45.5 32.3h0.9M54.5 34.9h0.9M40.1 40.0h0.9M49.8 34.5h0.9M50.9 30.2h0.9M41.2 32.9h0.9M38.3 35.7h0.9M53.9 35.4h0.9M54.8 45.0h0.9M51.2 34.9h0.9M43.3 35.2h0.9M49.5 32.6h0.9M50.5 34.0h0.9M52.0 37.2h0.9M48.6 34.9h0.9M41.6 33.8h0.9M48.1 35.7h0.9M40.2 36.8h0.9M48.4 34.3h0.9M51.3 34.1h0.9M46.7 33.1h0.9M45.1 30.9h0.9M39.5 33.4h0.9M53.6 36.9h0.9M34.4 37.8h0.9M42.4 33.3h0.9M50.6 40.4h0.9M43.6 35.5h0.9M51.7 33.3h0.9M44.0 27.8h0.9M46.8 35.4h0.9M48.3 29.9h0.9M52.2 35.4h0.9M40.8 41.5h0.9M51.3 33.8h0.9M41.5 38.7h0.9M48.6 39.0h0.9M42.6 35.6h0.9M50.2 34.9h0.9M52.8 34.7h0.9M48.4 33.3h0.9M47.4 35.5h0.9M53.1 32.2h0.9M50.4 34.2h0.9M45.7 30.7h0.9M46.1 32.9h0.9M48.0 32.1h0.9M46.3 31.1h0.9M57.9 32.6h0.9M47.0 32.7h0.9M50.5 36.3h0.9M44.6 37.7h0.9M41.0 34.9h0.9M44.3 34.4h0.9M42.8 34.1h0.9M46.7 35.0h0.9M44.0 28.9h0.9M52.8 33.2h0.9M45.2 32.7h0.9M39.8 35.3h0.9M54.5 31.3h0.9M52.9 30.6h0.9M54.2 40.3h0.9M50.2 30.0h0.9M47.9 34.2h0.9M53.8 36.4h0.9M48.4 36.2h0.9M42.6 38.0h0.9M45.9 35.0h0.9M50.7 33.9h0.9M50.9 30.9h0.9M42.7 37.2h0.9M46.3 36.1h0.9M35.0 39.3h0.9M44.8 36.1h0.9" stroke="#111" stroke-width="0.9" opacity="0.6"/>
<path d="M52.9 33.4h0.9M55.9 42.8h0.9M53.8 39.0h0.9M53.2 37.3h0.9M53.0 39.9h0.9M58.0 47.8h0.9M53.3 39.0h0.9M52.3 33.2h0.9M40.1 40.5h0.9M36.9 22.8h0.9M25.6 43.1h0.9M54.7 46.6h0.9M48.7 46.7h0.9M58.7 46.8h0.9M46.0 33.9h0.9M33.3 46.3h0.9M53.0 47.7h0.9M50.4 33.8h0.9M36.1 48.3h0.9M58.0 37.0h0.9M49.0 36.3h0.9M33.0 41.0h0.9M59.2 44.6h0.9M54.0 26.9h0.9M28.9 45.4h0.9M52.6 47.9h0.9M52.4 46.9h0.9M49.6 47.1h0.9M32.9 46.7h0.9M57.5 37.7h0.9M56.2 47.7h0.9M41.3 33.1h0.9M44.6 49.1h0.9M54.5 47.4h0.9M53.8 31.9h0.9M54.6 45.0h0.9M47.9 32.8h0.9M37.6 46.8h0.9M31.9 31.8h0.9M38.9 48.7h0.9M32.0 47.3h0.9M44.6 23.1h0.9M36.0 46.4h0.9M40.0 39.8h0.9M39.7 37.3h0.9M59.1 34.5h0.9M57.3 44.8h0.9M47.0 52.2h0.9M29.2 44.8h0.9M45.0 47.5h0.9M47.2 49.1h0.9M32.7 46.5h0.9M34.7 43.9h0.9M24.1 39.3h0.9M50.7 35.9h0.9M53.2 40.5h0.9M35.4 46.8h0.9M39.7 40.8h0.9M51.0 48.6h0.9M34.5 46.1h0.9M38.0 40.9h0.9M34.5 47.0h0.9M36.2 44.2h0.9M53.5 37.2h0.9M53.6 40.7h0.9M32.7 39.0h0.9M41.0 51.9h0.9M54.7 39.5h0.9M45.7 21.2h0.9M39.4 49.1h0.9M31.5 37.1h0.9M29.9 45.8h0.9M44.8 48.2h0.9M38.6 28.0h0.9M45.3 36.7h0.9M26.2 33.1h0.9M43.6 34.0h0.9M45.5 34.1h0.9M51.2 35.3h0.9M22.4 43.9h0.9M26.7 41.0h0.9M61.3 29.0h0.9M36.1 47.8h0.9M51.3 47.2h0.9M40.4 47.2h0.9M54.0 45.7h0.9M57.7 31.6h0.9M54.1 34.6h0.9M56.7 35.3h0.9M43.8 35.5h0.9M51.4 33.3h0.9M35.0 45.9h0.9M53.5 42.5h0.9M53.6 35.2h0.9M52.0 21.7h0.9M33.6 45.0h0.9M36.8 47.3h0.9M37.7 47.7h0.9M28.9 29.4h0.9M53.9 41.8h0.9M33.8 39.4h0.9M59.9 40.7h0.9M34.4 37.9h0.9M27.3 44.5h0.9M32.6 46.1h0.9M36.2 46.9h0.9M25.6 45.2h0.9M41.3 48.0h0.9M54.2 46.7h0.9M32.5 45.3h0.9M50.7 29.5h0.9M44.9 34.7h0.9M40.8 51.4h0.9M53.1 45.1h0.9M30.8 45.4h0.9M60.0 35.8h0.9M29.9 40.0h0.9M51.9 32.2h0.9M49.9 33.9h0.9M36.5 47.8h0.9M54.5 37.9h0.9M39.9 40.6h0.9M28.4 45.5h0.9M52.8 36.5h0.9M31.4 27.0h0.9M37.4 49.0h0.9M46.8 37.3h0.9M44.5 36.8h0.9M58.9 36.0h0.9M35.9 43.7h0.9M53.4 42.4h0.9M58.1 28.2h0.9M48.5 47.7h0.9M41.6 21.7h0.9M53.9 47.3h0.9M55.3 48.1h0.9M55.9 39.5h0.9M28.2 45.6h0.9M36.6 29.1h0.9M41.7 35.7h0.9M55.9 36.5h0.9M39.1 47.9h0.9M53.5 35.1h0.9M54.2 40.3h0.9M51.5 35.2h0.9M54.5 44.0h0.9M56.5 33.1h0.9M42.1 34.0h0.9M61.7 30.4h0.9M35.3 38.7h0.9M48.8 47.8h0.9M52.4 48.2h0.9M37.3 48.3h0.9M52.2 31.7h0.9M51.4 20.9h0.9M37.7 42.2h0.9M30.3 47.0h0.9M24.2 37.7h0.9M28.4 43.3h0.9M59.3 45.5h0.9M49.2 36.0h0.9M50.5 48.0h0.9M60.2 43.3h0.9M26.9 44.8h0.9M35.5 47.3h0.9M49.3 28.9h0.9M48.7 36.1h0.9M53.8 45.7h0.9M35.8 39.8h0.9M54.5 25.6h0.9M54.0 43.9h0.9M24.0 41.9h0.9M22.7 41.6h0.9M49.4 32.9h0.9M55.7 43.9h0.9M55.5 35.0h0.9M42.6 38.2h0.9M52.6 49.1h0.9M51.1 47.1h0.9M55.6 48.4h0.9M53.7 43.1h0.9M35.3 40.8h0.9M36.6 44.2h0.9M55.0 44.1h0.9M48.3 32.9h0.9M49.2 36.0h0.9M54.4 41.2h0.9M43.8 48.1h0.9M38.8 37.9h0.9M39.6 47.4h0.9M56.4 38.0h0.9M53.0 44.8h0.9M37.1 43.0h0.9M41.4 49.6h0.9M52.2 33.6h0.9M62.0 35.5h0.9M57.5 34.4h0.9M43.5 36.8h0.9M55.1 39.9h0.9M54.7 39.3h0.9M51.9 47.1h0.9M56.5 44.5h0.9M53.9 31.8h0.9M41.9 31.5h0.9M51.7 33.6h0.9M37.7 33.8h0.9M43.7 48.0h0.9M35.4 39.6h0.9M49.7 36.3h0.9M54.7 45.8h0.9M56.0 48.1h0.9M28.5 35.3h0.9M53.8 31.4h0.9M52.4 25.1h0.9M39.1 48.4h0.9M52.9 29.8h0.9M54.3 30.0h0.9M44.6 38.5h0.9M52.2 34.8h0.9M52.4 46.9h0.9M40.0 42.0h0.9M34.3 46.7h0.9M53.2 21.8h0.9M54.5 37.9h0.9M44.9 48.2h0.9M48.7 36.9h0.9M61.6 35.2h0.9M35.2 46.9h0.9M44.3 49.1h0.9M55.6 42.0h0.9M53.2 26.7h0.9M57.3 28.8h0.9M52.9 43.4h0.9M57.3 44.9h0.9M37.4 47.5h0.9M41.3 49.5h0.9M57.3 24.2h0.9M30.7 47.1h0.9M37.0 47.0h0.9M41.1 26.8h0.9M48.4 35.1h0.9M27.1 37.9h0.9M28.1 39.7h0.9M52.3 46.6h0.9M52.6 33.8h0.9M55.0 33.9h0.9M35.5 51.5h0.9M56.4 40.4h0.9M38.6 51.5h0.9M49.5 32.3h0.9M52.3 43.3h0.9M53.1 45.4h0.9M47.7 48.0h0.9M33.4 48.7h0.9M38.6 39.4h0.9M55.5 31.2h0.9M55.2 37.9h0.9M52.1 47.1h0.9M61.1 29.7h0.9M30.8 45.8h0.9M43.6 48.0h0.9M52.9 36.3h0.9M43.9 48.2h0.9M38.1 47.1h0.9M53.6 42.6h0.9M56.3 38.4h0.9M54.2 45.4h0.9M26.0 46.5h0.9M42.2 47.5h0.9M60.0 24.2h0.9M44.1 39.4h0.9M59.2 37.9h0.9M55.1 38.4h0.9M36.4 47.5h0.9M29.4 33.0h0.9M41.5 35.7h0.9M54.9 33.9h0.9M32.9 46.5h0.9M52.1 45.2h0.9M37.5 39.4h0.9M37.0 47.4h0.9M38.1 36.6h0.9M31.2 39.0h0.9M55.1 37.2h0.9M40.9 26.1h0.9M35.0 48.3h0.9M36.9 47.4h0.9M54.0 28.3h0.9M25.2 38.0h0.9M33.4 45.1h0.9M46.0 36.4h0.9M59.6 31.8h0.9M27.5 38.0h0.9M30.0 47.3h0.9M43.2 37.5h0.9M52.7 36.6h0.9M44.4 49.7h0.9M39.8 40.0h0.9M51.7 28.7h0.9M45.7 33.3h0.9M54.3 34.4h0.9M52.8 45.8h0.9M30.4 45.9h0.9M48.6 32.1h0.9M51.6 35.0h0.9M53.0 46.4h0.9M52.6 34.7h0.9M53.6 37.7h0.9M55.7 43.6h0.9M42.3 21.3h0.9M48.8 24.0h0.9M43.5 47.7h0.9M53.8 37.0h0.9M33.9 46.9h0.9M55.0 40.9h0.9M23.0 41.2h0.9M34.8 46.8h0.9M47.9 48.7h0.9M54.5 46.2h0.9M36.3 44.1h0.9M31.7 39.0h0.9M35.0 46.2h0.9M38.4 49.1h0.9M43.5 48.2h0.9M52.0 47.0h0.9M33.3 46.0h0.9M40.0 40.0h0.9M43.7 26.4h0.9M36.1 42.6h0.9M37.7 42.7h0.9M52.9 38.9h0.9M52.9 36.6h0.9M44.2 52.1h0.9M29.6 49.0h0.9M36.2 31.5h0.9M41.4 39.1h0.9M22.7 44.2h0.9M53.7 36.4h0.9M46.6 51.6h0.9M53.1 29.3h0.9M51.0 33.4h0.9M24.6 37.6h0.9M55.0 47.6h0.9M35.6 46.9h0.9M33.2 44.3h0.9M52.2 32.8h0.9M57.5 43.0h0.9M57.6 26.5h0.9M24.6 44.7h0.9M56.2 40.1h0.9M55.2 40.4h0.9M36.2 46.8h0.9M32.7 46.1h0.9M30.8 45.4h0.9M58.0 33.5h0.9M54.8 41.2h0.9M32.4 45.7h0.9M52.8 43.9h0.9M29.1 39.4h0.9M27.9 42.2h0.9M56.0 42.2h0.9M59.1 30.5h0.9M55.4 38.1h0.9M34.7 35.5h0.9M43.0 48.3h0.9M46.3 49.2h0.9M34.8 44.6h0.9M57.8 40.7h0.9M49.4 37.0h0.9M54.8 38.3h0.9M43.2 47.7h0.9M41.6 47.7h0.9M32.6 46.1h0.9M35.2 46.4h0.9M29.8 44.9h0.9M55.2 31.8h0.9M50.8 48.2h0.9M33.9 41.7h0.9M28.6 43.1h0.9M39.4 47.1h0.9M48.1 47.4h0.9M52.3 46.5h0.9M53.1 46.4h0.9M33.3 47.6h0.9M34.8 47.9h0.9M50.5 32.1h0.9M53.6 40.4h0.9M42.8 48.2h0.9M53.7 39.3h0.9M36.5 44.4h0.9M52.3 37.3h0.9M42.6 51.8h0.9M31.2 44.1h0.9M31.9 41.6h0.9M50.7 34.9h0.9M26.0 34.2h0.9M61.4 32.1h0.9M37.5 47.6h0.9M34.7 45.9h0.9M41.0 34.8h0.9M45.8 26.8h0.9M53.1 36.1h0.9M35.1 27.4h0.9M29.7 45.8h0.9M54.6 39.0h0.9M42.1 31.3h0.9M43.7 47.8h0.9M49.8 47.8h0.9M35.6 44.3h0.9M52.6 42.8h0.9M45.0 37.5h0.9M37.5 47.3h0.9M35.3 46.4h0.9M28.6 38.5h0.9M32.9 44.8h0.9M59.9 41.7h0.9M45.2 49.3h0.9M22.7 43.6h0.9M38.6 42.9h0.9M35.6 48.6h0.9" stroke="#222" stroke-width="0.9" opacity="0.5"/>
<path d="M35.00,46.00 C35.00,45.17 37.42,43.28 39.00,42.00 C40.58,40.72 42.67,39.27 44.50,38.30 C46.33,37.33 48.52,36.45 50.00,36.20 C51.48,35.95 52.87,35.92 53.40,36.80 C53.93,37.68 53.43,39.88 53.20,41.50 C52.97,43.12 53.20,45.55 52.00,46.50 C50.80,47.45 48.17,47.12 46.00,47.20 C43.83,47.28 40.83,47.20 39.00,47.00 C37.17,46.80 35.00,46.83 35.00,46.00Z" transform="translate(0,0)" fill="#0a0a0a" stroke="#0a0a0a" stroke-width="4.4" stroke-linejoin="round" filter="url(#fz)"/>
<path d="M35.00,46.00 C35.00,45.17 37.42,43.28 39.00,42.00 C40.58,40.72 42.67,39.27 44.50,38.30 C46.33,37.33 48.52,36.45 50.00,36.20 C51.48,35.95 52.87,35.92 53.40,36.80 C53.93,37.68 53.43,39.88 53.20,41.50 C52.97,43.12 53.20,45.55 52.00,46.50 C50.80,47.45 48.17,47.12 46.00,47.20 C43.83,47.28 40.83,47.20 39.00,47.00 C37.17,46.80 35.00,46.83 35.00,46.00Z" transform="translate(-0.5,-2.5)" fill="#0a0a0a" stroke="#0a0a0a" stroke-width="4.4" stroke-linejoin="round" filter="url(#fz)"/>
<path d="M35.00,46.00 C35.00,45.17 37.42,43.28 39.00,42.00 C40.58,40.72 42.67,39.27 44.50,38.30 C46.33,37.33 48.52,36.45 50.00,36.20 C51.48,35.95 52.87,35.92 53.40,36.80 C53.93,37.68 53.43,39.88 53.20,41.50 C52.97,43.12 53.20,45.55 52.00,46.50 C50.80,47.45 48.17,47.12 46.00,47.20 C43.83,47.28 40.83,47.20 39.00,47.00 C37.17,46.80 35.00,46.83 35.00,46.00Z" fill="#050505" stroke="#050505" stroke-width="3.4000000000000004" stroke-linejoin="round"/>
<path d="M53.6 43.5h0.9M41.2 36.1h0.9M54.4 45.5h0.9M52.8 45.5h0.9M50.6 34.5h0.9M53.6 38.2h0.9M52.6 44.3h0.9M45.7 48.6h0.9M55.9 40.4h0.9M28.8 41.4h0.9M53.2 36.4h0.9M37.6 47.6h0.9M54.1 42.1h0.9M53.9 41.8h0.9M52.9 43.8h0.9M46.5 37.0h0.9M45.2 48.1h0.9M37.2 46.3h0.9M56.1 39.6h0.9M36.4 46.8h0.9M53.7 31.9h0.9M47.2 35.9h0.9M52.1 29.1h0.9M54.7 38.6h0.9M53.8 37.1h0.9M32.8 37.9h0.9M30.9 39.0h0.9M38.4 40.2h0.9M43.9 48.0h0.9M55.0 36.8h0.9M53.5 42.7h0.9M31.6 46.0h0.9M35.9 47.0h0.9M42.2 48.4h0.9M41.9 33.6h0.9M37.1 47.5h0.9M36.5 44.6h0.9M38.2 48.0h0.9M52.1 47.3h0.9M28.9 45.0h0.9M51.7 34.7h0.9M31.1 37.8h0.9M30.4 44.2h0.9M50.2 35.5h0.9M53.2 27.9h0.9M52.3 31.2h0.9M54.8 41.0h0.9M52.5 46.6h0.9M52.5 28.1h0.9M31.1 45.7h0.9M34.7 39.9h0.9M33.0 45.6h0.9M35.1 45.8h0.9M42.2 47.7h0.9M55.2 43.9h0.9M29.4 43.7h0.9M44.4 28.2h0.9M44.0 48.0h0.9M34.4 41.4h0.9M54.9 45.7h0.9M56.0 40.3h0.9M53.9 38.2h0.9M34.7 46.5h0.9M42.3 47.4h0.9M53.9 36.0h0.9M53.3 39.5h0.9M35.9 44.7h0.9M38.9 41.9h0.9M49.4 47.7h0.9M53.7 38.1h0.9M42.4 48.6h0.9M48.2 30.9h0.9M45.2 38.0h0.9M47.3 48.7h0.9M51.1 47.1h0.9M33.5 36.3h0.9M51.3 32.1h0.9M39.4 47.9h0.9M28.3 44.6h0.9M33.3 43.1h0.9M41.5 35.5h0.9M51.2 46.4h0.9M31.1 46.1h0.9M55.8 41.8h0.9M29.6 45.2h0.9M56.2 38.8h0.9M45.8 27.3h0.9M38.1 41.5h0.9M35.8 44.1h0.9M36.2 47.2h0.9M34.7 46.6h0.9M55.1 37.9h0.9M33.6 34.7h0.9M38.7 48.0h0.9M30.3 38.7h0.9M34.0 45.5h0.9M33.2 37.9h0.9M51.8 27.9h0.9M55.0 42.8h0.9M52.3 43.9h0.9M50.1 33.1h0.9M54.0 43.4h0.9M50.4 35.9h0.9M49.8 47.2h0.9M55.4 33.8h0.9M54.6 37.3h0.9M53.3 27.8h0.9M33.9 44.9h0.9M47.0 48.4h0.9M40.0 40.7h0.9M53.5 43.4h0.9M39.3 47.9h0.9M50.6 30.2h0.9M38.8 35.3h0.9M48.6 47.1h0.9M53.1 46.2h0.9M42.8 35.0h0.9M46.0 37.4h0.9M35.1 38.7h0.9M36.6 46.9h0.9M49.3 47.1h0.9M40.0 31.9h0.9M55.4 36.1h0.9M36.0 32.1h0.9M51.3 47.6h0.9M48.5 37.1h0.9M40.3 29.8h0.9M45.7 47.7h0.9M54.8 43.0h0.9M54.2 41.0h0.9M41.4 47.3h0.9M52.3 47.1h0.9M35.1 46.7h0.9M53.2 38.2h0.9M33.2 39.0h0.9M50.5 32.2h0.9M50.4 36.0h0.9M51.9 28.3h0.9M43.5 35.5h0.9M42.5 48.2h0.9M39.9 48.6h0.9M54.2 41.2h0.9M44.8 48.7h0.9M44.6 48.3h0.9M48.1 47.4h0.9M51.8 46.5h0.9M56.2 32.1h0.9M40.4 32.0h0.9M54.2 45.7h0.9M39.7 47.1h0.9M43.4 38.9h0.9M57.6 36.3h0.9M54.0 31.8h0.9M47.4 36.1h0.9M55.0 34.1h0.9M45.7 48.7h0.9M53.2 37.3h0.9M36.5 46.9h0.9M33.2 38.6h0.9M50.0 30.1h0.9M52.8 31.8h0.9M53.4 42.7h0.9M53.6 46.7h0.9M51.3 27.7h0.9M35.8 44.6h0.9M35.4 46.2h0.9M32.0 39.0h0.9M41.9 38.6h0.9M28.8 43.6h0.9M34.8 45.8h0.9M54.9 42.1h0.9M54.8 30.0h0.9M32.1 38.9h0.9M56.1 35.7h0.9M55.1 44.8h0.9M36.1 46.0h0.9M35.5 46.6h0.9M52.7 32.0h0.9M39.4 40.8h0.9M55.1 45.2h0.9M37.7 46.5h0.9M38.1 43.3h0.9M34.9 42.1h0.9M36.8 46.7h0.9M57.1 37.6h0.9M34.7 46.5h0.9M55.4 36.4h0.9M54.4 40.4h0.9M37.6 47.3h0.9M47.1 37.2h0.9M40.9 47.3h0.9M54.9 44.8h0.9M56.4 38.7h0.9M55.2 28.4h0.9M56.8 35.4h0.9M53.5 36.1h0.9M53.7 40.4h0.9M49.1 27.8h0.9M37.6 37.5h0.9M38.0 42.9h0.9M53.9 28.3h0.9M56.1 32.2h0.9M41.0 40.0h0.9M51.6 28.1h0.9M31.5 42.8h0.9M37.8 48.0h0.9M42.5 48.2h0.9M50.9 28.6h0.9M51.3 27.4h0.9M47.3 36.6h0.9" stroke="#000" stroke-width="0.9" opacity="0.85"/>
<path d="M35.00,46.00 C35.00,45.17 37.42,43.28 39.00,42.00 C40.58,40.72 42.67,39.27 44.50,38.30 C46.33,37.33 48.52,36.45 50.00,36.20 C51.48,35.95 52.87,35.92 53.40,36.80 C53.93,37.68 53.43,39.88 53.20,41.50 C52.97,43.12 53.20,45.55 52.00,46.50 C50.80,47.45 48.17,47.12 46.00,47.20 C43.83,47.28 40.83,47.20 39.00,47.00 C37.17,46.80 35.00,46.83 35.00,46.00Z" fill="#dedede" stroke="#f4f4f4" stroke-width="0.9"/>
<path d="M38.25,44.83 C38.18,44.22 39.82,43.05 40.92,42.14 C42.02,41.23 43.59,40.07 44.85,39.36 C46.11,38.65 47.38,37.99 48.46,37.88 C49.55,37.78 50.93,38.10 51.37,38.73 C51.80,39.35 51.28,40.51 51.08,41.63 C50.88,42.75 50.99,44.81 50.17,45.45 C49.34,46.09 47.59,45.43 46.11,45.49 C44.64,45.55 42.64,45.91 41.33,45.80 C40.02,45.69 38.32,45.44 38.25,44.83Z" fill="none" stroke="#f2f2f2" stroke-width="0.55" opacity="1"/>
<path d="M41.00,44.23 C40.98,43.83 41.75,42.63 42.47,42.00 C43.19,41.37 44.43,40.83 45.31,40.45 C46.19,40.07 47.07,39.85 47.76,39.72 C48.45,39.60 49.22,39.27 49.44,39.69 C49.66,40.12 49.23,41.55 49.08,42.26 C48.93,42.97 49.13,43.56 48.56,43.95 C47.98,44.33 46.63,44.48 45.63,44.56 C44.63,44.63 43.33,44.46 42.56,44.41 C41.79,44.35 41.01,44.63 41.00,44.23Z" fill="none" stroke="#f2f2f2" stroke-width="0.55" opacity="1"/>
<path d="M43.60,42.83 C43.53,42.69 43.87,42.78 44.20,42.58 C44.54,42.39 45.21,41.83 45.61,41.63 C46.01,41.43 46.30,41.39 46.59,41.37 C46.88,41.34 47.29,41.37 47.36,41.50 C47.43,41.63 47.01,41.86 47.00,42.14 C47.00,42.42 47.47,42.98 47.32,43.18 C47.16,43.37 46.51,43.29 46.07,43.33 C45.63,43.37 45.07,43.51 44.66,43.42 C44.25,43.34 43.68,42.97 43.60,42.83Z" fill="none" stroke="#f2f2f2" stroke-width="0.55" opacity="1"/>
<path d="M38.18,45.10 C38.17,44.51 39.85,42.96 40.93,42.00 C42.01,41.04 43.39,39.95 44.66,39.33 C45.94,38.71 47.50,38.40 48.58,38.29 C49.66,38.17 50.74,38.09 51.15,38.65 C51.56,39.20 51.25,40.52 51.02,41.64 C50.80,42.76 50.60,44.70 49.78,45.36 C48.97,46.02 47.60,45.60 46.13,45.62 C44.66,45.64 42.29,45.58 40.96,45.49 C39.64,45.40 38.18,45.68 38.18,45.10Z" fill="none" stroke="#9a9a9a" stroke-width="0.4" opacity="1"/>
<path d="M40.95,43.98 C40.97,43.61 41.91,42.87 42.65,42.30 C43.39,41.72 44.57,41.01 45.39,40.52 C46.22,40.02 46.95,39.45 47.60,39.31 C48.25,39.16 49.06,39.24 49.31,39.64 C49.55,40.04 49.19,40.92 49.05,41.71 C48.91,42.51 49.01,43.89 48.45,44.41 C47.90,44.93 46.73,44.81 45.74,44.83 C44.75,44.85 43.30,44.67 42.50,44.53 C41.70,44.39 40.92,44.35 40.95,43.98Z" fill="none" stroke="#9a9a9a" stroke-width="0.4" opacity="1"/>
<path d="M43.02,43.33 C43.10,43.18 44.11,42.65 44.53,42.34 C44.95,42.03 45.17,41.68 45.54,41.45 C45.91,41.23 46.42,41.01 46.76,40.98 C47.10,40.95 47.49,41.05 47.56,41.28 C47.64,41.51 47.24,42.00 47.21,42.35 C47.18,42.69 47.56,43.09 47.38,43.33 C47.20,43.57 46.69,43.80 46.13,43.79 C45.57,43.77 44.54,43.32 44.02,43.25 C43.51,43.17 42.93,43.48 43.02,43.33Z" fill="none" stroke="#9a9a9a" stroke-width="0.4" opacity="1"/>
</g>
<rect x="96.5" y="204.5" width="64" height="59.5" fill="none" stroke="#666" stroke-width="1"/>
<text x="99.0" y="216.5" font-size="12.5" text-anchor="start" font-weight="normal" font-style="normal" fill="#111" >0.4</text>
<text x="157.5" y="216.5" font-size="12.5" text-anchor="end" font-weight="normal" font-style="normal" fill="#111" >7</text>
<text x="157.5" y="262.2" font-size="12.5" text-anchor="end" font-weight="normal" font-style="normal" fill="#111" >92</text>
<line x1="206.5" y1="204.5" x2="206.5" y2="264.0" stroke="#9a9a9a" stroke-width="1"/>
<line x1="174.5" y1="240.0" x2="238.5" y2="240.0" stroke="#9a9a9a" stroke-width="1"/>
<g transform="translate(174.5,204.5)">
<path d="M3.0,59.5v2.5 M5.6,59.5v1.5 M9.2,59.5v1.5 M13.8,59.5v2.5 M16.4,59.5v1.5 M20.0,59.5v1.5 M24.6,59.5v2.5 M27.2,59.5v1.5 M30.8,59.5v1.5 M35.4,59.5v2.5 M38.0,59.5v1.5 M41.6,59.5v1.5 M46.2,59.5v2.5 M48.8,59.5v1.5 M0,4.0h-2 M0,8.5h-1.2 M0,13.0h-1.2 M0,17.5h-2 M0,22.0h-1.2 M0,26.5h-1.2 M0,31.0h-2 M0,35.5h-1.2 M0,40.0h-1.2 M0,44.5h-2 M0,49.0h-1.2 M0,53.5h-1.2" stroke="#333" stroke-width="0.8"/>
<path d="M22.1 37.1h0.9M18.8 45.4h0.9M23.8 44.6h0.9M16.0 39.7h0.9M21.0 32.3h0.9M30.0 27.9h0.9M21.7 38.2h0.9M5.6 34.8h0.9M25.4 33.3h0.9M9.8 45.9h0.9M19.9 44.4h0.9M11.6 28.4h0.9M19.6 32.0h0.9M37.9 33.7h0.9M30.8 27.4h0.9M30.7 30.1h0.9M28.3 37.2h0.9M18.9 51.1h0.9M22.6 36.1h0.9M34.6 27.6h0.9M14.8 31.1h0.9M26.5 41.1h0.9M23.9 23.4h0.9M31.6 37.6h0.9M43.0 36.8h0.9M22.0 32.5h0.9M27.6 33.5h0.9M16.4 30.2h0.9M34.1 37.8h0.9M22.7 30.9h0.9M31.3 31.1h0.9M27.5 35.1h0.9M44.4 35.5h0.9M17.7 37.2h0.9M33.9 35.2h0.9M24.9 39.9h0.9M15.5 35.6h0.9M16.4 27.9h0.9M10.1 48.2h0.9M9.2 35.2h0.9M28.5 38.5h0.9M47.0 27.0h0.9M26.0 47.6h0.9M13.3 41.9h0.9M6.4 38.4h0.9M19.1 33.6h0.9M28.0 31.9h0.9M22.9 26.1h0.9M18.8 35.5h0.9M27.6 34.4h0.9M12.5 29.0h0.9M23.0 26.1h0.9M25.2 26.8h0.9M26.1 37.6h0.9M13.6 41.0h0.9M17.1 29.9h0.9M33.7 36.1h0.9M24.1 45.2h0.9M23.2 29.6h0.9M32.6 29.5h0.9M23.0 28.6h0.9M18.3 49.7h0.9M20.6 43.1h0.9M8.9 38.1h0.9M19.1 19.3h0.9M34.0 37.9h0.9M15.7 30.2h0.9M21.9 29.9h0.9M31.5 31.9h0.9M18.2 42.3h0.9M23.4 41.2h0.9M22.2 21.8h0.9M18.1 25.5h0.9M22.3 26.7h0.9M30.2 46.2h0.9M19.0 40.5h0.9M26.6 36.7h0.9M13.4 35.2h0.9M21.2 33.3h0.9M17.0 32.0h0.9M23.0 40.3h0.9M22.8 30.6h0.9M17.2 31.6h0.9M24.3 40.1h0.9M24.0 31.1h0.9M8.7 47.9h0.9M15.4 40.0h0.9M23.3 37.4h0.9M18.5 36.9h0.9M20.2 29.5h0.9M25.3 30.4h0.9M27.8 35.7h0.9M20.8 35.0h0.9M32.9 41.2h0.9M36.4 40.4h0.9M13.2 37.5h0.9M31.5 38.4h0.9M22.5 36.6h0.9M35.8 27.8h0.9M22.7 31.6h0.9M15.3 32.4h0.9M30.4 29.1h0.9M32.3 36.3h0.9M22.1 38.8h0.9M18.8 30.5h0.9M15.7 36.8h0.9M26.2 24.7h0.9M25.1 36.1h0.9M14.6 24.9h0.9M22.6 39.2h0.9M19.3 39.1h0.9M21.7 28.3h0.9M26.6 23.4h0.9M26.2 40.6h0.9M31.6 25.2h0.9M29.0 33.1h0.9M21.8 33.9h0.9M11.9 27.0h0.9M10.1 30.3h0.9M26.5 35.9h0.9M21.3 38.2h0.9M18.8 22.5h0.9M3.4 39.4h0.9M31.6 31.2h0.9M38.3 40.0h0.9M19.5 34.5h0.9M15.5 37.2h0.9M15.9 35.5h0.9M32.9 30.2h0.9M32.3 31.3h0.9M8.5 26.0h0.9M4.5 24.6h0.9M27.0 34.9h0.9M25.1 26.4h0.9M19.9 39.3h0.9M25.0 29.5h0.9M14.8 46.6h0.9M33.6 35.2h0.9M20.8 31.8h0.9M36.4 36.8h0.9M17.2 37.8h0.9M10.3 35.6h0.9M30.9 23.7h0.9M21.4 32.9h0.9M19.9 30.4h0.9M26.7 37.5h0.9M19.1 38.9h0.9M17.5 34.5h0.9M10.1 25.8h0.9M32.7 35.1h0.9M26.4 46.1h0.9M17.3 26.2h0.9M24.2 29.9h0.9M34.0 25.9h0.9M12.8 29.2h0.9M19.1 29.7h0.9M14.8 41.5h0.9M22.0 35.4h0.9M20.5 32.4h0.9M10.5 33.6h0.9M28.6 31.8h0.9M38.3 45.2h0.9M17.1 37.3h0.9M33.1 26.7h0.9M16.9 43.3h0.9M18.9 37.2h0.9M39.4 35.5h0.9M8.3 31.1h0.9M7.6 37.0h0.9M12.8 34.9h0.9M22.7 32.0h0.9M26.5 22.7h0.9M27.1 41.2h0.9M24.1 27.5h0.9M16.7 31.1h0.9M38.6 28.1h0.9M8.7 36.0h0.9M20.2 33.6h0.9M16.0 46.0h0.9M29.3 25.8h0.9M12.1 28.0h0.9M12.1 30.2h0.9M26.0 36.8h0.9M22.5 34.2h0.9M22.7 30.8h0.9M26.8 33.0h0.9M27.2 35.8h0.9M29.0 39.6h0.9M26.3 29.5h0.9M26.4 40.9h0.9M21.7 29.9h0.9M25.4 36.8h0.9M26.2 44.5h0.9M12.0 38.1h0.9M30.3 47.5h0.9M6.4 40.6h0.9M5.0 30.7h0.9M8.1 36.4h0.9M20.7 37.9h0.9M40.1 30.2h0.9M27.0 34.7h0.9M15.8 38.8h0.9M31.1 33.5h0.9M17.6 43.1h0.9M29.3 41.0h0.9M22.1 33.9h0.9M21.3 39.0h0.9M30.1 33.5h0.9M31.9 32.1h0.9M15.6 43.5h0.9M25.9 44.0h0.9M31.9 33.2h0.9M25.2 40.6h0.9M33.1 34.8h0.9M17.1 27.2h0.9M15.6 27.8h0.9M22.5 37.5h0.9M24.9 33.6h0.9M32.2 40.4h0.9M22.8 40.6h0.9M25.7 37.7h0.9M23.4 34.6h0.9M25.6 42.1h0.9M27.5 35.9h0.9M21.6 36.5h0.9M26.5 18.3h0.9M21.2 28.7h0.9M25.1 38.4h0.9M38.1 41.5h0.9M19.3 37.0h0.9M20.9 39.0h0.9M31.5 35.6h0.9M35.7 36.6h0.9M30.1 41.1h0.9M26.5 22.1h0.9M20.6 37.7h0.9M19.9 32.2h0.9M29.3 32.3h0.9M22.0 39.1h0.9M24.6 33.7h0.9M36.4 31.6h0.9M36.0 37.2h0.9M24.2 30.7h0.9M12.8 36.0h0.9M34.1 26.0h0.9M19.2 32.4h0.9M25.2 32.6h0.9M25.6 22.4h0.9M25.8 23.6h0.9M22.0 33.8h0.9M9.5 33.1h0.9M26.3 42.0h0.9M19.9 42.4h0.9M32.1 39.7h0.9M12.0 30.9h0.9M11.2 30.4h0.9M16.7 35.5h0.9M15.8 34.5h0.9M28.3 36.7h0.9M20.6 34.6h0.9M19.9 32.5h0.9M21.3 35.7h0.9M32.5 35.8h0.9M20.3 30.4h0.9M4.6 25.0h0.9M34.0 29.3h0.9M40.7 42.1h0.9M27.4 40.7h0.9M19.0 51.0h0.9M18.2 28.4h0.9M13.1 28.6h0.9M28.5 29.1h0.9M17.4 41.2h0.9M36.5 34.6h0.9M31.4 39.9h0.9M17.7 29.0h0.9M38.2 35.5h0.9M16.1 42.6h0.9M37.6 33.7h0.9M23.7 24.7h0.9M26.3 23.5h0.9M18.5 37.7h0.9M18.2 37.3h0.9M19.3 34.9h0.9M31.2 24.2h0.9M14.6 40.6h0.9M18.2 53.9h0.9M18.9 33.7h0.9M19.9 32.0h0.9M22.1 40.9h0.9M16.5 39.2h0.9M31.5 29.3h0.9M18.0 36.9h0.9M17.4 44.1h0.9M12.5 33.0h0.9M38.3 28.4h0.9M28.8 43.1h0.9M35.0 37.2h0.9M23.0 37.2h0.9M18.2 32.2h0.9M23.7 28.6h0.9M5.8 34.9h0.9M27.2 33.0h0.9M30.3 40.0h0.9M22.3 38.3h0.9M23.4 31.8h0.9M25.4 38.0h0.9M28.0 37.2h0.9M17.1 30.1h0.9M11.1 33.6h0.9M17.1 33.2h0.9M25.2 39.7h0.9M11.2 49.6h0.9M26.6 28.3h0.9M26.0 38.7h0.9M6.3 40.7h0.9M19.8 32.6h0.9M21.2 33.6h0.9M28.4 25.3h0.9M31.1 48.8h0.9M27.4 28.9h0.9M19.9 33.6h0.9M30.7 33.0h0.9M49.8 29.1h0.9M23.0 30.0h0.9M30.3 29.8h0.9M15.7 20.8h0.9M21.1 34.4h0.9M15.4 37.9h0.9M36.4 36.8h0.9M27.9 26.3h0.9M36.2 38.1h0.9M14.8 20.1h0.9M28.9 30.4h0.9M31.1 35.0h0.9M20.3 45.5h0.9M23.3 32.9h0.9M21.8 36.4h0.9M37.4 34.8h0.9M27.0 31.8h0.9M26.5 35.5h0.9M34.0 29.8h0.9M22.0 41.2h0.9M26.5 38.2h0.9M19.0 40.2h0.9M21.5 37.6h0.9M10.5 30.9h0.9M18.6 39.6h0.9M25.1 40.4h0.9M25.4 37.0h0.9M5.0 24.8h0.9M21.7 37.3h0.9M13.3 32.1h0.9M28.6 38.7h0.9M7.3 17.4h0.9M26.8 31.5h0.9M25.0 36.2h0.9M27.5 38.6h0.9M30.3 36.9h0.9M15.4 38.3h0.9M6.5 34.1h0.9M9.3 27.9h0.9M9.5 38.6h0.9M15.1 41.5h0.9M8.6 38.9h0.9M15.3 33.9h0.9M30.9 29.5h0.9M18.0 41.9h0.9M31.6 37.1h0.9M25.1 39.3h0.9M24.1 32.9h0.9M21.7 33.3h0.9M35.1 30.7h0.9M22.3 29.0h0.9M38.7 37.0h0.9M15.8 36.6h0.9M37.9 33.8h0.9M22.8 17.3h0.9M22.7 38.6h0.9M18.4 30.3h0.9M25.5 23.3h0.9M9.4 29.1h0.9M43.8 27.2h0.9M20.4 32.1h0.9M35.3 27.4h0.9M31.7 38.4h0.9M27.9 39.3h0.9M5.6 33.1h0.9M28.1 42.3h0.9M37.0 33.7h0.9M36.9 30.0h0.9M33.8 35.9h0.9M13.5 24.6h0.9M22.4 35.5h0.9M12.9 33.5h0.9M37.0 29.6h0.9M11.3 40.7h0.9" stroke="#555" stroke-width="0.9" opacity="0.55"/>
<path d="M37.5 30.1h0.9M36.7 35.8h0.9M38.1 44.2h0.9M35.5 35.3h0.9M46.3 35.9h0.9M41.2 37.5h0.9M33.2 33.9h0.9M37.0 39.9h0.9M33.0 36.9h0.9M44.0 26.8h0.9M40.0 36.3h0.9M41.7 35.5h0.9M34.5 28.4h0.9M40.0 37.2h0.9M39.9 43.4h0.9M39.1 26.7h0.9M28.5 32.8h0.9M35.0 31.8h0.9M41.7 29.9h0.9M39.9 30.7h0.9M31.5 31.8h0.9M35.4 33.8h0.9M38.2 39.8h0.9M38.0 34.6h0.9M34.1 23.7h0.9M37.0 28.3h0.9M39.8 29.9h0.9M40.1 36.4h0.9M43.3 26.3h0.9M38.8 29.1h0.9M38.9 39.9h0.9M33.3 33.5h0.9M38.5 36.3h0.9M36.4 33.3h0.9M37.5 38.8h0.9M37.9 37.9h0.9M38.9 28.2h0.9M37.2 46.1h0.9M37.7 35.0h0.9M36.9 44.6h0.9M36.8 33.0h0.9M40.1 29.2h0.9M31.2 39.9h0.9M39.2 40.7h0.9M38.8 40.8h0.9M36.0 32.2h0.9M36.0 27.8h0.9M34.1 28.0h0.9M34.9 41.4h0.9M32.3 32.4h0.9M36.2 35.5h0.9M37.6 41.8h0.9M42.3 34.9h0.9M40.6 38.1h0.9M35.7 33.5h0.9M39.8 42.4h0.9M27.0 31.8h0.9M42.6 35.2h0.9M36.6 41.5h0.9M33.5 27.0h0.9M38.6 35.8h0.9M33.8 18.7h0.9M41.2 35.7h0.9M39.3 34.2h0.9M37.3 28.8h0.9M33.8 34.7h0.9M29.9 26.8h0.9M39.2 29.5h0.9M37.7 29.5h0.9M31.5 38.7h0.9M41.7 37.7h0.9M28.5 30.1h0.9M34.0 29.7h0.9M35.3 37.7h0.9M32.5 41.6h0.9M31.5 26.1h0.9M40.6 35.2h0.9M44.7 37.1h0.9M38.2 32.0h0.9M32.3 28.2h0.9M39.4 43.1h0.9M33.9 30.9h0.9M37.7 39.8h0.9M34.3 38.1h0.9M29.5 39.6h0.9M42.2 30.8h0.9M32.7 26.7h0.9M42.4 23.6h0.9M37.2 24.2h0.9M32.6 37.4h0.9M41.6 33.5h0.9M29.9 26.7h0.9M25.9 33.2h0.9M40.3 32.2h0.9M33.2 25.1h0.9M35.5 41.4h0.9M29.6 30.5h0.9M37.5 41.8h0.9M38.8 28.5h0.9M38.3 42.2h0.9M40.4 25.2h0.9M34.1 34.5h0.9M38.6 34.2h0.9M30.6 34.1h0.9M42.2 31.6h0.9M39.1 32.4h0.9M32.8 46.7h0.9M37.3 35.6h0.9M32.5 30.7h0.9M33.4 42.0h0.9M34.5 42.8h0.9M38.3 35.5h0.9M43.0 31.7h0.9M40.3 33.4h0.9M33.3 43.4h0.9M39.8 30.9h0.9M39.7 40.5h0.9M45.5 29.4h0.9M38.0 34.5h0.9M36.2 36.0h0.9M39.1 24.0h0.9M37.3 22.7h0.9M41.4 35.6h0.9M38.3 36.1h0.9M37.5 44.5h0.9M43.2 21.0h0.9M34.8 35.7h0.9M39.4 42.3h0.9M40.7 35.5h0.9M35.0 27.8h0.9M38.9 26.7h0.9M41.3 37.4h0.9M41.1 38.5h0.9M42.0 29.8h0.9M43.2 29.9h0.9M38.8 29.5h0.9M37.2 26.9h0.9M34.6 24.4h0.9M36.1 30.4h0.9M35.4 29.1h0.9M40.9 32.8h0.9M36.7 26.1h0.9M34.4 36.3h0.9M31.6 32.4h0.9M41.1 23.8h0.9M34.4 23.9h0.9M30.9 31.0h0.9M40.3 29.4h0.9M32.9 34.1h0.9M40.7 26.2h0.9M40.7 25.0h0.9M35.4 33.2h0.9M38.3 36.2h0.9M35.0 29.7h0.9M45.6 39.9h0.9M45.0 32.7h0.9M38.7 36.2h0.9M33.5 37.1h0.9M39.8 39.0h0.9M36.3 36.4h0.9M39.7 41.6h0.9M37.9 32.0h0.9M32.3 37.2h0.9M36.4 37.6h0.9M39.4 32.6h0.9M32.5 29.0h0.9M30.3 22.1h0.9M40.0 40.5h0.9M33.0 39.2h0.9M41.3 47.0h0.9M39.3 39.0h0.9M32.7 33.4h0.9M42.1 30.9h0.9M39.7 42.4h0.9M42.6 36.1h0.9M37.8 31.7h0.9M39.4 35.7h0.9M32.7 37.3h0.9M36.9 44.0h0.9M41.8 28.3h0.9M35.6 27.7h0.9M38.0 33.9h0.9M34.4 42.5h0.9M32.5 33.4h0.9M28.3 32.7h0.9M37.3 44.1h0.9M39.0 43.4h0.9M41.7 36.5h0.9M33.0 33.0h0.9M35.2 35.9h0.9M30.5 34.8h0.9M34.7 32.6h0.9M38.4 36.5h0.9M39.4 29.8h0.9M37.3 34.5h0.9M34.3 39.9h0.9M36.0 48.7h0.9M27.7 32.9h0.9M36.0 27.2h0.9M42.4 37.4h0.9M38.0 31.3h0.9M39.3 43.8h0.9M37.7 41.1h0.9M34.9 23.8h0.9M34.7 42.6h0.9M32.5 26.1h0.9M30.3 39.1h0.9M32.7 39.4h0.9M39.3 40.8h0.9M34.6 23.0h0.9M32.5 26.4h0.9M35.2 34.2h0.9M36.0 39.8h0.9M33.9 44.3h0.9M35.3 30.2h0.9M39.1 25.4h0.9M34.4 38.0h0.9M37.5 39.0h0.9M37.0 32.5h0.9M40.9 36.0h0.9M29.6 32.2h0.9M34.8 33.1h0.9M40.8 36.9h0.9M39.0 26.3h0.9M35.9 42.7h0.9M41.3 20.4h0.9M38.3 35.5h0.9M38.6 39.7h0.9M40.4 36.7h0.9M36.4 36.5h0.9M33.7 29.1h0.9M33.1 42.8h0.9M36.3 28.0h0.9M32.0 37.1h0.9M39.9 31.0h0.9M36.5 31.7h0.9M31.8 24.3h0.9M29.6 35.5h0.9M40.3 41.9h0.9M37.8 29.0h0.9M36.3 41.1h0.9M32.2 44.4h0.9M33.0 34.5h0.9M38.0 31.0h0.9M35.8 28.3h0.9M35.5 26.6h0.9M37.6 31.9h0.9M36.4 36.2h0.9M34.3 36.8h0.9M38.6 32.6h0.9" stroke="#333" stroke-width="0.9" opacity="0.55"/>
<path d="M40.2 31.8h0.9M36.0 30.7h0.9M46.5 24.0h0.9M36.2 25.1h0.9M39.7 32.6h0.9M35.8 32.0h0.9M45.0 30.6h0.9M49.4 31.9h0.9M42.7 34.1h0.9M43.7 32.2h0.9M42.6 23.9h0.9M38.3 27.6h0.9M40.4 41.8h0.9M44.2 42.9h0.9M38.6 38.0h0.9M37.9 33.4h0.9M39.3 29.6h0.9M45.7 32.2h0.9M51.8 22.4h0.9M36.8 40.5h0.9M46.2 37.2h0.9M34.0 39.2h0.9M45.8 27.3h0.9M40.9 29.7h0.9M47.0 33.9h0.9M43.2 37.4h0.9M43.4 25.8h0.9M45.1 30.8h0.9M35.3 25.5h0.9M46.1 31.3h0.9M29.5 31.3h0.9M44.8 32.6h0.9M39.6 25.1h0.9M43.1 41.7h0.9M43.8 32.3h0.9M41.1 34.5h0.9M49.6 40.7h0.9M42.8 44.4h0.9M40.1 38.5h0.9M40.7 33.6h0.9M47.7 23.3h0.9M45.7 34.3h0.9M49.1 41.6h0.9M44.8 30.5h0.9M42.1 29.9h0.9M44.8 30.4h0.9M48.9 26.2h0.9M40.7 32.6h0.9M44.0 35.5h0.9M45.3 35.0h0.9M44.2 29.2h0.9M42.2 31.7h0.9M50.2 35.7h0.9M39.1 29.9h0.9M42.3 37.0h0.9M47.7 35.8h0.9M35.2 35.8h0.9M42.5 24.9h0.9M42.3 26.5h0.9M43.6 29.9h0.9M46.5 40.3h0.9M40.4 32.7h0.9M42.3 28.0h0.9M50.3 35.9h0.9M37.8 27.2h0.9M49.6 39.6h0.9M47.7 30.3h0.9M43.0 27.7h0.9M39.5 42.3h0.9M34.5 35.3h0.9M44.3 29.3h0.9M49.1 36.6h0.9M47.1 31.7h0.9M48.6 38.2h0.9M41.0 31.3h0.9M41.9 30.2h0.9M43.9 28.0h0.9M43.5 33.6h0.9M38.6 30.5h0.9M38.4 33.2h0.9M43.8 33.8h0.9M45.5 28.9h0.9M44.9 26.6h0.9M43.3 38.5h0.9M41.4 40.0h0.9M36.5 23.8h0.9M47.3 31.2h0.9M35.1 30.2h0.9M47.3 34.8h0.9M43.5 34.4h0.9M48.6 29.2h0.9M45.3 40.4h0.9M39.9 34.1h0.9M41.8 42.7h0.9M40.6 29.2h0.9M47.8 16.8h0.9M46.6 35.6h0.9M48.1 33.4h0.9M39.5 28.1h0.9M38.7 34.7h0.9M45.6 39.9h0.9M39.7 28.8h0.9M39.9 35.9h0.9M37.1 31.2h0.9M39.2 34.1h0.9M47.7 35.5h0.9M49.6 22.3h0.9M33.1 37.7h0.9M42.2 30.5h0.9M46.4 28.1h0.9M41.4 39.9h0.9M35.0 38.8h0.9M37.0 29.5h0.9M42.9 37.4h0.9M41.3 37.6h0.9M42.3 35.7h0.9M43.7 30.3h0.9M48.1 30.6h0.9M42.5 28.8h0.9M47.5 26.6h0.9M38.9 31.1h0.9M45.4 40.9h0.9M44.2 38.7h0.9M42.2 33.1h0.9M44.0 41.1h0.9M47.0 40.3h0.9M43.2 39.7h0.9M38.8 30.5h0.9M45.9 33.5h0.9M42.9 30.9h0.9M47.7 27.2h0.9M43.3 33.2h0.9M40.6 33.9h0.9M52.7 31.9h0.9M44.7 29.0h0.9M40.7 40.1h0.9M41.4 25.6h0.9M55.3 31.6h0.9M40.4 32.1h0.9M48.0 28.7h0.9M46.7 38.3h0.9M44.1 33.0h0.9M44.8 23.8h0.9M46.5 37.2h0.9M49.0 30.8h0.9M50.9 33.5h0.9M44.9 24.3h0.9M43.4 26.1h0.9M43.7 35.1h0.9M42.2 34.3h0.9M45.5 38.2h0.9M44.7 33.9h0.9M40.6 27.6h0.9M42.9 32.8h0.9M41.5 20.5h0.9M53.7 31.1h0.9M39.2 42.2h0.9M40.4 21.6h0.9M44.8 35.3h0.9M40.4 30.3h0.9M46.5 31.7h0.9M43.4 34.4h0.9M39.7 34.6h0.9M50.1 42.1h0.9M45.4 31.9h0.9M39.1 28.1h0.9M38.5 43.9h0.9M41.6 43.8h0.9M45.8 34.1h0.9M40.0 23.4h0.9M44.7 31.0h0.9M38.8 50.4h0.9M45.0 32.8h0.9M42.2 32.7h0.9M39.7 35.6h0.9M47.3 24.1h0.9M38.9 30.6h0.9M42.8 36.3h0.9M40.6 33.6h0.9M41.8 35.1h0.9M42.3 29.2h0.9M42.4 34.3h0.9M38.9 29.9h0.9M42.7 46.9h0.9M39.9 37.7h0.9M39.3 39.4h0.9M47.5 30.3h0.9M44.1 26.2h0.9M36.1 42.4h0.9M36.0 37.9h0.9M40.1 31.4h0.9M45.5 34.2h0.9M47.4 35.2h0.9M44.1 29.2h0.9M41.7 40.1h0.9M33.0 34.0h0.9M43.3 30.4h0.9M37.4 33.5h0.9M39.7 38.7h0.9M38.9 33.0h0.9" stroke="#111" stroke-width="0.9" opacity="0.6"/>
<path d="M54.0 48.5h0.9M33.1 34.4h0.9M49.9 26.3h0.9M55.0 32.6h0.9M50.8 17.2h0.9M53.9 32.2h0.9M47.9 50.5h0.9M52.5 30.9h0.9M47.9 17.7h0.9M48.3 25.1h0.9M29.5 44.8h0.9M50.6 29.8h0.9M55.3 38.6h0.9M50.9 45.6h0.9M40.6 34.8h0.9M26.7 37.4h0.9M39.2 43.3h0.9M39.1 35.5h0.9M50.9 23.4h0.9M39.9 43.4h0.9M46.2 48.5h0.9M55.0 30.4h0.9M31.1 48.0h0.9M33.0 38.9h0.9M44.3 53.0h0.9M46.7 26.6h0.9M60.7 26.2h0.9M48.8 49.5h0.9M51.6 30.0h0.9M50.6 21.9h0.9M48.1 46.9h0.9M35.9 23.9h0.9M61.5 31.1h0.9M58.0 41.1h0.9M46.3 47.9h0.9M45.9 22.7h0.9M56.5 35.3h0.9M54.0 43.3h0.9M44.2 47.1h0.9M43.8 47.0h0.9M61.4 33.0h0.9M35.5 50.3h0.9M54.1 25.3h0.9M41.2 49.2h0.9M53.5 31.9h0.9M60.4 34.8h0.9M37.8 42.0h0.9M27.7 33.8h0.9M42.8 47.4h0.9M58.3 32.6h0.9M46.8 53.7h0.9M43.6 17.3h0.9M46.4 31.7h0.9M31.4 30.2h0.9M52.8 44.1h0.9M36.7 49.0h0.9M52.9 48.5h0.9M38.2 43.8h0.9M54.4 40.2h0.9M50.7 46.6h0.9M55.3 31.4h0.9M60.5 38.5h0.9M50.6 46.6h0.9M45.4 32.1h0.9M46.5 48.5h0.9M44.3 27.0h0.9M56.2 43.7h0.9M34.3 47.2h0.9M41.8 53.7h0.9M53.6 48.3h0.9M49.7 25.9h0.9M42.6 33.5h0.9M32.9 40.8h0.9M52.5 25.9h0.9M57.9 30.0h0.9M46.3 50.5h0.9M53.5 29.5h0.9M51.3 25.6h0.9M54.5 39.9h0.9M54.6 27.3h0.9M40.3 47.2h0.9M40.5 49.6h0.9M38.0 39.9h0.9M45.2 31.0h0.9M42.7 31.1h0.9M52.4 28.7h0.9M41.6 26.2h0.9M48.6 31.4h0.9M57.0 32.0h0.9M50.4 24.1h0.9M49.2 17.1h0.9M56.1 35.4h0.9M52.9 43.9h0.9M29.0 41.8h0.9M48.9 52.5h0.9M29.2 29.7h0.9M37.6 31.9h0.9M45.9 48.0h0.9M38.9 30.1h0.9M39.5 45.8h0.9M29.5 41.6h0.9M54.4 30.9h0.9M47.6 30.2h0.9M33.0 37.0h0.9M47.3 46.9h0.9M49.6 49.0h0.9M49.1 25.1h0.9M34.4 39.0h0.9M54.7 21.4h0.9M41.8 34.3h0.9M39.7 46.5h0.9M35.4 45.3h0.9M39.8 40.3h0.9M50.7 45.3h0.9M56.4 39.2h0.9M43.3 19.0h0.9M39.9 46.9h0.9M49.7 17.1h0.9M44.5 46.9h0.9M39.6 41.3h0.9M59.7 36.6h0.9M52.0 23.7h0.9M56.0 30.3h0.9M48.9 46.9h0.9M40.2 42.4h0.9M54.3 27.8h0.9M36.8 42.3h0.9M55.1 46.5h0.9M52.0 45.1h0.9M53.5 43.2h0.9M50.0 47.1h0.9M51.7 27.8h0.9M46.4 25.3h0.9M55.5 33.6h0.9M40.1 34.3h0.9M52.4 18.3h0.9M36.4 38.7h0.9M44.9 32.5h0.9M57.1 32.8h0.9M28.4 30.7h0.9M38.3 51.5h0.9M46.3 32.6h0.9M30.4 47.0h0.9M56.8 33.5h0.9M45.6 26.0h0.9M56.8 31.9h0.9M35.9 43.2h0.9M48.6 46.9h0.9M28.0 40.5h0.9M44.6 48.6h0.9M57.4 30.3h0.9M43.3 34.4h0.9M55.3 36.9h0.9M46.7 48.7h0.9M58.2 38.3h0.9M48.3 49.6h0.9M40.3 43.3h0.9M45.0 48.5h0.9M41.0 40.3h0.9M50.9 29.0h0.9M53.6 29.4h0.9M55.1 40.2h0.9M38.7 44.9h0.9M59.6 31.8h0.9M47.4 48.6h0.9M43.1 34.9h0.9M39.0 46.7h0.9M55.4 36.0h0.9M44.4 50.3h0.9M57.4 38.6h0.9M54.9 30.4h0.9M61.9 31.9h0.9M35.6 31.6h0.9M52.2 28.2h0.9M55.7 34.0h0.9M41.3 37.1h0.9M41.1 39.9h0.9M48.9 48.7h0.9M41.4 21.7h0.9M41.8 46.1h0.9M42.5 35.0h0.9M50.0 49.4h0.9M44.6 48.5h0.9M50.2 20.2h0.9M45.1 29.5h0.9M29.7 45.5h0.9M57.6 44.6h0.9M41.1 37.4h0.9M61.2 27.9h0.9M48.5 46.8h0.9M46.8 25.4h0.9M52.6 31.1h0.9M47.5 47.5h0.9M48.7 24.9h0.9M42.5 31.5h0.9M37.3 40.6h0.9M41.3 39.9h0.9M52.5 29.0h0.9M35.7 39.9h0.9M37.1 47.9h0.9M60.3 39.6h0.9M44.5 29.0h0.9M45.9 29.8h0.9M37.5 43.9h0.9M57.4 35.1h0.9M41.8 18.1h0.9M47.3 48.5h0.9M55.1 34.0h0.9M40.8 41.3h0.9M56.8 33.3h0.9M44.0 28.3h0.9M39.8 44.2h0.9M53.5 29.3h0.9M36.7 51.4h0.9M31.1 38.0h0.9M57.6 37.2h0.9M54.6 29.5h0.9M39.2 39.1h0.9M37.5 40.6h0.9M58.0 36.0h0.9M36.0 47.3h0.9M58.0 28.0h0.9M37.7 39.1h0.9M55.4 44.2h0.9M33.3 38.9h0.9M39.5 33.1h0.9M32.7 47.0h0.9M41.6 49.3h0.9M37.8 50.6h0.9M39.1 46.1h0.9M39.7 46.2h0.9M40.4 36.8h0.9M55.1 29.5h0.9M51.9 44.7h0.9M54.7 30.1h0.9M48.8 46.9h0.9M32.4 32.2h0.9M38.6 30.4h0.9M56.7 34.5h0.9M48.1 30.6h0.9M30.9 47.9h0.9M39.6 42.0h0.9M55.7 37.9h0.9M60.3 24.4h0.9M34.8 39.8h0.9M42.8 24.2h0.9M55.6 33.4h0.9M46.5 31.2h0.9M53.6 17.5h0.9M56.9 23.2h0.9M38.6 44.3h0.9M58.3 30.8h0.9M58.9 28.6h0.9M41.4 33.3h0.9M42.8 46.3h0.9M59.2 26.0h0.9M40.5 43.6h0.9M45.5 31.3h0.9M57.0 32.7h0.9M52.8 29.7h0.9M39.3 41.3h0.9M44.1 47.1h0.9M55.7 39.9h0.9M34.7 27.0h0.9M55.0 30.0h0.9M55.5 33.9h0.9M52.3 27.7h0.9M40.1 44.9h0.9M30.5 47.5h0.9M46.3 25.1h0.9M46.6 26.8h0.9M30.9 44.0h0.9M52.7 29.2h0.9M49.9 47.5h0.9M53.1 43.4h0.9M51.7 22.3h0.9M40.1 39.8h0.9M54.7 31.4h0.9M52.6 44.7h0.9M45.9 47.0h0.9M27.3 40.6h0.9M42.8 50.1h0.9M41.0 49.4h0.9M48.0 26.1h0.9M50.1 49.1h0.9M40.6 43.2h0.9M36.5 21.2h0.9M52.3 45.8h0.9M34.6 34.4h0.9M61.1 28.7h0.9M43.3 45.6h0.9M39.5 47.9h0.9M39.5 43.3h0.9M49.6 46.8h0.9M56.6 37.5h0.9M50.7 49.2h0.9M52.1 29.9h0.9M49.6 48.3h0.9M55.6 33.1h0.9M37.9 31.6h0.9M42.3 33.2h0.9M30.0 46.0h0.9M46.3 53.1h0.9M57.2 42.1h0.9M61.3 29.1h0.9M50.1 47.6h0.9M35.5 46.0h0.9M57.0 21.7h0.9M37.6 44.8h0.9M55.0 40.1h0.9M44.3 30.3h0.9M39.9 33.8h0.9M50.5 25.4h0.9M51.0 50.2h0.9M55.0 40.9h0.9M58.6 39.4h0.9M46.6 47.6h0.9M55.6 27.5h0.9M40.5 43.2h0.9M47.2 31.5h0.9M43.5 50.7h0.9M40.3 44.4h0.9M54.6 30.1h0.9M58.1 21.1h0.9M46.8 29.8h0.9M40.1 29.6h0.9M38.6 42.6h0.9M54.7 32.2h0.9M45.9 46.8h0.9M42.5 35.0h0.9M54.2 44.2h0.9M38.6 47.5h0.9M44.5 32.4h0.9M41.1 30.6h0.9M43.6 45.6h0.9M52.2 24.0h0.9M36.9 40.0h0.9M50.5 45.7h0.9M52.2 30.6h0.9M44.0 47.6h0.9M44.5 23.3h0.9M42.3 46.9h0.9M44.4 32.7h0.9M39.9 41.0h0.9M40.5 40.3h0.9M53.4 44.7h0.9M61.2 28.7h0.9M39.4 53.3h0.9M54.3 41.0h0.9M58.1 37.6h0.9M49.8 46.3h0.9M45.1 53.3h0.9M28.9 44.2h0.9M49.1 29.6h0.9M44.3 46.2h0.9M55.2 29.6h0.9M45.5 29.4h0.9M52.8 26.2h0.9M56.2 36.5h0.9M52.2 20.0h0.9M44.9 31.3h0.9M48.4 47.8h0.9M37.3 19.9h0.9M43.6 35.5h0.9M46.2 26.9h0.9M51.9 45.0h0.9M52.8 17.3h0.9M55.4 33.2h0.9M55.0 29.5h0.9M52.3 28.4h0.9M59.8 32.8h0.9M43.4 51.6h0.9M30.7 33.2h0.9M42.6 50.0h0.9M41.6 48.4h0.9M50.7 30.0h0.9M34.2 33.7h0.9M54.6 39.3h0.9M48.3 47.9h0.9M39.7 39.5h0.9M32.0 38.7h0.9M53.6 43.9h0.9M35.2 49.1h0.9M55.8 39.5h0.9M37.6 44.7h0.9M59.3 43.8h0.9M51.5 45.7h0.9M42.1 33.2h0.9M36.1 31.0h0.9M56.8 38.0h0.9M54.1 45.7h0.9M55.3 34.5h0.9M47.4 19.3h0.9M45.3 45.9h0.9M41.5 42.6h0.9M38.4 34.3h0.9M45.9 51.4h0.9M37.9 48.2h0.9M55.5 30.9h0.9M56.5 32.8h0.9M42.9 34.3h0.9M36.0 48.1h0.9M53.7 31.1h0.9M47.5 48.4h0.9M51.8 27.5h0.9M52.7 44.6h0.9M55.1 27.9h0.9M30.5 44.1h0.9M50.6 46.4h0.9M48.6 48.7h0.9M55.0 31.7h0.9M51.0 28.5h0.9M53.7 30.1h0.9M59.9 35.4h0.9M49.8 48.6h0.9M45.2 25.9h0.9M49.3 48.0h0.9M46.2 31.7h0.9M55.1 36.2h0.9M62.2 32.7h0.9" stroke="#222" stroke-width="0.9" opacity="0.5"/>
<path d="M53.97,41.10 C53.53,42.15 52.95,43.20 52.26,44.00 C51.57,44.80 50.70,45.48 49.82,45.89 C48.94,46.30 47.91,46.49 46.97,46.45 C46.03,46.40 45.01,46.09 44.20,45.62 C43.39,45.15 42.61,44.42 42.10,43.64 C41.59,42.85 41.24,41.85 41.16,40.89 C41.07,39.92 41.23,38.83 41.58,37.83 C41.92,36.84 42.54,35.80 43.23,34.90 C43.92,34.00 44.83,33.13 45.70,32.44 C46.57,31.74 47.57,31.14 48.45,30.73 C49.33,30.32 50.23,30.05 50.99,29.99 C51.75,29.93 52.44,30.06 53.00,30.38 C53.56,30.70 54.01,31.24 54.34,31.93 C54.67,32.61 54.88,33.53 54.97,34.49 C55.06,35.46 55.03,36.63 54.86,37.73 C54.70,38.83 54.40,40.05 53.97,41.10Z" transform="translate(0,0)" fill="#0a0a0a" stroke="#0a0a0a" stroke-width="4.4" stroke-linejoin="round" filter="url(#fz)"/>
<path d="M53.97,41.10 C53.53,42.15 52.95,43.20 52.26,44.00 C51.57,44.80 50.70,45.48 49.82,45.89 C48.94,46.30 47.91,46.49 46.97,46.45 C46.03,46.40 45.01,46.09 44.20,45.62 C43.39,45.15 42.61,44.42 42.10,43.64 C41.59,42.85 41.24,41.85 41.16,40.89 C41.07,39.92 41.23,38.83 41.58,37.83 C41.92,36.84 42.54,35.80 43.23,34.90 C43.92,34.00 44.83,33.13 45.70,32.44 C46.57,31.74 47.57,31.14 48.45,30.73 C49.33,30.32 50.23,30.05 50.99,29.99 C51.75,29.93 52.44,30.06 53.00,30.38 C53.56,30.70 54.01,31.24 54.34,31.93 C54.67,32.61 54.88,33.53 54.97,34.49 C55.06,35.46 55.03,36.63 54.86,37.73 C54.70,38.83 54.40,40.05 53.97,41.10Z" transform="translate(-3,-2.5)" fill="#0a0a0a" stroke="#0a0a0a" stroke-width="4.4" stroke-linejoin="round" filter="url(#fz)"/>
<path d="M53.97,41.10 C53.53,42.15 52.95,43.20 52.26,44.00 C51.57,44.80 50.70,45.48 49.82,45.89 C48.94,46.30 47.91,46.49 46.97,46.45 C46.03,46.40 45.01,46.09 44.20,45.62 C43.39,45.15 42.61,44.42 42.10,43.64 C41.59,42.85 41.24,41.85 41.16,40.89 C41.07,39.92 41.23,38.83 41.58,37.83 C41.92,36.84 42.54,35.80 43.23,34.90 C43.92,34.00 44.83,33.13 45.70,32.44 C46.57,31.74 47.57,31.14 48.45,30.73 C49.33,30.32 50.23,30.05 50.99,29.99 C51.75,29.93 52.44,30.06 53.00,30.38 C53.56,30.70 54.01,31.24 54.34,31.93 C54.67,32.61 54.88,33.53 54.97,34.49 C55.06,35.46 55.03,36.63 54.86,37.73 C54.70,38.83 54.40,40.05 53.97,41.10Z" fill="#050505" stroke="#050505" stroke-width="3.4000000000000004" stroke-linejoin="round"/>
<path d="M34.8 42.5h0.9M43.7 48.0h0.9M37.6 31.4h0.9M55.2 39.1h0.9M37.4 44.7h0.9M55.2 36.5h0.9M48.9 47.9h0.9M48.9 22.8h0.9M55.9 33.6h0.9M47.9 47.1h0.9M50.3 46.0h0.9M55.5 38.7h0.9M41.8 46.3h0.9M37.9 47.3h0.9M55.4 30.3h0.9M41.5 44.7h0.9M44.5 46.5h0.9M39.0 25.4h0.9M53.2 29.0h0.9M51.3 47.4h0.9M44.0 28.7h0.9M45.2 29.3h0.9M47.0 47.6h0.9M54.7 28.6h0.9M41.3 43.8h0.9M40.5 49.1h0.9M40.4 39.8h0.9M48.3 22.8h0.9M53.5 26.7h0.9M55.9 33.3h0.9M51.6 46.4h0.9M50.9 25.6h0.9M49.6 47.0h0.9M45.6 31.5h0.9M54.7 36.2h0.9M55.4 38.0h0.9M42.4 46.7h0.9M52.8 44.8h0.9M54.3 43.6h0.9M54.0 28.0h0.9M51.5 44.3h0.9M53.3 27.5h0.9M50.0 29.0h0.9M45.7 31.3h0.9M50.9 28.4h0.9M43.2 23.6h0.9M56.9 27.8h0.9M40.7 41.2h0.9M39.1 39.3h0.9M55.7 33.6h0.9M55.5 34.9h0.9M49.2 47.9h0.9M55.3 44.4h0.9M55.5 33.8h0.9M52.8 44.4h0.9M53.3 30.1h0.9M49.8 47.8h0.9M56.4 27.0h0.9M38.1 47.6h0.9M55.9 33.1h0.9M38.3 37.4h0.9M50.8 30.2h0.9M43.5 46.3h0.9M55.0 39.5h0.9M55.3 29.8h0.9M54.8 30.5h0.9M43.2 46.3h0.9M57.3 33.9h0.9M45.5 31.6h0.9M45.9 47.0h0.9M51.3 44.9h0.9M53.3 28.1h0.9M53.0 30.1h0.9M47.2 48.6h0.9M51.9 26.0h0.9M53.1 42.8h0.9M43.4 45.9h0.9M54.5 39.3h0.9M45.2 47.5h0.9M48.2 46.3h0.9M50.2 46.2h0.9M40.8 34.3h0.9M37.1 47.0h0.9M53.9 31.8h0.9M46.7 30.9h0.9M53.0 44.4h0.9M44.2 33.0h0.9M48.9 47.6h0.9M40.0 42.4h0.9M39.0 35.6h0.9M53.5 28.6h0.9M44.4 31.3h0.9M55.6 36.0h0.9M42.1 36.4h0.9M54.9 38.5h0.9M55.0 25.0h0.9M41.4 49.7h0.9M56.2 30.2h0.9M54.4 31.8h0.9M49.7 46.8h0.9M32.7 37.7h0.9M50.5 29.8h0.9M55.0 30.1h0.9M40.5 35.8h0.9M52.1 26.4h0.9M54.1 44.0h0.9M48.6 29.1h0.9M42.8 29.4h0.9M53.8 42.5h0.9M47.0 24.3h0.9M45.3 31.2h0.9M40.9 44.4h0.9M51.7 30.3h0.9M54.8 37.4h0.9M39.4 41.0h0.9M43.7 27.5h0.9M55.3 36.9h0.9M48.3 28.0h0.9M47.8 27.1h0.9M47.5 49.8h0.9M56.9 27.6h0.9M51.8 28.3h0.9M54.5 31.7h0.9M53.6 31.9h0.9M51.3 45.0h0.9M54.6 40.2h0.9M41.8 47.1h0.9M55.1 26.8h0.9M40.6 41.1h0.9M51.4 29.1h0.9M57.4 33.1h0.9M36.5 38.0h0.9M53.7 23.5h0.9M57.5 37.5h0.9M52.6 44.3h0.9M52.8 44.7h0.9M47.6 22.8h0.9M33.5 38.5h0.9M46.0 31.7h0.9M37.1 47.6h0.9M40.5 48.3h0.9M40.0 41.0h0.9M52.6 45.9h0.9M35.9 40.6h0.9M42.4 30.4h0.9M50.6 30.6h0.9M33.3 42.1h0.9M37.8 39.2h0.9M51.4 29.2h0.9M55.5 40.6h0.9M43.6 23.3h0.9M47.3 47.7h0.9M47.7 47.6h0.9M50.0 46.7h0.9M40.2 42.9h0.9M45.2 48.0h0.9M49.6 46.6h0.9M50.7 26.2h0.9M57.9 30.8h0.9M42.5 30.9h0.9M33.3 38.0h0.9M44.0 48.8h0.9M51.8 29.2h0.9M54.5 36.2h0.9M42.5 27.2h0.9M40.7 33.8h0.9M46.2 49.0h0.9M56.4 38.8h0.9M33.5 35.7h0.9M55.6 26.7h0.9M50.0 48.9h0.9M54.4 28.0h0.9M55.3 42.0h0.9M39.4 47.3h0.9M43.4 33.3h0.9M32.9 35.2h0.9M45.2 22.5h0.9M55.0 38.2h0.9M48.8 28.1h0.9M33.2 38.2h0.9M53.1 30.9h0.9M43.3 45.0h0.9M56.2 32.3h0.9M44.6 50.1h0.9M40.7 43.9h0.9M47.9 30.5h0.9M57.1 28.5h0.9M56.4 27.1h0.9M50.4 29.0h0.9M51.1 27.9h0.9M36.3 42.0h0.9M34.9 38.3h0.9M53.4 31.3h0.9M37.1 27.6h0.9M48.7 47.8h0.9M57.5 32.5h0.9M55.0 40.5h0.9M35.8 29.2h0.9M39.4 39.5h0.9M43.2 29.1h0.9M56.0 40.1h0.9M55.0 34.6h0.9M40.5 32.3h0.9M57.3 31.4h0.9M54.3 40.9h0.9M51.9 45.7h0.9M52.5 28.8h0.9M53.8 24.4h0.9M50.3 48.3h0.9M53.8 41.9h0.9" stroke="#000" stroke-width="0.9" opacity="0.85"/>
<path d="M53.97,41.10 C53.53,42.15 52.95,43.20 52.26,44.00 C51.57,44.80 50.70,45.48 49.82,45.89 C48.94,46.30 47.91,46.49 46.97,46.45 C46.03,46.40 45.01,46.09 44.20,45.62 C43.39,45.15 42.61,44.42 42.10,43.64 C41.59,42.85 41.24,41.85 41.16,40.89 C41.07,39.92 41.23,38.83 41.58,37.83 C41.92,36.84 42.54,35.80 43.23,34.90 C43.92,34.00 44.83,33.13 45.70,32.44 C46.57,31.74 47.57,31.14 48.45,30.73 C49.33,30.32 50.23,30.05 50.99,29.99 C51.75,29.93 52.44,30.06 53.00,30.38 C53.56,30.70 54.01,31.24 54.34,31.93 C54.67,32.61 54.88,33.53 54.97,34.49 C55.06,35.46 55.03,36.63 54.86,37.73 C54.70,38.83 54.40,40.05 53.97,41.10Z" fill="#cdcdcd" stroke="#f4f4f4" stroke-width="0.9"/>
<path d="M52.63,40.29 C52.25,41.18 51.81,42.16 51.27,42.82 C50.73,43.48 50.03,43.94 49.41,44.27 C48.79,44.59 48.32,44.82 47.55,44.77 C46.78,44.73 45.48,44.41 44.79,43.99 C44.11,43.58 43.75,42.89 43.43,42.27 C43.10,41.65 42.93,41.00 42.84,40.26 C42.75,39.52 42.67,38.62 42.89,37.82 C43.11,37.02 43.57,36.15 44.15,35.46 C44.74,34.77 45.66,34.19 46.41,33.68 C47.15,33.18 47.94,32.76 48.62,32.43 C49.29,32.09 49.84,31.74 50.45,31.67 C51.07,31.60 51.89,31.71 52.30,32.00 C52.72,32.29 52.68,32.92 52.95,33.41 C53.21,33.89 53.78,34.24 53.88,34.93 C53.98,35.61 53.76,36.64 53.55,37.53 C53.34,38.43 53.01,39.41 52.63,40.29Z" fill="none" stroke="#f2f2f2" stroke-width="0.55" opacity="1"/>
<path d="M52.07,39.82 C51.83,40.45 51.25,41.08 50.84,41.60 C50.43,42.12 50.14,42.69 49.59,42.94 C49.04,43.19 48.11,43.13 47.55,43.09 C46.98,43.05 46.67,42.93 46.22,42.69 C45.77,42.45 45.20,42.11 44.84,41.64 C44.48,41.17 44.14,40.51 44.06,39.86 C43.98,39.21 44.13,38.35 44.35,37.74 C44.57,37.13 44.91,36.74 45.37,36.23 C45.84,35.71 46.63,35.02 47.13,34.64 C47.63,34.25 47.85,34.11 48.37,33.91 C48.89,33.71 49.79,33.48 50.23,33.42 C50.67,33.37 50.69,33.46 51.00,33.58 C51.30,33.70 51.84,33.72 52.05,34.15 C52.26,34.58 52.23,35.55 52.27,36.17 C52.31,36.79 52.32,37.26 52.28,37.86 C52.25,38.47 52.31,39.20 52.07,39.82Z" fill="none" stroke="#f2f2f2" stroke-width="0.55" opacity="1"/>
<path d="M50.96,39.04 C50.84,39.38 50.42,39.79 50.13,40.16 C49.83,40.54 49.51,41.09 49.17,41.29 C48.83,41.49 48.46,41.35 48.08,41.36 C47.71,41.36 47.26,41.50 46.92,41.31 C46.58,41.12 46.23,40.61 46.05,40.20 C45.87,39.80 45.87,39.32 45.83,38.90 C45.79,38.48 45.74,38.08 45.81,37.67 C45.88,37.27 46.02,36.83 46.28,36.49 C46.54,36.15 46.92,35.90 47.35,35.62 C47.77,35.34 48.43,34.96 48.84,34.80 C49.24,34.64 49.47,34.60 49.77,34.66 C50.08,34.73 50.42,35.05 50.65,35.19 C50.88,35.33 51.10,35.28 51.15,35.50 C51.19,35.72 51.00,36.08 50.95,36.51 C50.89,36.95 50.82,37.68 50.82,38.11 C50.82,38.53 51.08,38.70 50.96,39.04Z" fill="none" stroke="#f2f2f2" stroke-width="0.55" opacity="1"/>
<path d="M49.71,38.46 C49.60,38.75 49.30,39.30 49.19,39.49 C49.08,39.68 49.23,39.56 49.04,39.59 C48.84,39.63 48.28,39.70 48.01,39.71 C47.75,39.72 47.61,39.78 47.45,39.67 C47.29,39.57 47.13,39.29 47.05,39.09 C46.97,38.90 46.91,38.68 46.97,38.50 C47.03,38.32 47.29,38.16 47.41,38.02 C47.53,37.87 47.63,37.80 47.70,37.64 C47.78,37.48 47.72,37.22 47.86,37.08 C48.01,36.93 48.37,36.85 48.58,36.77 C48.79,36.69 48.96,36.61 49.11,36.60 C49.25,36.60 49.29,36.71 49.43,36.72 C49.58,36.73 49.87,36.53 49.98,36.66 C50.09,36.78 50.12,37.30 50.09,37.47 C50.07,37.65 49.91,37.55 49.84,37.71 C49.78,37.88 49.82,38.16 49.71,38.46Z" fill="none" stroke="#f2f2f2" stroke-width="0.55" opacity="1"/>
<path d="M52.85,40.23 C52.49,41.08 52.08,42.26 51.55,42.87 C51.02,43.48 50.33,43.59 49.66,43.89 C49.00,44.19 48.35,44.71 47.57,44.66 C46.80,44.61 45.69,44.01 45.00,43.57 C44.30,43.14 43.74,42.61 43.40,42.05 C43.07,41.50 42.97,40.95 42.98,40.23 C42.99,39.50 43.23,38.51 43.46,37.70 C43.68,36.89 43.81,36.04 44.34,35.37 C44.87,34.70 46.01,34.22 46.66,33.69 C47.32,33.15 47.61,32.42 48.27,32.13 C48.93,31.84 50.03,31.93 50.61,31.94 C51.20,31.95 51.35,31.99 51.77,32.21 C52.18,32.42 52.76,32.68 53.08,33.21 C53.40,33.74 53.59,34.64 53.69,35.40 C53.80,36.17 53.86,36.99 53.72,37.80 C53.58,38.60 53.22,39.39 52.85,40.23Z" fill="none" stroke="#9a9a9a" stroke-width="0.4" opacity="1"/>
<path d="M51.99,39.70 C51.66,40.24 50.89,40.87 50.49,41.34 C50.09,41.82 50.11,42.27 49.60,42.56 C49.10,42.85 48.03,43.13 47.44,43.10 C46.85,43.07 46.48,42.63 46.06,42.37 C45.65,42.11 45.24,41.96 44.96,41.54 C44.67,41.12 44.42,40.46 44.36,39.85 C44.29,39.23 44.42,38.41 44.56,37.83 C44.69,37.25 44.82,36.93 45.18,36.38 C45.54,35.83 46.15,34.94 46.72,34.55 C47.28,34.15 48.05,34.20 48.56,34.01 C49.07,33.82 49.29,33.55 49.77,33.42 C50.25,33.30 51.08,33.16 51.46,33.28 C51.84,33.41 51.95,33.71 52.05,34.19 C52.16,34.67 52.01,35.51 52.08,36.17 C52.15,36.83 52.49,37.55 52.47,38.14 C52.46,38.73 52.32,39.17 51.99,39.70Z" fill="none" stroke="#9a9a9a" stroke-width="0.4" opacity="1"/>
<path d="M51.00,39.08 C50.78,39.49 50.49,39.97 50.12,40.36 C49.76,40.75 49.17,41.27 48.83,41.42 C48.48,41.56 48.35,41.27 48.04,41.21 C47.73,41.16 47.36,41.21 46.98,41.06 C46.60,40.91 46.02,40.60 45.78,40.31 C45.54,40.02 45.57,39.73 45.55,39.29 C45.52,38.86 45.48,38.08 45.61,37.70 C45.75,37.32 46.09,37.29 46.35,37.00 C46.61,36.72 46.83,36.31 47.16,35.99 C47.50,35.67 47.99,35.30 48.37,35.06 C48.76,34.82 49.11,34.66 49.47,34.58 C49.84,34.50 50.34,34.47 50.56,34.59 C50.78,34.71 50.64,34.98 50.78,35.31 C50.93,35.63 51.31,36.12 51.42,36.54 C51.53,36.97 51.50,37.45 51.43,37.87 C51.36,38.29 51.22,38.66 51.00,39.08Z" fill="none" stroke="#9a9a9a" stroke-width="0.4" opacity="1"/>
<path d="M49.96,38.46 C49.80,38.68 49.45,39.18 49.25,39.39 C49.04,39.60 48.92,39.62 48.71,39.71 C48.50,39.80 48.16,39.97 47.96,39.93 C47.77,39.90 47.68,39.58 47.54,39.51 C47.40,39.43 47.28,39.67 47.14,39.49 C47.01,39.30 46.73,38.69 46.73,38.40 C46.73,38.11 47.02,37.91 47.14,37.74 C47.26,37.57 47.30,37.57 47.44,37.38 C47.58,37.19 47.77,36.77 47.99,36.62 C48.21,36.47 48.61,36.59 48.76,36.47 C48.92,36.36 48.83,35.95 48.93,35.92 C49.03,35.88 49.24,36.11 49.38,36.26 C49.53,36.41 49.65,36.68 49.78,36.80 C49.90,36.92 50.08,36.74 50.15,36.96 C50.21,37.17 50.19,37.82 50.16,38.07 C50.13,38.32 50.11,38.24 49.96,38.46Z" fill="none" stroke="#9a9a9a" stroke-width="0.4" opacity="1"/>
</g>
<rect x="174.5" y="204.5" width="64" height="59.5" fill="none" stroke="#666" stroke-width="1"/>
<text x="177.0" y="216.5" font-size="12.5" text-anchor="start" font-weight="normal" font-style="normal" fill="#111" >2</text>
<text x="235.5" y="216.5" font-size="12.5" text-anchor="end" font-weight="normal" font-style="normal" fill="#111" >36</text>
<text x="235.5" y="262.2" font-size="12.5" text-anchor="end" font-weight="normal" font-style="normal" fill="#111" >61</text>
<line x1="285.5" y1="204.5" x2="285.5" y2="264.0" stroke="#9a9a9a" stroke-width="1"/>
<line x1="253.5" y1="240.0" x2="317.5" y2="240.0" stroke="#9a9a9a" stroke-width="1"/>
<g transform="translate(253.5,204.5)">
<path d="M39.6 24.3h0.9M32.7 25.5h0.9M40.7 34.4h0.9M30.4 32.7h0.9M26.2 28.1h0.9M20.0 39.6h0.9M12.7 45.1h0.9M24.8 30.3h0.9M21.2 32.3h0.9M38.7 41.3h0.9M30.1 31.0h0.9M22.5 39.1h0.9M41.9 35.5h0.9M37.9 31.2h0.9M34.1 36.5h0.9M27.3 34.3h0.9M18.9 28.8h0.9M28.1 27.1h0.9M18.7 38.4h0.9M24.0 37.0h0.9M29.6 29.2h0.9M34.9 30.0h0.9M38.2 34.9h0.9M20.1 38.9h0.9M42.2 39.4h0.9M17.0 30.7h0.9M38.5 30.7h0.9M17.8 37.6h0.9M22.7 39.0h0.9M28.8 33.5h0.9M26.4 34.5h0.9M30.0 23.8h0.9M33.7 36.1h0.9M33.0 37.6h0.9M30.9 33.5h0.9M24.8 26.2h0.9M16.6 36.8h0.9M1.4 30.8h0.9M32.1 35.8h0.9M34.6 44.5h0.9M29.7 35.4h0.9M40.4 34.8h0.9M12.2 34.3h0.9M43.1 29.0h0.9M11.0 22.8h0.9M19.3 25.5h0.9M22.6 37.5h0.9M36.0 36.8h0.9M21.0 27.5h0.9M25.6 28.2h0.9M25.2 28.6h0.9M14.5 36.0h0.9M4.0 39.8h0.9M21.0 33.1h0.9M43.2 33.2h0.9M29.9 32.6h0.9M19.6 31.9h0.9M25.8 33.3h0.9M37.4 32.4h0.9M12.0 31.6h0.9M46.0 30.9h0.9M27.7 38.1h0.9M15.2 27.7h0.9M27.0 29.5h0.9M43.6 29.4h0.9M41.3 33.0h0.9M40.6 38.0h0.9M20.4 38.0h0.9M17.0 37.4h0.9M11.3 35.1h0.9M35.2 24.4h0.9M16.8 39.7h0.9M26.2 27.1h0.9M20.6 35.4h0.9M34.9 33.2h0.9M25.1 42.3h0.9M5.2 30.5h0.9M22.0 31.6h0.9M10.0 35.9h0.9M22.2 34.5h0.9M15.6 30.6h0.9M31.9 32.0h0.9M17.2 34.1h0.9M29.6 32.0h0.9M33.1 42.3h0.9M29.6 22.6h0.9M28.6 26.9h0.9M42.6 30.4h0.9M16.0 29.0h0.9M12.6 46.8h0.9M38.2 34.8h0.9M22.7 28.0h0.9M13.2 37.4h0.9M27.7 35.8h0.9M12.2 33.8h0.9M15.7 39.1h0.9M28.0 35.4h0.9M31.7 37.8h0.9M25.3 32.7h0.9M48.9 29.6h0.9M21.3 36.6h0.9M38.3 33.2h0.9M23.8 30.6h0.9M34.0 29.8h0.9M39.2 34.1h0.9M21.3 42.0h0.9M21.0 39.4h0.9M34.4 38.7h0.9M25.6 32.8h0.9M17.1 27.1h0.9M25.6 34.9h0.9M26.4 29.0h0.9M22.6 35.4h0.9M30.3 29.0h0.9M42.0 32.1h0.9M18.7 35.4h0.9M5.6 33.8h0.9M46.0 37.3h0.9M24.4 29.9h0.9M37.9 40.8h0.9M16.4 39.3h0.9M16.7 41.6h0.9M22.5 34.7h0.9M29.5 48.0h0.9M20.5 31.9h0.9M41.2 34.0h0.9M32.3 34.2h0.9M19.7 33.8h0.9M21.4 35.0h0.9M21.3 39.2h0.9M35.5 36.0h0.9M28.8 39.9h0.9M23.4 24.3h0.9M18.6 45.1h0.9M26.1 34.6h0.9M8.3 33.5h0.9M17.0 37.2h0.9M34.9 25.9h0.9M20.9 33.6h0.9M15.7 32.7h0.9M28.0 38.5h0.9M16.8 33.5h0.9M17.4 34.6h0.9M25.4 42.7h0.9M5.2 35.0h0.9M20.3 26.7h0.9M19.5 27.9h0.9M23.9 30.9h0.9M31.7 29.1h0.9M14.2 36.6h0.9M15.7 32.8h0.9M26.7 39.8h0.9M29.5 33.8h0.9M24.7 32.9h0.9M37.6 42.6h0.9M17.7 50.9h0.9M28.1 34.1h0.9M19.0 32.9h0.9M19.9 33.9h0.9" stroke="#666" stroke-width="0.9" opacity="0.6"/>
<path d="M43.4 37.7h0.9M50.9 39.2h0.9M43.6 38.3h0.9M47.9 31.2h0.9M42.0 33.4h0.9M43.5 39.1h0.9M46.6 35.4h0.9M37.2 37.1h0.9M42.6 30.4h0.9M35.3 21.7h0.9M42.0 25.9h0.9M45.4 34.4h0.9M46.1 39.4h0.9M37.6 45.2h0.9M46.8 39.9h0.9M43.8 37.5h0.9M51.1 32.9h0.9M44.8 33.5h0.9M42.6 37.0h0.9M44.7 32.3h0.9M40.5 39.1h0.9M47.4 38.0h0.9M40.5 34.0h0.9M45.5 27.6h0.9M44.9 29.2h0.9M38.3 36.9h0.9M46.0 35.0h0.9M42.3 44.3h0.9M47.8 36.6h0.9M46.8 39.1h0.9M43.4 29.7h0.9M46.5 36.5h0.9M47.4 28.1h0.9M42.5 38.3h0.9M45.6 35.4h0.9M41.1 36.3h0.9M48.1 37.4h0.9M47.5 31.9h0.9M39.0 36.4h0.9M44.6 24.8h0.9M38.3 33.6h0.9M52.7 37.1h0.9M45.4 37.0h0.9M40.6 28.3h0.9M40.4 30.7h0.9M40.9 26.0h0.9M48.5 38.1h0.9M43.4 22.9h0.9M41.1 44.0h0.9M42.1 31.7h0.9M38.5 42.7h0.9M49.2 37.6h0.9M41.3 20.1h0.9M39.8 30.2h0.9M44.7 33.9h0.9M47.7 34.0h0.9M40.9 29.1h0.9M40.5 41.0h0.9M51.9 31.0h0.9M40.3 33.4h0.9M42.7 34.4h0.9M38.9 38.7h0.9M44.2 37.8h0.9M44.5 36.0h0.9M39.3 26.0h0.9M36.7 37.8h0.9M48.1 49.0h0.9M42.2 34.8h0.9M45.9 34.1h0.9M42.5 29.1h0.9M39.5 28.8h0.9M46.3 22.3h0.9M43.4 36.4h0.9M36.5 25.9h0.9M39.0 29.0h0.9M40.9 26.0h0.9M36.5 34.4h0.9M43.7 25.2h0.9M43.9 34.6h0.9M36.5 34.8h0.9M43.0 28.3h0.9M47.9 32.5h0.9M36.3 26.7h0.9M41.7 30.2h0.9M47.4 33.3h0.9M43.1 40.4h0.9M44.9 40.0h0.9M40.3 41.7h0.9M44.3 32.4h0.9M50.0 28.8h0.9M46.6 36.1h0.9M38.4 28.0h0.9M38.2 35.1h0.9M35.1 30.9h0.9M46.2 17.5h0.9M50.9 32.7h0.9M34.8 31.3h0.9M43.9 34.1h0.9M48.8 24.9h0.9M42.2 50.3h0.9M39.1 38.5h0.9M46.4 39.8h0.9M41.0 42.6h0.9M39.5 36.0h0.9M38.5 39.3h0.9M40.8 33.6h0.9M40.9 31.6h0.9M44.0 41.8h0.9M44.4 30.8h0.9M38.1 28.3h0.9M50.6 25.2h0.9M47.8 34.0h0.9M43.3 36.1h0.9M37.2 31.0h0.9M44.1 40.6h0.9M46.6 29.4h0.9M40.7 37.1h0.9M37.2 43.3h0.9M46.3 40.6h0.9M39.0 23.4h0.9M47.8 34.6h0.9M46.9 33.9h0.9M41.6 44.3h0.9M42.2 31.9h0.9M38.4 27.7h0.9M42.0 23.1h0.9M41.0 34.9h0.9M49.0 43.8h0.9M46.4 27.2h0.9M45.5 29.5h0.9M48.1 29.9h0.9M39.1 31.1h0.9M49.2 36.7h0.9M39.4 40.6h0.9M41.8 28.9h0.9M42.2 16.4h0.9M50.3 23.2h0.9M40.7 37.5h0.9M41.0 30.6h0.9M46.6 33.7h0.9M40.0 31.9h0.9M36.3 40.6h0.9M40.2 31.7h0.9M36.5 38.5h0.9M37.1 35.3h0.9M39.8 24.5h0.9M38.7 33.8h0.9M46.2 34.6h0.9M37.4 33.4h0.9M43.3 28.8h0.9M54.9 35.1h0.9M43.6 32.5h0.9M42.2 32.8h0.9M44.3 21.4h0.9M40.6 30.2h0.9M46.5 33.7h0.9M38.7 22.2h0.9M42.5 28.4h0.9M49.7 35.1h0.9M49.3 35.5h0.9" stroke="#555" stroke-width="0.9" opacity="0.5"/>
<path d="M51.4 37.5h0.9M48.7 34.0h0.9M50.2 33.9h0.9M52.1 33.0h0.9M47.7 40.1h0.9M50.0 36.5h0.9M53.0 33.7h0.9M49.4 34.4h0.9M49.5 28.5h0.9M42.5 25.3h0.9M52.1 31.1h0.9M48.2 25.8h0.9M40.6 33.6h0.9M53.2 37.8h0.9M45.5 30.8h0.9M48.4 35.3h0.9M47.6 33.9h0.9M45.2 29.5h0.9M49.2 39.2h0.9M50.4 23.1h0.9M48.1 28.1h0.9M47.5 37.6h0.9M49.8 31.4h0.9M50.6 25.9h0.9M45.8 33.0h0.9M47.5 37.2h0.9M48.2 27.9h0.9M49.1 33.3h0.9M46.1 32.6h0.9M43.0 32.4h0.9M48.3 35.9h0.9M52.7 35.1h0.9M48.7 39.8h0.9M48.4 31.8h0.9M46.1 35.5h0.9M44.4 27.4h0.9M45.5 41.7h0.9M48.8 32.3h0.9M51.2 31.1h0.9M47.6 29.9h0.9M48.7 29.9h0.9M47.8 33.3h0.9M45.7 31.7h0.9M49.7 31.3h0.9M43.5 31.6h0.9M46.7 29.8h0.9M43.2 34.8h0.9M44.7 29.4h0.9M44.6 36.5h0.9M49.0 34.0h0.9M48.1 26.8h0.9M44.8 31.8h0.9M46.1 30.3h0.9M50.1 29.8h0.9M48.2 28.1h0.9M46.3 36.5h0.9M50.5 30.3h0.9M48.0 32.8h0.9M45.0 32.4h0.9M47.3 30.9h0.9" stroke="#111" stroke-width="0.9" opacity="0.6"/>
<path d="M50.5 47.1h0.9M42.4 44.1h0.9M46.1 36.4h0.9M47.9 47.2h0.9M52.1 28.5h0.9M47.1 21.5h0.9M45.4 43.1h0.9M54.6 26.8h0.9M52.6 27.7h0.9M58.5 38.7h0.9M51.0 27.7h0.9M52.7 25.2h0.9M53.1 48.0h0.9M56.1 42.4h0.9M57.2 27.9h0.9M46.0 27.6h0.9M58.1 25.7h0.9M56.3 42.7h0.9M60.0 35.1h0.9M60.2 32.2h0.9M57.5 23.1h0.9M46.0 36.6h0.9M51.0 29.6h0.9M55.8 27.6h0.9M46.0 40.5h0.9M47.1 36.6h0.9M37.6 34.3h0.9M59.1 40.4h0.9M50.2 45.2h0.9M51.1 46.8h0.9M46.0 30.3h0.9M52.2 23.9h0.9M54.8 23.4h0.9M47.3 49.7h0.9M47.3 40.8h0.9M44.1 42.1h0.9M60.9 38.8h0.9M45.9 46.6h0.9M42.9 35.8h0.9M47.0 42.6h0.9M46.2 34.2h0.9M60.1 44.7h0.9M46.2 37.0h0.9M56.2 44.0h0.9M60.0 28.7h0.9M52.4 47.4h0.9M48.9 44.3h0.9M49.7 49.5h0.9M53.6 27.1h0.9M50.1 47.7h0.9M40.6 40.9h0.9M49.5 30.6h0.9M48.1 45.9h0.9M52.8 28.3h0.9M47.9 26.9h0.9M60.5 40.5h0.9M54.2 21.8h0.9M56.1 43.1h0.9M59.3 34.6h0.9M54.8 27.2h0.9M60.1 45.9h0.9M60.4 40.9h0.9M56.8 27.4h0.9M45.8 45.6h0.9M47.0 32.4h0.9M58.5 30.4h0.9M41.7 46.9h0.9M46.2 29.8h0.9M51.9 49.9h0.9M50.9 29.3h0.9M51.3 46.4h0.9M61.7 39.0h0.9M57.1 24.2h0.9M45.4 45.6h0.9M62.0 36.3h0.9M54.5 44.5h0.9M51.9 29.5h0.9M61.8 38.0h0.9M57.1 25.4h0.9M47.0 33.3h0.9M37.7 39.9h0.9M54.3 44.7h0.9M59.7 23.7h0.9M54.5 44.8h0.9M58.8 39.1h0.9M47.9 50.1h0.9M51.8 24.3h0.9M61.0 30.5h0.9M58.6 29.3h0.9M47.1 46.5h0.9M55.5 28.0h0.9M49.0 44.2h0.9M44.6 25.9h0.9M50.0 29.3h0.9M61.7 29.1h0.9M60.1 29.4h0.9M45.3 30.7h0.9M47.3 36.1h0.9M45.7 21.8h0.9M55.1 22.3h0.9M60.1 33.8h0.9M59.9 41.6h0.9M59.8 37.1h0.9M62.3 26.2h0.9M60.9 22.8h0.9M57.8 28.2h0.9M54.8 27.4h0.9M56.7 22.2h0.9M39.4 28.9h0.9M52.4 44.5h0.9M47.1 33.8h0.9M54.1 45.8h0.9M58.5 29.7h0.9M43.5 35.0h0.9M56.5 26.1h0.9M57.9 29.6h0.9M55.6 44.8h0.9M46.9 31.9h0.9M41.8 46.3h0.9M57.8 28.6h0.9M52.5 27.9h0.9M52.3 49.6h0.9M46.1 35.8h0.9M57.8 21.1h0.9M45.9 42.6h0.9M59.5 38.3h0.9M57.0 47.0h0.9M48.2 25.6h0.9M57.5 41.8h0.9M50.7 49.3h0.9M45.5 34.2h0.9M57.2 26.1h0.9M54.7 27.6h0.9M41.5 45.9h0.9M54.7 23.6h0.9M48.8 46.0h0.9M58.7 27.8h0.9M56.3 44.6h0.9M56.6 26.8h0.9M53.0 27.2h0.9M53.2 47.0h0.9M60.0 35.3h0.9M57.0 44.6h0.9M43.9 34.5h0.9M51.6 47.3h0.9M53.2 45.0h0.9M58.9 31.7h0.9M61.7 30.1h0.9M50.7 45.4h0.9M56.3 45.8h0.9M59.2 32.4h0.9M53.7 26.0h0.9M56.7 27.5h0.9M42.3 27.9h0.9M50.5 28.7h0.9M58.6 29.9h0.9M44.9 44.8h0.9M46.1 45.4h0.9M53.4 44.9h0.9M53.0 46.2h0.9M43.6 39.8h0.9M50.7 48.5h0.9M54.4 45.5h0.9M52.7 26.5h0.9M43.0 41.2h0.9M47.9 47.5h0.9M56.2 24.1h0.9M53.8 44.8h0.9M51.5 25.3h0.9M38.3 40.0h0.9M54.9 44.6h0.9M58.9 21.2h0.9M56.3 45.3h0.9M40.8 35.9h0.9M46.9 41.1h0.9M58.4 45.9h0.9M42.5 43.3h0.9M47.0 42.3h0.9M52.8 45.0h0.9M53.8 44.3h0.9M53.2 48.0h0.9M53.6 46.3h0.9M59.5 39.6h0.9M55.9 21.9h0.9M44.3 32.1h0.9M49.4 46.6h0.9M59.0 21.3h0.9M48.4 30.5h0.9M49.6 27.9h0.9M55.2 27.4h0.9M42.0 32.8h0.9M59.1 31.1h0.9M54.6 25.5h0.9M59.1 29.8h0.9M49.9 44.3h0.9M50.2 50.0h0.9M58.3 29.5h0.9M60.4 35.9h0.9M58.1 28.5h0.9M51.6 28.3h0.9M58.4 25.4h0.9M53.2 27.7h0.9M38.9 31.8h0.9M47.8 46.6h0.9M46.9 35.0h0.9M56.4 22.7h0.9M51.9 29.3h0.9M53.5 25.3h0.9M51.0 30.3h0.9M45.5 39.5h0.9M45.0 45.7h0.9M58.7 35.0h0.9M54.1 27.8h0.9M60.0 38.0h0.9M50.9 47.8h0.9M59.5 30.2h0.9M61.0 37.3h0.9M53.6 26.0h0.9M43.9 42.9h0.9M55.0 18.8h0.9M53.5 26.9h0.9M45.1 41.3h0.9M41.1 42.1h0.9M59.3 33.5h0.9M57.1 23.0h0.9M44.1 35.6h0.9M46.1 48.0h0.9M43.8 47.7h0.9M60.3 34.2h0.9M44.9 40.2h0.9M54.6 45.0h0.9M59.8 27.0h0.9M60.2 42.1h0.9M54.6 19.7h0.9M62.1 27.8h0.9M50.1 27.3h0.9M48.8 46.6h0.9M41.6 32.1h0.9M40.4 34.6h0.9M55.9 28.3h0.9M57.3 42.9h0.9M43.2 41.0h0.9M55.8 27.9h0.9M48.8 25.8h0.9M59.0 33.3h0.9M56.2 43.0h0.9M59.6 42.6h0.9M51.5 49.5h0.9M44.4 41.6h0.9M44.8 36.9h0.9M52.6 28.3h0.9M56.3 26.4h0.9M59.8 37.8h0.9M46.7 39.0h0.9M54.0 44.7h0.9M56.2 24.1h0.9" stroke="#222" stroke-width="0.9" opacity="0.5"/>
<path d="M58.65,38.08 C58.33,39.16 57.85,40.27 57.28,41.17 C56.70,42.06 55.96,42.88 55.20,43.45 C54.44,44.02 53.53,44.42 52.70,44.57 C51.86,44.72 50.95,44.65 50.19,44.37 C49.43,44.09 48.68,43.56 48.14,42.91 C47.60,42.26 47.17,41.37 46.95,40.45 C46.73,39.52 46.69,38.42 46.82,37.36 C46.95,36.31 47.30,35.15 47.75,34.12 C48.20,33.08 48.84,32.03 49.51,31.17 C50.18,30.31 50.98,29.52 51.75,28.95 C52.51,28.38 53.34,27.96 54.09,27.77 C54.83,27.58 55.58,27.60 56.21,27.83 C56.84,28.06 57.42,28.53 57.87,29.15 C58.32,29.77 58.69,30.63 58.91,31.56 C59.13,32.48 59.24,33.61 59.19,34.70 C59.15,35.79 58.97,37.01 58.65,38.08Z" transform="translate(0,0)" fill="#0a0a0a" stroke="#0a0a0a" stroke-width="2.6" stroke-linejoin="round" filter="url(#fz)"/>
<path d="M58.65,38.08 C58.33,39.16 57.85,40.27 57.28,41.17 C56.70,42.06 55.96,42.88 55.20,43.45 C54.44,44.02 53.53,44.42 52.70,44.57 C51.86,44.72 50.95,44.65 50.19,44.37 C49.43,44.09 48.68,43.56 48.14,42.91 C47.60,42.26 47.17,41.37 46.95,40.45 C46.73,39.52 46.69,38.42 46.82,37.36 C46.95,36.31 47.30,35.15 47.75,34.12 C48.20,33.08 48.84,32.03 49.51,31.17 C50.18,30.31 50.98,29.52 51.75,28.95 C52.51,28.38 53.34,27.96 54.09,27.77 C54.83,27.58 55.58,27.60 56.21,27.83 C56.84,28.06 57.42,28.53 57.87,29.15 C58.32,29.77 58.69,30.63 58.91,31.56 C59.13,32.48 59.24,33.61 59.19,34.70 C59.15,35.79 58.97,37.01 58.65,38.08Z" transform="translate(-0.8,-0.8)" fill="#0a0a0a" stroke="#0a0a0a" stroke-width="2.6" stroke-linejoin="round" filter="url(#fz)"/>
<path d="M58.65,38.08 C58.33,39.16 57.85,40.27 57.28,41.17 C56.70,42.06 55.96,42.88 55.20,43.45 C54.44,44.02 53.53,44.42 52.70,44.57 C51.86,44.72 50.95,44.65 50.19,44.37 C49.43,44.09 48.68,43.56 48.14,42.91 C47.60,42.26 47.17,41.37 46.95,40.45 C46.73,39.52 46.69,38.42 46.82,37.36 C46.95,36.31 47.30,35.15 47.75,34.12 C48.20,33.08 48.84,32.03 49.51,31.17 C50.18,30.31 50.98,29.52 51.75,28.95 C52.51,28.38 53.34,27.96 54.09,27.77 C54.83,27.58 55.58,27.60 56.21,27.83 C56.84,28.06 57.42,28.53 57.87,29.15 C58.32,29.77 58.69,30.63 58.91,31.56 C59.13,32.48 59.24,33.61 59.19,34.70 C59.15,35.79 58.97,37.01 58.65,38.08Z" fill="#050505" stroke="#050505" stroke-width="1.6" stroke-linejoin="round"/>
<path d="M51.9 26.8h0.9M60.7 39.5h0.9M52.1 25.0h0.9M51.1 29.9h0.9M49.5 46.3h0.9M50.9 44.7h0.9M47.2 45.7h0.9M48.3 30.3h0.9M44.7 35.8h0.9M59.2 42.3h0.9M59.2 32.8h0.9M59.8 32.9h0.9M52.1 24.1h0.9M46.0 40.9h0.9M52.1 45.1h0.9M49.8 24.6h0.9M59.6 36.4h0.9M57.3 29.4h0.9M61.0 30.2h0.9M56.1 23.4h0.9M44.3 35.3h0.9M50.0 46.5h0.9M46.8 32.5h0.9M58.5 40.2h0.9M50.5 44.9h0.9M47.9 28.6h0.9M59.9 37.7h0.9M60.3 27.3h0.9M44.9 41.4h0.9M53.8 45.2h0.9M43.8 42.0h0.9M52.9 25.6h0.9M46.6 33.1h0.9M59.3 24.7h0.9M60.7 40.5h0.9M47.6 35.3h0.9M55.5 45.4h0.9M57.1 25.1h0.9M48.1 28.6h0.9M45.1 43.6h0.9M44.6 36.7h0.9M54.5 44.9h0.9M47.0 42.1h0.9M53.2 27.9h0.9M58.9 33.8h0.9M59.1 39.6h0.9M56.6 29.2h0.9M51.2 23.8h0.9M56.7 28.4h0.9M42.6 34.2h0.9M58.9 38.6h0.9M52.3 28.3h0.9M54.7 45.3h0.9M59.5 31.5h0.9M49.1 44.5h0.9M53.6 45.2h0.9M42.1 34.9h0.9M59.0 27.7h0.9M52.9 27.0h0.9M50.2 46.3h0.9M60.6 31.9h0.9M42.2 32.8h0.9M58.4 43.0h0.9M47.4 31.5h0.9M46.9 43.5h0.9M45.4 40.0h0.9M48.9 27.2h0.9M57.1 29.3h0.9M49.9 23.6h0.9M51.9 45.4h0.9M46.2 36.7h0.9M56.2 43.8h0.9M49.8 44.3h0.9M61.2 35.9h0.9M52.2 46.8h0.9M58.6 39.8h0.9M56.9 27.5h0.9M51.5 22.6h0.9M47.8 32.3h0.9M45.5 43.6h0.9M59.4 35.6h0.9M60.1 35.4h0.9M50.6 45.5h0.9M45.5 37.9h0.9M42.9 42.1h0.9M49.9 30.5h0.9M53.4 44.8h0.9M47.9 25.0h0.9M42.2 37.1h0.9M58.1 24.2h0.9M47.5 47.1h0.9M42.1 42.7h0.9M58.1 40.5h0.9M50.4 44.7h0.9M53.4 45.6h0.9M56.0 25.5h0.9M58.8 37.5h0.9M50.4 25.1h0.9M59.4 32.7h0.9M58.4 28.5h0.9M57.2 42.4h0.9M55.6 27.7h0.9M57.0 28.2h0.9M56.0 24.5h0.9M58.1 29.9h0.9M47.1 42.7h0.9M42.3 41.6h0.9M52.5 26.2h0.9M60.5 28.1h0.9M45.5 36.0h0.9M56.0 28.4h0.9M52.7 45.2h0.9M54.4 22.8h0.9M48.8 45.1h0.9M54.9 46.3h0.9M48.8 46.9h0.9M46.3 37.8h0.9M49.0 44.6h0.9M43.8 28.7h0.9M53.7 45.2h0.9M59.6 26.9h0.9M51.1 45.0h0.9M56.0 26.7h0.9M56.1 23.2h0.9M58.6 37.7h0.9M45.2 38.5h0.9M56.9 42.5h0.9M41.7 33.1h0.9M46.5 41.3h0.9M48.2 29.0h0.9" stroke="#000" stroke-width="0.9" opacity="0.85"/>
<path d="M58.65,38.08 C58.33,39.16 57.85,40.27 57.28,41.17 C56.70,42.06 55.96,42.88 55.20,43.45 C54.44,44.02 53.53,44.42 52.70,44.57 C51.86,44.72 50.95,44.65 50.19,44.37 C49.43,44.09 48.68,43.56 48.14,42.91 C47.60,42.26 47.17,41.37 46.95,40.45 C46.73,39.52 46.69,38.42 46.82,37.36 C46.95,36.31 47.30,35.15 47.75,34.12 C48.20,33.08 48.84,32.03 49.51,31.17 C50.18,30.31 50.98,29.52 51.75,28.95 C52.51,28.38 53.34,27.96 54.09,27.77 C54.83,27.58 55.58,27.60 56.21,27.83 C56.84,28.06 57.42,28.53 57.87,29.15 C58.32,29.77 58.69,30.63 58.91,31.56 C59.13,32.48 59.24,33.61 59.19,34.70 C59.15,35.79 58.97,37.01 58.65,38.08Z" fill="#dcdcdc" stroke="#f4f4f4" stroke-width="0.9"/>
<path d="M57.47,37.91 C57.25,38.77 57.12,39.73 56.68,40.41 C56.23,41.08 55.41,41.51 54.80,41.97 C54.20,42.42 53.66,43.04 53.04,43.15 C52.42,43.26 51.72,42.85 51.07,42.62 C50.42,42.40 49.65,42.29 49.15,41.78 C48.65,41.26 48.21,40.30 48.06,39.51 C47.90,38.72 48.09,37.90 48.21,37.04 C48.33,36.19 48.45,35.24 48.77,34.38 C49.09,33.52 49.59,32.57 50.12,31.87 C50.65,31.16 51.31,30.54 51.96,30.15 C52.62,29.75 53.40,29.63 54.03,29.49 C54.66,29.35 55.30,29.12 55.76,29.33 C56.22,29.54 56.43,30.20 56.78,30.75 C57.13,31.31 57.64,31.91 57.84,32.66 C58.03,33.41 58.02,34.38 57.95,35.25 C57.89,36.12 57.68,37.05 57.47,37.91Z" fill="none" stroke="#f2f2f2" stroke-width="0.55" opacity="1"/>
<path d="M56.34,37.58 C56.21,38.20 55.98,38.73 55.70,39.23 C55.41,39.73 55.12,40.25 54.64,40.58 C54.15,40.92 53.37,41.18 52.78,41.25 C52.19,41.31 51.49,41.19 51.10,40.97 C50.70,40.76 50.66,40.32 50.40,39.95 C50.15,39.58 49.78,39.31 49.58,38.75 C49.37,38.19 49.14,37.21 49.16,36.59 C49.18,35.96 49.41,35.61 49.68,35.00 C49.94,34.39 50.36,33.49 50.76,32.94 C51.15,32.40 51.55,32.10 52.06,31.75 C52.58,31.40 53.38,30.96 53.85,30.84 C54.31,30.73 54.47,30.90 54.88,31.08 C55.29,31.27 56.01,31.61 56.30,31.94 C56.60,32.27 56.63,32.48 56.66,33.07 C56.70,33.67 56.56,34.74 56.51,35.49 C56.45,36.24 56.48,36.95 56.34,37.58Z" fill="none" stroke="#f2f2f2" stroke-width="0.55" opacity="1"/>
<path d="M55.59,36.89 C55.45,37.30 54.83,37.85 54.59,38.16 C54.35,38.48 54.38,38.51 54.15,38.76 C53.92,39.00 53.56,39.53 53.22,39.64 C52.88,39.76 52.41,39.54 52.09,39.45 C51.78,39.35 51.59,39.32 51.32,39.09 C51.05,38.86 50.63,38.43 50.49,38.07 C50.35,37.70 50.44,37.32 50.48,36.88 C50.52,36.44 50.56,35.87 50.76,35.42 C50.96,34.97 51.35,34.50 51.68,34.18 C52.02,33.87 52.48,33.73 52.80,33.52 C53.12,33.31 53.31,33.04 53.60,32.91 C53.89,32.78 54.28,32.70 54.54,32.74 C54.79,32.79 55.02,32.89 55.13,33.18 C55.24,33.48 55.16,34.10 55.21,34.52 C55.26,34.94 55.38,35.31 55.44,35.70 C55.50,36.10 55.73,36.48 55.59,36.89Z" fill="none" stroke="#f2f2f2" stroke-width="0.55" opacity="1"/>
<path d="M54.08,36.32 C54.00,36.46 53.99,36.70 53.87,36.94 C53.75,37.17 53.49,37.63 53.36,37.75 C53.23,37.88 53.20,37.64 53.08,37.68 C52.97,37.73 52.87,38.06 52.68,38.02 C52.49,37.98 52.09,37.65 51.97,37.47 C51.85,37.29 51.93,37.12 51.95,36.96 C51.98,36.79 52.10,36.68 52.10,36.47 C52.11,36.26 51.90,35.96 51.98,35.69 C52.07,35.42 52.48,35.09 52.63,34.88 C52.79,34.66 52.80,34.45 52.92,34.40 C53.03,34.35 53.17,34.59 53.33,34.58 C53.48,34.58 53.70,34.38 53.85,34.37 C54.00,34.37 54.18,34.46 54.24,34.57 C54.30,34.68 54.19,34.77 54.21,35.03 C54.23,35.28 54.36,35.88 54.34,36.10 C54.32,36.31 54.16,36.18 54.08,36.32Z" fill="none" stroke="#f2f2f2" stroke-width="0.55" opacity="1"/>
<path d="M57.30,37.64 C57.03,38.45 56.54,39.02 56.06,39.75 C55.59,40.47 55.04,41.55 54.45,41.99 C53.87,42.42 53.11,42.31 52.55,42.36 C51.98,42.40 51.66,42.41 51.08,42.27 C50.51,42.13 49.58,41.95 49.11,41.51 C48.64,41.07 48.37,40.34 48.26,39.63 C48.14,38.91 48.28,38.11 48.43,37.23 C48.57,36.35 48.78,35.15 49.14,34.32 C49.50,33.50 50.05,32.91 50.56,32.29 C51.08,31.66 51.66,31.01 52.24,30.57 C52.82,30.14 53.55,29.84 54.05,29.66 C54.56,29.48 54.77,29.32 55.26,29.49 C55.76,29.66 56.63,30.19 57.01,30.70 C57.38,31.20 57.40,31.81 57.52,32.50 C57.64,33.20 57.76,34.01 57.72,34.87 C57.69,35.73 57.58,36.82 57.30,37.64Z" fill="none" stroke="#9a9a9a" stroke-width="0.4" opacity="1"/>
<path d="M56.13,37.00 C55.93,37.64 56.05,38.73 55.78,39.32 C55.51,39.90 54.95,40.19 54.51,40.50 C54.07,40.81 53.60,41.08 53.12,41.18 C52.64,41.28 52.14,41.32 51.64,41.12 C51.15,40.92 50.50,40.37 50.15,39.97 C49.80,39.58 49.65,39.27 49.55,38.74 C49.45,38.20 49.51,37.37 49.55,36.77 C49.60,36.17 49.58,35.77 49.81,35.15 C50.03,34.53 50.49,33.58 50.91,33.04 C51.32,32.50 51.85,32.22 52.28,31.92 C52.70,31.61 52.98,31.34 53.46,31.22 C53.93,31.10 54.75,31.07 55.15,31.20 C55.54,31.33 55.59,31.62 55.82,32.03 C56.05,32.44 56.33,33.10 56.52,33.67 C56.71,34.24 57.03,34.89 56.96,35.45 C56.90,36.00 56.33,36.35 56.13,37.00Z" fill="none" stroke="#9a9a9a" stroke-width="0.4" opacity="1"/>
<path d="M55.35,36.93 C55.21,37.47 54.96,38.09 54.70,38.47 C54.43,38.85 54.05,38.98 53.76,39.20 C53.47,39.41 53.26,39.70 52.95,39.77 C52.65,39.85 52.21,39.80 51.92,39.65 C51.62,39.50 51.41,39.21 51.18,38.87 C50.95,38.53 50.63,38.00 50.53,37.59 C50.43,37.18 50.53,36.81 50.57,36.41 C50.60,36.01 50.54,35.54 50.74,35.19 C50.95,34.83 51.49,34.66 51.81,34.29 C52.12,33.92 52.30,33.26 52.62,32.98 C52.95,32.69 53.49,32.57 53.77,32.56 C54.05,32.54 54.11,32.74 54.30,32.88 C54.49,33.02 54.69,33.22 54.88,33.41 C55.08,33.59 55.39,33.70 55.49,34.01 C55.59,34.32 55.52,34.77 55.49,35.26 C55.47,35.75 55.48,36.40 55.35,36.93Z" fill="none" stroke="#9a9a9a" stroke-width="0.4" opacity="1"/>
<path d="M54.35,36.35 C54.23,36.53 54.17,36.77 54.03,36.98 C53.90,37.20 53.68,37.48 53.56,37.65 C53.43,37.81 53.46,37.86 53.29,37.96 C53.11,38.05 52.70,38.26 52.50,38.19 C52.31,38.12 52.20,37.68 52.11,37.53 C52.02,37.39 52.05,37.49 51.95,37.32 C51.86,37.15 51.54,36.80 51.53,36.53 C51.51,36.27 51.70,35.99 51.85,35.72 C51.99,35.46 52.20,35.15 52.40,34.92 C52.61,34.70 52.94,34.47 53.08,34.37 C53.22,34.28 53.13,34.34 53.25,34.33 C53.37,34.33 53.63,34.35 53.79,34.36 C53.95,34.37 54.12,34.23 54.22,34.39 C54.31,34.55 54.27,35.06 54.36,35.31 C54.45,35.56 54.77,35.72 54.77,35.89 C54.76,36.07 54.48,36.17 54.35,36.35Z" fill="none" stroke="#9a9a9a" stroke-width="0.4" opacity="1"/>
</g>
<rect x="253.5" y="204.5" width="64" height="59.5" fill="none" stroke="#666" stroke-width="1"/>
<text x="256.0" y="216.5" font-size="12.5" text-anchor="start" font-weight="normal" font-style="normal" fill="#111" >2</text>
<text x="314.5" y="216.5" font-size="12.5" text-anchor="end" font-weight="normal" font-style="normal" fill="#111" >40</text>
<text x="314.5" y="262.2" font-size="12.5" text-anchor="end" font-weight="normal" font-style="normal" fill="#111" >58</text>
<line x1="352.5" y1="204.5" x2="352.5" y2="264.0" stroke="#9a9a9a" stroke-width="1"/>
<line x1="320.5" y1="240.0" x2="384.5" y2="240.0" stroke="#9a9a9a" stroke-width="1"/>
<g transform="translate(320.5,204.5)">
<path d="M17.0 24.7h0.9M13.6 38.6h0.9M22.0 28.9h0.9M15.8 27.4h0.9M28.4 35.8h0.9M22.9 37.1h0.9M38.2 40.1h0.9M37.4 43.3h0.9M14.3 28.4h0.9M9.7 32.4h0.9M17.6 31.8h0.9M50.7 36.8h0.9M12.4 24.7h0.9M23.9 29.6h0.9M31.7 39.2h0.9M15.7 38.2h0.9M27.3 32.9h0.9M33.2 32.6h0.9M13.2 39.5h0.9M25.5 29.4h0.9M25.6 38.1h0.9M31.1 32.5h0.9M18.7 35.7h0.9M20.4 32.8h0.9M20.1 27.8h0.9M10.7 40.1h0.9M31.6 25.5h0.9M10.2 24.2h0.9M27.9 34.2h0.9M33.5 31.9h0.9M24.7 20.7h0.9M15.5 27.9h0.9M29.1 24.9h0.9M16.4 27.3h0.9M27.9 31.9h0.9M20.3 32.6h0.9M25.5 36.3h0.9M21.8 33.6h0.9M33.9 35.2h0.9M33.3 28.5h0.9M28.6 38.5h0.9M26.6 41.6h0.9M23.4 39.9h0.9M16.4 35.4h0.9M21.0 27.6h0.9M6.1 31.6h0.9M9.7 38.2h0.9M21.4 31.0h0.9M24.4 31.1h0.9M7.0 33.3h0.9M24.1 31.0h0.9M43.9 34.7h0.9M20.3 36.7h0.9M37.5 28.5h0.9M14.0 35.8h0.9M28.7 30.9h0.9M21.5 36.1h0.9M24.4 38.3h0.9M21.7 36.6h0.9M19.0 37.2h0.9M19.8 31.9h0.9M18.6 31.1h0.9M32.4 28.7h0.9M16.2 27.0h0.9M26.9 30.6h0.9M27.3 34.4h0.9M11.3 40.2h0.9M19.9 34.2h0.9M33.1 26.7h0.9M34.7 21.3h0.9M3.7 38.6h0.9M34.6 33.6h0.9M39.7 33.1h0.9M25.1 35.9h0.9M22.6 34.7h0.9M15.4 36.0h0.9M28.2 39.5h0.9M29.4 37.6h0.9M35.9 41.4h0.9M35.3 26.4h0.9M9.2 30.5h0.9M25.8 27.8h0.9M18.2 28.9h0.9M24.2 27.4h0.9M9.5 45.6h0.9M19.0 40.5h0.9M37.8 27.5h0.9M22.4 24.1h0.9M48.9 30.7h0.9M19.9 34.9h0.9M15.8 35.1h0.9M18.7 32.9h0.9M36.5 29.0h0.9M17.4 38.9h0.9M42.3 32.9h0.9M31.0 25.6h0.9M36.5 28.6h0.9M21.8 27.7h0.9M36.6 28.4h0.9M16.8 39.6h0.9M26.4 27.7h0.9M24.6 33.1h0.9M19.8 27.9h0.9M31.4 33.8h0.9M26.5 33.7h0.9M16.0 30.0h0.9M2.4 30.3h0.9M32.9 31.2h0.9M11.4 26.6h0.9M33.3 24.0h0.9M23.2 35.7h0.9M11.6 36.6h0.9M30.2 33.2h0.9M28.5 23.7h0.9M37.7 27.8h0.9M38.0 27.8h0.9M42.1 33.1h0.9M40.3 31.9h0.9M22.5 28.2h0.9" stroke="#666" stroke-width="0.9" opacity="0.6"/>
<path d="M41.6 40.5h0.9M49.4 32.5h0.9M37.1 33.6h0.9M47.1 34.5h0.9M45.4 42.4h0.9M38.4 42.4h0.9M45.9 30.0h0.9M41.4 36.2h0.9M48.0 34.6h0.9M40.4 35.3h0.9M46.1 35.8h0.9M44.2 36.9h0.9M42.4 32.3h0.9M50.0 46.9h0.9M49.0 33.9h0.9M41.5 32.1h0.9M46.7 28.3h0.9M48.0 41.7h0.9M44.9 36.9h0.9M45.6 39.3h0.9M42.7 38.6h0.9M47.0 27.6h0.9M42.1 32.4h0.9M43.2 28.5h0.9M43.5 42.1h0.9M36.8 29.6h0.9M44.7 26.2h0.9M39.5 45.7h0.9M43.1 29.6h0.9M52.3 34.1h0.9M45.1 37.7h0.9M43.8 32.8h0.9M48.8 21.9h0.9M38.5 33.2h0.9M38.9 30.7h0.9M42.6 37.6h0.9M42.0 27.4h0.9M45.4 30.9h0.9M46.1 32.3h0.9M37.0 49.4h0.9M45.4 43.6h0.9M43.3 35.5h0.9M49.4 35.0h0.9M46.2 34.2h0.9M43.2 35.0h0.9M51.3 35.2h0.9M39.2 32.1h0.9M48.3 30.3h0.9M52.9 35.4h0.9M47.2 34.6h0.9M44.8 33.4h0.9M40.5 35.6h0.9M39.6 40.8h0.9M41.9 32.4h0.9M42.0 28.1h0.9M42.5 38.6h0.9M43.2 41.3h0.9M41.5 19.7h0.9M36.2 38.7h0.9M49.8 32.5h0.9M45.5 45.8h0.9M45.4 45.4h0.9M45.7 32.4h0.9M41.4 31.3h0.9M49.5 30.4h0.9M40.4 34.4h0.9M43.9 36.1h0.9M37.7 42.9h0.9M48.0 42.0h0.9M48.7 38.1h0.9M43.0 31.3h0.9M40.1 25.2h0.9M40.8 39.0h0.9M39.0 39.4h0.9M52.6 45.1h0.9M44.4 37.9h0.9M48.3 43.3h0.9M49.4 34.8h0.9M54.6 36.3h0.9M48.9 35.3h0.9M33.0 29.6h0.9M38.9 43.1h0.9M42.7 24.9h0.9M38.8 35.3h0.9M39.0 41.3h0.9M45.3 32.9h0.9M49.9 33.8h0.9M48.2 28.5h0.9M45.5 36.4h0.9M47.1 30.8h0.9M38.3 39.0h0.9M34.5 31.0h0.9M46.9 41.5h0.9M46.4 42.5h0.9M42.3 33.9h0.9M41.3 37.0h0.9M47.0 38.4h0.9M39.6 31.6h0.9M44.6 39.2h0.9M45.3 37.1h0.9M44.9 48.6h0.9M46.2 24.6h0.9M42.8 43.3h0.9M44.6 36.7h0.9M37.1 32.9h0.9M46.7 32.0h0.9M50.7 34.1h0.9M41.7 45.3h0.9M53.3 35.9h0.9M42.6 42.7h0.9M46.1 27.1h0.9M38.0 37.7h0.9M46.3 39.5h0.9M47.2 25.6h0.9M39.4 30.6h0.9M44.9 24.0h0.9M45.4 32.1h0.9M45.8 28.6h0.9M47.7 42.3h0.9M47.1 32.5h0.9M36.6 33.5h0.9M41.2 25.3h0.9M43.4 36.8h0.9M46.0 37.3h0.9M45.7 23.8h0.9M44.4 31.1h0.9M36.9 32.6h0.9M41.8 31.9h0.9M46.2 38.0h0.9M42.6 33.2h0.9M38.7 32.4h0.9M46.0 24.6h0.9M41.4 26.2h0.9M34.9 34.4h0.9M38.7 30.7h0.9M45.8 31.4h0.9M45.6 30.6h0.9M40.5 39.8h0.9M49.5 31.8h0.9M32.9 34.9h0.9M41.4 32.4h0.9M47.8 27.3h0.9M36.1 30.2h0.9M40.6 38.1h0.9M43.7 30.3h0.9M42.3 34.5h0.9M49.8 42.0h0.9M45.5 37.7h0.9M44.6 36.9h0.9M44.9 38.7h0.9M38.0 31.8h0.9M46.3 29.3h0.9M48.3 42.6h0.9M41.5 31.9h0.9M44.1 24.5h0.9M49.5 30.3h0.9M41.2 37.8h0.9M45.6 35.6h0.9M51.4 43.9h0.9M41.8 37.5h0.9M40.5 29.1h0.9M49.3 28.9h0.9M44.8 28.2h0.9M47.4 33.0h0.9M48.7 36.7h0.9M42.1 39.1h0.9M50.1 35.3h0.9M41.7 29.7h0.9M46.2 44.2h0.9M43.4 31.9h0.9M43.4 37.2h0.9M38.1 42.3h0.9M31.0 38.4h0.9M44.9 43.5h0.9M46.8 36.0h0.9M30.0 34.6h0.9M42.5 31.3h0.9M44.9 43.5h0.9M39.0 31.3h0.9M44.7 29.9h0.9M44.8 42.2h0.9M43.6 34.4h0.9M47.0 26.2h0.9M46.7 35.4h0.9M38.2 33.6h0.9M41.3 31.3h0.9M51.8 18.7h0.9M41.4 36.1h0.9M37.3 33.3h0.9M40.1 36.7h0.9M43.6 30.0h0.9M47.8 29.0h0.9M46.0 32.0h0.9M48.2 39.3h0.9M43.6 32.2h0.9M50.9 39.0h0.9M43.4 34.4h0.9M46.5 29.3h0.9M47.8 36.4h0.9M50.6 32.2h0.9" stroke="#444" stroke-width="0.9" opacity="0.5"/>
<path d="M45.2 42.2h0.9M45.3 39.1h0.9M43.0 27.4h0.9M39.9 32.8h0.9M48.9 39.7h0.9M40.7 32.3h0.9M45.1 34.4h0.9M44.3 27.9h0.9M46.9 30.0h0.9M40.5 46.0h0.9M44.7 35.1h0.9M40.1 36.8h0.9M49.5 35.0h0.9M42.6 25.7h0.9M45.2 31.3h0.9M48.1 36.9h0.9M49.0 33.9h0.9M46.2 39.2h0.9M49.0 33.8h0.9M43.3 28.2h0.9M47.9 39.5h0.9M45.2 36.2h0.9M47.9 27.0h0.9M46.2 35.0h0.9M47.3 40.1h0.9M49.0 30.4h0.9M43.8 36.8h0.9M43.8 32.5h0.9M50.1 24.7h0.9M45.4 36.7h0.9M46.5 38.9h0.9M44.5 32.3h0.9M44.9 28.4h0.9M41.8 28.3h0.9M42.8 33.6h0.9M44.4 33.2h0.9M48.8 42.6h0.9M45.0 25.3h0.9M43.1 27.5h0.9M46.8 39.8h0.9M44.3 20.7h0.9M49.8 36.5h0.9M43.6 33.3h0.9M42.0 32.5h0.9M43.1 27.4h0.9M45.3 38.7h0.9M48.4 35.1h0.9M42.4 32.0h0.9M44.7 34.9h0.9M45.5 35.7h0.9M46.4 30.2h0.9M48.3 29.6h0.9M48.6 26.1h0.9M40.7 31.4h0.9M50.4 32.7h0.9M45.4 26.7h0.9M49.3 35.7h0.9M44.4 25.5h0.9M45.3 19.5h0.9M43.5 31.8h0.9M46.8 26.6h0.9M40.2 38.5h0.9M51.1 34.2h0.9M48.9 36.6h0.9M48.6 31.1h0.9M45.7 40.3h0.9M46.8 30.3h0.9M47.4 30.6h0.9M47.4 34.2h0.9M47.4 24.1h0.9M46.3 32.8h0.9M48.0 37.6h0.9M47.5 34.5h0.9M44.0 24.8h0.9M43.6 26.1h0.9M48.2 31.6h0.9M46.7 37.6h0.9M40.4 33.3h0.9M44.1 26.8h0.9M45.4 34.2h0.9M44.5 39.7h0.9M45.0 26.7h0.9M45.2 46.7h0.9M52.6 31.2h0.9M46.7 35.3h0.9M44.6 34.6h0.9M47.7 32.2h0.9M43.2 31.0h0.9M46.5 30.7h0.9M46.5 29.2h0.9M39.2 38.0h0.9M48.9 23.6h0.9M42.1 39.8h0.9M47.3 32.5h0.9M46.3 36.6h0.9M46.6 30.7h0.9M50.3 34.0h0.9M46.8 36.5h0.9M50.4 24.9h0.9M46.9 32.0h0.9M46.4 33.0h0.9M47.5 28.7h0.9M44.8 31.1h0.9M46.8 34.9h0.9M44.4 26.0h0.9M45.0 27.1h0.9M49.2 33.9h0.9M41.0 36.8h0.9M46.6 32.7h0.9M50.5 34.0h0.9" stroke="#111" stroke-width="0.9" opacity="0.6"/>
<path d="M60.7 31.2h0.9M58.0 35.2h0.9M41.6 41.2h0.9M46.2 44.9h0.9M44.2 40.0h0.9M40.0 38.1h0.9M49.2 49.0h0.9M55.7 48.0h0.9M57.4 28.1h0.9M49.2 30.0h0.9M42.8 41.2h0.9M55.8 28.0h0.9M52.8 27.7h0.9M43.3 39.7h0.9M58.0 36.3h0.9M60.1 28.7h0.9M52.0 25.2h0.9M44.0 34.3h0.9M58.0 32.9h0.9M41.9 45.5h0.9M48.2 24.7h0.9M59.9 34.0h0.9M49.0 45.1h0.9M45.6 35.0h0.9M57.2 39.2h0.9M54.4 26.5h0.9M57.1 43.9h0.9M38.6 37.0h0.9M56.8 27.4h0.9M35.9 27.9h0.9M50.2 45.3h0.9M55.6 28.3h0.9M54.3 44.0h0.9M53.0 46.8h0.9M45.0 47.7h0.9M53.9 18.4h0.9M47.5 28.2h0.9M40.5 40.6h0.9M47.5 31.3h0.9M55.3 26.7h0.9M43.6 27.0h0.9M48.0 46.1h0.9M49.2 49.5h0.9M53.4 43.9h0.9M51.6 22.9h0.9M42.6 40.2h0.9M59.7 37.4h0.9M53.5 43.7h0.9M43.5 43.0h0.9M41.9 47.8h0.9M39.6 37.5h0.9M44.2 43.9h0.9M57.8 31.2h0.9M48.0 32.3h0.9M39.8 37.7h0.9M53.5 47.2h0.9M53.1 48.1h0.9M50.7 50.7h0.9M56.6 41.3h0.9M55.6 18.1h0.9M56.2 29.1h0.9M51.1 51.0h0.9M52.5 48.2h0.9M53.7 49.0h0.9M58.9 33.4h0.9M48.5 45.8h0.9M42.0 39.2h0.9M56.2 41.1h0.9M55.7 47.3h0.9M59.9 33.6h0.9M49.8 49.5h0.9M51.5 45.2h0.9M59.0 36.5h0.9M53.7 19.8h0.9M53.4 44.3h0.9M57.5 29.5h0.9M60.6 30.3h0.9M53.0 17.6h0.9M46.7 32.5h0.9M59.4 22.1h0.9M38.0 45.2h0.9M47.3 24.9h0.9M34.6 35.8h0.9M43.3 23.5h0.9M61.5 41.4h0.9M59.4 30.0h0.9M44.6 41.9h0.9M58.1 31.3h0.9M55.7 26.1h0.9M49.4 27.0h0.9M50.0 45.7h0.9M51.5 28.7h0.9M57.7 28.9h0.9M46.1 29.6h0.9M58.3 29.6h0.9M45.8 32.3h0.9M58.4 25.9h0.9M58.0 26.5h0.9M44.1 35.9h0.9M48.2 51.4h0.9M56.7 29.7h0.9M56.1 28.9h0.9M41.8 46.5h0.9M51.8 25.4h0.9M49.0 48.5h0.9M53.7 26.0h0.9M50.1 45.7h0.9M51.1 27.7h0.9M49.8 17.9h0.9M52.1 24.7h0.9M42.2 41.9h0.9M45.6 44.6h0.9M38.4 26.9h0.9M41.5 49.8h0.9M51.3 44.8h0.9M54.5 25.2h0.9M46.0 33.7h0.9M40.1 42.2h0.9M46.0 44.5h0.9M52.5 19.9h0.9M50.6 46.8h0.9M45.9 34.9h0.9M56.5 41.7h0.9M58.3 39.2h0.9M54.7 19.8h0.9M39.6 39.7h0.9M40.7 40.6h0.9M35.7 44.3h0.9M44.0 43.2h0.9M60.3 33.7h0.9M53.3 19.7h0.9M40.3 22.6h0.9M56.0 27.6h0.9M58.3 32.0h0.9M36.4 43.7h0.9M49.7 29.3h0.9M53.9 43.2h0.9M40.0 41.4h0.9M55.6 45.2h0.9M48.9 31.0h0.9M53.3 44.5h0.9M58.4 32.0h0.9M46.5 46.8h0.9M46.2 44.5h0.9M41.2 35.8h0.9M36.5 41.5h0.9M52.6 27.0h0.9M44.8 41.9h0.9M50.8 21.9h0.9M51.2 45.5h0.9M56.3 26.5h0.9M44.3 36.9h0.9M58.1 42.5h0.9M56.9 39.3h0.9M41.8 28.9h0.9M58.3 35.7h0.9M41.3 35.0h0.9M52.6 44.1h0.9M61.2 32.0h0.9M50.5 48.3h0.9M58.7 36.7h0.9M61.5 27.5h0.9M55.7 19.3h0.9M62.5 30.1h0.9M47.2 45.7h0.9M58.2 26.3h0.9M44.1 43.6h0.9M56.0 28.1h0.9M45.4 42.6h0.9M45.4 35.7h0.9M41.7 44.7h0.9M55.6 40.3h0.9M58.0 31.2h0.9M43.9 41.9h0.9M58.0 20.4h0.9M53.2 45.5h0.9M45.9 46.0h0.9M55.1 46.1h0.9M43.5 47.3h0.9M53.1 26.7h0.9M49.0 48.7h0.9M57.9 39.6h0.9M46.1 20.2h0.9M43.3 39.3h0.9M57.7 34.9h0.9M44.0 38.4h0.9M47.7 31.0h0.9M55.1 46.2h0.9M52.5 24.4h0.9M53.9 27.6h0.9M57.4 32.0h0.9M41.6 43.2h0.9M48.4 24.7h0.9M55.3 47.6h0.9M40.0 39.8h0.9M45.3 35.6h0.9M51.6 26.6h0.9M56.3 27.6h0.9M55.4 17.5h0.9M47.5 45.6h0.9M56.3 29.1h0.9M34.0 39.3h0.9M55.9 44.5h0.9M58.1 29.4h0.9M40.4 47.6h0.9M57.9 26.4h0.9M47.3 46.6h0.9M47.3 29.2h0.9M40.4 26.2h0.9M58.3 38.4h0.9M50.1 22.0h0.9M57.2 26.5h0.9M42.5 31.8h0.9M47.2 22.6h0.9M56.2 42.2h0.9M38.6 25.5h0.9M42.0 45.1h0.9M49.5 45.6h0.9M44.9 41.2h0.9M44.3 42.1h0.9M54.3 44.4h0.9M43.1 43.9h0.9M51.6 47.3h0.9M50.2 28.1h0.9M56.9 24.1h0.9M57.3 36.8h0.9M41.3 43.9h0.9M41.0 40.5h0.9M44.2 30.5h0.9M42.0 44.3h0.9M57.1 25.7h0.9M50.7 46.4h0.9M58.1 36.0h0.9M57.8 28.8h0.9M51.6 45.1h0.9M47.4 50.7h0.9M50.8 19.0h0.9M42.3 44.4h0.9M53.6 21.9h0.9M52.6 25.5h0.9M59.2 36.0h0.9M55.7 42.8h0.9M41.2 43.9h0.9M42.9 32.1h0.9M58.4 30.1h0.9M51.7 24.3h0.9M52.9 18.8h0.9M48.9 23.7h0.9M56.3 28.3h0.9M45.4 35.0h0.9M39.1 45.1h0.9M57.8 35.6h0.9M44.8 43.8h0.9M57.6 29.2h0.9M46.1 45.7h0.9M50.5 26.2h0.9M57.0 41.3h0.9M34.4 42.3h0.9M34.6 38.2h0.9M52.9 26.1h0.9M50.8 28.5h0.9M38.8 45.1h0.9M34.9 42.9h0.9M61.8 25.0h0.9M42.8 28.2h0.9M45.5 34.7h0.9M51.7 45.0h0.9M40.7 34.5h0.9M56.8 22.7h0.9M54.0 22.0h0.9M50.8 28.3h0.9M59.8 20.6h0.9M38.1 35.3h0.9M38.1 47.5h0.9M39.3 34.4h0.9M59.0 38.5h0.9M55.6 41.6h0.9M61.8 34.7h0.9M59.7 40.9h0.9M57.5 29.7h0.9M42.6 37.1h0.9M43.8 45.6h0.9M38.4 27.1h0.9M44.2 37.6h0.9M58.1 39.8h0.9M60.1 28.5h0.9M43.3 25.5h0.9M57.9 38.5h0.9M46.0 46.6h0.9M52.9 27.5h0.9M45.2 35.6h0.9M49.4 27.3h0.9M49.6 46.4h0.9M36.0 44.9h0.9M53.7 27.5h0.9M59.8 40.5h0.9M45.9 45.3h0.9M35.6 39.4h0.9M45.4 46.0h0.9M59.1 36.9h0.9M38.2 26.4h0.9M48.1 18.4h0.9M34.8 38.4h0.9M47.2 48.1h0.9M57.4 41.8h0.9M54.3 21.4h0.9M51.1 50.5h0.9M58.9 19.5h0.9M56.2 23.8h0.9M48.2 47.6h0.9M49.6 49.9h0.9M40.9 49.7h0.9M48.9 47.0h0.9M52.6 22.5h0.9M53.3 47.7h0.9M45.2 34.9h0.9" stroke="#222" stroke-width="0.9" opacity="0.5"/>
<path d="M56.76,38.55 C56.33,39.66 55.74,40.80 55.08,41.69 C54.41,42.59 53.58,43.40 52.75,43.94 C51.92,44.48 50.97,44.83 50.10,44.93 C49.24,45.03 48.31,44.88 47.57,44.53 C46.82,44.18 46.11,43.57 45.63,42.85 C45.15,42.12 44.81,41.16 44.69,40.18 C44.57,39.20 44.66,38.05 44.92,36.96 C45.18,35.87 45.67,34.69 46.24,33.65 C46.82,32.61 47.60,31.56 48.37,30.71 C49.14,29.86 50.05,29.09 50.88,28.55 C51.71,28.01 52.58,27.63 53.34,27.48 C54.10,27.33 54.83,27.39 55.43,27.67 C56.03,27.95 56.54,28.47 56.92,29.15 C57.29,29.82 57.56,30.74 57.68,31.73 C57.80,32.71 57.79,33.90 57.64,35.04 C57.48,36.17 57.18,37.44 56.76,38.55Z" transform="translate(0,0)" fill="#0a0a0a" stroke="#0a0a0a" stroke-width="3.2" stroke-linejoin="round" filter="url(#fz)"/>
<path d="M56.76,38.55 C56.33,39.66 55.74,40.80 55.08,41.69 C54.41,42.59 53.58,43.40 52.75,43.94 C51.92,44.48 50.97,44.83 50.10,44.93 C49.24,45.03 48.31,44.88 47.57,44.53 C46.82,44.18 46.11,43.57 45.63,42.85 C45.15,42.12 44.81,41.16 44.69,40.18 C44.57,39.20 44.66,38.05 44.92,36.96 C45.18,35.87 45.67,34.69 46.24,33.65 C46.82,32.61 47.60,31.56 48.37,30.71 C49.14,29.86 50.05,29.09 50.88,28.55 C51.71,28.01 52.58,27.63 53.34,27.48 C54.10,27.33 54.83,27.39 55.43,27.67 C56.03,27.95 56.54,28.47 56.92,29.15 C57.29,29.82 57.56,30.74 57.68,31.73 C57.80,32.71 57.79,33.90 57.64,35.04 C57.48,36.17 57.18,37.44 56.76,38.55Z" transform="translate(-1.2,-1.2)" fill="#0a0a0a" stroke="#0a0a0a" stroke-width="3.2" stroke-linejoin="round" filter="url(#fz)"/>
<path d="M56.76,38.55 C56.33,39.66 55.74,40.80 55.08,41.69 C54.41,42.59 53.58,43.40 52.75,43.94 C51.92,44.48 50.97,44.83 50.10,44.93 C49.24,45.03 48.31,44.88 47.57,44.53 C46.82,44.18 46.11,43.57 45.63,42.85 C45.15,42.12 44.81,41.16 44.69,40.18 C44.57,39.20 44.66,38.05 44.92,36.96 C45.18,35.87 45.67,34.69 46.24,33.65 C46.82,32.61 47.60,31.56 48.37,30.71 C49.14,29.86 50.05,29.09 50.88,28.55 C51.71,28.01 52.58,27.63 53.34,27.48 C54.10,27.33 54.83,27.39 55.43,27.67 C56.03,27.95 56.54,28.47 56.92,29.15 C57.29,29.82 57.56,30.74 57.68,31.73 C57.80,32.71 57.79,33.90 57.64,35.04 C57.48,36.17 57.18,37.44 56.76,38.55Z" fill="#050505" stroke="#050505" stroke-width="2.2" stroke-linejoin="round"/>
<path d="M56.3 28.8h0.9M50.1 45.1h0.9M56.9 40.3h0.9M47.2 32.7h0.9M39.3 38.6h0.9M46.3 32.9h0.9M56.1 44.2h0.9M44.5 42.9h0.9M56.1 28.1h0.9M44.1 36.1h0.9M45.3 44.4h0.9M51.8 45.4h0.9M49.9 46.8h0.9M53.6 21.7h0.9M49.2 30.2h0.9M57.3 43.3h0.9M58.1 35.1h0.9M52.7 25.7h0.9M44.1 33.4h0.9M56.3 28.3h0.9M48.0 45.9h0.9M46.8 47.6h0.9M51.8 46.3h0.9M54.1 23.2h0.9M42.9 36.9h0.9M45.6 46.0h0.9M47.5 48.6h0.9M49.3 45.4h0.9M42.6 40.1h0.9M58.0 30.3h0.9M40.8 38.9h0.9M41.2 45.0h0.9M58.5 32.2h0.9M49.2 45.5h0.9M47.4 46.5h0.9M51.4 25.7h0.9M59.0 33.7h0.9M54.0 26.6h0.9M44.9 31.2h0.9M43.0 37.6h0.9M46.6 48.0h0.9M54.0 27.9h0.9M49.8 45.9h0.9M50.3 22.1h0.9M45.0 24.2h0.9M58.6 29.3h0.9M59.1 38.0h0.9M47.3 44.6h0.9M56.7 30.4h0.9M58.2 26.5h0.9M58.5 33.7h0.9M40.3 36.5h0.9M39.0 32.4h0.9M47.9 47.0h0.9M50.9 28.2h0.9M42.2 35.4h0.9M57.8 35.9h0.9M44.9 46.6h0.9M39.1 41.1h0.9M43.6 42.8h0.9M40.1 32.2h0.9M56.1 40.7h0.9M44.9 42.9h0.9M54.2 26.8h0.9M54.7 22.3h0.9M45.2 44.9h0.9M52.7 25.8h0.9M46.8 46.3h0.9M56.0 24.9h0.9M57.4 37.9h0.9M55.9 27.4h0.9M58.4 34.5h0.9M60.1 31.8h0.9M43.3 30.5h0.9M41.6 42.2h0.9M59.0 31.8h0.9M50.8 47.9h0.9M58.3 33.4h0.9M53.9 43.8h0.9M54.8 44.2h0.9M60.1 27.5h0.9M52.8 21.2h0.9M56.4 25.9h0.9M49.3 47.6h0.9M49.5 46.6h0.9M54.1 43.9h0.9M59.8 33.8h0.9M44.6 29.4h0.9M55.5 26.9h0.9M56.9 22.9h0.9M56.6 38.0h0.9M40.1 43.0h0.9M43.3 26.2h0.9M47.0 28.6h0.9M59.0 34.6h0.9M41.6 38.4h0.9M54.2 27.0h0.9M42.9 27.2h0.9M58.9 41.0h0.9M53.1 44.1h0.9M55.6 40.5h0.9M58.6 38.2h0.9M57.7 23.3h0.9M60.2 34.3h0.9M42.7 44.4h0.9M47.4 45.9h0.9M47.1 29.1h0.9M44.6 37.3h0.9M39.6 34.8h0.9M58.5 30.9h0.9M46.0 29.6h0.9M44.8 31.8h0.9M49.2 28.1h0.9M42.0 31.5h0.9M50.2 22.2h0.9M45.7 43.7h0.9M49.8 26.7h0.9M56.8 40.5h0.9M44.4 45.3h0.9M55.2 42.8h0.9M52.7 25.2h0.9M49.5 47.6h0.9M45.0 44.5h0.9M52.8 26.9h0.9M51.5 27.4h0.9M56.9 24.6h0.9M52.9 28.1h0.9M48.9 45.7h0.9M38.9 41.9h0.9M46.7 46.6h0.9M43.2 46.1h0.9M42.5 46.7h0.9M60.2 27.9h0.9M52.1 28.5h0.9M53.8 28.2h0.9M51.7 45.7h0.9M43.9 42.7h0.9M57.7 25.8h0.9M45.3 44.3h0.9M57.1 28.4h0.9M55.0 44.1h0.9M46.2 45.6h0.9M49.3 46.3h0.9M42.9 40.6h0.9M59.8 34.2h0.9M57.4 34.2h0.9M57.9 36.7h0.9M57.3 34.3h0.9M41.0 45.0h0.9M49.0 45.1h0.9M51.7 26.7h0.9M40.5 44.9h0.9M50.2 45.4h0.9M45.7 26.9h0.9M48.8 26.0h0.9M47.7 27.5h0.9M45.3 34.0h0.9M52.0 28.0h0.9M46.7 46.2h0.9M47.7 25.6h0.9" stroke="#000" stroke-width="0.9" opacity="0.85"/>
<path d="M56.76,38.55 C56.33,39.66 55.74,40.80 55.08,41.69 C54.41,42.59 53.58,43.40 52.75,43.94 C51.92,44.48 50.97,44.83 50.10,44.93 C49.24,45.03 48.31,44.88 47.57,44.53 C46.82,44.18 46.11,43.57 45.63,42.85 C45.15,42.12 44.81,41.16 44.69,40.18 C44.57,39.20 44.66,38.05 44.92,36.96 C45.18,35.87 45.67,34.69 46.24,33.65 C46.82,32.61 47.60,31.56 48.37,30.71 C49.14,29.86 50.05,29.09 50.88,28.55 C51.71,28.01 52.58,27.63 53.34,27.48 C54.10,27.33 54.83,27.39 55.43,27.67 C56.03,27.95 56.54,28.47 56.92,29.15 C57.29,29.82 57.56,30.74 57.68,31.73 C57.80,32.71 57.79,33.90 57.64,35.04 C57.48,36.17 57.18,37.44 56.76,38.55Z" fill="#d8d8d8" stroke="#f4f4f4" stroke-width="0.9"/>
<path d="M55.97,38.23 C55.65,39.07 55.04,39.86 54.47,40.51 C53.90,41.15 53.27,41.65 52.55,42.11 C51.83,42.58 50.81,43.20 50.14,43.30 C49.48,43.40 49.08,43.00 48.55,42.71 C48.03,42.42 47.45,42.15 47.00,41.57 C46.54,40.98 45.96,40.04 45.83,39.20 C45.70,38.37 46.00,37.41 46.19,36.56 C46.39,35.70 46.49,34.87 47.00,34.05 C47.51,33.23 48.58,32.25 49.24,31.62 C49.91,30.99 50.37,30.62 50.98,30.26 C51.59,29.90 52.28,29.62 52.91,29.47 C53.54,29.32 54.30,29.18 54.74,29.36 C55.18,29.54 55.22,30.03 55.54,30.54 C55.86,31.05 56.52,31.62 56.66,32.45 C56.80,33.28 56.50,34.54 56.38,35.50 C56.27,36.47 56.29,37.40 55.97,38.23Z" fill="none" stroke="#f2f2f2" stroke-width="0.55" opacity="1"/>
<path d="M54.85,37.36 C54.63,38.02 54.21,39.00 53.75,39.62 C53.30,40.23 52.63,40.75 52.15,41.03 C51.67,41.32 51.42,41.35 50.90,41.33 C50.38,41.30 49.53,41.10 49.01,40.88 C48.49,40.66 48.08,40.44 47.79,40.01 C47.50,39.58 47.35,38.89 47.27,38.29 C47.19,37.69 47.09,37.08 47.30,36.43 C47.52,35.77 48.19,34.97 48.57,34.38 C48.95,33.79 49.17,33.34 49.59,32.88 C50.00,32.41 50.56,31.97 51.09,31.60 C51.61,31.23 52.34,30.75 52.75,30.65 C53.17,30.56 53.23,30.80 53.57,31.02 C53.91,31.24 54.50,31.60 54.79,31.98 C55.09,32.35 55.27,32.68 55.32,33.30 C55.37,33.91 55.17,34.99 55.09,35.66 C55.01,36.34 55.07,36.70 54.85,37.36Z" fill="none" stroke="#f2f2f2" stroke-width="0.55" opacity="1"/>
<path d="M53.48,37.01 C53.34,37.39 53.47,37.94 53.21,38.26 C52.95,38.59 52.27,38.73 51.91,38.96 C51.55,39.18 51.38,39.49 51.04,39.61 C50.71,39.74 50.25,39.86 49.89,39.72 C49.52,39.58 49.10,39.06 48.87,38.77 C48.65,38.47 48.57,38.34 48.55,37.97 C48.52,37.59 48.63,36.93 48.73,36.50 C48.83,36.07 48.88,35.84 49.14,35.37 C49.39,34.90 49.88,34.09 50.24,33.68 C50.60,33.27 51.00,33.12 51.29,32.92 C51.57,32.73 51.67,32.49 51.94,32.51 C52.21,32.52 52.57,32.87 52.90,33.01 C53.22,33.15 53.68,33.12 53.91,33.35 C54.13,33.58 54.23,33.95 54.25,34.38 C54.26,34.81 54.13,35.51 54.01,35.94 C53.88,36.38 53.61,36.62 53.48,37.01Z" fill="none" stroke="#f2f2f2" stroke-width="0.55" opacity="1"/>
<path d="M52.84,36.58 C52.70,36.74 52.23,36.81 52.03,37.00 C51.83,37.19 51.80,37.55 51.66,37.73 C51.51,37.91 51.29,38.06 51.16,38.10 C51.02,38.13 51.04,38.11 50.85,37.96 C50.67,37.82 50.17,37.42 50.03,37.24 C49.88,37.06 49.96,37.03 49.98,36.89 C50.00,36.76 50.10,36.65 50.16,36.44 C50.22,36.23 50.22,35.84 50.33,35.62 C50.43,35.40 50.62,35.34 50.81,35.12 C51.00,34.89 51.28,34.37 51.47,34.30 C51.66,34.23 51.84,34.66 51.93,34.67 C52.02,34.68 51.86,34.37 52.00,34.35 C52.14,34.34 52.67,34.44 52.75,34.55 C52.84,34.66 52.49,34.78 52.50,35.03 C52.52,35.28 52.79,35.80 52.85,36.06 C52.90,36.32 52.97,36.43 52.84,36.58Z" fill="none" stroke="#f2f2f2" stroke-width="0.55" opacity="1"/>
<path d="M55.32,37.97 C55.03,38.87 54.65,39.89 54.22,40.59 C53.80,41.30 53.34,41.81 52.75,42.22 C52.17,42.63 51.40,42.92 50.72,43.04 C50.04,43.15 49.26,43.17 48.67,42.88 C48.08,42.59 47.56,41.91 47.18,41.28 C46.79,40.66 46.48,39.87 46.34,39.13 C46.21,38.38 46.17,37.60 46.37,36.79 C46.58,35.99 47.11,35.06 47.57,34.29 C48.03,33.52 48.60,32.83 49.14,32.16 C49.68,31.50 50.23,30.71 50.81,30.28 C51.40,29.84 52.03,29.67 52.65,29.57 C53.27,29.48 54.01,29.48 54.52,29.71 C55.04,29.93 55.50,30.42 55.75,30.94 C56.00,31.45 56.01,32.11 56.04,32.82 C56.08,33.53 56.08,34.34 55.96,35.19 C55.84,36.05 55.61,37.07 55.32,37.97Z" fill="none" stroke="#9a9a9a" stroke-width="0.4" opacity="1"/>
<path d="M54.50,37.28 C54.21,37.96 53.86,39.05 53.54,39.67 C53.21,40.29 53.02,40.71 52.53,41.01 C52.04,41.31 51.18,41.46 50.59,41.48 C50.01,41.49 49.50,41.34 49.02,41.11 C48.55,40.87 48.05,40.50 47.75,40.07 C47.45,39.64 47.25,39.14 47.24,38.52 C47.24,37.91 47.52,37.03 47.73,36.38 C47.93,35.72 48.15,35.17 48.45,34.59 C48.75,34.00 49.11,33.35 49.51,32.87 C49.91,32.39 50.40,32.03 50.86,31.70 C51.33,31.37 51.80,30.94 52.32,30.87 C52.84,30.80 53.64,31.15 53.99,31.29 C54.33,31.44 54.17,31.38 54.41,31.74 C54.64,32.10 55.27,32.78 55.42,33.43 C55.57,34.08 55.46,34.98 55.31,35.62 C55.16,36.26 54.80,36.61 54.50,37.28Z" fill="none" stroke="#9a9a9a" stroke-width="0.4" opacity="1"/>
<path d="M53.80,36.85 C53.57,37.30 53.00,37.75 52.71,38.15 C52.43,38.55 52.43,39.02 52.09,39.24 C51.75,39.47 50.98,39.49 50.66,39.49 C50.34,39.50 50.47,39.37 50.17,39.28 C49.88,39.19 49.20,39.18 48.92,38.95 C48.64,38.72 48.55,38.27 48.52,37.90 C48.49,37.54 48.57,37.18 48.76,36.75 C48.94,36.31 49.43,35.77 49.63,35.29 C49.84,34.82 49.70,34.29 49.98,33.88 C50.26,33.46 50.94,33.05 51.31,32.78 C51.69,32.52 51.96,32.28 52.23,32.29 C52.51,32.30 52.68,32.64 52.96,32.83 C53.25,33.02 53.72,33.12 53.92,33.41 C54.13,33.70 54.16,34.23 54.19,34.58 C54.22,34.93 54.17,35.12 54.11,35.50 C54.04,35.88 54.03,36.41 53.80,36.85Z" fill="none" stroke="#9a9a9a" stroke-width="0.4" opacity="1"/>
<path d="M52.53,36.58 C52.34,36.80 52.19,37.20 52.03,37.40 C51.87,37.60 51.70,37.67 51.55,37.80 C51.41,37.94 51.36,38.18 51.16,38.22 C50.97,38.25 50.56,38.16 50.38,38.02 C50.20,37.88 50.13,37.52 50.08,37.37 C50.04,37.23 50.15,37.31 50.13,37.15 C50.12,37.00 49.99,36.67 50.00,36.44 C50.01,36.20 50.02,36.00 50.19,35.75 C50.37,35.50 50.84,35.18 51.05,34.94 C51.27,34.71 51.34,34.53 51.48,34.34 C51.62,34.16 51.73,33.89 51.89,33.86 C52.04,33.82 52.27,34.00 52.39,34.13 C52.51,34.26 52.55,34.51 52.62,34.65 C52.69,34.79 52.72,34.75 52.81,34.99 C52.90,35.23 53.21,35.82 53.16,36.09 C53.11,36.35 52.72,36.36 52.53,36.58Z" fill="none" stroke="#9a9a9a" stroke-width="0.4" opacity="1"/>
</g>
<rect x="320.5" y="204.5" width="64" height="59.5" fill="none" stroke="#666" stroke-width="1"/>
<text x="323.0" y="216.5" font-size="12.5" text-anchor="start" font-weight="normal" font-style="normal" fill="#111" >1</text>
<text x="381.5" y="216.5" font-size="12.5" text-anchor="end" font-weight="normal" font-style="normal" fill="#111" >41</text>
<text x="381.5" y="262.2" font-size="12.5" text-anchor="end" font-weight="normal" font-style="normal" fill="#111" >58</text>
<line x1="419.5" y1="204.5" x2="419.5" y2="264.0" stroke="#9a9a9a" stroke-width="1"/>
<line x1="386.5" y1="240.0" x2="450.5" y2="240.0" stroke="#9a9a9a" stroke-width="1"/>
<g transform="translate(386.5,204.5)">
<path d="M13.9 35.1h0.9M13.3 30.8h0.9M13.2 36.5h0.9M23.0 44.4h0.9M5.4 32.8h0.9M41.2 33.4h0.9M35.3 30.1h0.9M25.7 33.8h0.9M3.5 34.0h0.9M30.5 31.0h0.9M14.8 30.5h0.9M39.3 44.4h0.9M31.9 42.0h0.9M27.7 35.6h0.9M42.2 34.3h0.9M29.4 27.6h0.9M12.6 29.0h0.9M32.0 46.5h0.9M18.7 41.1h0.9M36.7 35.7h0.9M29.9 28.4h0.9M35.1 36.9h0.9M22.8 30.4h0.9M9.4 41.3h0.9M32.3 33.6h0.9M29.5 31.8h0.9M49.3 32.7h0.9M23.7 34.7h0.9M15.0 32.2h0.9M14.8 29.8h0.9M20.5 39.0h0.9M61.4 28.2h0.9M24.0 29.7h0.9M37.1 39.1h0.9M13.7 30.4h0.9M16.1 35.7h0.9M39.6 37.6h0.9M10.4 33.7h0.9M36.3 30.3h0.9M10.7 27.4h0.9M23.9 35.7h0.9M13.9 30.2h0.9M21.0 39.9h0.9M29.5 29.3h0.9M29.4 36.1h0.9M32.9 27.4h0.9M33.5 31.2h0.9M42.1 43.0h0.9M32.8 34.8h0.9M39.1 34.8h0.9M30.1 33.3h0.9M46.5 41.7h0.9M38.2 33.1h0.9M42.7 39.4h0.9M31.3 33.5h0.9M31.6 28.4h0.9M38.6 29.1h0.9M7.4 33.3h0.9M21.7 36.6h0.9M28.2 32.1h0.9M33.1 33.9h0.9M26.2 28.5h0.9M25.6 28.4h0.9M15.7 30.5h0.9M51.7 29.6h0.9M35.1 33.8h0.9M24.0 26.7h0.9M53.5 30.3h0.9M19.4 33.9h0.9M45.3 28.8h0.9M35.2 35.3h0.9M4.3 39.1h0.9M39.6 30.2h0.9M10.2 41.9h0.9M16.1 35.3h0.9M25.3 31.7h0.9M19.2 30.4h0.9M16.7 34.3h0.9M16.9 26.4h0.9M38.8 39.6h0.9M46.6 41.1h0.9M7.0 32.1h0.9M13.8 32.8h0.9M12.7 31.1h0.9M18.6 39.4h0.9M23.9 29.2h0.9M26.1 34.8h0.9" stroke="#777" stroke-width="0.9" opacity="0.55"/>
<path d="M43.1 32.4h0.9M41.1 26.6h0.9M44.3 28.4h0.9M40.0 34.7h0.9M45.6 24.5h0.9M48.2 31.5h0.9M39.1 25.3h0.9M44.7 24.1h0.9M45.9 34.5h0.9M45.3 24.6h0.9M41.2 31.8h0.9M41.4 29.4h0.9M48.1 37.7h0.9M43.2 38.6h0.9M45.4 35.4h0.9M45.1 34.6h0.9M49.6 32.9h0.9M40.2 35.1h0.9M41.9 26.3h0.9M47.0 37.9h0.9M45.0 32.2h0.9M42.4 28.0h0.9M45.8 42.9h0.9M41.8 40.1h0.9M48.2 35.0h0.9M43.8 34.2h0.9M41.3 27.9h0.9M46.1 35.9h0.9M44.0 38.0h0.9M35.5 40.2h0.9M51.8 38.1h0.9M46.1 32.0h0.9M46.3 34.1h0.9M44.8 25.7h0.9M39.4 31.5h0.9M44.2 30.7h0.9M50.0 38.1h0.9M46.8 35.1h0.9M38.1 42.1h0.9M44.5 23.3h0.9M44.2 36.3h0.9M47.3 24.0h0.9M46.5 17.3h0.9M44.2 33.3h0.9M38.3 46.5h0.9M44.6 32.2h0.9M45.4 39.1h0.9M41.2 32.8h0.9M44.6 33.6h0.9M46.9 27.3h0.9M43.0 45.8h0.9M37.4 29.7h0.9M41.0 41.6h0.9M46.9 36.3h0.9M37.7 31.8h0.9M41.7 25.4h0.9M43.8 41.9h0.9M43.7 26.4h0.9M49.1 33.9h0.9M44.4 41.6h0.9M48.9 42.7h0.9M39.5 26.1h0.9M37.9 44.2h0.9M44.5 47.1h0.9M36.9 26.6h0.9M36.6 34.9h0.9M37.9 28.5h0.9M40.3 38.3h0.9M48.4 35.8h0.9M40.8 29.5h0.9M40.9 27.3h0.9M40.6 38.9h0.9M43.0 35.5h0.9M38.2 33.0h0.9M41.0 33.7h0.9M40.3 30.6h0.9M35.8 27.0h0.9M45.8 36.9h0.9M42.6 38.8h0.9M41.6 42.4h0.9M42.6 35.3h0.9M41.7 40.8h0.9M45.8 32.3h0.9M38.1 30.0h0.9M47.6 20.7h0.9M40.1 44.0h0.9M42.2 33.9h0.9M36.8 29.1h0.9M46.3 32.1h0.9M47.6 31.7h0.9M46.5 32.6h0.9M46.4 42.0h0.9M40.7 28.4h0.9M40.0 34.3h0.9M51.7 27.1h0.9M37.2 34.9h0.9M42.3 30.0h0.9M37.9 23.7h0.9M37.8 29.4h0.9M49.8 32.9h0.9M46.1 33.4h0.9M49.2 28.2h0.9M46.4 35.9h0.9M45.2 35.1h0.9M41.0 32.1h0.9M41.4 35.5h0.9M47.1 20.8h0.9M47.2 28.1h0.9M42.1 34.2h0.9M47.8 32.4h0.9M44.1 27.5h0.9M47.5 39.3h0.9M41.4 32.9h0.9M44.2 24.1h0.9M42.9 37.3h0.9M46.2 28.9h0.9M50.9 32.7h0.9M40.4 34.7h0.9M35.6 34.6h0.9M44.7 30.1h0.9" stroke="#555" stroke-width="0.9" opacity="0.5"/>
<path d="M45.5 44.1h0.9M59.2 26.0h0.9M45.2 43.2h0.9M44.2 31.3h0.9M55.6 24.9h0.9M61.3 38.2h0.9M57.2 47.5h0.9M54.7 46.2h0.9M60.0 29.0h0.9M48.3 46.5h0.9M44.8 34.1h0.9M45.2 25.4h0.9M47.8 25.8h0.9M58.6 45.6h0.9M48.0 47.1h0.9M45.5 24.8h0.9M53.3 46.2h0.9M43.8 34.6h0.9M54.2 46.6h0.9M46.9 25.3h0.9M54.4 26.1h0.9M43.2 26.1h0.9M44.5 40.9h0.9M61.4 44.5h0.9M44.1 35.6h0.9M54.9 45.7h0.9M44.9 36.2h0.9M61.4 45.5h0.9M55.4 26.1h0.9M59.8 27.1h0.9M56.2 45.4h0.9M61.1 27.4h0.9M54.9 23.8h0.9M53.0 47.0h0.9M49.2 25.3h0.9M51.1 25.3h0.9M59.9 41.2h0.9M47.6 47.5h0.9M60.4 38.7h0.9M60.4 34.0h0.9M43.8 43.3h0.9M60.0 41.6h0.9M47.3 46.6h0.9M48.3 26.6h0.9M45.3 29.6h0.9M59.7 27.2h0.9M43.1 35.4h0.9M46.5 44.9h0.9M49.6 47.0h0.9M53.2 25.0h0.9M56.8 45.3h0.9M58.2 46.8h0.9M43.9 29.3h0.9M59.6 28.7h0.9M58.7 46.4h0.9M54.1 25.0h0.9M44.4 28.6h0.9M60.3 27.6h0.9M46.1 45.7h0.9M55.4 46.5h0.9M60.0 27.5h0.9M51.2 25.0h0.9M55.0 24.9h0.9M44.8 27.9h0.9M59.0 43.1h0.9M45.1 38.0h0.9M60.9 43.1h0.9M56.8 25.7h0.9M44.8 30.7h0.9M56.9 47.6h0.9M56.8 46.5h0.9M44.8 30.2h0.9M56.1 45.9h0.9M48.2 46.8h0.9M46.8 48.2h0.9M61.4 31.5h0.9M44.7 32.9h0.9M49.4 47.6h0.9M49.9 24.3h0.9M49.9 46.5h0.9M45.3 27.4h0.9M44.1 25.3h0.9M54.8 49.7h0.9M58.5 45.2h0.9M51.4 22.1h0.9M54.2 24.7h0.9M45.3 27.2h0.9M47.6 47.3h0.9M43.9 39.1h0.9M44.7 31.9h0.9M46.0 43.3h0.9M43.4 41.3h0.9M50.1 47.3h0.9M61.2 43.1h0.9M54.8 45.6h0.9M43.3 26.3h0.9M45.1 44.3h0.9M57.3 44.6h0.9M61.7 29.8h0.9M60.5 34.3h0.9M60.8 38.4h0.9M45.5 28.0h0.9M47.9 47.5h0.9M56.5 49.0h0.9M51.7 49.0h0.9M59.7 25.2h0.9M43.3 27.7h0.9M57.5 25.6h0.9M60.5 29.4h0.9M46.5 44.7h0.9M60.3 28.2h0.9M43.4 39.2h0.9M49.2 25.1h0.9M44.3 28.2h0.9M59.9 41.3h0.9M61.6 30.3h0.9M62.2 42.7h0.9M56.5 26.0h0.9M61.1 37.6h0.9M46.3 27.7h0.9M57.1 24.2h0.9M47.6 46.4h0.9M43.6 44.9h0.9M53.2 24.3h0.9M56.1 24.6h0.9M58.4 43.8h0.9M59.0 42.8h0.9M43.0 28.4h0.9M43.4 29.8h0.9M55.4 23.6h0.9M52.6 26.0h0.9M58.3 23.2h0.9M50.2 24.8h0.9M57.2 23.2h0.9M55.8 23.8h0.9M46.7 43.6h0.9M48.8 48.2h0.9M44.4 33.1h0.9M59.0 44.7h0.9M49.4 24.8h0.9M56.5 25.4h0.9M45.3 45.8h0.9M57.9 25.7h0.9M43.8 46.1h0.9M46.7 26.7h0.9M62.1 42.5h0.9M60.1 28.1h0.9M55.6 26.2h0.9M46.7 25.0h0.9M44.3 32.5h0.9M61.0 32.4h0.9M58.5 26.2h0.9M50.7 22.8h0.9M43.5 37.3h0.9M60.6 24.8h0.9M49.9 49.1h0.9M58.6 43.0h0.9M45.2 26.8h0.9M44.7 27.5h0.9M45.4 27.1h0.9M45.0 39.9h0.9M44.8 33.6h0.9M44.4 41.9h0.9M55.4 47.9h0.9M43.8 25.6h0.9M46.6 24.8h0.9M56.8 46.1h0.9M44.7 31.5h0.9M45.5 27.7h0.9M56.4 45.3h0.9M54.9 45.5h0.9M44.5 39.3h0.9M49.8 49.4h0.9M43.0 32.4h0.9M60.0 27.7h0.9M61.5 44.2h0.9M42.0 29.6h0.9M61.3 23.5h0.9M51.3 24.4h0.9M42.6 31.3h0.9M52.2 25.5h0.9M53.6 46.6h0.9M43.3 27.7h0.9M61.1 28.6h0.9M61.4 43.1h0.9M42.0 32.9h0.9M50.9 25.0h0.9M46.6 44.1h0.9M52.8 46.6h0.9M53.0 24.0h0.9M52.8 24.6h0.9M46.6 25.9h0.9M60.3 40.2h0.9M45.5 39.7h0.9M48.6 46.0h0.9M58.8 42.1h0.9M62.1 31.4h0.9M59.6 27.6h0.9M56.8 45.8h0.9M48.5 25.7h0.9M44.4 34.3h0.9M49.7 46.7h0.9M47.0 26.2h0.9M61.1 34.2h0.9M59.9 29.8h0.9M52.3 23.8h0.9M49.3 45.6h0.9M44.6 37.0h0.9M44.3 32.3h0.9M60.0 43.3h0.9M56.4 25.2h0.9M45.3 43.8h0.9" stroke="#333" stroke-width="0.9" opacity="0.55"/>
<path d="M45.50,27.50 C45.82,26.18 46.08,25.97 47.50,25.60 C48.92,25.23 52.08,25.23 54.00,25.30 C55.92,25.37 57.97,25.22 59.00,26.00 C60.03,26.78 60.07,28.00 60.20,30.00 C60.33,32.00 60.08,35.67 59.80,38.00 C59.52,40.33 59.55,42.70 58.50,44.00 C57.45,45.30 55.33,45.53 53.50,45.80 C51.67,46.07 48.87,46.48 47.50,45.60 C46.13,44.72 45.62,42.52 45.30,40.50 C44.98,38.48 45.57,35.67 45.60,33.50 C45.63,31.33 45.18,28.82 45.50,27.50Z" fill="#c2c2c2" stroke="#1a1a1a" stroke-width="1.2" filter="url(#fz)"/>
<path d="M45.50,27.50 C45.82,26.18 46.08,25.97 47.50,25.60 C48.92,25.23 52.08,25.23 54.00,25.30 C55.92,25.37 57.97,25.22 59.00,26.00 C60.03,26.78 60.07,28.00 60.20,30.00 C60.33,32.00 60.08,35.67 59.80,38.00 C59.52,40.33 59.55,42.70 58.50,44.00 C57.45,45.30 55.33,45.53 53.50,45.80 C51.67,46.07 48.87,46.48 47.50,45.60 C46.13,44.72 45.62,42.52 45.30,40.50 C44.98,38.48 45.57,35.67 45.60,33.50 C45.63,31.33 45.18,28.82 45.50,27.50Z" fill="#c8c8c8" stroke="#222" stroke-width="0.9"/>
<path d="M46.48,28.27 C46.75,27.07 46.98,26.87 48.22,26.54 C49.45,26.20 52.20,26.20 53.87,26.26 C55.54,26.32 57.32,26.19 58.22,26.90 C59.12,27.61 59.15,28.72 59.26,30.54 C59.38,32.36 59.16,35.70 58.92,37.82 C58.67,39.94 58.70,42.10 57.78,43.28 C56.87,44.46 55.03,44.68 53.44,44.92 C51.84,45.16 49.40,45.54 48.22,44.74 C47.03,43.93 46.58,41.93 46.30,40.09 C46.03,38.26 46.53,35.70 46.56,33.73 C46.59,31.75 46.20,29.46 46.48,28.27Z" fill="none" stroke="#f2f2f2" stroke-width="0.9" opacity="1"/>
<path d="M48.31,29.56 C48.55,28.67 48.84,28.48 49.81,28.29 C50.78,28.09 52.90,28.31 54.13,28.38 C55.36,28.45 56.53,28.25 57.19,28.71 C57.86,29.17 58.08,29.89 58.14,31.16 C58.20,32.44 57.70,34.77 57.54,36.38 C57.38,37.99 57.82,39.88 57.19,40.81 C56.56,41.73 55.04,41.80 53.75,41.92 C52.47,42.05 50.39,42.21 49.48,41.56 C48.57,40.91 48.46,39.33 48.28,38.01 C48.09,36.68 48.38,35.02 48.39,33.61 C48.40,32.20 48.08,30.45 48.31,29.56Z" fill="none" stroke="#888" stroke-width="0.55" opacity="1"/>
<path d="M50.17,31.14 C50.26,30.50 50.22,30.17 50.86,29.98 C51.50,29.78 53.07,29.86 54.03,29.96 C54.98,30.07 56.15,30.24 56.59,30.59 C57.03,30.94 56.64,31.17 56.66,32.07 C56.68,32.97 56.83,34.87 56.72,36.00 C56.62,37.14 56.59,38.28 56.06,38.87 C55.52,39.46 54.31,39.43 53.50,39.55 C52.68,39.66 51.78,40.00 51.18,39.57 C50.59,39.14 50.07,37.92 49.93,36.96 C49.78,36.00 50.28,34.77 50.32,33.80 C50.36,32.83 50.08,31.77 50.17,31.14Z" fill="none" stroke="#888" stroke-width="0.55" opacity="1"/>
<path d="M51.77,32.61 C51.78,32.32 51.72,32.16 52.11,32.06 C52.51,31.96 53.63,32.04 54.12,32.01 C54.61,31.99 54.85,31.70 55.06,31.89 C55.27,32.07 55.31,32.59 55.39,33.13 C55.47,33.67 55.61,34.53 55.54,35.11 C55.48,35.69 55.30,36.25 54.99,36.60 C54.67,36.95 54.07,37.11 53.66,37.20 C53.25,37.29 52.81,37.35 52.54,37.13 C52.26,36.91 52.10,36.41 52.03,35.85 C51.95,35.29 52.13,34.31 52.08,33.77 C52.04,33.22 51.77,32.89 51.77,32.61Z" fill="none" stroke="#888" stroke-width="0.55" opacity="1"/>
<ellipse cx="54.5" cy="34.5" rx="1.3" ry="1.6" transform="rotate(0 54.5 34.5)" fill="#f4f4f4" stroke="none" stroke-width="0" opacity="1"/>
</g>
<rect x="386.5" y="204.5" width="64" height="59.5" fill="none" stroke="#666" stroke-width="1"/>
<text x="389.0" y="216.5" font-size="12.5" text-anchor="start" font-weight="normal" font-style="normal" fill="#111" >1</text>
<text x="447.5" y="216.5" font-size="12.5" text-anchor="end" font-weight="normal" font-style="normal" fill="#111" >57</text>
<text x="447.5" y="262.2" font-size="12.5" text-anchor="end" font-weight="normal" font-style="normal" fill="#111" >42</text>
<line x1="485.5" y1="204.5" x2="485.5" y2="264.0" stroke="#9a9a9a" stroke-width="1"/>
<line x1="453.5" y1="240.0" x2="517.5" y2="240.0" stroke="#9a9a9a" stroke-width="1"/>
<g transform="translate(453.5,204.5)">
<path d="M29.2 41.4h0.9M34.1 35.7h0.9M32.7 33.9h0.9M27.1 44.9h0.9M28.5 43.0h0.9M27.6 42.5h0.9M34.3 41.8h0.9M24.1 36.5h0.9M43.6 39.8h0.9M13.2 38.6h0.9M37.5 43.9h0.9M29.5 36.1h0.9M12.2 41.6h0.9M37.1 39.9h0.9M7.7 45.3h0.9M40.8 36.3h0.9M19.0 37.3h0.9M26.3 31.0h0.9M25.7 41.1h0.9M22.1 37.8h0.9M48.5 40.3h0.9M39.9 35.4h0.9M28.4 43.6h0.9M25.9 41.3h0.9M34.3 35.6h0.9M24.5 37.9h0.9M27.3 37.9h0.9M18.4 38.7h0.9M27.5 38.2h0.9M34.0 37.5h0.9M41.5 34.7h0.9M34.4 44.8h0.9M26.4 36.7h0.9M33.2 46.9h0.9M32.4 41.0h0.9M21.5 44.5h0.9M21.0 37.7h0.9M21.9 43.6h0.9M27.6 44.4h0.9M24.1 42.9h0.9M16.8 43.6h0.9M15.6 38.0h0.9M32.9 44.5h0.9M48.4 43.5h0.9M14.1 42.4h0.9M28.0 43.6h0.9M26.2 41.0h0.9M25.6 42.5h0.9M34.0 39.5h0.9M12.8 33.9h0.9M37.2 38.9h0.9M18.9 44.9h0.9M36.6 37.7h0.9M12.0 39.4h0.9M46.6 38.5h0.9M36.1 37.1h0.9M36.4 35.0h0.9M20.3 41.3h0.9M35.7 39.2h0.9M23.2 42.5h0.9M23.5 37.3h0.9M27.7 39.8h0.9M36.0 42.0h0.9M13.2 43.9h0.9M2.4 34.0h0.9M20.5 46.4h0.9M29.0 33.5h0.9M30.0 39.7h0.9M30.2 43.4h0.9M24.1 36.9h0.9M22.8 41.5h0.9M34.9 49.3h0.9M31.4 40.0h0.9M30.5 36.9h0.9M21.4 34.3h0.9M33.7 34.9h0.9M20.9 42.4h0.9M20.1 41.0h0.9M20.1 38.9h0.9M51.9 41.8h0.9M32.9 41.8h0.9M16.2 42.8h0.9M38.3 38.0h0.9M25.8 40.7h0.9M37.9 38.2h0.9M21.4 42.6h0.9M44.7 45.6h0.9M22.9 42.9h0.9M34.3 33.8h0.9M32.8 40.4h0.9M34.6 38.0h0.9M37.4 42.1h0.9M42.9 30.8h0.9M21.8 44.5h0.9M33.9 39.5h0.9M31.4 39.7h0.9M24.6 39.3h0.9M30.6 41.9h0.9M31.0 42.9h0.9M17.3 40.1h0.9M19.6 41.2h0.9M33.6 30.6h0.9M54.2 40.8h0.9M28.8 39.9h0.9M27.3 40.1h0.9M31.6 30.3h0.9M32.4 40.8h0.9M26.7 42.6h0.9M43.3 35.5h0.9M5.0 38.4h0.9M18.1 40.6h0.9M25.7 42.5h0.9M32.5 41.0h0.9M25.8 41.7h0.9M33.7 43.2h0.9M11.7 39.6h0.9M34.2 36.5h0.9M30.4 37.1h0.9M18.9 43.4h0.9M47.9 42.6h0.9M24.8 39.7h0.9M44.5 42.9h0.9M18.7 38.9h0.9M31.5 38.9h0.9M19.5 39.1h0.9M28.4 36.9h0.9M18.3 41.9h0.9M27.3 42.3h0.9M35.1 43.3h0.9M14.9 42.2h0.9M42.6 41.2h0.9M19.9 43.1h0.9M36.8 38.7h0.9M28.3 39.3h0.9M46.7 40.7h0.9M35.3 42.3h0.9M31.5 45.7h0.9M41.0 39.5h0.9M42.6 39.5h0.9M24.8 40.9h0.9M18.7 35.1h0.9M29.7 45.0h0.9M30.2 43.0h0.9M38.0 39.0h0.9M28.2 45.2h0.9M29.3 42.5h0.9M24.2 35.8h0.9M22.0 45.9h0.9M31.9 40.6h0.9M48.4 33.1h0.9M27.7 40.5h0.9M35.0 39.3h0.9M25.8 40.6h0.9M30.3 37.9h0.9M34.2 37.0h0.9M28.5 37.1h0.9M23.9 39.9h0.9M32.2 32.4h0.9M29.5 40.0h0.9M40.5 40.6h0.9M29.8 35.7h0.9M25.4 40.3h0.9M42.7 37.2h0.9M11.6 43.7h0.9M15.9 45.5h0.9M5.6 40.9h0.9M34.3 38.8h0.9M28.9 39.7h0.9M40.1 40.8h0.9M3.9 37.2h0.9M44.3 43.9h0.9M16.2 36.4h0.9M38.7 39.4h0.9M20.9 40.7h0.9M24.1 35.2h0.9M23.3 40.6h0.9M16.9 41.9h0.9M16.8 35.1h0.9M28.7 47.2h0.9M24.5 39.9h0.9M32.0 42.1h0.9M43.0 39.2h0.9M20.6 36.6h0.9M21.0 47.2h0.9M42.1 43.7h0.9M42.1 39.0h0.9M32.6 41.5h0.9M31.5 39.0h0.9M46.6 41.1h0.9M23.2 38.7h0.9M32.9 46.9h0.9M15.5 36.9h0.9M25.3 36.0h0.9M33.4 40.7h0.9M14.7 32.1h0.9M29.2 37.7h0.9M9.7 43.2h0.9M27.8 38.0h0.9M28.7 50.8h0.9M15.9 34.8h0.9M32.3 44.9h0.9M38.0 38.0h0.9M21.6 39.5h0.9M47.6 44.7h0.9M35.4 42.6h0.9M20.7 40.9h0.9M26.8 39.7h0.9M30.5 39.6h0.9M29.9 42.5h0.9M45.1 39.9h0.9M25.6 43.1h0.9M26.1 40.8h0.9M21.1 34.4h0.9M26.4 43.0h0.9M35.7 37.6h0.9M37.8 35.8h0.9M12.0 46.5h0.9M36.2 41.5h0.9M36.5 39.8h0.9" stroke="#555" stroke-width="0.9" opacity="0.55"/>
<path d="M33.6 46.9h0.9M31.4 44.0h0.9M34.2 45.3h0.9M42.5 43.6h0.9M44.3 41.4h0.9M38.1 45.7h0.9M32.8 42.9h0.9M44.3 42.0h0.9M27.9 43.0h0.9M41.3 43.3h0.9M45.6 46.0h0.9M40.1 43.4h0.9M32.1 45.7h0.9M34.6 36.3h0.9M38.1 39.9h0.9M38.7 42.1h0.9M35.2 45.8h0.9M38.5 45.5h0.9M40.0 41.0h0.9M27.2 44.2h0.9M35.4 42.8h0.9M35.8 42.8h0.9M44.0 46.6h0.9M30.5 41.8h0.9M40.9 43.7h0.9M36.1 41.4h0.9M27.9 44.0h0.9M28.7 44.3h0.9M35.4 43.8h0.9M40.1 38.7h0.9M36.2 45.3h0.9M30.5 37.1h0.9M37.7 41.0h0.9M33.1 37.9h0.9M27.8 37.4h0.9M39.6 43.2h0.9M38.1 45.4h0.9M27.1 44.9h0.9M42.3 40.4h0.9M38.9 42.8h0.9M43.6 45.1h0.9M34.3 45.0h0.9M40.5 40.8h0.9M36.3 45.2h0.9M19.8 42.9h0.9M38.3 44.0h0.9M37.3 46.0h0.9M40.5 41.7h0.9M40.4 43.9h0.9M31.9 45.5h0.9M38.3 45.6h0.9M38.7 44.7h0.9M40.6 43.4h0.9M40.7 46.7h0.9M38.1 47.3h0.9M33.3 41.7h0.9M41.1 47.6h0.9M31.3 39.0h0.9M36.5 47.0h0.9M33.0 43.2h0.9M37.8 41.6h0.9M28.2 41.8h0.9M33.3 45.7h0.9M36.0 43.6h0.9M43.9 45.6h0.9M46.8 40.3h0.9M39.0 44.6h0.9M39.1 41.6h0.9M34.5 45.8h0.9M25.4 45.0h0.9M32.1 45.8h0.9M44.9 40.1h0.9M35.7 43.6h0.9M35.5 40.9h0.9M32.9 48.8h0.9M39.0 40.2h0.9M42.3 35.6h0.9M41.7 41.3h0.9M31.7 47.7h0.9M34.7 42.9h0.9M39.0 43.4h0.9M39.0 41.9h0.9M32.9 43.2h0.9M32.9 43.2h0.9M41.2 40.9h0.9M35.2 45.6h0.9M37.3 45.2h0.9M45.0 46.0h0.9M33.6 43.7h0.9M36.1 40.0h0.9M30.2 48.0h0.9M33.2 44.3h0.9M45.7 40.0h0.9M31.0 45.8h0.9M40.1 43.2h0.9M38.5 46.2h0.9M36.1 47.2h0.9M44.5 45.3h0.9M32.4 38.6h0.9M43.9 50.6h0.9M40.1 44.9h0.9M33.3 35.9h0.9M41.6 44.1h0.9M46.2 43.6h0.9M27.1 46.3h0.9M39.4 40.5h0.9M42.9 45.7h0.9M38.4 37.2h0.9M39.2 36.9h0.9M37.5 37.2h0.9M36.4 43.9h0.9M47.5 46.3h0.9M33.4 46.6h0.9M33.5 40.2h0.9M31.2 46.8h0.9M32.4 43.3h0.9M33.8 39.1h0.9M26.7 46.8h0.9M35.1 44.8h0.9M35.7 43.9h0.9" stroke="#555" stroke-width="0.9" opacity="0.55"/>
<path d="M58.6 24.8h0.9M36.1 34.4h0.9M59.9 21.5h0.9M53.3 46.6h0.9M45.0 44.5h0.9M41.2 39.8h0.9M58.2 36.5h0.9M42.6 26.2h0.9M52.4 23.7h0.9M39.3 37.8h0.9M31.0 27.2h0.9M33.3 33.8h0.9M45.6 22.8h0.9M36.3 28.2h0.9M45.1 43.8h0.9M56.4 45.0h0.9M62.3 35.0h0.9M32.7 36.7h0.9M30.7 27.2h0.9M31.5 34.4h0.9M39.8 37.7h0.9M59.0 31.9h0.9M42.5 41.6h0.9M55.1 42.6h0.9M58.1 24.8h0.9M45.2 43.9h0.9M50.9 48.4h0.9M34.8 34.6h0.9M48.0 23.2h0.9M32.4 25.7h0.9M41.3 39.6h0.9M51.8 47.0h0.9M40.9 39.8h0.9M53.5 47.2h0.9M36.9 37.0h0.9M38.3 36.4h0.9M37.4 27.9h0.9M36.3 25.2h0.9M51.1 50.1h0.9M46.4 45.0h0.9M46.7 24.2h0.9M59.2 29.9h0.9M36.4 37.2h0.9M51.9 23.4h0.9M29.6 29.6h0.9M54.5 45.0h0.9M60.3 37.6h0.9M60.8 31.5h0.9M31.5 33.2h0.9M26.5 29.9h0.9M58.8 33.8h0.9M56.3 23.9h0.9M52.3 46.1h0.9M33.6 33.4h0.9M48.5 25.0h0.9M52.8 50.4h0.9M30.8 29.4h0.9M42.9 46.9h0.9M48.0 45.4h0.9M38.1 26.7h0.9M54.0 46.0h0.9M56.9 41.2h0.9M38.9 37.6h0.9M28.3 27.8h0.9M53.8 22.6h0.9M58.1 27.4h0.9M45.1 23.4h0.9M31.2 26.9h0.9M49.3 24.8h0.9M57.8 38.0h0.9M59.3 31.2h0.9M50.4 46.0h0.9M45.6 48.2h0.9M61.7 25.5h0.9M41.6 26.5h0.9M51.7 25.4h0.9M42.1 40.8h0.9M30.7 30.5h0.9M53.0 24.7h0.9M41.6 24.8h0.9M44.7 25.9h0.9M57.0 41.8h0.9M36.8 35.6h0.9M56.3 45.7h0.9M31.5 30.3h0.9M56.8 40.4h0.9M61.0 29.3h0.9M56.3 43.9h0.9M41.4 38.9h0.9M44.4 42.1h0.9M45.7 46.0h0.9M44.3 42.7h0.9M57.5 36.6h0.9M56.6 44.1h0.9M58.7 31.2h0.9M48.0 50.6h0.9M30.5 29.6h0.9M39.4 37.6h0.9M46.4 49.3h0.9M51.5 25.3h0.9M49.6 25.2h0.9M55.4 45.8h0.9M51.4 25.4h0.9M42.8 42.4h0.9M58.1 38.0h0.9M49.8 45.5h0.9M53.9 50.4h0.9M26.2 31.0h0.9M55.4 42.7h0.9M43.5 45.2h0.9M36.7 40.6h0.9M57.8 24.6h0.9M58.5 23.7h0.9M52.2 45.3h0.9M58.3 25.9h0.9M59.1 35.3h0.9M44.3 24.7h0.9M40.5 26.5h0.9M44.0 25.8h0.9M29.7 34.2h0.9M40.0 40.2h0.9M45.3 48.8h0.9M27.9 33.5h0.9M31.7 29.2h0.9M31.6 30.1h0.9M43.7 42.6h0.9M27.4 30.2h0.9M44.4 26.4h0.9M45.4 46.4h0.9M47.7 46.1h0.9M30.9 30.0h0.9M58.5 47.2h0.9M40.4 40.8h0.9M58.1 36.1h0.9M36.3 34.5h0.9M31.2 32.1h0.9M30.3 33.0h0.9" stroke="#222" stroke-width="0.9" opacity="0.55"/>
<path d="M8.3 34.5h0.9M11.5 35.4h0.9M16.4 35.2h0.9M26.9 32.4h0.9M7.0 29.8h0.9M13.8 28.2h0.9M18.8 28.2h0.9M23.1 28.9h0.9M17.3 28.2h0.9M9.9 33.8h0.9M14.0 28.2h0.9M11.5 26.5h0.9M14.4 28.0h0.9M11.3 33.1h0.9M18.4 34.6h0.9M19.1 27.9h0.9M11.6 27.9h0.9M26.3 31.5h0.9M24.8 25.8h0.9M22.0 33.8h0.9M12.2 35.3h0.9M10.0 32.5h0.9M17.3 35.0h0.9M28.7 31.3h0.9M23.5 29.5h0.9M25.1 27.9h0.9M14.4 33.9h0.9M27.8 33.2h0.9M24.0 28.7h0.9M23.1 34.7h0.9M22.8 28.8h0.9M19.5 34.7h0.9M8.1 29.1h0.9M25.3 31.5h0.9M18.5 36.3h0.9M7.7 27.9h0.9M24.0 32.8h0.9M14.7 37.1h0.9M18.2 28.5h0.9M23.5 33.8h0.9M12.9 33.8h0.9M8.6 33.7h0.9M7.0 31.3h0.9M17.4 28.3h0.9M19.3 26.8h0.9M16.2 26.8h0.9M15.0 27.8h0.9M21.6 36.8h0.9M22.9 28.3h0.9M27.0 35.2h0.9M16.2 34.5h0.9M22.9 30.1h0.9M13.5 26.3h0.9M11.9 30.5h0.9M23.7 34.4h0.9M12.7 32.9h0.9M24.7 31.6h0.9M26.9 35.4h0.9M21.3 34.9h0.9M12.0 36.0h0.9M21.8 33.9h0.9M15.8 36.2h0.9M11.0 31.6h0.9M8.1 31.0h0.9M24.3 31.4h0.9M20.5 37.7h0.9M11.2 32.6h0.9M15.0 27.4h0.9M26.0 33.3h0.9M24.7 32.0h0.9M13.8 27.8h0.9M18.1 28.3h0.9M12.7 38.2h0.9M11.0 37.1h0.9M23.2 33.4h0.9M28.3 34.7h0.9M19.0 37.3h0.9M12.6 28.0h0.9M16.3 28.2h0.9M18.3 36.1h0.9M23.6 30.8h0.9M10.6 29.5h0.9M28.3 33.6h0.9M18.3 28.1h0.9M24.8 32.0h0.9M24.0 36.6h0.9M23.4 28.1h0.9M19.0 36.6h0.9M15.4 27.1h0.9M23.2 29.8h0.9M24.0 29.0h0.9M21.7 26.3h0.9M24.1 34.1h0.9M19.9 35.4h0.9M27.3 30.3h0.9M17.9 35.6h0.9M12.3 32.5h0.9M21.1 28.4h0.9M18.6 27.7h0.9M12.1 30.9h0.9M10.4 35.7h0.9M24.1 37.3h0.9M15.9 35.2h0.9M27.9 29.2h0.9M18.4 34.4h0.9M11.3 32.4h0.9M22.7 27.1h0.9M12.1 30.7h0.9M14.6 28.8h0.9M11.7 29.9h0.9M27.4 28.1h0.9M8.6 29.5h0.9M17.7 35.1h0.9M14.5 26.9h0.9M12.2 30.8h0.9M11.6 32.7h0.9M15.2 27.5h0.9M12.2 32.8h0.9M21.8 28.9h0.9M24.8 34.2h0.9M21.8 29.4h0.9M21.9 34.6h0.9M25.1 25.7h0.9M8.4 31.7h0.9M21.6 27.2h0.9M24.8 33.1h0.9M25.0 33.9h0.9M21.5 27.9h0.9M20.8 34.5h0.9M17.1 27.9h0.9M28.2 32.8h0.9M20.5 27.8h0.9M11.2 29.7h0.9M14.6 27.0h0.9M12.5 36.3h0.9M25.2 34.6h0.9M23.3 33.2h0.9M11.3 33.6h0.9M13.5 28.7h0.9M18.1 27.4h0.9" stroke="#222" stroke-width="0.9" opacity="0.55"/>
<path d="M22.4 30.5h0.9M30.3 31.2h0.9M25.5 29.6h0.9M23.5 33.1h0.9M27.4 32.5h0.9M25.7 33.4h0.9M33.1 31.7h0.9M20.9 30.4h0.9M28.1 31.5h0.9M21.4 31.9h0.9M20.5 31.5h0.9M29.3 32.7h0.9M29.4 31.7h0.9M21.7 30.7h0.9M33.0 32.1h0.9M23.5 30.8h0.9M20.1 31.5h0.9M34.3 32.0h0.9M20.8 31.2h0.9M24.2 32.0h0.9M31.9 30.7h0.9M29.7 31.4h0.9M31.2 31.1h0.9M28.1 32.0h0.9M23.1 30.5h0.9M30.2 33.0h0.9M26.3 36.0h0.9M20.4 31.2h0.9M21.1 31.2h0.9M25.5 30.2h0.9M20.1 35.2h0.9M29.6 30.6h0.9M29.2 30.8h0.9M29.8 31.3h0.9M30.3 32.7h0.9M20.6 33.1h0.9M18.7 32.5h0.9M20.4 33.3h0.9M19.2 30.3h0.9M18.6 31.0h0.9M24.4 33.6h0.9M19.3 31.9h0.9M20.3 32.1h0.9M27.4 32.7h0.9M24.1 29.6h0.9M33.9 30.6h0.9M32.0 30.1h0.9M33.3 32.9h0.9M27.2 37.1h0.9M27.6 33.9h0.9M30.3 30.9h0.9M19.8 33.0h0.9M32.3 32.1h0.9M20.4 35.0h0.9M26.8 32.4h0.9M30.7 30.9h0.9M21.7 33.4h0.9M22.7 31.1h0.9M28.6 30.9h0.9M24.9 29.7h0.9M21.9 30.4h0.9M30.6 30.4h0.9M28.6 31.6h0.9M20.4 30.6h0.9M22.1 30.7h0.9M21.6 32.9h0.9M20.5 31.0h0.9M20.9 31.4h0.9M31.5 31.8h0.9M27.1 30.0h0.9M29.9 31.3h0.9M21.1 30.8h0.9M21.7 31.5h0.9M20.3 31.3h0.9M22.1 32.4h0.9M22.2 30.0h0.9M16.6 31.3h0.9M22.7 32.5h0.9M22.1 31.2h0.9M28.2 30.4h0.9M22.3 32.4h0.9M21.9 32.7h0.9M29.2 30.9h0.9M23.2 32.7h0.9M21.4 31.6h0.9M30.3 30.4h0.9M21.8 30.6h0.9M27.0 32.1h0.9M27.2 33.7h0.9M22.1 33.4h0.9M27.2 30.8h0.9M28.5 30.0h0.9M29.1 31.5h0.9M26.2 28.4h0.9M30.1 32.3h0.9M19.8 31.8h0.9M22.7 30.3h0.9M34.4 30.6h0.9M30.0 31.3h0.9M23.1 30.2h0.9M23.6 32.0h0.9M29.2 30.9h0.9M29.2 28.4h0.9M18.7 34.3h0.9M21.8 32.3h0.9M23.4 30.4h0.9M32.7 30.5h0.9M32.5 31.5h0.9M21.7 30.2h0.9M19.0 29.7h0.9M27.9 29.4h0.9M24.4 32.8h0.9M30.6 31.5h0.9M34.5 31.4h0.9M22.8 28.9h0.9M27.7 32.4h0.9M30.4 31.4h0.9M31.4 31.6h0.9M24.0 32.7h0.9M30.7 31.0h0.9M25.8 30.4h0.9M24.3 33.1h0.9M27.8 29.7h0.9M20.4 30.6h0.9M23.9 29.5h0.9M33.8 31.5h0.9M28.2 32.4h0.9M17.1 31.1h0.9M29.7 31.4h0.9M28.4 31.5h0.9M22.0 31.0h0.9M17.0 33.9h0.9M30.5 31.3h0.9M25.0 33.4h0.9M21.8 32.8h0.9M28.2 35.8h0.9M28.3 30.7h0.9M19.6 34.5h0.9M30.8 31.7h0.9M21.3 31.4h0.9" stroke="#222" stroke-width="0.9" opacity="0.55"/>
<path d="M30.60,30.50 C30.77,29.73 32.43,28.78 34.00,28.20 C35.57,27.62 38.00,27.40 40.00,27.00 C42.00,26.60 44.00,26.15 46.00,25.80 C48.00,25.45 50.08,25.15 52.00,24.90 C53.92,24.65 56.40,23.53 57.50,24.30 C58.60,25.07 58.58,27.55 58.60,29.50 C58.62,31.45 58.05,33.92 57.60,36.00 C57.15,38.08 56.58,40.45 55.90,42.00 C55.22,43.55 54.82,44.73 53.50,45.30 C52.18,45.87 49.50,45.90 48.00,45.40 C46.50,44.90 45.67,43.53 44.50,42.30 C43.33,41.07 42.25,39.30 41.00,38.00 C39.75,36.70 38.33,35.37 37.00,34.50 C35.67,33.63 34.07,33.47 33.00,32.80 C31.93,32.13 30.43,31.27 30.60,30.50Z" fill="#0a0a0a" stroke="#0a0a0a" stroke-width="4.2" stroke-linejoin="round" filter="url(#fz)"/>
<path d="M30.60,30.50 C30.77,29.73 32.43,28.78 34.00,28.20 C35.57,27.62 38.00,27.40 40.00,27.00 C42.00,26.60 44.00,26.15 46.00,25.80 C48.00,25.45 50.08,25.15 52.00,24.90 C53.92,24.65 56.40,23.53 57.50,24.30 C58.60,25.07 58.58,27.55 58.60,29.50 C58.62,31.45 58.05,33.92 57.60,36.00 C57.15,38.08 56.58,40.45 55.90,42.00 C55.22,43.55 54.82,44.73 53.50,45.30 C52.18,45.87 49.50,45.90 48.00,45.40 C46.50,44.90 45.67,43.53 44.50,42.30 C43.33,41.07 42.25,39.30 41.00,38.00 C39.75,36.70 38.33,35.37 37.00,34.50 C35.67,33.63 34.07,33.47 33.00,32.80 C31.93,32.13 30.43,31.27 30.60,30.50Z" fill="#050505" stroke="#050505" stroke-width="3.2" stroke-linejoin="round"/>
<path d="M24.00,31.00 C24.00,31.52 23.70,32.10 23.20,32.55 C22.70,33.00 21.87,33.43 21.00,33.68 C20.13,33.94 19.00,34.10 18.00,34.10 C17.00,34.10 15.87,33.94 15.00,33.68 C14.13,33.43 13.30,33.00 12.80,32.55 C12.30,32.10 12.00,31.52 12.00,31.00 C12.00,30.48 12.30,29.90 12.80,29.45 C13.30,29.00 14.13,28.57 15.00,28.32 C15.87,28.06 17.00,27.90 18.00,27.90 C19.00,27.90 20.13,28.06 21.00,28.32 C21.87,28.57 22.70,29.00 23.20,29.45 C23.70,29.90 24.00,30.48 24.00,31.00Z" fill="#0a0a0a" stroke="#0a0a0a" stroke-width="4.2" stroke-linejoin="round" filter="url(#fz)"/>
<path d="M24.00,31.00 C24.00,31.52 23.70,32.10 23.20,32.55 C22.70,33.00 21.87,33.43 21.00,33.68 C20.13,33.94 19.00,34.10 18.00,34.10 C17.00,34.10 15.87,33.94 15.00,33.68 C14.13,33.43 13.30,33.00 12.80,32.55 C12.30,32.10 12.00,31.52 12.00,31.00 C12.00,30.48 12.30,29.90 12.80,29.45 C13.30,29.00 14.13,28.57 15.00,28.32 C15.87,28.06 17.00,27.90 18.00,27.90 C19.00,27.90 20.13,28.06 21.00,28.32 C21.87,28.57 22.70,29.00 23.20,29.45 C23.70,29.90 24.00,30.48 24.00,31.00Z" fill="#050505" stroke="#050505" stroke-width="3.2" stroke-linejoin="round"/>
<path d="M22.00,30.30 C22.67,30.10 24.50,30.52 26.00,30.60 C27.50,30.68 31.00,30.60 31.00,30.80 C31.00,31.00 27.50,31.63 26.00,31.80 C24.50,31.97 22.67,32.05 22.00,31.80 C21.33,31.55 21.33,30.50 22.00,30.30Z" fill="#0a0a0a" stroke="#0a0a0a" stroke-width="4.2" stroke-linejoin="round" filter="url(#fz)"/>
<path d="M22.00,30.30 C22.67,30.10 24.50,30.52 26.00,30.60 C27.50,30.68 31.00,30.60 31.00,30.80 C31.00,31.00 27.50,31.63 26.00,31.80 C24.50,31.97 22.67,32.05 22.00,31.80 C21.33,31.55 21.33,30.50 22.00,30.30Z" fill="#050505" stroke="#050505" stroke-width="3.2" stroke-linejoin="round"/>
<path d="M30.60,30.50 C30.77,29.73 32.43,28.78 34.00,28.20 C35.57,27.62 38.00,27.40 40.00,27.00 C42.00,26.60 44.00,26.15 46.00,25.80 C48.00,25.45 50.08,25.15 52.00,24.90 C53.92,24.65 56.40,23.53 57.50,24.30 C58.60,25.07 58.58,27.55 58.60,29.50 C58.62,31.45 58.05,33.92 57.60,36.00 C57.15,38.08 56.58,40.45 55.90,42.00 C55.22,43.55 54.82,44.73 53.50,45.30 C52.18,45.87 49.50,45.90 48.00,45.40 C46.50,44.90 45.67,43.53 44.50,42.30 C43.33,41.07 42.25,39.30 41.00,38.00 C39.75,36.70 38.33,35.37 37.00,34.50 C35.67,33.63 34.07,33.47 33.00,32.80 C31.93,32.13 30.43,31.27 30.60,30.50Z" fill="#ececec" stroke="#fafafa" stroke-width="0.8"/>
<path d="M24.00,31.00 C24.00,31.52 23.70,32.10 23.20,32.55 C22.70,33.00 21.87,33.43 21.00,33.68 C20.13,33.94 19.00,34.10 18.00,34.10 C17.00,34.10 15.87,33.94 15.00,33.68 C14.13,33.43 13.30,33.00 12.80,32.55 C12.30,32.10 12.00,31.52 12.00,31.00 C12.00,30.48 12.30,29.90 12.80,29.45 C13.30,29.00 14.13,28.57 15.00,28.32 C15.87,28.06 17.00,27.90 18.00,27.90 C19.00,27.90 20.13,28.06 21.00,28.32 C21.87,28.57 22.70,29.00 23.20,29.45 C23.70,29.90 24.00,30.48 24.00,31.00Z" fill="#ececec" stroke="#fafafa" stroke-width="0.8"/>
<path d="M22.00,30.30 C22.67,30.10 24.50,30.52 26.00,30.60 C27.50,30.68 31.00,30.60 31.00,30.80 C31.00,31.00 27.50,31.63 26.00,31.80 C24.50,31.97 22.67,32.05 22.00,31.80 C21.33,31.55 21.33,30.50 22.00,30.30Z" fill="#ececec" stroke="#fafafa" stroke-width="0.8"/>
<path d="M33.17,31.08 C33.33,30.41 34.92,29.63 36.27,29.09 C37.63,28.56 39.54,28.26 41.28,27.89 C43.03,27.53 45.00,27.22 46.74,26.90 C48.47,26.57 50.01,26.24 51.70,25.96 C53.38,25.68 55.84,24.56 56.84,25.21 C57.84,25.87 57.70,28.15 57.70,29.92 C57.70,31.68 57.23,33.97 56.87,35.82 C56.50,37.68 56.14,39.70 55.52,41.07 C54.90,42.43 54.34,43.53 53.16,44.01 C51.97,44.50 49.74,44.38 48.39,43.95 C47.05,43.52 46.14,42.46 45.09,41.42 C44.05,40.39 43.20,38.92 42.10,37.74 C41.00,36.56 39.63,35.13 38.50,34.36 C37.37,33.58 36.21,33.66 35.32,33.11 C34.43,32.57 33.01,31.75 33.17,31.08Z" fill="none" stroke="#8a8a8a" stroke-width="0.55" opacity="1"/>
<path d="M35.73,31.18 C35.85,30.53 36.78,29.80 37.97,29.36 C39.16,28.92 41.30,28.78 42.88,28.54 C44.46,28.30 45.94,28.19 47.43,27.91 C48.93,27.63 50.44,27.09 51.85,26.87 C53.26,26.65 55.06,25.92 55.90,26.57 C56.74,27.22 56.92,29.24 56.90,30.76 C56.88,32.28 56.11,34.15 55.79,35.68 C55.46,37.21 55.40,38.78 54.96,39.94 C54.52,41.09 54.17,42.17 53.14,42.61 C52.12,43.05 49.98,43.03 48.81,42.60 C47.65,42.18 47.00,41.00 46.14,40.09 C45.27,39.17 44.61,38.04 43.62,37.11 C42.64,36.18 41.28,35.15 40.22,34.51 C39.15,33.86 37.99,33.79 37.24,33.23 C36.49,32.68 35.60,31.82 35.73,31.18Z" fill="none" stroke="#8a8a8a" stroke-width="0.55" opacity="1"/>
<path d="M37.96,31.61 C38.13,31.14 39.32,30.61 40.34,30.24 C41.36,29.87 42.87,29.64 44.09,29.38 C45.32,29.12 46.46,28.91 47.71,28.69 C48.95,28.46 50.31,28.16 51.55,28.01 C52.79,27.85 54.39,27.26 55.14,27.76 C55.89,28.26 56.02,29.72 56.05,30.99 C56.09,32.27 55.72,34.09 55.37,35.41 C55.02,36.73 54.42,37.95 53.95,38.93 C53.48,39.90 53.37,40.88 52.56,41.27 C51.76,41.66 50.05,41.57 49.10,41.26 C48.15,40.95 47.57,40.21 46.84,39.41 C46.12,38.61 45.53,37.30 44.76,36.43 C43.98,35.57 43.10,34.76 42.20,34.20 C41.29,33.64 40.02,33.50 39.31,33.07 C38.60,32.64 37.79,32.08 37.96,31.61Z" fill="none" stroke="#8a8a8a" stroke-width="0.55" opacity="1"/>
<path d="M40.25,32.13 C40.32,31.73 41.31,31.42 42.13,31.11 C42.95,30.80 44.11,30.52 45.16,30.26 C46.21,30.00 47.37,29.70 48.42,29.56 C49.48,29.42 50.52,29.56 51.47,29.42 C52.43,29.28 53.54,28.34 54.14,28.71 C54.75,29.09 55.06,30.64 55.11,31.67 C55.17,32.69 54.71,33.81 54.46,34.86 C54.21,35.91 53.99,37.15 53.61,37.97 C53.23,38.79 52.88,39.47 52.16,39.76 C51.44,40.04 50.05,39.96 49.28,39.69 C48.52,39.42 48.21,38.72 47.59,38.16 C46.97,37.59 46.20,36.91 45.57,36.29 C44.94,35.67 44.44,34.92 43.79,34.46 C43.15,34.00 42.30,33.91 41.71,33.52 C41.12,33.13 40.17,32.53 40.25,32.13Z" fill="none" stroke="#8a8a8a" stroke-width="0.55" opacity="1"/>
<path d="M42.94,32.78 C43.08,32.47 43.78,32.07 44.39,31.82 C45.01,31.58 45.87,31.54 46.63,31.33 C47.39,31.12 48.16,30.73 48.97,30.58 C49.78,30.42 50.68,30.46 51.48,30.40 C52.28,30.34 53.38,29.90 53.77,30.22 C54.16,30.53 53.83,31.51 53.82,32.29 C53.80,33.08 53.79,34.13 53.66,34.95 C53.53,35.76 53.29,36.58 53.04,37.20 C52.79,37.81 52.74,38.37 52.18,38.62 C51.61,38.88 50.30,38.95 49.65,38.70 C49.01,38.45 48.75,37.63 48.29,37.15 C47.83,36.67 47.37,36.37 46.91,35.85 C46.45,35.32 46.09,34.36 45.53,34.01 C44.97,33.65 43.99,33.91 43.56,33.70 C43.12,33.50 42.80,33.09 42.94,32.78Z" fill="none" stroke="#8a8a8a" stroke-width="0.55" opacity="1"/>
<path d="M45.24,33.14 C45.28,32.92 45.60,32.38 46.02,32.21 C46.45,32.03 47.21,32.17 47.80,32.10 C48.39,32.04 48.99,31.97 49.55,31.84 C50.10,31.71 50.60,31.46 51.12,31.32 C51.64,31.19 52.32,30.78 52.66,31.05 C53.01,31.32 53.21,32.39 53.21,32.94 C53.22,33.49 52.79,33.74 52.68,34.33 C52.58,34.91 52.76,35.99 52.61,36.44 C52.46,36.88 52.14,36.85 51.77,37.01 C51.40,37.17 50.84,37.49 50.38,37.39 C49.92,37.29 49.40,36.80 49.00,36.39 C48.60,35.98 48.27,35.29 47.97,34.94 C47.67,34.60 47.57,34.57 47.21,34.32 C46.84,34.08 46.10,33.68 45.77,33.48 C45.45,33.28 45.20,33.35 45.24,33.14Z" fill="none" stroke="#8a8a8a" stroke-width="0.55" opacity="1"/>
<path d="M47.69,33.67 C47.65,33.51 47.84,33.21 48.08,33.05 C48.32,32.90 48.81,32.79 49.13,32.76 C49.46,32.73 49.65,32.89 50.03,32.86 C50.41,32.83 51.08,32.69 51.40,32.58 C51.72,32.47 51.82,32.07 51.96,32.22 C52.10,32.37 52.28,33.12 52.26,33.50 C52.23,33.89 51.90,34.20 51.81,34.51 C51.72,34.82 51.81,35.16 51.72,35.37 C51.62,35.58 51.43,35.67 51.22,35.74 C51.02,35.82 50.72,35.87 50.49,35.82 C50.26,35.78 49.99,35.72 49.84,35.49 C49.70,35.26 49.81,34.67 49.62,34.45 C49.43,34.23 48.93,34.23 48.71,34.16 C48.50,34.09 48.49,34.11 48.32,34.03 C48.15,33.95 47.73,33.84 47.69,33.67Z" fill="none" stroke="#8a8a8a" stroke-width="0.55" opacity="1"/>
<ellipse cx="18" cy="31" rx="3.4" ry="1.4" transform="rotate(0 18 31)" fill="none" stroke="#888" stroke-width="0.6" opacity="1"/>
</g>
<rect x="453.5" y="204.5" width="64" height="59.5" fill="none" stroke="#666" stroke-width="1"/>
<text x="456.0" y="216.5" font-size="12.5" text-anchor="start" font-weight="normal" font-style="normal" fill="#111" >17</text>
<text x="514.5" y="216.5" font-size="12.5" text-anchor="end" font-weight="normal" font-style="normal" fill="#111" >64</text>
<text x="514.5" y="262.2" font-size="12.5" text-anchor="end" font-weight="normal" font-style="normal" fill="#111" >19</text>
<text transform="translate(19,263.5) rotate(-90)" font-size="15" fill="#111">CD44</text>
<path d="M12.8,221 L12.8,184.5 M7.1,194.6 L12.8,184.3 L18.6,194.6" fill="none" stroke="#222" stroke-width="1.2"/>
<text x="23" y="283" font-size="15" text-anchor="start" font-weight="normal" font-style="normal" fill="#111" >CD25</text>
<path d="M66.7,277.2 L102.8,277.2 M92.7,270.7 L103,277.2 L92.7,283.7" fill="none" stroke="#222" stroke-width="1.2"/>
<text transform="translate(-0.5,328.8) scale(1,1.07)" font-size="24" font-weight="bold" fill="#000">B</text>
<text transform="translate(258,329.6) scale(1,1.08)" font-size="24" font-weight="bold" fill="#000">C</text>
<rect x="84" y="313.5" width="9.5" height="9" fill="#e89c3a" stroke="#222" stroke-width="1"/>
<text x="97" y="323" font-size="13" text-anchor="start" font-weight="normal" font-style="normal" fill="#111" >T cell</text>
<rect x="135.5" y="313.5" width="9.5" height="9" fill="#dd0505" stroke="#222" stroke-width="1"/>
<text x="149" y="323" font-size="13" text-anchor="start" font-weight="normal" font-style="normal" fill="#111" >Mφ</text>
<rect x="178" y="313.5" width="9.5" height="9" fill="#8a3a10" stroke="#222" stroke-width="1"/>
<text x="191" y="323" font-size="13" text-anchor="start" font-weight="normal" font-style="normal" fill="#111" >DC</text>
<rect x="321" y="314" width="9.5" height="9" fill="#ffffff" stroke="#222" stroke-width="1"/>
<text x="333" y="323.5" font-size="13" text-anchor="start" font-weight="normal" font-style="normal" fill="#111" >DN1</text>
<rect x="365.5" y="314" width="9.5" height="9" fill="#0808ee" stroke="#222" stroke-width="1"/>
<text x="377" y="323.5" font-size="13" text-anchor="start" font-weight="normal" font-style="normal" fill="#111" >DN2</text>
<rect x="411.5" y="314" width="9.5" height="9" fill="#72c8f6" stroke="#222" stroke-width="1"/>
<text x="423.5" y="323.5" font-size="13" text-anchor="start" font-weight="normal" font-style="normal" fill="#111" >DN3</text>
<line x1="70.5" y1="338.3" x2="70.5" y2="446.3" stroke="#999" stroke-width="1"/>
<line x1="67.5" y1="446.3" x2="70.5" y2="446.3" stroke="#999" stroke-width="1"/>
<text x="61.0" y="449.90000000000003" font-size="10" text-anchor="end" font-weight="normal" font-style="normal" fill="#111" >0</text>
<line x1="67.5" y1="424.7" x2="70.5" y2="424.7" stroke="#999" stroke-width="1"/>
<text x="61.0" y="428.3" font-size="10" text-anchor="end" font-weight="normal" font-style="normal" fill="#111" >20</text>
<line x1="67.5" y1="403.1" x2="70.5" y2="403.1" stroke="#999" stroke-width="1"/>
<text x="61.0" y="406.70000000000005" font-size="10" text-anchor="end" font-weight="normal" font-style="normal" fill="#111" >40</text>
<line x1="67.5" y1="381.5" x2="70.5" y2="381.5" stroke="#999" stroke-width="1"/>
<text x="61.0" y="385.1" font-size="10" text-anchor="end" font-weight="normal" font-style="normal" fill="#111" >60</text>
<line x1="67.5" y1="359.9" x2="70.5" y2="359.9" stroke="#999" stroke-width="1"/>
<text x="61.0" y="363.5" font-size="10" text-anchor="end" font-weight="normal" font-style="normal" fill="#111" >80</text>
<line x1="67.5" y1="338.3" x2="70.5" y2="338.3" stroke="#999" stroke-width="1"/>
<text x="61.0" y="341.90000000000003" font-size="10" text-anchor="end" font-weight="normal" font-style="normal" fill="#111" >100</text>
<line x1="70.5" y1="446.3" x2="228.09" y2="446.3" stroke="#999" stroke-width="1"/>
<line x1="70.5" y1="446.3" x2="70.5" y2="449.3" stroke="#999" stroke-width="1"/>
<line x1="92.87" y1="446.3" x2="92.87" y2="449.3" stroke="#999" stroke-width="1"/>
<line x1="115.24000000000001" y1="446.3" x2="115.24000000000001" y2="449.3" stroke="#999" stroke-width="1"/>
<line x1="137.61" y1="446.3" x2="137.61" y2="449.3" stroke="#999" stroke-width="1"/>
<line x1="159.98000000000002" y1="446.3" x2="159.98000000000002" y2="449.3" stroke="#999" stroke-width="1"/>
<line x1="182.35000000000002" y1="446.3" x2="182.35000000000002" y2="449.3" stroke="#999" stroke-width="1"/>
<line x1="204.72" y1="446.3" x2="204.72" y2="449.3" stroke="#999" stroke-width="1"/>
<line x1="227.09" y1="446.3" x2="227.09" y2="449.3" stroke="#999" stroke-width="1"/>
<rect x="77.35" y="443.06" width="9.5" height="3.240000000000009" fill="#8a3a10" stroke="#1a1a1a" stroke-width="1"/>
<rect x="77.35" y="439.82" width="9.5" height="3.240000000000009" fill="#dd0505" stroke="#1a1a1a" stroke-width="1"/>
<rect x="77.35" y="338.3" width="9.5" height="101.51999999999998" fill="#e89c3a" stroke="#1a1a1a" stroke-width="1"/>
<text x="83.6" y="335.3" font-size="10.5" text-anchor="middle" font-weight="normal" font-style="normal" fill="#111" >2.6</text>
<rect x="99.72" y="443.06" width="9.5" height="3.240000000000009" fill="#8a3a10" stroke="#1a1a1a" stroke-width="1"/>
<rect x="99.72" y="418.004" width="9.5" height="25.055999999999983" fill="#dd0505" stroke="#1a1a1a" stroke-width="1"/>
<rect x="99.72" y="345.536" width="9.5" height="72.46800000000002" fill="#e89c3a" stroke="#1a1a1a" stroke-width="1"/>
<text x="105.97" y="342.536" font-size="10.5" text-anchor="middle" font-weight="normal" font-style="normal" fill="#111" >0.4</text>
<rect x="122.09" y="435.932" width="9.5" height="10.367999999999995" fill="#8a3a10" stroke="#1a1a1a" stroke-width="1"/>
<rect x="122.09" y="422.86400000000003" width="9.5" height="13.067999999999984" fill="#dd0505" stroke="#1a1a1a" stroke-width="1"/>
<rect x="122.09" y="345.212" width="9.5" height="77.65200000000004" fill="#e89c3a" stroke="#1a1a1a" stroke-width="1"/>
<text x="128.34" y="342.212" font-size="10.5" text-anchor="middle" font-weight="normal" font-style="normal" fill="#111" >0.7</text>
<rect x="144.45999999999998" y="372.86" width="9.5" height="73.44" fill="#8a3a10" stroke="#1a1a1a" stroke-width="1"/>
<rect x="144.45999999999998" y="364.22" width="9.5" height="8.639999999999986" fill="#dd0505" stroke="#1a1a1a" stroke-width="1"/>
<rect x="144.45999999999998" y="342.836" width="9.5" height="21.384000000000015" fill="#e89c3a" stroke="#1a1a1a" stroke-width="1"/>
<text x="150.70999999999998" y="339.836" font-size="10.5" text-anchor="middle" font-weight="normal" font-style="normal" fill="#111" >0.5</text>
<rect x="166.82999999999998" y="413.468" width="9.5" height="32.831999999999994" fill="#8a3a10" stroke="#1a1a1a" stroke-width="1"/>
<rect x="166.82999999999998" y="391.22" width="9.5" height="22.24799999999999" fill="#dd0505" stroke="#1a1a1a" stroke-width="1"/>
<rect x="166.82999999999998" y="346.18399999999997" width="9.5" height="45.03600000000006" fill="#e89c3a" stroke="#1a1a1a" stroke-width="1"/>
<text x="173.07999999999998" y="343.18399999999997" font-size="10.5" text-anchor="middle" font-weight="normal" font-style="normal" fill="#111" >0.1</text>
<rect x="189.2" y="430.1" width="9.5" height="16.19999999999999" fill="#8a3a10" stroke="#1a1a1a" stroke-width="1"/>
<rect x="189.2" y="396.296" width="9.5" height="33.80400000000003" fill="#dd0505" stroke="#1a1a1a" stroke-width="1"/>
<rect x="189.2" y="346.184" width="9.5" height="50.111999999999966" fill="#e89c3a" stroke="#1a1a1a" stroke-width="1"/>
<text x="195.45" y="343.184" font-size="10.5" text-anchor="middle" font-weight="normal" font-style="normal" fill="#111" >1.6</text>
<rect x="211.57" y="424.916" width="9.5" height="21.384000000000015" fill="#8a3a10" stroke="#1a1a1a" stroke-width="1"/>
<rect x="211.57" y="369.62" width="9.5" height="55.29599999999999" fill="#dd0505" stroke="#1a1a1a" stroke-width="1"/>
<rect x="211.57" y="349.64" width="9.5" height="19.980000000000018" fill="#e89c3a" stroke="#1a1a1a" stroke-width="1"/>
<text x="217.82" y="346.64" font-size="10.5" text-anchor="middle" font-weight="normal" font-style="normal" fill="#111" >2.8</text>
<text x="231" y="345" font-size="15" text-anchor="start" font-weight="normal" font-style="normal" fill="#111" >d4</text>
<line x1="70.5" y1="471.5" x2="70.5" y2="579.5" stroke="#999" stroke-width="1"/>
<line x1="67.5" y1="579.5" x2="70.5" y2="579.5" stroke="#999" stroke-width="1"/>
<text x="61.0" y="583.1" font-size="10" text-anchor="end" font-weight="normal" font-style="normal" fill="#111" >0</text>
<line x1="67.5" y1="557.9" x2="70.5" y2="557.9" stroke="#999" stroke-width="1"/>
<text x="61.0" y="561.5" font-size="10" text-anchor="end" font-weight="normal" font-style="normal" fill="#111" >20</text>
<line x1="67.5" y1="536.3" x2="70.5" y2="536.3" stroke="#999" stroke-width="1"/>
<text x="61.0" y="539.9" font-size="10" text-anchor="end" font-weight="normal" font-style="normal" fill="#111" >40</text>
<line x1="67.5" y1="514.7" x2="70.5" y2="514.7" stroke="#999" stroke-width="1"/>
<text x="61.0" y="518.3000000000001" font-size="10" text-anchor="end" font-weight="normal" font-style="normal" fill="#111" >60</text>
<line x1="67.5" y1="493.1" x2="70.5" y2="493.1" stroke="#999" stroke-width="1"/>
<text x="61.0" y="496.70000000000005" font-size="10" text-anchor="end" font-weight="normal" font-style="normal" fill="#111" >80</text>
<line x1="67.5" y1="471.5" x2="70.5" y2="471.5" stroke="#999" stroke-width="1"/>
<text x="61.0" y="475.1" font-size="10" text-anchor="end" font-weight="normal" font-style="normal" fill="#111" >100</text>
<line x1="70.5" y1="579.5" x2="228.09" y2="579.5" stroke="#999" stroke-width="1"/>
<line x1="70.5" y1="579.5" x2="70.5" y2="582.5" stroke="#999" stroke-width="1"/>
<line x1="92.87" y1="579.5" x2="92.87" y2="582.5" stroke="#999" stroke-width="1"/>
<line x1="115.24000000000001" y1="579.5" x2="115.24000000000001" y2="582.5" stroke="#999" stroke-width="1"/>
<line x1="137.61" y1="579.5" x2="137.61" y2="582.5" stroke="#999" stroke-width="1"/>
<line x1="159.98000000000002" y1="579.5" x2="159.98000000000002" y2="582.5" stroke="#999" stroke-width="1"/>
<line x1="182.35000000000002" y1="579.5" x2="182.35000000000002" y2="582.5" stroke="#999" stroke-width="1"/>
<line x1="204.72" y1="579.5" x2="204.72" y2="582.5" stroke="#999" stroke-width="1"/>
<line x1="227.09" y1="579.5" x2="227.09" y2="582.5" stroke="#999" stroke-width="1"/>
<rect x="77.35" y="578.636" width="9.5" height="0.8640000000000327" fill="#8a3a10" stroke="#1a1a1a" stroke-width="1"/>
<rect x="77.35" y="471.5" width="9.5" height="107.13599999999997" fill="#e89c3a" stroke="#1a1a1a" stroke-width="1"/>
<text x="83.6" y="468.5" font-size="10.5" text-anchor="middle" font-weight="normal" font-style="normal" fill="#111" >79</text>
<rect x="99.72" y="578.096" width="9.5" height="1.4039999999999964" fill="#8a3a10" stroke="#1a1a1a" stroke-width="1"/>
<rect x="99.72" y="471.5" width="9.5" height="106.596" fill="#e89c3a" stroke="#1a1a1a" stroke-width="1"/>
<text x="105.97" y="468.5" font-size="10.5" text-anchor="middle" font-weight="normal" font-style="normal" fill="#111" >40</text>
<rect x="122.09" y="577.34" width="9.5" height="2.159999999999968" fill="#8a3a10" stroke="#1a1a1a" stroke-width="1"/>
<rect x="122.09" y="471.5" width="9.5" height="105.84000000000003" fill="#e89c3a" stroke="#1a1a1a" stroke-width="1"/>
<text x="128.34" y="468.5" font-size="10.5" text-anchor="middle" font-weight="normal" font-style="normal" fill="#111" >223</text>
<rect x="144.45999999999998" y="562.544" width="9.5" height="16.956000000000017" fill="#8a3a10" stroke="#1a1a1a" stroke-width="1"/>
<rect x="144.45999999999998" y="550.448" width="9.5" height="12.096000000000004" fill="#dd0505" stroke="#1a1a1a" stroke-width="1"/>
<rect x="144.45999999999998" y="478.41200000000003" width="9.5" height="72.03599999999994" fill="#e89c3a" stroke="#1a1a1a" stroke-width="1"/>
<text x="150.70999999999998" y="475.41200000000003" font-size="10.5" text-anchor="middle" font-weight="normal" font-style="normal" fill="#111" >0.4</text>
<rect x="166.82999999999998" y="575.396" width="9.5" height="4.104000000000042" fill="#8a3a10" stroke="#1a1a1a" stroke-width="1"/>
<rect x="166.82999999999998" y="571.94" width="9.5" height="3.4559999999999036" fill="#dd0505" stroke="#1a1a1a" stroke-width="1"/>
<rect x="166.82999999999998" y="473.65999999999997" width="9.5" height="98.28000000000009" fill="#e89c3a" stroke="#1a1a1a" stroke-width="1"/>
<text x="173.07999999999998" y="470.65999999999997" font-size="10.5" text-anchor="middle" font-weight="normal" font-style="normal" fill="#111" >8.3</text>
<rect x="189.2" y="570.536" width="9.5" height="8.964000000000055" fill="#8a3a10" stroke="#1a1a1a" stroke-width="1"/>
<rect x="189.2" y="563.624" width="9.5" height="6.911999999999921" fill="#dd0505" stroke="#1a1a1a" stroke-width="1"/>
<rect x="189.2" y="476.68399999999997" width="9.5" height="86.94000000000005" fill="#e89c3a" stroke="#1a1a1a" stroke-width="1"/>
<text x="195.45" y="473.68399999999997" font-size="10.5" text-anchor="middle" font-weight="normal" font-style="normal" fill="#111" >2.3</text>
<rect x="211.57" y="568.376" width="9.5" height="11.124000000000024" fill="#8a3a10" stroke="#1a1a1a" stroke-width="1"/>
<rect x="211.57" y="558.008" width="9.5" height="10.367999999999938" fill="#dd0505" stroke="#1a1a1a" stroke-width="1"/>
<rect x="211.57" y="475.28" width="9.5" height="82.72800000000007" fill="#e89c3a" stroke="#1a1a1a" stroke-width="1"/>
<text x="217.82" y="472.28" font-size="10.5" text-anchor="middle" font-weight="normal" font-style="normal" fill="#111" >19</text>
<text x="231" y="480" font-size="15" text-anchor="start" font-weight="normal" font-style="normal" fill="#111" >d6</text>
<line x1="311" y1="340.2" x2="311" y2="448.4" stroke="#999" stroke-width="1"/>
<line x1="308" y1="448.4" x2="311" y2="448.4" stroke="#999" stroke-width="1"/>
<text x="301.5" y="452.0" font-size="10" text-anchor="end" font-weight="normal" font-style="normal" fill="#111" >0</text>
<line x1="308" y1="426.76" x2="311" y2="426.76" stroke="#999" stroke-width="1"/>
<text x="301.5" y="430.36" font-size="10" text-anchor="end" font-weight="normal" font-style="normal" fill="#111" >20</text>
<line x1="308" y1="405.12" x2="311" y2="405.12" stroke="#999" stroke-width="1"/>
<text x="301.5" y="408.72" font-size="10" text-anchor="end" font-weight="normal" font-style="normal" fill="#111" >40</text>
<line x1="308" y1="383.48" x2="311" y2="383.48" stroke="#999" stroke-width="1"/>
<text x="301.5" y="387.08000000000004" font-size="10" text-anchor="end" font-weight="normal" font-style="normal" fill="#111" >60</text>
<line x1="308" y1="361.84" x2="311" y2="361.84" stroke="#999" stroke-width="1"/>
<text x="301.5" y="365.44" font-size="10" text-anchor="end" font-weight="normal" font-style="normal" fill="#111" >80</text>
<line x1="308" y1="340.2" x2="311" y2="340.2" stroke="#999" stroke-width="1"/>
<text x="301.5" y="343.8" font-size="10" text-anchor="end" font-weight="normal" font-style="normal" fill="#111" >100</text>
<line x1="311" y1="448.4" x2="468.45000000000005" y2="448.4" stroke="#999" stroke-width="1"/>
<line x1="311.0" y1="448.4" x2="311.0" y2="451.4" stroke="#999" stroke-width="1"/>
<line x1="333.35" y1="448.4" x2="333.35" y2="451.4" stroke="#999" stroke-width="1"/>
<line x1="355.7" y1="448.4" x2="355.7" y2="451.4" stroke="#999" stroke-width="1"/>
<line x1="378.05" y1="448.4" x2="378.05" y2="451.4" stroke="#999" stroke-width="1"/>
<line x1="400.4" y1="448.4" x2="400.4" y2="451.4" stroke="#999" stroke-width="1"/>
<line x1="422.75" y1="448.4" x2="422.75" y2="451.4" stroke="#999" stroke-width="1"/>
<line x1="445.1" y1="448.4" x2="445.1" y2="451.4" stroke="#999" stroke-width="1"/>
<line x1="467.45000000000005" y1="448.4" x2="467.45000000000005" y2="451.4" stroke="#999" stroke-width="1"/>
<rect x="318.25" y="438.98659999999995" width="9.5" height="9.413400000000024" fill="#ffffff" stroke="#1a1a1a" stroke-width="1"/>
<rect x="318.25" y="359.2432" width="9.5" height="79.74339999999995" fill="#0808ee" stroke="#1a1a1a" stroke-width="1"/>
<rect x="318.25" y="340.2" width="9.5" height="19.043200000000013" fill="#72c8f6" stroke="#1a1a1a" stroke-width="1"/>
<rect x="340.6" y="415.8318" width="9.5" height="32.56819999999999" fill="#ffffff" stroke="#1a1a1a" stroke-width="1"/>
<rect x="340.6" y="363.46299999999997" width="9.5" height="52.36880000000002" fill="#0808ee" stroke="#1a1a1a" stroke-width="1"/>
<rect x="340.6" y="347.1248" width="9.5" height="16.338199999999972" fill="#72c8f6" stroke="#1a1a1a" stroke-width="1"/>
<rect x="362.95" y="372.7682" width="9.5" height="75.6318" fill="#ffffff" stroke="#1a1a1a" stroke-width="1"/>
<rect x="362.95" y="342.5804" width="9.5" height="30.18779999999998" fill="#0808ee" stroke="#1a1a1a" stroke-width="1"/>
<rect x="362.95" y="340.8492" width="9.5" height="1.7312000000000012" fill="#72c8f6" stroke="#1a1a1a" stroke-width="1"/>
<rect x="385.3" y="382.5062" width="9.5" height="65.8938" fill="#ffffff" stroke="#1a1a1a" stroke-width="1"/>
<rect x="385.3" y="355.1316" width="9.5" height="27.374599999999987" fill="#0808ee" stroke="#1a1a1a" stroke-width="1"/>
<rect x="385.3" y="350.5872" width="9.5" height="4.544399999999996" fill="#72c8f6" stroke="#1a1a1a" stroke-width="1"/>
<rect x="407.65" y="375.2568" width="9.5" height="73.14319999999998" fill="#ffffff" stroke="#1a1a1a" stroke-width="1"/>
<rect x="407.65" y="350.5872" width="9.5" height="24.669600000000003" fill="#0808ee" stroke="#1a1a1a" stroke-width="1"/>
<rect x="407.65" y="345.069" width="9.5" height="5.518199999999979" fill="#72c8f6" stroke="#1a1a1a" stroke-width="1"/>
<rect x="430.0" y="363.7876" width="9.5" height="84.61239999999998" fill="#ffffff" stroke="#1a1a1a" stroke-width="1"/>
<rect x="430.0" y="348.53139999999996" width="9.5" height="15.256200000000035" fill="#0808ee" stroke="#1a1a1a" stroke-width="1"/>
<rect x="430.0" y="346.4756" width="9.5" height="2.0557999999999765" fill="#72c8f6" stroke="#1a1a1a" stroke-width="1"/>
<rect x="452.35" y="348.2068" width="9.5" height="100.19319999999999" fill="#ffffff" stroke="#1a1a1a" stroke-width="1"/>
<rect x="452.35" y="343.0132" width="9.5" height="5.1936000000000035" fill="#0808ee" stroke="#1a1a1a" stroke-width="1"/>
<rect x="452.35" y="341.6066" width="9.5" height="1.406599999999969" fill="#72c8f6" stroke="#1a1a1a" stroke-width="1"/>
<text x="467.5" y="346" font-size="15" text-anchor="start" font-weight="normal" font-style="normal" fill="#111" >d4</text>
<line x1="311" y1="472.5" x2="311" y2="580.5" stroke="#999" stroke-width="1"/>
<line x1="308" y1="580.5" x2="311" y2="580.5" stroke="#999" stroke-width="1"/>
<text x="301.5" y="584.1" font-size="10" text-anchor="end" font-weight="normal" font-style="normal" fill="#111" >0</text>
<line x1="308" y1="558.9" x2="311" y2="558.9" stroke="#999" stroke-width="1"/>
<text x="301.5" y="562.5" font-size="10" text-anchor="end" font-weight="normal" font-style="normal" fill="#111" >20</text>
<line x1="308" y1="537.3" x2="311" y2="537.3" stroke="#999" stroke-width="1"/>
<text x="301.5" y="540.9" font-size="10" text-anchor="end" font-weight="normal" font-style="normal" fill="#111" >40</text>
<line x1="308" y1="515.7" x2="311" y2="515.7" stroke="#999" stroke-width="1"/>
<text x="301.5" y="519.3000000000001" font-size="10" text-anchor="end" font-weight="normal" font-style="normal" fill="#111" >60</text>
<line x1="308" y1="494.1" x2="311" y2="494.1" stroke="#999" stroke-width="1"/>
<text x="301.5" y="497.70000000000005" font-size="10" text-anchor="end" font-weight="normal" font-style="normal" fill="#111" >80</text>
<line x1="308" y1="472.5" x2="311" y2="472.5" stroke="#999" stroke-width="1"/>
<text x="301.5" y="476.1" font-size="10" text-anchor="end" font-weight="normal" font-style="normal" fill="#111" >100</text>
<line x1="311" y1="580.5" x2="468.45000000000005" y2="580.5" stroke="#999" stroke-width="1"/>
<line x1="311.0" y1="580.5" x2="311.0" y2="583.5" stroke="#999" stroke-width="1"/>
<line x1="333.35" y1="580.5" x2="333.35" y2="583.5" stroke="#999" stroke-width="1"/>
<line x1="355.7" y1="580.5" x2="355.7" y2="583.5" stroke="#999" stroke-width="1"/>
<line x1="378.05" y1="580.5" x2="378.05" y2="583.5" stroke="#999" stroke-width="1"/>
<line x1="400.4" y1="580.5" x2="400.4" y2="583.5" stroke="#999" stroke-width="1"/>
<line x1="422.75" y1="580.5" x2="422.75" y2="583.5" stroke="#999" stroke-width="1"/>
<line x1="445.1" y1="580.5" x2="445.1" y2="583.5" stroke="#999" stroke-width="1"/>
<line x1="467.45000000000005" y1="580.5" x2="467.45000000000005" y2="583.5" stroke="#999" stroke-width="1"/>
<rect x="318.25" y="536.004" width="9.5" height="44.49599999999998" fill="#0808ee" stroke="#1a1a1a" stroke-width="1"/>
<rect x="318.25" y="472.5" width="9.5" height="63.50400000000002" fill="#72c8f6" stroke="#1a1a1a" stroke-width="1"/>
<rect x="340.6" y="578.448" width="9.5" height="2.052000000000021" fill="#ffffff" stroke="#1a1a1a" stroke-width="1"/>
<rect x="340.6" y="526.5" width="9.5" height="51.94799999999998" fill="#0808ee" stroke="#1a1a1a" stroke-width="1"/>
<rect x="340.6" y="472.5" width="9.5" height="54.0" fill="#72c8f6" stroke="#1a1a1a" stroke-width="1"/>
<rect x="362.95" y="557.496" width="9.5" height="23.00400000000002" fill="#ffffff" stroke="#1a1a1a" stroke-width="1"/>
<rect x="362.95" y="496.476" width="9.5" height="61.01999999999998" fill="#0808ee" stroke="#1a1a1a" stroke-width="1"/>
<rect x="362.95" y="472.5" width="9.5" height="23.976" fill="#72c8f6" stroke="#1a1a1a" stroke-width="1"/>
<rect x="385.3" y="532.98" width="9.5" height="47.51999999999998" fill="#ffffff" stroke="#1a1a1a" stroke-width="1"/>
<rect x="385.3" y="483.948" width="9.5" height="49.03200000000004" fill="#0808ee" stroke="#1a1a1a" stroke-width="1"/>
<rect x="385.3" y="474.012" width="9.5" height="9.935999999999979" fill="#72c8f6" stroke="#1a1a1a" stroke-width="1"/>
<rect x="407.65" y="565.4879999999999" width="9.5" height="15.012000000000057" fill="#ffffff" stroke="#1a1a1a" stroke-width="1"/>
<rect x="407.65" y="482.976" width="9.5" height="82.51199999999994" fill="#0808ee" stroke="#1a1a1a" stroke-width="1"/>
<rect x="407.65" y="472.5" width="9.5" height="10.475999999999999" fill="#72c8f6" stroke="#1a1a1a" stroke-width="1"/>
<rect x="430.0" y="552.96" width="9.5" height="27.539999999999964" fill="#ffffff" stroke="#1a1a1a" stroke-width="1"/>
<rect x="430.0" y="505.548" width="9.5" height="47.412000000000035" fill="#0808ee" stroke="#1a1a1a" stroke-width="1"/>
<rect x="430.0" y="472.5" width="9.5" height="33.048" fill="#72c8f6" stroke="#1a1a1a" stroke-width="1"/>
<rect x="452.35" y="525.528" width="9.5" height="54.97199999999998" fill="#ffffff" stroke="#1a1a1a" stroke-width="1"/>
<rect x="452.35" y="483.948" width="9.5" height="41.58000000000004" fill="#0808ee" stroke="#1a1a1a" stroke-width="1"/>
<rect x="452.35" y="472.5" width="9.5" height="11.447999999999979" fill="#72c8f6" stroke="#1a1a1a" stroke-width="1"/>
<text x="467.5" y="482" font-size="15" text-anchor="start" font-weight="normal" font-style="normal" fill="#111" >d6</text>
<text transform="translate(38.5,495.7) rotate(-90)" font-size="13.2" text-anchor="middle" fill="#111">frequency among live cells [%]</text>
<text transform="translate(279,499.3) rotate(-90)" font-size="13.2" text-anchor="middle" fill="#111">frequency among T cells [%]</text>
<text transform="translate(83.1,593.5) rotate(-45)" font-size="11" text-anchor="end" fill="#111">ETP GFP-</text>
<text transform="translate(325.5,593.5) rotate(-45)" font-size="11" text-anchor="end" fill="#111">ETP GFP-</text>
<text transform="translate(105.47,593.5) rotate(-45)" font-size="11" text-anchor="end" fill="#111">ETP GFP+</text>
<text transform="translate(347.87,593.5) rotate(-45)" font-size="11" text-anchor="end" fill="#111">ETP GFP+</text>
<text transform="translate(127.84,593.5) rotate(-45)" font-size="11" text-anchor="end" fill="#111">CLP</text>
<text transform="translate(370.24,593.5) rotate(-45)" font-size="11" text-anchor="end" fill="#111">CLP</text>
<text transform="translate(150.20999999999998,593.5) rotate(-45)" font-size="11" text-anchor="end" fill="#111">preDC</text>
<text transform="translate(392.61,593.5) rotate(-45)" font-size="11" text-anchor="end" fill="#111">preDC</text>
<text transform="translate(172.57999999999998,593.5) rotate(-45)" font-size="11" text-anchor="end" fill="#111">CDP</text>
<text transform="translate(414.98,593.5) rotate(-45)" font-size="11" text-anchor="end" fill="#111">CDP</text>
<text transform="translate(194.95,593.5) rotate(-45)" font-size="11" text-anchor="end" fill="#111">MDP</text>
<text transform="translate(437.35,593.5) rotate(-45)" font-size="11" text-anchor="end" fill="#111">MDP</text>
<text transform="translate(217.32,593.5) rotate(-45)" font-size="11" text-anchor="end" fill="#111">MP</text>
<text transform="translate(459.72,593.5) rotate(-45)" font-size="11" text-anchor="end" fill="#111">MP</text>
<text transform="translate(-0.5,677.8) scale(1,1.07)" font-size="24" font-weight="bold" fill="#000">D</text>
<line x1="65" y1="686.0" x2="65" y2="850.5" stroke="#000" stroke-width="1.8"/>
<line x1="64" y1="849.5" x2="227.45" y2="849.5" stroke="#000" stroke-width="1.8"/>
<line x1="60" y1="849.5" x2="65" y2="849.5" stroke="#000" stroke-width="1.5"/>
<line x1="62.5" y1="833.093865236313" x2="65" y2="833.093865236313" stroke="#000" stroke-width="1"/>
<line x1="62.5" y1="823.4968916177784" x2="65" y2="823.4968916177784" stroke="#000" stroke-width="1"/>
<line x1="62.5" y1="816.6877304726261" x2="65" y2="816.6877304726261" stroke="#000" stroke-width="1"/>
<line x1="62.5" y1="811.406134763687" x2="65" y2="811.406134763687" stroke="#000" stroke-width="1"/>
<line x1="62.5" y1="807.0907568540914" x2="65" y2="807.0907568540914" stroke="#000" stroke-width="1"/>
<line x1="62.5" y1="803.442156819223" x2="65" y2="803.442156819223" stroke="#000" stroke-width="1"/>
<line x1="62.5" y1="800.2815957089391" x2="65" y2="800.2815957089391" stroke="#000" stroke-width="1"/>
<line x1="62.5" y1="797.4937832355567" x2="65" y2="797.4937832355567" stroke="#000" stroke-width="1"/>
<line x1="60" y1="795.0" x2="65" y2="795.0" stroke="#000" stroke-width="1.5"/>
<line x1="62.5" y1="778.593865236313" x2="65" y2="778.593865236313" stroke="#000" stroke-width="1"/>
<line x1="62.5" y1="768.9968916177784" x2="65" y2="768.9968916177784" stroke="#000" stroke-width="1"/>
<line x1="62.5" y1="762.1877304726261" x2="65" y2="762.1877304726261" stroke="#000" stroke-width="1"/>
<line x1="62.5" y1="756.906134763687" x2="65" y2="756.906134763687" stroke="#000" stroke-width="1"/>
<line x1="62.5" y1="752.5907568540914" x2="65" y2="752.5907568540914" stroke="#000" stroke-width="1"/>
<line x1="62.5" y1="748.942156819223" x2="65" y2="748.942156819223" stroke="#000" stroke-width="1"/>
<line x1="62.5" y1="745.7815957089391" x2="65" y2="745.7815957089391" stroke="#000" stroke-width="1"/>
<line x1="62.5" y1="742.9937832355567" x2="65" y2="742.9937832355567" stroke="#000" stroke-width="1"/>
<line x1="60" y1="740.5" x2="65" y2="740.5" stroke="#000" stroke-width="1.5"/>
<line x1="62.5" y1="724.093865236313" x2="65" y2="724.093865236313" stroke="#000" stroke-width="1"/>
<line x1="62.5" y1="714.4968916177784" x2="65" y2="714.4968916177784" stroke="#000" stroke-width="1"/>
<line x1="62.5" y1="707.6877304726261" x2="65" y2="707.6877304726261" stroke="#000" stroke-width="1"/>
<line x1="62.5" y1="702.406134763687" x2="65" y2="702.406134763687" stroke="#000" stroke-width="1"/>
<line x1="62.5" y1="698.0907568540914" x2="65" y2="698.0907568540914" stroke="#000" stroke-width="1"/>
<line x1="62.5" y1="694.442156819223" x2="65" y2="694.442156819223" stroke="#000" stroke-width="1"/>
<line x1="62.5" y1="691.281595708939" x2="65" y2="691.281595708939" stroke="#000" stroke-width="1"/>
<line x1="62.5" y1="688.4937832355567" x2="65" y2="688.4937832355567" stroke="#000" stroke-width="1"/>
<line x1="60" y1="686.0" x2="65" y2="686.0" stroke="#000" stroke-width="1.5"/>
<text x="58.5" y="691.6" font-size="16" text-anchor="end" font-weight="normal" font-style="normal" fill="#111" >100</text>
<text x="58.5" y="746.1" font-size="16" text-anchor="end" font-weight="normal" font-style="normal" fill="#111" >10</text>
<text x="58.5" y="800.6" font-size="16" text-anchor="end" font-weight="normal" font-style="normal" fill="#111" >1</text>
<text x="58.5" y="855.1" font-size="16" text-anchor="end" font-weight="normal" font-style="normal" fill="#111" >0.1</text>
<line x1="65.0" y1="849.5" x2="65.0" y2="854.5" stroke="#000" stroke-width="1.5"/>
<text x="65.0" y="869.8" font-size="16" text-anchor="middle" font-weight="normal" font-style="normal" fill="#111" >0</text>
<line x1="97.49000000000001" y1="849.5" x2="97.49000000000001" y2="854.5" stroke="#000" stroke-width="1.5"/>
<text x="97.49000000000001" y="869.8" font-size="16" text-anchor="middle" font-weight="normal" font-style="normal" fill="#111" >3</text>
<line x1="129.98000000000002" y1="849.5" x2="129.98000000000002" y2="854.5" stroke="#000" stroke-width="1.5"/>
<text x="129.98000000000002" y="869.8" font-size="16" text-anchor="middle" font-weight="normal" font-style="normal" fill="#111" >6</text>
<line x1="162.47" y1="849.5" x2="162.47" y2="854.5" stroke="#000" stroke-width="1.5"/>
<text x="162.47" y="869.8" font-size="16" text-anchor="middle" font-weight="normal" font-style="normal" fill="#111" >9</text>
<line x1="194.96" y1="849.5" x2="194.96" y2="854.5" stroke="#000" stroke-width="1.5"/>
<text x="194.96" y="869.8" font-size="16" text-anchor="middle" font-weight="normal" font-style="normal" fill="#111" >12</text>
<line x1="227.45" y1="849.5" x2="227.45" y2="854.5" stroke="#000" stroke-width="1.5"/>
<text x="227.45" y="869.8" font-size="16" text-anchor="middle" font-weight="normal" font-style="normal" fill="#111" >15</text>
<text x="98" y="674.5" font-size="14" textLength="92" lengthAdjust="spacingAndGlyphs" fill="#111">ETP CX3CR1</text><text x="192" y="669" font-size="8" fill="#111">-</text>
<line x1="65.8" y1="692.7" x2="174.5" y2="849.5" stroke="#000" stroke-width="1.9"/>
<line x1="65" y1="704.4" x2="73.5" y2="704.4" stroke="#000" stroke-width="1"/><text x="55.6" y="709.6" font-size="14" font-weight="bold" font-style="italic" text-anchor="end" fill="#111">37</text><line x1="75.1" y1="711" x2="75.1" y2="725" stroke="#000" stroke-width="1.2"/>
<line x1="76.2" y1="712" x2="76.2" y2="849.5" stroke="#000" stroke-width="1.5" stroke-dasharray="5,2.6"/>
<rect x="64.2" y="687.3" width="5.4" height="5.4" fill="#000"/>
<rect x="72.39999999999999" y="715.5" width="5.4" height="5.4" fill="#000"/>
<rect x="115.8" y="758.8" width="5.4" height="5.4" fill="#000"/>
<text x="87.5" y="836" font-size="15" text-anchor="start" font-weight="normal" font-style="normal" fill="#111" >1:1</text>
<line x1="287.7" y1="686.0" x2="287.7" y2="850.5" stroke="#000" stroke-width="1.8"/>
<line x1="286.7" y1="849.5" x2="451.05" y2="849.5" stroke="#000" stroke-width="1.8"/>
<line x1="282.7" y1="849.5" x2="287.7" y2="849.5" stroke="#000" stroke-width="1.5"/>
<line x1="285.2" y1="833.093865236313" x2="287.7" y2="833.093865236313" stroke="#000" stroke-width="1"/>
<line x1="285.2" y1="823.4968916177784" x2="287.7" y2="823.4968916177784" stroke="#000" stroke-width="1"/>
<line x1="285.2" y1="816.6877304726261" x2="287.7" y2="816.6877304726261" stroke="#000" stroke-width="1"/>
<line x1="285.2" y1="811.406134763687" x2="287.7" y2="811.406134763687" stroke="#000" stroke-width="1"/>
<line x1="285.2" y1="807.0907568540914" x2="287.7" y2="807.0907568540914" stroke="#000" stroke-width="1"/>
<line x1="285.2" y1="803.442156819223" x2="287.7" y2="803.442156819223" stroke="#000" stroke-width="1"/>
<line x1="285.2" y1="800.2815957089391" x2="287.7" y2="800.2815957089391" stroke="#000" stroke-width="1"/>
<line x1="285.2" y1="797.4937832355567" x2="287.7" y2="797.4937832355567" stroke="#000" stroke-width="1"/>
<line x1="282.7" y1="795.0" x2="287.7" y2="795.0" stroke="#000" stroke-width="1.5"/>
<line x1="285.2" y1="778.593865236313" x2="287.7" y2="778.593865236313" stroke="#000" stroke-width="1"/>
<line x1="285.2" y1="768.9968916177784" x2="287.7" y2="768.9968916177784" stroke="#000" stroke-width="1"/>
<line x1="285.2" y1="762.1877304726261" x2="287.7" y2="762.1877304726261" stroke="#000" stroke-width="1"/>
<line x1="285.2" y1="756.906134763687" x2="287.7" y2="756.906134763687" stroke="#000" stroke-width="1"/>
<line x1="285.2" y1="752.5907568540914" x2="287.7" y2="752.5907568540914" stroke="#000" stroke-width="1"/>
<line x1="285.2" y1="748.942156819223" x2="287.7" y2="748.942156819223" stroke="#000" stroke-width="1"/>
<line x1="285.2" y1="745.7815957089391" x2="287.7" y2="745.7815957089391" stroke="#000" stroke-width="1"/>
<line x1="285.2" y1="742.9937832355567" x2="287.7" y2="742.9937832355567" stroke="#000" stroke-width="1"/>
<line x1="282.7" y1="740.5" x2="287.7" y2="740.5" stroke="#000" stroke-width="1.5"/>
<line x1="285.2" y1="724.093865236313" x2="287.7" y2="724.093865236313" stroke="#000" stroke-width="1"/>
<line x1="285.2" y1="714.4968916177784" x2="287.7" y2="714.4968916177784" stroke="#000" stroke-width="1"/>
<line x1="285.2" y1="707.6877304726261" x2="287.7" y2="707.6877304726261" stroke="#000" stroke-width="1"/>
<line x1="285.2" y1="702.406134763687" x2="287.7" y2="702.406134763687" stroke="#000" stroke-width="1"/>
<line x1="285.2" y1="698.0907568540914" x2="287.7" y2="698.0907568540914" stroke="#000" stroke-width="1"/>
<line x1="285.2" y1="694.442156819223" x2="287.7" y2="694.442156819223" stroke="#000" stroke-width="1"/>
<line x1="285.2" y1="691.281595708939" x2="287.7" y2="691.281595708939" stroke="#000" stroke-width="1"/>
<line x1="285.2" y1="688.4937832355567" x2="287.7" y2="688.4937832355567" stroke="#000" stroke-width="1"/>
<line x1="282.7" y1="686.0" x2="287.7" y2="686.0" stroke="#000" stroke-width="1.5"/>
<text x="281.2" y="691.6" font-size="16" text-anchor="end" font-weight="normal" font-style="normal" fill="#111" >100</text>
<text x="281.2" y="746.1" font-size="16" text-anchor="end" font-weight="normal" font-style="normal" fill="#111" >10</text>
<text x="281.2" y="800.6" font-size="16" text-anchor="end" font-weight="normal" font-style="normal" fill="#111" >1</text>
<text x="281.2" y="855.1" font-size="16" text-anchor="end" font-weight="normal" font-style="normal" fill="#111" >0.1</text>
<line x1="287.7" y1="849.5" x2="287.7" y2="854.5" stroke="#000" stroke-width="1.5"/>
<text x="287.7" y="869.8" font-size="16" text-anchor="middle" font-weight="normal" font-style="normal" fill="#111" >0</text>
<line x1="320.37" y1="849.5" x2="320.37" y2="854.5" stroke="#000" stroke-width="1.5"/>
<text x="320.37" y="869.8" font-size="16" text-anchor="middle" font-weight="normal" font-style="normal" fill="#111" >3</text>
<line x1="353.03999999999996" y1="849.5" x2="353.03999999999996" y2="854.5" stroke="#000" stroke-width="1.5"/>
<text x="353.03999999999996" y="869.8" font-size="16" text-anchor="middle" font-weight="normal" font-style="normal" fill="#111" >6</text>
<line x1="385.71" y1="849.5" x2="385.71" y2="854.5" stroke="#000" stroke-width="1.5"/>
<text x="385.71" y="869.8" font-size="16" text-anchor="middle" font-weight="normal" font-style="normal" fill="#111" >9</text>
<line x1="418.38" y1="849.5" x2="418.38" y2="854.5" stroke="#000" stroke-width="1.5"/>
<text x="418.38" y="869.8" font-size="16" text-anchor="middle" font-weight="normal" font-style="normal" fill="#111" >12</text>
<line x1="451.05" y1="849.5" x2="451.05" y2="854.5" stroke="#000" stroke-width="1.5"/>
<text x="451.05" y="869.8" font-size="16" text-anchor="middle" font-weight="normal" font-style="normal" fill="#111" >15</text>
<text x="323" y="674.5" font-size="14" textLength="92" lengthAdjust="spacingAndGlyphs" fill="#111">ETP CX3CR1</text><text x="417" y="669" font-size="8" fill="#111">+</text>
<line x1="288.7" y1="691" x2="443.5" y2="849.5" stroke="#000" stroke-width="1.9"/>
<line x1="274.2" y1="705.2" x2="287.7" y2="705.2" stroke="#000" stroke-width="1"/><text x="265.6" y="710.2" font-size="14" font-weight="bold" font-style="italic" text-anchor="end" fill="#111">37</text>
<line x1="304" y1="706" x2="304" y2="849.5" stroke="#000" stroke-width="1.5" stroke-dasharray="5,2.6"/>
<rect x="287.3" y="686.3" width="5.4" height="5.4" fill="#000"/>
<rect x="296.3" y="695.0" width="5.4" height="5.4" fill="#000"/>
<rect x="338.8" y="750.3" width="5.4" height="5.4" fill="#000"/>
<text x="307.5" y="836" font-size="15" text-anchor="start" font-weight="normal" font-style="normal" fill="#111" >1:2</text>
<text transform="translate(28.5,765.8) rotate(-90)" font-size="15.3" text-anchor="middle" fill="#111">empty wells [%]</text>
<text x="167" y="896" font-size="15.4" text-anchor="start" font-weight="normal" font-style="normal" fill="#111" >initial number of cells/well</text>
</svg>
</body></html>
